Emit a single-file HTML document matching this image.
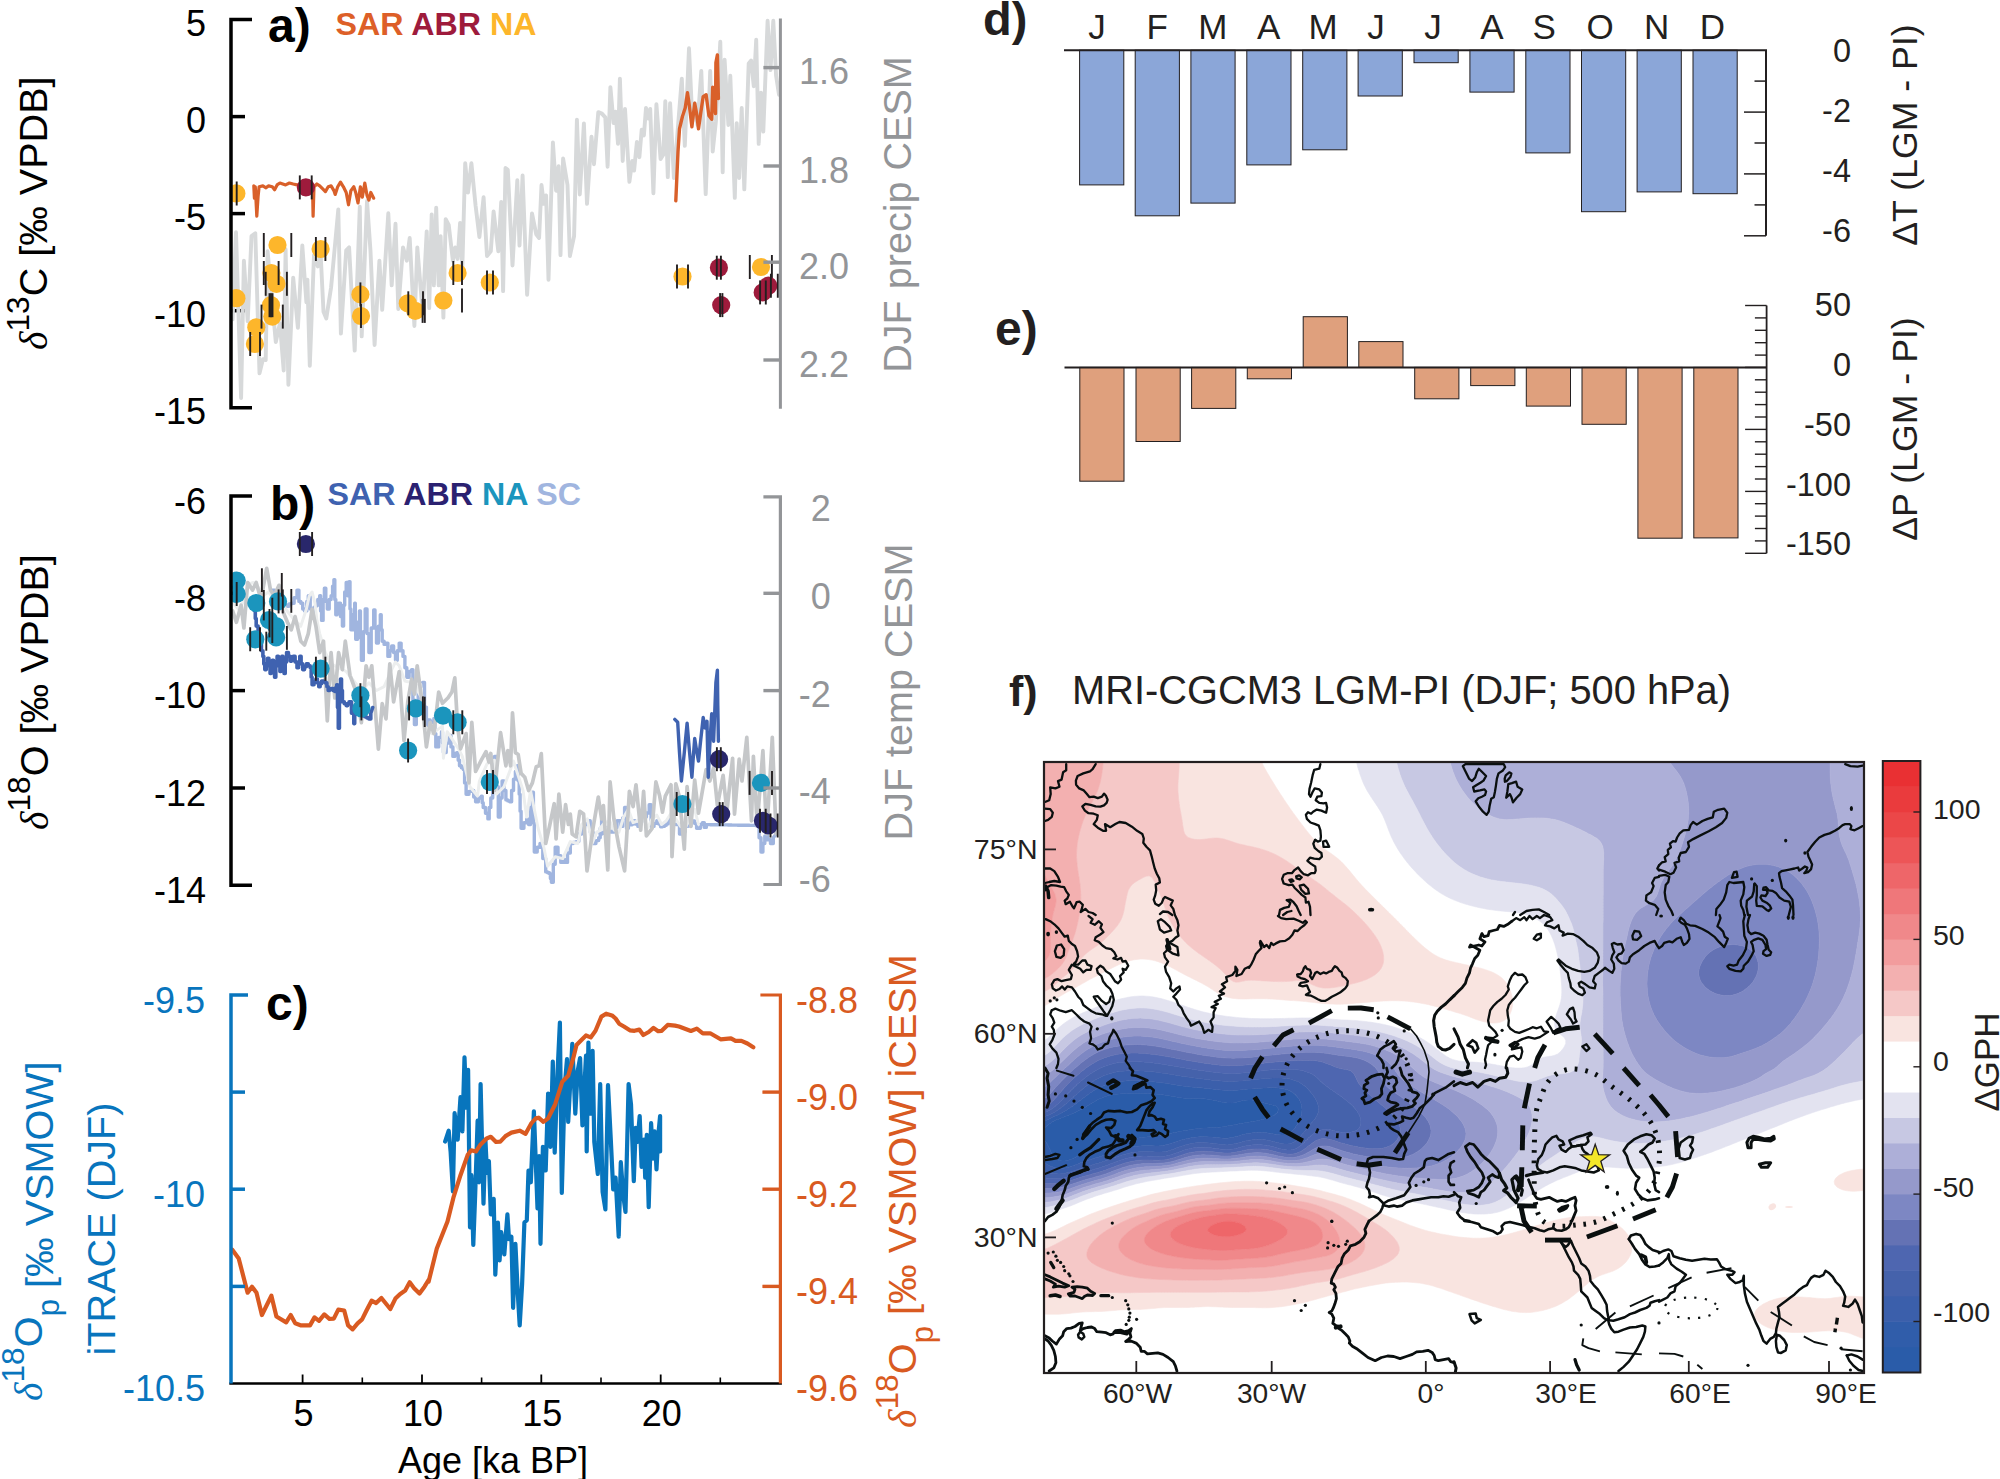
<!DOCTYPE html>
<html lang="en"><head><meta charset="utf-8"><title>Figure</title>
<style>
html,body{margin:0;padding:0;background:#fff;}
body{width:2000px;height:1479px;overflow:hidden;}
svg{display:block;}
text{white-space:pre;}
</style></head>
<body>
<svg width="2000" height="1479" viewBox="0 0 2000 1479">
<rect width="2000" height="1479" fill="#fff"/>
<g id="panel-a">
<clipPath id="clipA"><rect x="232.2" y="0" width="549.9" height="440"/></clipPath>
<line x1="231.0" y1="116.6" x2="245.0" y2="116.6" stroke="#000" stroke-width="3.5" stroke-linecap="butt"/>
<line x1="231.0" y1="213.6" x2="245.0" y2="213.6" stroke="#000" stroke-width="3.5" stroke-linecap="butt"/>
<line x1="231.0" y1="310.7" x2="245.0" y2="310.7" stroke="#000" stroke-width="3.5" stroke-linecap="butt"/>
<g clip-path="url(#clipA)">
<polyline points="232.6,319.4 236.0,232.3 241.1,398.0 243.9,260.7 247.7,321.3 251.5,236.1 255.3,233.2 259.5,373.4 262.9,359.2 265.7,360.1 267.6,251.2 275.8,342.1 279.9,323.2 283.7,370.5 285.6,249.3 288.4,384.7 293.2,277.7 297.9,327.9 302.3,245.5 306.4,302.3 307.4,279.6 309.8,365.8 314.0,255.0 317.8,266.4 320.6,253.1 323.5,311.8 326.3,318.4 331.1,287.2 338.3,209.5 340.9,333.6 346.2,250.3 349.1,247.4 354.7,350.6 359.8,206.7 361.7,336.4 367.0,201.0 370.5,251.2 374.6,345.0 379.4,260.7 382.2,309.9 388.3,213.3 391.7,285.3 395.5,223.8 398.3,309.0 403.0,247.4 406.8,260.7 409.7,238.0 414.4,326.0 417.3,247.5 422.6,311.9 426.7,231.4 429.2,308.1 431.7,214.4 433.9,285.4 436.2,207.7 438.7,285.4 440.6,236.1 443.4,317.6 445.7,219.1 448.7,224.8 452.9,260.8 455.2,247.5 457.6,258.9 460.1,222.9 462.3,268.3 465.2,163.2 468.0,192.6 471.4,163.2 475.6,205.8 479.4,237.1 483.6,197.3 487.0,256.0 490.8,251.3 493.6,211.5 498.3,251.3 501.2,202.0 503.1,291.1 505.5,168.0 507.8,169.8 512.5,265.5 517.3,180.3 519.5,245.6 522.6,175.5 527.1,294.8 532.0,213.4 536.2,234.2 539.1,238.0 541.5,185.0 543.8,203.9 546.1,195.4 548.5,279.7 552.9,142.4 556.1,190.7 558.6,166.1 560.5,255.1 563.1,158.5 567.5,185.0 569.9,256.0 574.1,236.1 576.9,119.7 579.8,194.5 583.9,123.4 587.0,203.9 591.5,136.7 594.0,164.2 598.3,112.1 601.9,113.6 605.3,117.4 607.6,166.7 610.4,87.1 613.6,123.1 615.5,111.7 618.0,143.9 619.9,78.6 622.7,161.0 625.0,108.9 629.4,181.8 632.2,161.0 634.1,170.5 636.9,142.0 639.4,157.2 641.7,129.7 643.9,135.4 646.0,108.0 648.3,118.4 650.2,108.9 653.4,193.2 656.4,104.2 660.6,159.1 663.4,154.4 665.3,101.3 667.8,177.1 670.1,103.2 673.9,178.0 681.8,78.6 684.8,145.8 689.0,48.3 692.4,121.2 694.7,103.2 697.5,125.0 701.3,71.0 705.7,194.1 710.2,71.0 712.7,151.5 715.9,121.2 720.3,41.7 722.7,172.3 724.6,59.7 728.4,125.0 730.3,75.8 734.8,197.9 736.7,123.1 739.2,178.0 741.7,108.0 744.3,189.4 748.7,63.4 751.1,60.6 753.8,86.2 756.2,39.8 758.7,143.9 761.0,92.8 763.3,131.6 767.6,20.8 770.5,70.1 773.3,20.8 776.1,75.8 779.0,94.7" fill="none" stroke="#d7d9da" stroke-width="3.9" stroke-linejoin="round" stroke-linecap="round" />
<polyline points="253.8,185.9 254.4,198.2 255.3,186.8 256.8,216.2 258.1,196.3 259.1,186.8 262.9,185.9 265.7,187.8 268.6,185.9 272.3,186.8 274.6,189.7 277.1,184.9 279.9,183.0 282.8,184.0 285.6,184.9 289.4,183.0 293.2,184.0 297.0,184.9 300.8,185.9 306.4,185.9 311.2,184.9 312.5,186.8 313.1,216.2 314.0,186.8 316.9,184.0 319.7,185.9 322.5,188.7 325.4,191.6 328.2,186.8 331.1,185.9 333.9,190.6 335.2,194.4 337.7,186.8 340.5,182.1 343.4,186.8 346.2,192.5 348.5,204.8 350.9,190.6 353.8,186.8 355.7,192.5 358.0,202.9 360.4,186.8 362.3,197.2 364.8,183.0 367.0,195.3 368.9,200.1 370.8,192.5 373.7,198.2" fill="none" stroke="#d9602a" stroke-width="3.2" stroke-linejoin="round" stroke-linecap="round" />
<polyline points="675.8,200.8 676.9,176.1 678.0,151.5 679.5,128.8 682.4,116.5 685.2,108.0 687.5,92.8 689.4,106.1 691.9,126.9 694.7,103.2 696.6,113.6 698.5,128.8 700.9,111.7 703.2,96.6 706.1,94.7 707.6,106.1 708.9,115.5 711.7,119.3 712.7,87.1 714.2,102.3 715.5,113.6 715.9,62.5 717.4,54.9 718.4,98.5" fill="none" stroke="#d9602a" stroke-width="3.4" stroke-linejoin="round" stroke-linecap="round" />
<circle cx="236.4" cy="193.4" r="9.1" fill="#fdb62b"/>
<circle cx="277.5" cy="245.0" r="9.1" fill="#fdb62b"/>
<circle cx="320.6" cy="249.0" r="9.1" fill="#fdb62b"/>
<circle cx="271.4" cy="273.0" r="9.1" fill="#fdb62b"/>
<circle cx="276.5" cy="283.8" r="9.1" fill="#fdb62b"/>
<circle cx="236.4" cy="298.2" r="9.1" fill="#fdb62b"/>
<circle cx="271.0" cy="305.2" r="9.1" fill="#fdb62b"/>
<circle cx="272.3" cy="316.6" r="9.1" fill="#fdb62b"/>
<circle cx="256.3" cy="327.3" r="9.1" fill="#fdb62b"/>
<circle cx="254.9" cy="344.0" r="9.1" fill="#fdb62b"/>
<circle cx="360.4" cy="294.4" r="9.1" fill="#fdb62b"/>
<circle cx="361.0" cy="316.0" r="9.1" fill="#fdb62b"/>
<circle cx="407.8" cy="303.3" r="9.1" fill="#fdb62b"/>
<circle cx="415.3" cy="310.9" r="9.1" fill="#fdb62b"/>
<circle cx="443.4" cy="300.5" r="9.1" fill="#fdb62b"/>
<circle cx="457.6" cy="273.0" r="9.1" fill="#fdb62b"/>
<circle cx="489.8" cy="282.5" r="9.1" fill="#fdb62b"/>
<circle cx="682.5" cy="276.5" r="9.1" fill="#fdb62b"/>
<circle cx="761.0" cy="267.0" r="9.1" fill="#fdb62b"/>
<line x1="236.7" y1="181.4" x2="236.7" y2="205.4" stroke="#231f20" stroke-width="1.9" stroke-linecap="butt"/>
<line x1="263.8" y1="233.0" x2="263.8" y2="257.0" stroke="#231f20" stroke-width="1.9" stroke-linecap="butt"/>
<line x1="291.3" y1="233.0" x2="291.3" y2="257.0" stroke="#231f20" stroke-width="1.9" stroke-linecap="butt"/>
<line x1="315.9" y1="237.0" x2="315.9" y2="261.0" stroke="#231f20" stroke-width="1.9" stroke-linecap="butt"/>
<line x1="325.4" y1="237.0" x2="325.4" y2="261.0" stroke="#231f20" stroke-width="1.9" stroke-linecap="butt"/>
<line x1="263.8" y1="261.0" x2="263.8" y2="285.0" stroke="#231f20" stroke-width="1.9" stroke-linecap="butt"/>
<line x1="278.6" y1="261.0" x2="278.6" y2="285.0" stroke="#231f20" stroke-width="1.9" stroke-linecap="butt"/>
<line x1="265.7" y1="271.8" x2="265.7" y2="295.8" stroke="#231f20" stroke-width="1.9" stroke-linecap="butt"/>
<line x1="286.9" y1="271.8" x2="286.9" y2="295.8" stroke="#231f20" stroke-width="1.9" stroke-linecap="butt"/>
<line x1="269.5" y1="293.2" x2="269.5" y2="317.2" stroke="#231f20" stroke-width="1.9" stroke-linecap="butt"/>
<line x1="271.0" y1="293.2" x2="271.0" y2="317.2" stroke="#231f20" stroke-width="1.9" stroke-linecap="butt"/>
<line x1="272.5" y1="293.2" x2="272.5" y2="317.2" stroke="#231f20" stroke-width="1.9" stroke-linecap="butt"/>
<line x1="261.5" y1="304.6" x2="261.5" y2="328.6" stroke="#231f20" stroke-width="1.9" stroke-linecap="butt"/>
<line x1="282.8" y1="304.6" x2="282.8" y2="328.6" stroke="#231f20" stroke-width="1.9" stroke-linecap="butt"/>
<line x1="250.2" y1="332.0" x2="250.2" y2="356.0" stroke="#231f20" stroke-width="1.9" stroke-linecap="butt"/>
<line x1="260.0" y1="332.0" x2="260.0" y2="356.0" stroke="#231f20" stroke-width="1.9" stroke-linecap="butt"/>
<line x1="360.4" y1="282.4" x2="360.4" y2="306.4" stroke="#231f20" stroke-width="1.9" stroke-linecap="butt"/>
<line x1="361.0" y1="304.0" x2="361.0" y2="328.0" stroke="#231f20" stroke-width="1.9" stroke-linecap="butt"/>
<line x1="408.3" y1="291.3" x2="408.3" y2="315.3" stroke="#231f20" stroke-width="1.9" stroke-linecap="butt"/>
<line x1="423.0" y1="291.3" x2="423.0" y2="315.3" stroke="#231f20" stroke-width="1.9" stroke-linecap="butt"/>
<line x1="422.6" y1="298.9" x2="422.6" y2="322.9" stroke="#231f20" stroke-width="1.9" stroke-linecap="butt"/>
<line x1="424.8" y1="298.9" x2="424.8" y2="322.9" stroke="#231f20" stroke-width="1.9" stroke-linecap="butt"/>
<line x1="462.0" y1="288.5" x2="462.0" y2="312.5" stroke="#231f20" stroke-width="1.9" stroke-linecap="butt"/>
<line x1="453.3" y1="261.0" x2="453.3" y2="285.0" stroke="#231f20" stroke-width="1.9" stroke-linecap="butt"/>
<line x1="462.0" y1="261.0" x2="462.0" y2="285.0" stroke="#231f20" stroke-width="1.9" stroke-linecap="butt"/>
<line x1="487.0" y1="270.5" x2="487.0" y2="294.5" stroke="#231f20" stroke-width="1.9" stroke-linecap="butt"/>
<line x1="493.0" y1="270.5" x2="493.0" y2="294.5" stroke="#231f20" stroke-width="1.9" stroke-linecap="butt"/>
<line x1="677.0" y1="264.5" x2="677.0" y2="288.5" stroke="#231f20" stroke-width="1.9" stroke-linecap="butt"/>
<line x1="688.0" y1="264.5" x2="688.0" y2="288.5" stroke="#231f20" stroke-width="1.9" stroke-linecap="butt"/>
<line x1="749.8" y1="255.0" x2="749.8" y2="279.0" stroke="#231f20" stroke-width="1.9" stroke-linecap="butt"/>
<line x1="771.9" y1="255.0" x2="771.9" y2="279.0" stroke="#231f20" stroke-width="1.9" stroke-linecap="butt"/>
<circle cx="305.9" cy="187.4" r="9.1" fill="#9e1b3c"/>
<circle cx="718.9" cy="267.7" r="9.1" fill="#9e1b3c"/>
<circle cx="721.2" cy="305.1" r="9.1" fill="#9e1b3c"/>
<circle cx="768.3" cy="285.7" r="9.1" fill="#9e1b3c"/>
<circle cx="762.7" cy="292.4" r="9.1" fill="#9e1b3c"/>
<line x1="299.8" y1="175.4" x2="299.8" y2="199.4" stroke="#231f20" stroke-width="1.9" stroke-linecap="butt"/>
<line x1="311.7" y1="175.4" x2="311.7" y2="199.4" stroke="#231f20" stroke-width="1.9" stroke-linecap="butt"/>
<line x1="716.8" y1="255.7" x2="716.8" y2="279.7" stroke="#231f20" stroke-width="1.9" stroke-linecap="butt"/>
<line x1="720.9" y1="255.7" x2="720.9" y2="279.7" stroke="#231f20" stroke-width="1.9" stroke-linecap="butt"/>
<line x1="720.1" y1="293.1" x2="720.1" y2="317.1" stroke="#231f20" stroke-width="1.9" stroke-linecap="butt"/>
<line x1="722.4" y1="293.1" x2="722.4" y2="317.1" stroke="#231f20" stroke-width="1.9" stroke-linecap="butt"/>
<line x1="770.9" y1="273.7" x2="770.9" y2="297.7" stroke="#231f20" stroke-width="1.9" stroke-linecap="butt"/>
<line x1="777.8" y1="273.7" x2="777.8" y2="297.7" stroke="#231f20" stroke-width="1.9" stroke-linecap="butt"/>
<line x1="760.1" y1="280.4" x2="760.1" y2="304.4" stroke="#231f20" stroke-width="1.9" stroke-linecap="butt"/>
<line x1="765.8" y1="280.4" x2="765.8" y2="304.4" stroke="#231f20" stroke-width="1.9" stroke-linecap="butt"/>
</g>
<path d="M252.0,19.6 H231.0 V407.7 H252.0" fill="none" stroke="#000" stroke-width="3.5"/>
<text x="206.0" y="36.1" font-family='"Liberation Sans", sans-serif' font-size="36" fill="#000" text-anchor="end" font-weight="normal" >5</text>
<text x="206.0" y="133.1" font-family='"Liberation Sans", sans-serif' font-size="36" fill="#000" text-anchor="end" font-weight="normal" >0</text>
<text x="206.0" y="230.1" font-family='"Liberation Sans", sans-serif' font-size="36" fill="#000" text-anchor="end" font-weight="normal" >-5</text>
<text x="206.0" y="327.2" font-family='"Liberation Sans", sans-serif' font-size="36" fill="#000" text-anchor="end" font-weight="normal" >-10</text>
<text x="206.0" y="424.2" font-family='"Liberation Sans", sans-serif' font-size="36" fill="#000" text-anchor="end" font-weight="normal" >-15</text>
<line x1="780.4" y1="18.6" x2="780.4" y2="408.7" stroke="#939598" stroke-width="3.0" stroke-linecap="butt"/>
<line x1="763.4" y1="67.6" x2="780.4" y2="67.6" stroke="#939598" stroke-width="3.4" stroke-linecap="butt"/>
<text x="799.0" y="84.1" font-family='"Liberation Sans", sans-serif' font-size="36" fill="#939598" text-anchor="start" font-weight="normal" >1.6</text>
<line x1="763.4" y1="166.0" x2="780.4" y2="166.0" stroke="#939598" stroke-width="3.4" stroke-linecap="butt"/>
<text x="799.0" y="182.5" font-family='"Liberation Sans", sans-serif' font-size="36" fill="#939598" text-anchor="start" font-weight="normal" >1.8</text>
<line x1="763.4" y1="262.2" x2="780.4" y2="262.2" stroke="#939598" stroke-width="3.4" stroke-linecap="butt"/>
<text x="799.0" y="278.7" font-family='"Liberation Sans", sans-serif' font-size="36" fill="#939598" text-anchor="start" font-weight="normal" >2.0</text>
<line x1="763.4" y1="360.0" x2="780.4" y2="360.0" stroke="#939598" stroke-width="3.4" stroke-linecap="butt"/>
<text x="799.0" y="376.5" font-family='"Liberation Sans", sans-serif' font-size="36" fill="#939598" text-anchor="start" font-weight="normal" >2.2</text>
<text transform="translate(910.8,214.5) rotate(-90)" font-family='"Liberation Sans", sans-serif' font-size="39.6" fill="#939598" text-anchor="middle" font-weight="normal">DJF precip CESM</text>
<text transform="translate(46.5,350.0) rotate(-90)" font-family='"Liberation Sans", sans-serif' font-size="39.6" fill="#000"><tspan font-family='"Liberation Serif", serif' font-style="italic" font-size="39.6">δ</tspan><tspan font-size="31.7" dy="-18">13</tspan><tspan dy="18">C</tspan><tspan> [‰ VPDB]</tspan></text>
<text x="268.0" y="41.5" font-family='"Liberation Sans", sans-serif' font-size="48" fill="#000" text-anchor="start" font-weight="bold" >a)</text>
<text x="335.5" y="34.8" font-family='"Liberation Sans", sans-serif' font-size="32.2" fill="#000" text-anchor="start" font-weight="bold" ><tspan fill="#dd5f28">SAR</tspan> <tspan fill="#9e1b3c">ABR</tspan> <tspan fill="#fdb62b">NA</tspan></text>
</g>
<g id="panel-b">
<clipPath id="clipB"><rect x="232.2" y="470" width="549.9" height="440"/></clipPath>
<line x1="231.0" y1="593.3" x2="245.0" y2="593.3" stroke="#000" stroke-width="3.5" stroke-linecap="butt"/>
<line x1="231.0" y1="690.6" x2="245.0" y2="690.6" stroke="#000" stroke-width="3.5" stroke-linecap="butt"/>
<line x1="231.0" y1="788.0" x2="245.0" y2="788.0" stroke="#000" stroke-width="3.5" stroke-linecap="butt"/>
<g clip-path="url(#clipB)">
<polyline points="271.4,590.1 274.6,590.1 274.6,597.7 278.0,597.7 278.0,599.5 279.9,599.5 279.9,599.8 281.8,599.8 281.8,603.3 284.2,603.3 284.2,605.0 286.6,605.0 286.6,606.2 289.0,606.2 289.0,604.0 291.3,604.0 291.3,603.3 294.1,603.3 294.1,597.7 297.0,597.7 297.0,590.1 298.9,590.1 298.9,601.4 300.8,601.4 300.8,603.3 302.7,603.3 302.7,609.0 304.5,609.0 304.5,610.9 306.8,610.9 306.8,601.4 308.3,601.4 308.3,595.8 310.2,595.8 310.2,609.0 312.1,609.0 312.1,614.7 314.0,614.7 314.0,607.1 315.9,607.1 315.9,605.2 317.8,605.2 317.8,599.5 319.7,599.5 319.7,595.8 320.6,595.8 320.6,610.9 321.6,610.9 321.6,620.4 323.1,620.4 323.1,599.5 324.4,599.5 324.4,588.2 325.8,588.2 325.8,601.4 327.3,601.4 327.3,609.0 329.2,609.0 329.2,599.5 331.1,599.5 331.1,595.8 332.6,595.8 332.6,586.3 333.9,586.3 333.9,579.7 334.8,579.7 334.8,599.5 335.8,599.5 335.8,614.7 337.1,614.7 337.1,605.2 338.6,605.2 338.6,603.3 340.5,603.3 340.5,616.6 342.4,616.6 342.4,626.1 343.6,626.1 343.6,605.2 344.7,605.2 344.7,592.0 346.2,592.0 346.2,582.5 347.7,582.5 347.7,595.8 349.1,595.8 349.1,581.6 350.0,581.6 350.0,609.0 350.9,609.0 350.9,629.8 352.8,629.8 352.8,614.7 354.7,614.7 354.7,603.3 355.3,603.3 355.3,626.1 355.7,626.1 355.7,639.3 357.6,639.3 357.6,622.3 359.5,622.3 359.5,610.9 360.4,610.9 360.4,637.4 361.4,637.4 361.4,660.2 363.3,660.2 363.3,631.7 365.2,631.7 365.2,609.0 367.0,609.0 367.0,633.6 368.9,633.6 368.9,652.6 371.2,652.6 371.2,628.0 373.7,628.0 373.7,610.0 375.0,610.0 375.0,628.0 376.5,628.0 376.5,643.1 378.4,643.1 378.4,626.1 380.3,626.1 380.3,614.7 381.2,614.7 381.2,629.8 382.2,629.8 382.2,641.2 384.1,641.2 384.1,644.4 386.0,644.4 386.0,643.1 387.9,643.1 387.9,656.4 389.8,656.4 389.8,650.7 391.7,650.7 391.7,645.9 393.6,645.9 393.6,652.6 395.5,652.6 395.5,660.2 397.3,660.2 397.3,650.7 399.2,650.7 399.2,643.1 401.1,643.1 401.1,650.7 403.0,650.7 403.0,656.4 404.9,656.4 404.9,667.7 406.8,667.7 406.8,677.2 409.1,677.2 409.1,671.5 411.6,671.5 411.6,669.6 412.9,669.6 412.9,699.9 414.4,699.9 414.4,724.5 416.3,724.5 416.3,701.8 418.2,701.8 418.2,686.7 420.4,686.7 420.4,686.1 422.6,686.1 422.6,682.5 424.5,682.5 424.5,707.1 426.4,707.1 426.4,728.0 428.3,728.0 428.3,719.9 430.2,719.9 430.2,722.3 433.9,722.3 433.9,718.5 434.9,718.5 434.9,733.6 435.8,733.6 435.8,746.9 438.7,746.9 438.7,737.4 441.5,737.4 441.5,731.7 442.5,731.7 442.5,743.1 443.4,743.1 443.4,752.6 446.2,752.6 446.2,743.1 449.1,743.1 449.1,735.5 451.0,735.5 451.0,746.9 452.9,746.9 452.9,756.4 454.8,756.4 454.8,753.5 456.7,753.5 456.7,752.6 458.2,752.6 458.2,760.2 459.5,760.2 459.5,765.8 461.4,765.8 461.4,767.7 463.3,767.7 463.3,769.6 464.6,769.6 464.6,782.9 466.1,782.9 466.1,794.2 469.0,794.2 469.0,791.4 471.8,791.4 471.8,790.5 473.7,790.5 473.7,797.1 475.6,797.1 475.6,801.8 478.4,801.8 478.4,798.0 481.3,798.0 481.3,796.1 482.2,796.1 482.2,802.8 483.2,802.8 483.2,807.5 485.5,807.5 485.5,813.2 487.9,813.2 487.9,818.9 489.2,818.9 489.2,807.5 490.8,807.5 490.8,798.0 492.7,798.0 492.7,777.2 494.5,777.2 494.5,756.4 496.4,756.4 496.4,786.7 498.3,786.7 498.3,817.0 500.2,817.0 500.2,798.0 502.1,798.0 502.1,781.0 504.0,781.0 504.0,790.5 505.9,790.5 505.9,799.9 507.8,799.9 507.8,800.9 509.7,800.9 509.7,801.8 511.6,801.8 511.6,790.5 513.5,790.5 513.5,779.1 515.4,779.1 515.4,771.5 517.3,771.5 517.3,765.8 518.2,765.8 518.2,781.0 519.2,781.0 519.2,794.2 520.1,794.2 520.1,811.3 521.1,811.3 521.1,828.3 523.9,828.3 523.9,822.7 526.7,822.7 526.7,818.9 527.7,818.9 527.7,822.7 528.6,822.7 528.6,824.5 530.5,824.5 530.5,807.5 532.4,807.5 532.4,792.3 533.4,792.3 533.4,822.7 534.3,822.7 534.3,852.0 537.2,852.0 537.2,847.3 540.0,847.3 540.0,843.5 542.8,843.5 542.8,858.6 545.7,858.6 545.7,871.9 547.6,871.9 547.6,872.8 549.5,872.8 549.5,873.8 550.4,873.8 550.4,878.5 551.4,878.5 551.4,882.3 553.3,882.3 553.3,864.3 555.2,864.3 555.2,847.3 558.0,847.3 558.0,855.8 560.8,855.8 560.8,862.4 562.7,862.4 562.7,859.5 564.6,859.5 564.6,862.4 567.5,862.4 567.5,853.0 570.3,853.0 570.3,843.5 573.1,843.5 573.1,842.5 576.0,842.5 576.0,841.6 578.8,841.6 578.8,834.0 581.7,834.0 581.7,828.3 584.5,828.3 584.5,824.5 587.3,824.5 587.3,820.8 590.2,820.8 590.2,832.1 593.0,832.1 593.0,843.5 595.9,843.5 595.9,840.6 598.7,840.6 598.7,837.8 600.2,837.8 600.2,828.3 601.6,828.3 601.6,818.9 602.9,818.9 602.9,826.4 604.4,826.4 604.4,832.1 606.3,832.1 606.3,833.5 608.2,833.5 608.2,829.4 610.1,829.4 610.1,830.2 612.5,830.2 612.5,827.7 615.0,827.7 615.0,828.3 612.9,828.3 612.9,832.1 610.7,832.1 610.7,829.8 608.6,829.8 608.6,832.8 606.4,832.8 606.4,831.4 604.3,831.4 604.3,833.2 602.1,833.2 602.1,831.1 600.0,831.1 600.0,834.0 601.9,834.0 601.9,832.9 603.8,832.9 603.8,832.4 605.7,832.4 605.7,828.3 608.5,828.3 608.5,830.3 611.4,830.3 611.4,832.1 614.2,832.1 614.2,827.9 617.0,827.9 617.0,820.8 620.8,820.8 620.8,826.4 622.7,826.4 622.7,818.0 624.6,818.0 624.6,807.5 626.5,807.5 626.5,828.3 628.4,828.3 628.4,823.2 630.3,823.2 630.3,824.8 632.2,824.8 632.2,820.8 635.0,820.8 635.0,824.1 637.9,824.1 637.9,826.4 639.8,826.4 639.8,822.1 641.7,822.1 641.7,817.3 643.6,817.3 643.6,817.0 646.4,817.0 646.4,813.0 649.2,813.0 649.2,804.7 651.1,804.7 651.1,826.4 654.0,826.4 654.0,823.4 656.8,823.4 656.8,820.8 658.7,820.8 658.7,824.0 660.6,824.0 660.6,826.8 662.5,826.8 662.5,826.4 664.4,826.4 664.4,825.2 666.3,825.2 666.3,823.9 668.2,823.9 668.2,818.9 670.7,818.9 670.7,820.1 673.3,820.1 673.3,824.4 675.8,824.4 675.8,824.5 679.5,824.5 679.5,834.0 681.4,834.0 681.4,831.1 683.3,831.1 683.3,831.5 685.2,831.5 685.2,826.4 688.0,826.4 688.0,825.9 690.9,825.9 690.9,820.8 692.8,820.8 692.8,820.9 694.7,820.9 694.7,823.6 696.6,823.6 696.6,828.3 698.5,828.3 698.5,828.3 700.4,828.3 700.4,824.5 702.4,824.5 702.4,822.8 704.3,822.8 704.3,827.4 706.3,827.4 706.3,824.6 708.2,824.6 708.2,824.6 710.2,824.6 710.2,824.7 712.2,824.7 712.2,824.7 714.1,824.7 714.1,824.7 716.1,824.7 716.1,824.8 718.0,824.8 718.0,824.8 720.0,824.8 720.0,824.8 721.9,824.8 721.9,824.9 723.9,824.9 723.9,824.9 725.9,824.9 725.9,824.9 727.8,824.9 727.8,825.0 729.8,825.0 729.8,825.0 731.7,825.0 731.7,825.1 733.7,825.1 733.7,825.1 735.7,825.1 735.7,825.1 737.6,825.1 737.6,825.2 739.6,825.2 739.6,825.2 741.5,825.2 741.5,825.2 743.5,825.2 743.5,825.3 745.4,825.3 745.4,825.3 747.4,825.3 747.4,825.3 749.4,825.3 749.4,825.4 751.3,825.4 751.3,825.4 753.3,825.4 753.3,825.4 755.2,825.4 755.2,825.5 757.2,825.5 757.2,825.5 759.1,825.5 759.1,837.8 761.0,837.8 761.0,852.0 762.9,852.0 762.9,843.5 764.8,843.5 764.8,835.9 767.6,835.9 767.6,839.7 770.5,839.7 770.5,843.5 773.3,843.5 773.3,837.8 776.1,834.0" fill="none" stroke="#a0b5df" stroke-width="3.4" stroke-linejoin="round" stroke-linecap="round" stroke-linejoin="miter"/>
<polyline points="233.5,603.3 238.3,609.0 243.9,601.4 247.7,584.4 253.4,582.5 259.1,588.2 262.9,595.8 268.6,592.0 274.2,599.5 279.9,595.8 285.6,609.0 293.2,618.5 300.8,626.1 306.4,609.0 309.3,595.8 312.1,592.0 315.0,603.3 316.9,620.4 319.7,633.6 325.4,652.6 331.1,663.9 338.6,667.7 346.2,671.5 353.8,681.0 361.4,690.5 368.9,682.9 376.5,690.5 384.1,686.7 391.7,669.6 395.5,662.0 399.2,665.8 404.9,681.0 412.5,682.9 418.2,688.6 423.9,701.8 415.0,686.3 420.7,684.4 424.5,726.1 432.0,733.6 442.5,726.1 443.4,758.3 447.2,731.7 458.6,748.8 462.3,756.4 469.9,786.7 477.5,796.1 479.4,781.0 487.0,763.9 494.5,760.2 496.4,794.2 504.0,786.7 513.5,761.1 523.0,790.5 526.7,817.0 530.5,790.5 538.1,828.3 543.8,847.3 547.6,866.2 555.2,856.7 562.7,858.6 570.3,841.6 577.9,843.5 581.7,824.5 587.3,818.9 592.1,843.5 596.8,832.1 604.4,828.3 615.0,828.3 600.0,828.3 604.7,822.7 609.5,820.8 614.2,830.2 618.9,832.1 623.7,817.0 628.4,809.4 633.1,822.7 637.9,820.8 642.6,813.2 647.3,828.3 652.1,818.9 656.8,815.1 661.6,824.5 666.3,820.8 671.0,813.2 675.8,818.9 680.5,826.4 685.2,828.3 690.0,817.0 694.7,809.4 698.5,824.5" fill="none" stroke="#eceeee" stroke-width="3.0" stroke-linejoin="round" stroke-linecap="round" />
<polyline points="232.6,610.9 236.4,622.3 241.1,605.2 243.9,628.0 247.7,582.5 252.5,590.1 256.2,582.5 261.0,599.5 266.7,568.3 270.5,590.1 274.2,595.8 279.0,585.3 281.8,609.0 287.5,622.3 291.3,629.8 295.1,616.6 300.8,641.2 304.5,645.0 308.3,633.6 312.1,609.0 315.9,626.1 319.7,652.6 323.5,641.2 327.3,720.8 331.1,652.6 334.8,698.0 338.6,652.6 342.4,669.6 345.3,641.2 350.0,675.3 355.7,690.5 361.4,722.7 366.1,665.8 368.9,677.2 371.8,665.8 378.4,749.2 382.2,703.7 386.0,718.9 389.8,663.9 393.6,701.8 399.2,671.5 404.0,740.6 407.8,701.8 411.6,679.1 414.4,694.2 417.2,665.8 422.0,701.8 426.4,746.9 430.2,722.3 433.9,733.6 438.7,692.0 442.5,703.3 448.1,697.7 451.9,692.0 454.8,677.8 457.6,726.1 460.5,748.8 466.1,733.6 469.0,782.9 471.8,722.3 475.6,771.5 481.3,760.2 486.0,751.6 488.9,762.0 490.8,753.5 494.5,790.5 500.6,732.7 505.9,765.8 507.8,750.7 510.6,765.8 512.5,712.8 515.4,752.6 518.2,754.5 521.1,773.4 524.8,777.2 528.6,790.5 532.4,782.9 536.2,766.8 539.1,765.8 541.3,753.5 545.7,843.5 549.5,826.4 554.2,803.7 556.1,838.8 558.9,794.2 562.7,832.1 565.6,804.7 568.4,824.5 570.3,814.1 572.2,834.0 576.0,836.9 579.8,811.3 583.6,814.1 587.0,870.9 593.0,828.3 598.3,797.1 601.6,818.9 603.4,805.6 607.8,870.0 610.1,781.9 613.9,818.9 618.9,846.3 624.6,870.9 629.4,791.4 633.1,806.6 636.0,784.8 640.7,830.2 643.6,791.4 646.4,835.9 652.1,828.3 655.9,781.9 659.7,796.1 662.5,812.2 665.3,796.1 671.0,784.8 672.0,856.7 675.8,783.8 679.5,797.1 684.3,849.2 687.1,786.7 690.9,826.4 694.7,780.0 698.5,813.2 706.1,769.6 709.8,781.0 713.6,767.7 717.4,805.6 723.1,775.3 726.9,811.3 732.6,758.3 734.5,814.1 739.2,759.2 742.0,781.0 746.8,737.4 751.5,820.8 753.4,756.4 757.2,824.5 762.9,750.7 766.7,834.0 772.3,737.4 776.1,834.0" fill="none" stroke="#c5c7c9" stroke-width="3.7" stroke-linejoin="round" stroke-linecap="round" />
<polyline points="254.4,610.9 255.3,610.9 255.3,618.5 256.2,618.5 256.2,626.1 258.1,626.1 258.1,633.6 260.0,633.6 260.0,643.1 261.4,643.1 261.4,650.7 262.9,650.7 262.9,656.4 263.8,656.4 263.8,663.9 264.8,663.9 264.8,669.6 266.3,669.6 266.3,663.9 267.6,663.9 267.6,658.3 268.9,658.3 268.9,665.8 270.1,665.8 270.1,673.4 271.2,673.4 271.2,666.8 272.3,666.8 272.3,660.2 273.5,660.2 273.5,669.6 274.6,669.6 274.6,677.2 275.8,677.2 275.8,665.8 277.1,665.8 277.1,656.4 278.4,656.4 278.4,663.9 279.9,663.9 279.9,671.5 280.9,671.5 280.9,663.9 281.8,663.9 281.8,656.4 283.0,656.4 283.0,665.8 284.1,665.8 284.1,673.4 285.2,673.4 285.2,662.0 286.6,662.0 286.6,652.6 288.4,652.6 288.4,656.4 290.3,656.4 290.3,661.1 291.7,661.1 291.7,658.3 293.2,658.3 293.2,656.4 295.1,656.4 295.1,662.0 297.0,662.0 297.0,667.7 298.5,667.7 298.5,662.0 299.8,662.0 299.8,656.4 301.1,656.4 301.1,663.9 302.7,663.9 302.7,669.6 304.5,669.6 304.5,666.8 306.4,666.8 306.4,663.9 308.3,663.9 308.3,665.8 310.2,665.8 310.2,667.7 311.2,667.7 311.2,677.2 312.1,677.2 312.1,684.8 314.0,684.8 314.0,681.9 315.9,681.9 315.9,679.1 317.4,679.1 317.4,682.9 318.8,682.9 318.8,686.7 320.1,686.7 320.1,683.8 321.6,683.8 321.6,681.0 323.5,681.0 323.5,681.9 325.4,681.9 325.4,682.9 326.9,682.9 326.9,686.7 328.2,686.7 328.2,690.5 329.5,690.5 329.5,689.5 331.1,689.5 331.1,688.6 333.0,688.6 333.0,690.5 334.8,690.5 334.8,691.4 335.8,691.4 335.8,687.6 336.7,687.6 336.7,684.8 337.5,684.8 337.5,707.5 338.3,707.5 338.3,728.3 339.4,728.3 339.4,701.8 340.5,701.8 340.5,679.1 341.5,679.1 341.5,690.5 342.4,690.5 342.4,701.8 344.3,701.8 344.3,703.7 346.2,703.7 346.2,705.6 347.7,705.6 347.7,703.7 349.1,703.7 349.1,701.8 351.5,701.8 351.5,713.2 353.8,713.2 353.8,723.6 354.7,723.6 354.7,715.1 355.7,715.1 355.7,707.5 358.5,707.5 358.5,711.3 361.4,711.3 361.4,715.1 363.3,715.1 363.3,716.0 365.2,716.0 365.2,717.0 367.0,717.0 367.0,717.9 368.9,717.9 368.9,718.9 370.8,718.9 370.8,713.2 372.7,707.5" fill="none" stroke="#3f62b0" stroke-width="3.6" stroke-linejoin="round" stroke-linecap="round" />
<polyline points="674.8,719.4 677.7,722.3 679.5,752.6 681.4,781.0 684.3,752.6 687.1,723.2 689.4,750.7 691.9,777.2 693.2,758.3 694.7,738.4 696.6,750.7 698.5,761.1 700.8,739.3 703.2,717.5 705.1,728.0 707.0,721.3 707.6,750.7 708.3,777.2 709.8,745.0 711.7,713.8 712.7,728.0 713.6,741.2 714.8,710.9 715.9,682.5 717.4,670.2 717.8,705.2 718.4,741.2" fill="none" stroke="#3f62b0" stroke-width="3.4" stroke-linejoin="round" stroke-linecap="round" />
<circle cx="236.7" cy="580.6" r="9.1" fill="#1b95bd"/>
<circle cx="236.7" cy="593.9" r="9.1" fill="#1b95bd"/>
<circle cx="256.3" cy="603.0" r="9.1" fill="#1b95bd"/>
<circle cx="278.0" cy="601.4" r="9.1" fill="#1b95bd"/>
<circle cx="269.0" cy="620.0" r="9.1" fill="#1b95bd"/>
<circle cx="276.0" cy="626.0" r="9.1" fill="#1b95bd"/>
<circle cx="276.1" cy="637.4" r="9.1" fill="#1b95bd"/>
<circle cx="255.3" cy="639.3" r="9.1" fill="#1b95bd"/>
<circle cx="320.6" cy="668.7" r="9.1" fill="#1b95bd"/>
<circle cx="360.4" cy="695.2" r="9.1" fill="#1b95bd"/>
<circle cx="361.4" cy="708.4" r="9.1" fill="#1b95bd"/>
<circle cx="415.9" cy="708.4" r="9.1" fill="#1b95bd"/>
<circle cx="408.1" cy="750.5" r="9.1" fill="#1b95bd"/>
<circle cx="443.0" cy="715.6" r="9.1" fill="#1b95bd"/>
<circle cx="457.6" cy="722.3" r="9.1" fill="#1b95bd"/>
<circle cx="489.8" cy="782.0" r="9.1" fill="#1b95bd"/>
<circle cx="682.4" cy="804.0" r="9.1" fill="#1b95bd"/>
<circle cx="761.0" cy="782.9" r="9.1" fill="#1b95bd"/>
<line x1="236.7" y1="581.9" x2="236.7" y2="605.9" stroke="#231f20" stroke-width="1.9" stroke-linecap="butt"/>
<line x1="278.6" y1="589.4" x2="278.6" y2="613.4" stroke="#231f20" stroke-width="1.9" stroke-linecap="butt"/>
<line x1="282.8" y1="589.4" x2="282.8" y2="613.4" stroke="#231f20" stroke-width="1.9" stroke-linecap="butt"/>
<line x1="250.2" y1="627.3" x2="250.2" y2="651.3" stroke="#231f20" stroke-width="1.9" stroke-linecap="butt"/>
<line x1="260.0" y1="627.3" x2="260.0" y2="651.3" stroke="#231f20" stroke-width="1.9" stroke-linecap="butt"/>
<line x1="315.9" y1="656.7" x2="315.9" y2="680.7" stroke="#231f20" stroke-width="1.9" stroke-linecap="butt"/>
<line x1="325.4" y1="656.7" x2="325.4" y2="680.7" stroke="#231f20" stroke-width="1.9" stroke-linecap="butt"/>
<line x1="360.4" y1="683.2" x2="360.4" y2="707.2" stroke="#231f20" stroke-width="1.9" stroke-linecap="butt"/>
<line x1="361.4" y1="696.4" x2="361.4" y2="720.4" stroke="#231f20" stroke-width="1.9" stroke-linecap="butt"/>
<line x1="409.1" y1="696.4" x2="409.1" y2="720.4" stroke="#231f20" stroke-width="1.9" stroke-linecap="butt"/>
<line x1="422.9" y1="696.4" x2="422.9" y2="720.4" stroke="#231f20" stroke-width="1.9" stroke-linecap="butt"/>
<line x1="408.1" y1="738.5" x2="408.1" y2="762.5" stroke="#231f20" stroke-width="1.9" stroke-linecap="butt"/>
<line x1="453.3" y1="710.3" x2="453.3" y2="734.3" stroke="#231f20" stroke-width="1.9" stroke-linecap="butt"/>
<line x1="462.3" y1="710.3" x2="462.3" y2="734.3" stroke="#231f20" stroke-width="1.9" stroke-linecap="butt"/>
<line x1="487.0" y1="770.0" x2="487.0" y2="794.0" stroke="#231f20" stroke-width="1.9" stroke-linecap="butt"/>
<line x1="493.0" y1="770.0" x2="493.0" y2="794.0" stroke="#231f20" stroke-width="1.9" stroke-linecap="butt"/>
<line x1="676.7" y1="792.0" x2="676.7" y2="816.0" stroke="#231f20" stroke-width="1.9" stroke-linecap="butt"/>
<line x1="688.0" y1="792.0" x2="688.0" y2="816.0" stroke="#231f20" stroke-width="1.9" stroke-linecap="butt"/>
<line x1="749.6" y1="770.9" x2="749.6" y2="794.9" stroke="#231f20" stroke-width="1.9" stroke-linecap="butt"/>
<line x1="772.0" y1="770.9" x2="772.0" y2="794.9" stroke="#231f20" stroke-width="1.9" stroke-linecap="butt"/>
<circle cx="305.9" cy="544.0" r="9.1" fill="#29276b"/>
<circle cx="719.0" cy="759.2" r="9.1" fill="#29276b"/>
<circle cx="721.2" cy="814.1" r="9.1" fill="#29276b"/>
<circle cx="762.9" cy="820.8" r="9.1" fill="#29276b"/>
<circle cx="768.6" cy="825.5" r="9.1" fill="#29276b"/>
<line x1="299.8" y1="532.0" x2="299.8" y2="556.0" stroke="#231f20" stroke-width="1.9" stroke-linecap="butt"/>
<line x1="312.1" y1="532.0" x2="312.1" y2="556.0" stroke="#231f20" stroke-width="1.9" stroke-linecap="butt"/>
<line x1="716.9" y1="747.2" x2="716.9" y2="771.2" stroke="#231f20" stroke-width="1.9" stroke-linecap="butt"/>
<line x1="720.8" y1="747.2" x2="720.8" y2="771.2" stroke="#231f20" stroke-width="1.9" stroke-linecap="butt"/>
<line x1="719.7" y1="802.1" x2="719.7" y2="826.1" stroke="#231f20" stroke-width="1.9" stroke-linecap="butt"/>
<line x1="722.7" y1="802.1" x2="722.7" y2="826.1" stroke="#231f20" stroke-width="1.9" stroke-linecap="butt"/>
<line x1="760.0" y1="808.8" x2="760.0" y2="832.8" stroke="#231f20" stroke-width="1.9" stroke-linecap="butt"/>
<line x1="765.7" y1="808.8" x2="765.7" y2="832.8" stroke="#231f20" stroke-width="1.9" stroke-linecap="butt"/>
<line x1="770.5" y1="813.5" x2="770.5" y2="837.5" stroke="#231f20" stroke-width="1.9" stroke-linecap="butt"/>
<line x1="777.7" y1="813.5" x2="777.7" y2="837.5" stroke="#231f20" stroke-width="1.9" stroke-linecap="butt"/>
<line x1="261.9" y1="568.3" x2="261.9" y2="592.0" stroke="#231f20" stroke-width="1.9" stroke-linecap="butt"/>
<line x1="263.8" y1="590.0" x2="263.8" y2="620.4" stroke="#231f20" stroke-width="1.9" stroke-linecap="butt"/>
<line x1="266.3" y1="631.7" x2="266.3" y2="650.7" stroke="#231f20" stroke-width="1.9" stroke-linecap="butt"/>
<line x1="269.5" y1="609.0" x2="269.5" y2="637.4" stroke="#231f20" stroke-width="1.9" stroke-linecap="butt"/>
<line x1="272.3" y1="597.7" x2="272.3" y2="643.1" stroke="#231f20" stroke-width="1.9" stroke-linecap="butt"/>
<line x1="281.8" y1="573.0" x2="281.8" y2="596.6" stroke="#231f20" stroke-width="1.9" stroke-linecap="butt"/>
<line x1="286.9" y1="626.0" x2="286.9" y2="649.8" stroke="#231f20" stroke-width="1.9" stroke-linecap="butt"/>
<line x1="291.3" y1="589.0" x2="291.3" y2="612.8" stroke="#231f20" stroke-width="1.9" stroke-linecap="butt"/>
<line x1="424.7" y1="696.7" x2="424.7" y2="727.0" stroke="#231f20" stroke-width="1.9" stroke-linecap="butt"/>
</g>
<path d="M252.0,496.0 H231.0 V885.3 H252.0" fill="none" stroke="#000" stroke-width="3.5"/>
<text x="206.0" y="513.8" font-family='"Liberation Sans", sans-serif' font-size="36" fill="#000" text-anchor="end" font-weight="normal" >-6</text>
<text x="206.0" y="611.1" font-family='"Liberation Sans", sans-serif' font-size="36" fill="#000" text-anchor="end" font-weight="normal" >-8</text>
<text x="206.0" y="708.4" font-family='"Liberation Sans", sans-serif' font-size="36" fill="#000" text-anchor="end" font-weight="normal" >-10</text>
<text x="206.0" y="805.8" font-family='"Liberation Sans", sans-serif' font-size="36" fill="#000" text-anchor="end" font-weight="normal" >-12</text>
<text x="206.0" y="903.1" font-family='"Liberation Sans", sans-serif' font-size="36" fill="#000" text-anchor="end" font-weight="normal" >-14</text>
<path d="M763.4,496.8 H780.4 V884.5 H763.4" fill="none" stroke="#939598" stroke-width="3.2"/>
<line x1="763.4" y1="593.3" x2="780.4" y2="593.3" stroke="#939598" stroke-width="3.4" stroke-linecap="butt"/>
<line x1="763.4" y1="690.6" x2="780.4" y2="690.6" stroke="#939598" stroke-width="3.4" stroke-linecap="butt"/>
<line x1="763.4" y1="788.0" x2="780.4" y2="788.0" stroke="#939598" stroke-width="3.4" stroke-linecap="butt"/>
<text x="830.8" y="520.5" font-family='"Liberation Sans", sans-serif' font-size="36" fill="#939598" text-anchor="end" font-weight="normal" >2</text>
<text x="830.8" y="609.3" font-family='"Liberation Sans", sans-serif' font-size="36" fill="#939598" text-anchor="end" font-weight="normal" >0</text>
<text x="830.8" y="707.4" font-family='"Liberation Sans", sans-serif' font-size="36" fill="#939598" text-anchor="end" font-weight="normal" >-2</text>
<text x="830.8" y="804.0" font-family='"Liberation Sans", sans-serif' font-size="36" fill="#939598" text-anchor="end" font-weight="normal" >-4</text>
<text x="830.8" y="892.1" font-family='"Liberation Sans", sans-serif' font-size="36" fill="#939598" text-anchor="end" font-weight="normal" >-6</text>
<text transform="translate(911.5,692.0) rotate(-90)" font-family='"Liberation Sans", sans-serif' font-size="39.6" fill="#939598" text-anchor="middle" font-weight="normal">DJF temp CESM</text>
<text transform="translate(47.6,830.0) rotate(-90)" font-family='"Liberation Sans", sans-serif' font-size="39.6" fill="#000"><tspan font-family='"Liberation Serif", serif' font-style="italic" font-size="39.6">δ</tspan><tspan font-size="31.7" dy="-18">18</tspan><tspan dy="18">O</tspan><tspan> [‰ VPDB]</tspan></text>
<text x="270.0" y="519.5" font-family='"Liberation Sans", sans-serif' font-size="48" fill="#000" text-anchor="start" font-weight="bold" >b)</text>
<text x="327.5" y="505.3" font-family='"Liberation Sans", sans-serif' font-size="32.2" fill="#000" text-anchor="start" font-weight="bold" ><tspan fill="#3f62b0">SAR</tspan> <tspan fill="#2b2171">ABR</tspan> <tspan fill="#1b95bd">NA</tspan> <tspan fill="#a0b5df">SC</tspan></text>
</g>
<g id="panel-c">
<polyline points="445.1,1141.6 448.7,1130.7 450.6,1151.5 452.9,1191.3 454.6,1113.2 457.7,1139.7 460.5,1097.1 462.4,1131.4 464.5,1057.3 466.4,1107.7 468.1,1069.8 470.0,1227.3 471.4,1175.2 473.3,1245.0 475.2,1194.1 477.6,1120.7 479.0,1182.3 480.6,1084.0 483.5,1203.6 485.4,1139.7 487.0,1172.8 488.9,1161.0 490.8,1214.3 493.7,1198.9 495.3,1274.6 497.9,1222.5 499.6,1260.4 501.2,1232.0 504.3,1254.5 507.4,1214.3 509.0,1239.1 511.4,1236.7 513.1,1307.8 515.4,1243.8 517.8,1293.6 519.7,1325.5 522.1,1284.1 524.4,1222.5 526.8,1220.2 528.5,1170.5 530.8,1182.3 533.9,1111.3 537.5,1208.3 539.1,1156.2 540.5,1243.8 542.9,1146.8 545.7,1170.5 548.1,1093.5 550.5,1146.8 552.8,1061.6 554.7,1152.7 557.6,1071.0 559.9,1022.5 561.8,1192.9 564.7,1086.4 567.0,1059.2 568.2,1121.9 572.3,1043.8 575.3,1113.6 577.7,1071.0 580.1,1058.0 582.4,1125.5 586.0,1055.6 586.7,1151.5 588.4,1042.6 590.7,1113.6 592.6,1050.9 594.3,1142.0 597.8,1174.0 600.2,1084.0 602.6,1191.8 605.4,1209.5 608.0,1085.2 610.8,1139.7 613.2,1189.4 615.6,1177.6 618.7,1236.7 620.8,1162.2 623.4,1196.5 625.5,1211.9 628.6,1084.0 631.0,1104.2 633.8,1181.1 635.7,1127.8 637.4,1142.0 639.7,1116.0 641.6,1166.9 644.0,1139.7 645.2,1177.6 646.8,1134.9 648.7,1207.1 651.1,1123.1 653.0,1158.6 654.6,1131.4 656.5,1169.3 658.2,1136.1 660.1,1116.0 660.1,1151.5" fill="none" stroke="#0875bd" stroke-width="4.2" stroke-linejoin="round" stroke-linecap="round" />
<polyline points="232.1,1249.6 238.7,1258.5 247.6,1292.7 252.0,1286.7 256.5,1292.7 261.9,1315.0 271.4,1295.7 276.4,1316.5 286.2,1322.4 290.7,1315.0 295.2,1323.3 301.1,1325.4 310.0,1325.4 314.5,1317.4 319.0,1320.9 324.3,1314.4 329.4,1318.8 333.8,1318.6 338.3,1309.6 344.2,1310.5 348.1,1325.4 352.6,1329.3 357.6,1323.3 362.1,1319.4 366.5,1310.5 371.6,1300.7 376.1,1303.1 381.4,1298.0 390.3,1309.0 395.4,1298.6 399.9,1294.2 405.2,1290.6 409.7,1282.3 414.1,1288.2 419.5,1293.6 424.5,1286.7 429.0,1279.3 428.6,1281.7 436.8,1248.6 447.5,1221.4 453.4,1197.7 460.5,1175.2 467.6,1155.1 471.2,1150.3 475.9,1151.5 480.6,1144.4 486.6,1138.5 490.8,1136.8 496.0,1142.0 500.3,1141.6 505.5,1136.1 511.4,1132.6 519.7,1130.7 525.6,1133.8 531.5,1123.1 535.8,1118.4 538.6,1117.7 543.4,1121.9 548.1,1118.4 555.2,1104.2 562.3,1081.7 568.2,1075.8 573.0,1059.2 576.5,1045.0 581.2,1040.2 586.0,1035.5 590.7,1037.4 595.5,1030.8 601.4,1016.6 606.1,1013.7 612.0,1015.4 615.6,1018.5 619.1,1023.7 623.9,1026.5 629.8,1030.3 634.5,1030.8 639.3,1029.6 643.3,1035.0 648.7,1032.0 653.5,1027.9 658.2,1031.2 661.7,1030.8 667.7,1024.9 675.0,1025.6 679.0,1026.5 690.9,1031.0 696.8,1028.6 702.8,1033.3 710.2,1033.3 720.6,1039.3 731.0,1038.4 735.5,1040.8 741.4,1040.8 747.4,1043.5 753.3,1047.3" fill="none" stroke="#d95a21" stroke-width="4.2" stroke-linejoin="round" stroke-linecap="round" />
<line x1="229.3" y1="1383.5" x2="781.9" y2="1383.5" stroke="#000" stroke-width="2.4" stroke-linecap="butt"/>
<line x1="302.6" y1="1374.5" x2="302.6" y2="1383.5" stroke="#000" stroke-width="1.8" stroke-linecap="butt"/>
<text x="303.6" y="1426.0" font-family='"Liberation Sans", sans-serif' font-size="36" fill="#000" text-anchor="middle" font-weight="normal" >5</text>
<line x1="422.0" y1="1374.5" x2="422.0" y2="1383.5" stroke="#000" stroke-width="1.8" stroke-linecap="butt"/>
<text x="423.0" y="1426.0" font-family='"Liberation Sans", sans-serif' font-size="36" fill="#000" text-anchor="middle" font-weight="normal" >10</text>
<line x1="541.3" y1="1374.5" x2="541.3" y2="1383.5" stroke="#000" stroke-width="1.8" stroke-linecap="butt"/>
<text x="542.3" y="1426.0" font-family='"Liberation Sans", sans-serif' font-size="36" fill="#000" text-anchor="middle" font-weight="normal" >15</text>
<line x1="660.7" y1="1374.5" x2="660.7" y2="1383.5" stroke="#000" stroke-width="1.8" stroke-linecap="butt"/>
<text x="661.7" y="1426.0" font-family='"Liberation Sans", sans-serif' font-size="36" fill="#000" text-anchor="middle" font-weight="normal" >20</text>
<line x1="362.3" y1="1377.5" x2="362.3" y2="1383.5" stroke="#000" stroke-width="1.6" stroke-linecap="butt"/>
<line x1="481.6" y1="1377.5" x2="481.6" y2="1383.5" stroke="#000" stroke-width="1.6" stroke-linecap="butt"/>
<line x1="601.0" y1="1377.5" x2="601.0" y2="1383.5" stroke="#000" stroke-width="1.6" stroke-linecap="butt"/>
<line x1="720.3" y1="1377.5" x2="720.3" y2="1383.5" stroke="#000" stroke-width="1.6" stroke-linecap="butt"/>
<text x="493.0" y="1472.5" font-family='"Liberation Sans", sans-serif' font-size="36" fill="#000" text-anchor="middle" font-weight="normal" >Age [ka BP]</text>
<path d="M248.0,995.0 H231.0 V1383.5" fill="none" stroke="#0875bd" stroke-width="3.5"/>
<line x1="231.0" y1="1092.1" x2="245.0" y2="1092.1" stroke="#0875bd" stroke-width="3.5" stroke-linecap="butt"/>
<line x1="231.0" y1="1189.2" x2="245.0" y2="1189.2" stroke="#0875bd" stroke-width="3.5" stroke-linecap="butt"/>
<line x1="231.0" y1="1286.4" x2="245.0" y2="1286.4" stroke="#0875bd" stroke-width="3.5" stroke-linecap="butt"/>
<text x="205.0" y="1012.5" font-family='"Liberation Sans", sans-serif' font-size="36" fill="#0875bd" text-anchor="end" font-weight="normal" >-9.5</text>
<text x="205.0" y="1206.8" font-family='"Liberation Sans", sans-serif' font-size="36" fill="#0875bd" text-anchor="end" font-weight="normal" >-10</text>
<text x="205.0" y="1401.0" font-family='"Liberation Sans", sans-serif' font-size="36" fill="#0875bd" text-anchor="end" font-weight="normal" >-10.5</text>
<path d="M760.4,995.0 H780.4 V1383.5" fill="none" stroke="#d95a21" stroke-width="3.2"/>
<text x="796.0" y="1012.5" font-family='"Liberation Sans", sans-serif' font-size="36" fill="#d95a21" text-anchor="start" font-weight="normal" >-8.8</text>
<line x1="762.4" y1="1092.1" x2="780.4" y2="1092.1" stroke="#d95a21" stroke-width="3.4" stroke-linecap="butt"/>
<text x="796.0" y="1109.6" font-family='"Liberation Sans", sans-serif' font-size="36" fill="#d95a21" text-anchor="start" font-weight="normal" >-9.0</text>
<line x1="762.4" y1="1189.2" x2="780.4" y2="1189.2" stroke="#d95a21" stroke-width="3.4" stroke-linecap="butt"/>
<text x="796.0" y="1206.8" font-family='"Liberation Sans", sans-serif' font-size="36" fill="#d95a21" text-anchor="start" font-weight="normal" >-9.2</text>
<line x1="762.4" y1="1286.4" x2="780.4" y2="1286.4" stroke="#d95a21" stroke-width="3.4" stroke-linecap="butt"/>
<text x="796.0" y="1303.9" font-family='"Liberation Sans", sans-serif' font-size="36" fill="#d95a21" text-anchor="start" font-weight="normal" >-9.4</text>
<text x="796.0" y="1401.0" font-family='"Liberation Sans", sans-serif' font-size="36" fill="#d95a21" text-anchor="start" font-weight="normal" >-9.6</text>
<text transform="translate(41.7,1401.0) rotate(-90)" font-family='"Liberation Sans", sans-serif' font-size="39.6" fill="#0875bd"><tspan font-family='"Liberation Serif", serif' font-style="italic" font-size="39.6">δ</tspan><tspan font-size="31.7" dy="-18">18</tspan><tspan dy="18">O</tspan><tspan font-size="31.7" dy="17">p</tspan><tspan dy="-6"> [‰ VSMOW]</tspan></text>
<text transform="translate(115.0,1229.0) rotate(-90)" font-family='"Liberation Sans", sans-serif' font-size="39.6" fill="#0875bd" text-anchor="middle" font-weight="normal">iTRACE (DJF)</text>
<text transform="translate(916.3,1428.0) rotate(-90)" font-family='"Liberation Sans", sans-serif' font-size="39.6" fill="#d95a21"><tspan font-family='"Liberation Serif", serif' font-style="italic" font-size="39.6">δ</tspan><tspan font-size="31.7" dy="-18">18</tspan><tspan dy="18">O</tspan><tspan font-size="31.7" dy="17">p</tspan><tspan dy="-17"> [‰ VSMOW] iCESM</tspan></text>
<text x="266.0" y="1019.5" font-family='"Liberation Sans", sans-serif' font-size="48" fill="#000" text-anchor="start" font-weight="bold" >c)</text>
</g>
<g id="panel-d">
<rect x="1079.6" y="50.2" width="44.2" height="134.7" fill="#8ba6d8" stroke="#231f20" stroke-width="1"/>
<rect x="1135.2" y="50.2" width="44.2" height="165.6" fill="#8ba6d8" stroke="#231f20" stroke-width="1"/>
<rect x="1190.9" y="50.2" width="44.2" height="152.9" fill="#8ba6d8" stroke="#231f20" stroke-width="1"/>
<rect x="1246.8" y="50.2" width="44.2" height="114.7" fill="#8ba6d8" stroke="#231f20" stroke-width="1"/>
<rect x="1302.7" y="50.2" width="44.2" height="99.6" fill="#8ba6d8" stroke="#231f20" stroke-width="1"/>
<rect x="1358.1" y="50.2" width="44.2" height="45.8" fill="#8ba6d8" stroke="#231f20" stroke-width="1"/>
<rect x="1414.0" y="50.2" width="44.2" height="12.5" fill="#8ba6d8" stroke="#231f20" stroke-width="1"/>
<rect x="1469.9" y="50.2" width="44.2" height="41.9" fill="#8ba6d8" stroke="#231f20" stroke-width="1"/>
<rect x="1525.8" y="50.2" width="44.2" height="102.7" fill="#8ba6d8" stroke="#231f20" stroke-width="1"/>
<rect x="1581.5" y="50.2" width="44.2" height="161.5" fill="#8ba6d8" stroke="#231f20" stroke-width="1"/>
<rect x="1637.1" y="50.2" width="44.2" height="141.7" fill="#8ba6d8" stroke="#231f20" stroke-width="1"/>
<rect x="1693.0" y="50.2" width="44.2" height="143.5" fill="#8ba6d8" stroke="#231f20" stroke-width="1"/>
<path d="M1064,50.2 H1766 V235.8" fill="none" stroke="#231f20" stroke-width="2"/>
<line x1="1754.5" y1="81.1" x2="1766.0" y2="81.1" stroke="#231f20" stroke-width="1.5" stroke-linecap="butt"/>
<line x1="1744.0" y1="112.1" x2="1766.0" y2="112.1" stroke="#231f20" stroke-width="1.5" stroke-linecap="butt"/>
<line x1="1754.5" y1="143.0" x2="1766.0" y2="143.0" stroke="#231f20" stroke-width="1.5" stroke-linecap="butt"/>
<line x1="1744.0" y1="173.9" x2="1766.0" y2="173.9" stroke="#231f20" stroke-width="1.5" stroke-linecap="butt"/>
<line x1="1754.5" y1="204.9" x2="1766.0" y2="204.9" stroke="#231f20" stroke-width="1.5" stroke-linecap="butt"/>
<line x1="1744.0" y1="235.8" x2="1766.0" y2="235.8" stroke="#231f20" stroke-width="1.5" stroke-linecap="butt"/>
<text x="1851.0" y="62.3" font-family='"Liberation Sans", sans-serif' font-size="32.5" fill="#231f20" text-anchor="end" font-weight="normal" >0</text>
<text x="1851.0" y="121.9" font-family='"Liberation Sans", sans-serif' font-size="32.5" fill="#231f20" text-anchor="end" font-weight="normal" >-2</text>
<text x="1851.0" y="182.0" font-family='"Liberation Sans", sans-serif' font-size="32.5" fill="#231f20" text-anchor="end" font-weight="normal" >-4</text>
<text x="1851.0" y="242.0" font-family='"Liberation Sans", sans-serif' font-size="32.5" fill="#231f20" text-anchor="end" font-weight="normal" >-6</text>
<text x="1097.1" y="38.8" font-family='"Liberation Sans", sans-serif' font-size="35" fill="#231f20" text-anchor="middle" font-weight="normal" >J</text>
<text x="1157.2" y="38.8" font-family='"Liberation Sans", sans-serif' font-size="35" fill="#231f20" text-anchor="middle" font-weight="normal" >F</text>
<text x="1212.9" y="38.8" font-family='"Liberation Sans", sans-serif' font-size="35" fill="#231f20" text-anchor="middle" font-weight="normal" >M</text>
<text x="1268.8" y="38.8" font-family='"Liberation Sans", sans-serif' font-size="35" fill="#231f20" text-anchor="middle" font-weight="normal" >A</text>
<text x="1323.2" y="38.8" font-family='"Liberation Sans", sans-serif' font-size="35" fill="#231f20" text-anchor="middle" font-weight="normal" >M</text>
<text x="1376.1" y="38.8" font-family='"Liberation Sans", sans-serif' font-size="35" fill="#231f20" text-anchor="middle" font-weight="normal" >J</text>
<text x="1433.0" y="38.8" font-family='"Liberation Sans", sans-serif' font-size="35" fill="#231f20" text-anchor="middle" font-weight="normal" >J</text>
<text x="1491.9" y="38.8" font-family='"Liberation Sans", sans-serif' font-size="35" fill="#231f20" text-anchor="middle" font-weight="normal" >A</text>
<text x="1544.3" y="38.8" font-family='"Liberation Sans", sans-serif' font-size="35" fill="#231f20" text-anchor="middle" font-weight="normal" >S</text>
<text x="1600.0" y="38.8" font-family='"Liberation Sans", sans-serif' font-size="35" fill="#231f20" text-anchor="middle" font-weight="normal" >O</text>
<text x="1656.6" y="38.8" font-family='"Liberation Sans", sans-serif' font-size="35" fill="#231f20" text-anchor="middle" font-weight="normal" >N</text>
<text x="1712.5" y="38.8" font-family='"Liberation Sans", sans-serif' font-size="35" fill="#231f20" text-anchor="middle" font-weight="normal" >D</text>
<text transform="translate(1916.5,135.0) rotate(-90)" font-family='"Liberation Sans", sans-serif' font-size="35.7" fill="#231f20" text-anchor="middle" font-weight="normal">ΔT (LGM - PI)</text>
<text x="983.0" y="35.2" font-family='"Liberation Sans", sans-serif' font-size="47" fill="#231f20" text-anchor="start" font-weight="bold" >d)</text>
</g>
<g id="panel-e">
<rect x="1079.8" y="367.4" width="44.2" height="113.8" fill="#dfa07d" stroke="#231f20" stroke-width="1"/>
<rect x="1136.0" y="367.4" width="44.2" height="74.1" fill="#dfa07d" stroke="#231f20" stroke-width="1"/>
<rect x="1191.6" y="367.4" width="44.2" height="41.0" fill="#dfa07d" stroke="#231f20" stroke-width="1"/>
<rect x="1247.3" y="367.4" width="44.2" height="11.4" fill="#dfa07d" stroke="#231f20" stroke-width="1"/>
<rect x="1303.2" y="316.7" width="44.2" height="50.7" fill="#dfa07d" stroke="#231f20" stroke-width="1"/>
<rect x="1358.8" y="341.6" width="44.2" height="25.8" fill="#dfa07d" stroke="#231f20" stroke-width="1"/>
<rect x="1414.7" y="367.4" width="44.2" height="31.4" fill="#dfa07d" stroke="#231f20" stroke-width="1"/>
<rect x="1470.7" y="367.4" width="44.2" height="18.2" fill="#dfa07d" stroke="#231f20" stroke-width="1"/>
<rect x="1526.3" y="367.4" width="44.2" height="38.7" fill="#dfa07d" stroke="#231f20" stroke-width="1"/>
<rect x="1582.0" y="367.4" width="44.2" height="56.9" fill="#dfa07d" stroke="#231f20" stroke-width="1"/>
<rect x="1637.9" y="367.4" width="44.2" height="170.8" fill="#dfa07d" stroke="#231f20" stroke-width="1"/>
<rect x="1693.8" y="367.4" width="44.2" height="170.5" fill="#dfa07d" stroke="#231f20" stroke-width="1"/>
<line x1="1064.5" y1="367.4" x2="1766.6" y2="367.4" stroke="#231f20" stroke-width="2" stroke-linecap="butt"/>
<line x1="1766.6" y1="305.5" x2="1766.6" y2="553.3" stroke="#231f20" stroke-width="1.8" stroke-linecap="butt"/>
<line x1="1745.1" y1="305.5" x2="1766.6" y2="305.5" stroke="#231f20" stroke-width="1.4" stroke-linecap="butt"/>
<line x1="1754.9" y1="317.9" x2="1766.6" y2="317.9" stroke="#231f20" stroke-width="1.4" stroke-linecap="butt"/>
<line x1="1754.9" y1="330.3" x2="1766.6" y2="330.3" stroke="#231f20" stroke-width="1.4" stroke-linecap="butt"/>
<line x1="1754.9" y1="342.7" x2="1766.6" y2="342.7" stroke="#231f20" stroke-width="1.4" stroke-linecap="butt"/>
<line x1="1754.9" y1="355.1" x2="1766.6" y2="355.1" stroke="#231f20" stroke-width="1.4" stroke-linecap="butt"/>
<line x1="1745.1" y1="367.4" x2="1766.6" y2="367.4" stroke="#231f20" stroke-width="1.4" stroke-linecap="butt"/>
<line x1="1754.9" y1="379.8" x2="1766.6" y2="379.8" stroke="#231f20" stroke-width="1.4" stroke-linecap="butt"/>
<line x1="1754.9" y1="392.2" x2="1766.6" y2="392.2" stroke="#231f20" stroke-width="1.4" stroke-linecap="butt"/>
<line x1="1754.9" y1="404.6" x2="1766.6" y2="404.6" stroke="#231f20" stroke-width="1.4" stroke-linecap="butt"/>
<line x1="1754.9" y1="417.0" x2="1766.6" y2="417.0" stroke="#231f20" stroke-width="1.4" stroke-linecap="butt"/>
<line x1="1745.1" y1="429.4" x2="1766.6" y2="429.4" stroke="#231f20" stroke-width="1.4" stroke-linecap="butt"/>
<line x1="1754.9" y1="441.8" x2="1766.6" y2="441.8" stroke="#231f20" stroke-width="1.4" stroke-linecap="butt"/>
<line x1="1754.9" y1="454.2" x2="1766.6" y2="454.2" stroke="#231f20" stroke-width="1.4" stroke-linecap="butt"/>
<line x1="1754.9" y1="466.6" x2="1766.6" y2="466.6" stroke="#231f20" stroke-width="1.4" stroke-linecap="butt"/>
<line x1="1754.9" y1="479.0" x2="1766.6" y2="479.0" stroke="#231f20" stroke-width="1.4" stroke-linecap="butt"/>
<line x1="1745.1" y1="491.4" x2="1766.6" y2="491.4" stroke="#231f20" stroke-width="1.4" stroke-linecap="butt"/>
<line x1="1754.9" y1="503.7" x2="1766.6" y2="503.7" stroke="#231f20" stroke-width="1.4" stroke-linecap="butt"/>
<line x1="1754.9" y1="516.1" x2="1766.6" y2="516.1" stroke="#231f20" stroke-width="1.4" stroke-linecap="butt"/>
<line x1="1754.9" y1="528.5" x2="1766.6" y2="528.5" stroke="#231f20" stroke-width="1.4" stroke-linecap="butt"/>
<line x1="1754.9" y1="540.9" x2="1766.6" y2="540.9" stroke="#231f20" stroke-width="1.4" stroke-linecap="butt"/>
<line x1="1745.1" y1="553.3" x2="1766.6" y2="553.3" stroke="#231f20" stroke-width="1.4" stroke-linecap="butt"/>
<text x="1851.0" y="315.9" font-family='"Liberation Sans", sans-serif' font-size="32.5" fill="#231f20" text-anchor="end" font-weight="normal" >50</text>
<text x="1851.0" y="375.5" font-family='"Liberation Sans", sans-serif' font-size="32.5" fill="#231f20" text-anchor="end" font-weight="normal" >0</text>
<text x="1851.0" y="435.5" font-family='"Liberation Sans", sans-serif' font-size="32.5" fill="#231f20" text-anchor="end" font-weight="normal" >-50</text>
<text x="1851.0" y="495.6" font-family='"Liberation Sans", sans-serif' font-size="32.5" fill="#231f20" text-anchor="end" font-weight="normal" >-100</text>
<text x="1851.0" y="555.2" font-family='"Liberation Sans", sans-serif' font-size="32.5" fill="#231f20" text-anchor="end" font-weight="normal" >-150</text>
<text transform="translate(1916.5,429.0) rotate(-90)" font-family='"Liberation Sans", sans-serif' font-size="35.7" fill="#231f20" text-anchor="middle" font-weight="normal">ΔP (LGM - PI)</text>
<text x="995.0" y="345.0" font-family='"Liberation Sans", sans-serif' font-size="48" fill="#231f20" text-anchor="start" font-weight="bold" >e)</text>
</g>
<g id="panel-f">
<clipPath id="mapclip"><rect x="1044.0" y="762.0" width="820.0" height="611.0"/></clipPath>
<g clip-path="url(#mapclip)">
<path d="M1116.1 1094.3L1119.1 1094.0L1122.1 1093.7L1125.1 1093.6L1128.1 1093.4L1131.1 1093.3L1134.1 1093.3L1137.1 1093.3L1140.1 1093.3L1143.1 1093.3L1146.1 1093.4L1149.1 1093.6L1152.1 1093.7L1155.1 1094.0L1158.1 1094.3L1159.7 1094.5L1161.1 1094.6L1164.1 1095.0L1167.2 1095.5L1170.2 1096.0L1173.2 1096.5L1176.2 1097.0L1179.2 1097.4L1179.2 1097.5L1182.2 1097.9L1185.2 1098.2L1188.2 1098.5L1191.2 1098.6L1194.2 1098.6L1197.2 1098.7L1200.2 1098.7L1203.2 1098.8L1206.2 1099.1L1209.2 1099.4L1212.2 1099.9L1215.2 1100.4L1215.2 1100.5L1218.2 1101.2L1221.2 1102.0L1224.2 1102.6L1227.2 1103.1L1230.2 1103.1L1233.2 1102.9L1236.2 1102.2L1239.2 1101.5L1242.2 1100.8L1244.1 1100.4L1245.2 1100.3L1248.2 1100.1L1251.3 1100.1L1254.3 1100.4L1254.4 1100.4L1257.3 1101.0L1260.3 1101.8L1263.3 1102.7L1266.3 1103.4L1266.3 1103.4L1269.3 1104.3L1272.3 1104.9L1275.3 1105.7L1276.8 1106.4L1278.3 1109.1L1278.4 1109.4L1278.3 1109.8L1277.3 1112.4L1275.3 1114.3L1273.9 1115.4L1272.3 1116.1L1269.3 1117.3L1266.5 1118.4L1266.3 1118.5L1263.3 1119.3L1260.3 1120.0L1257.3 1120.7L1254.3 1121.3L1253.4 1121.4L1251.3 1121.8L1248.2 1122.2L1245.2 1122.7L1242.2 1123.2L1239.2 1123.8L1236.2 1124.4L1236.0 1124.4L1233.2 1124.9L1230.2 1125.5L1227.2 1126.1L1224.2 1126.7L1221.2 1127.1L1218.4 1127.4L1218.2 1127.4L1215.2 1127.6L1212.2 1127.7L1209.2 1127.8L1206.2 1127.9L1203.2 1128.1L1200.2 1128.3L1197.2 1128.7L1194.2 1129.0L1191.2 1129.5L1188.2 1130.0L1186.3 1130.4L1185.2 1130.6L1182.2 1131.1L1179.2 1131.6L1176.2 1132.2L1173.2 1132.8L1170.5 1133.4L1170.2 1133.5L1167.2 1134.0L1164.1 1134.7L1161.1 1135.2L1158.1 1135.7L1155.1 1136.2L1153.1 1136.4L1152.1 1136.5L1149.1 1136.7L1146.1 1137.0L1143.1 1137.3L1140.1 1137.7L1137.1 1138.3L1134.1 1139.0L1132.5 1139.4L1131.1 1139.7L1128.1 1140.5L1125.1 1141.3L1122.1 1142.2L1121.7 1142.4L1119.1 1143.1L1116.1 1144.0L1113.1 1144.9L1111.8 1145.4L1110.1 1145.9L1107.1 1146.8L1104.1 1147.8L1102.2 1148.4L1101.1 1148.7L1098.1 1149.5L1095.1 1150.4L1092.1 1151.3L1091.8 1151.4L1089.1 1152.1L1086.1 1153.0L1083.0 1154.1L1082.5 1154.4L1080.0 1155.3L1077.0 1156.6L1075.4 1157.4L1074.0 1157.9L1071.0 1159.2L1068.0 1160.3L1067.7 1160.3L1065.0 1160.9L1062.0 1161.0L1059.0 1160.4L1058.9 1160.3L1056.0 1158.6L1054.6 1157.4L1053.0 1155.3L1052.4 1154.4L1050.9 1151.4L1050.0 1149.5L1049.5 1148.4L1048.0 1145.4L1047.0 1143.5L1046.2 1142.4L1044.3 1139.4L1044.0 1138.7L1044.0 1136.4L1044.0 1133.4L1044.0 1130.4L1044.0 1129.1L1045.1 1127.4L1047.0 1125.8L1048.4 1124.4L1050.0 1123.4L1053.0 1121.5L1053.2 1121.4L1056.0 1120.1L1059.0 1118.9L1060.2 1118.4L1062.0 1117.7L1065.0 1116.6L1068.0 1115.5L1068.2 1115.4L1071.0 1114.3L1074.0 1113.0L1075.4 1112.4L1077.0 1111.6L1080.0 1110.1L1081.4 1109.4L1083.0 1108.5L1086.1 1106.7L1086.5 1106.4L1089.1 1104.8L1091.3 1103.4L1092.1 1103.0L1095.1 1101.2L1096.4 1100.4L1098.1 1099.6L1101.1 1098.2L1102.9 1097.5L1104.1 1097.0L1107.1 1096.1L1110.1 1095.3L1113.1 1094.7L1115.0 1094.5Z" fill="#2a5ca9" stroke="#2a5ca9" stroke-width="0.6" fill-rule="evenodd"/>
<path d="M1116.1 1082.1L1119.1 1081.6L1122.1 1081.3L1125.1 1081.0L1128.1 1080.8L1131.1 1080.7L1134.1 1080.7L1137.1 1080.7L1140.1 1080.8L1143.1 1081.0L1146.1 1081.1L1149.1 1081.4L1152.1 1081.6L1155.1 1081.9L1158.1 1082.3L1159.7 1082.5L1161.1 1082.7L1164.1 1083.1L1167.2 1083.5L1170.2 1084.0L1173.2 1084.5L1176.2 1085.0L1179.2 1085.4L1179.6 1085.5L1182.2 1085.9L1185.2 1086.3L1188.2 1086.7L1191.2 1087.0L1194.2 1087.3L1197.2 1087.6L1200.2 1087.8L1203.2 1088.1L1206.2 1088.4L1207.1 1088.5L1209.2 1088.7L1212.2 1089.0L1215.2 1089.4L1218.2 1089.7L1221.2 1090.1L1224.2 1090.3L1227.2 1090.4L1230.2 1090.5L1233.2 1090.4L1236.2 1090.2L1239.2 1090.0L1242.2 1089.7L1245.2 1089.4L1248.2 1089.1L1251.3 1088.9L1254.3 1088.7L1257.3 1088.5L1257.4 1088.5L1260.3 1088.3L1263.3 1088.1L1266.3 1088.0L1269.3 1087.8L1272.3 1087.7L1275.3 1087.7L1278.3 1087.9L1281.3 1088.2L1282.5 1088.5L1284.3 1088.9L1287.3 1089.8L1290.3 1091.1L1290.9 1091.5L1293.3 1093.1L1295.0 1094.5L1296.3 1095.8L1297.8 1097.5L1299.3 1099.8L1299.7 1100.4L1301.0 1103.4L1301.7 1106.4L1302.0 1109.4L1301.8 1112.4L1301.2 1115.4L1300.2 1118.4L1299.3 1120.3L1298.8 1121.4L1297.2 1124.4L1296.3 1125.8L1295.2 1127.4L1293.3 1129.8L1292.7 1130.4L1290.3 1132.5L1288.9 1133.4L1287.3 1134.2L1284.3 1134.9L1281.3 1135.0L1278.3 1134.7L1275.3 1134.2L1272.3 1133.7L1270.3 1133.4L1269.3 1133.2L1266.3 1132.8L1263.3 1132.5L1260.3 1132.3L1257.3 1132.4L1254.3 1132.6L1251.3 1132.9L1248.8 1133.4L1248.2 1133.5L1245.2 1134.1L1242.2 1134.8L1239.2 1135.7L1236.9 1136.4L1236.2 1136.6L1233.2 1137.3L1230.2 1137.8L1227.2 1138.2L1224.2 1138.2L1221.2 1138.1L1218.2 1137.8L1215.2 1137.4L1212.2 1137.1L1209.2 1136.9L1206.2 1136.7L1203.2 1136.7L1200.2 1136.8L1197.2 1137.0L1194.2 1137.3L1191.2 1137.8L1188.2 1138.4L1185.2 1139.1L1184.0 1139.4L1182.2 1139.8L1179.2 1140.7L1176.2 1141.7L1174.1 1142.4L1173.2 1142.7L1170.2 1143.7L1167.2 1144.5L1164.1 1145.3L1163.5 1145.4L1161.1 1145.7L1158.1 1145.9L1155.1 1145.9L1152.1 1145.8L1149.1 1145.8L1146.1 1145.8L1143.1 1145.8L1140.1 1146.0L1137.1 1146.3L1134.1 1146.8L1131.1 1147.3L1128.1 1148.0L1126.7 1148.4L1125.1 1148.7L1122.1 1149.5L1119.1 1150.4L1116.1 1151.3L1116.0 1151.4L1113.1 1152.3L1110.1 1153.3L1107.1 1154.4L1107.1 1154.4L1104.1 1155.3L1101.1 1156.3L1098.1 1157.3L1097.8 1157.4L1095.1 1158.1L1092.1 1159.0L1089.1 1159.9L1087.7 1160.3L1086.1 1160.9L1083.0 1161.9L1080.0 1163.1L1079.4 1163.3L1077.0 1164.3L1074.0 1165.4L1071.7 1166.3L1071.0 1166.6L1068.0 1167.4L1065.0 1168.1L1062.0 1168.4L1059.0 1168.4L1056.0 1168.0L1053.0 1167.1L1050.9 1166.3L1050.0 1165.9L1047.0 1164.3L1045.1 1163.3L1044.0 1162.6L1044.0 1160.3L1044.0 1157.4L1044.0 1154.4L1044.0 1151.4L1044.0 1148.4L1044.0 1145.4L1044.0 1142.4L1044.0 1139.4L1044.0 1138.7L1044.3 1139.4L1046.2 1142.4L1047.0 1143.5L1048.0 1145.4L1049.5 1148.4L1050.0 1149.5L1050.9 1151.4L1052.4 1154.4L1053.0 1155.3L1054.6 1157.4L1056.0 1158.6L1058.9 1160.3L1059.0 1160.4L1062.0 1161.0L1065.0 1160.9L1067.7 1160.3L1068.0 1160.3L1071.0 1159.2L1074.0 1157.9L1075.4 1157.4L1077.0 1156.6L1080.0 1155.3L1082.5 1154.4L1083.0 1154.1L1086.1 1153.0L1089.1 1152.1L1091.8 1151.4L1092.1 1151.3L1095.1 1150.4L1098.1 1149.5L1101.1 1148.7L1102.2 1148.4L1104.1 1147.8L1107.1 1146.8L1110.1 1145.9L1111.8 1145.4L1113.1 1144.9L1116.1 1144.0L1119.1 1143.1L1121.7 1142.4L1122.1 1142.2L1125.1 1141.3L1128.1 1140.5L1131.1 1139.7L1132.5 1139.4L1134.1 1139.0L1137.1 1138.3L1140.1 1137.7L1143.1 1137.3L1146.1 1137.0L1149.1 1136.7L1152.1 1136.5L1153.1 1136.4L1155.1 1136.2L1158.1 1135.7L1161.1 1135.2L1164.1 1134.7L1167.2 1134.0L1170.2 1133.5L1170.5 1133.4L1173.2 1132.8L1176.2 1132.2L1179.2 1131.6L1182.2 1131.1L1185.2 1130.6L1186.3 1130.4L1188.2 1130.0L1191.2 1129.5L1194.2 1129.0L1197.2 1128.7L1200.2 1128.3L1203.2 1128.1L1206.2 1127.9L1209.2 1127.8L1212.2 1127.7L1215.2 1127.6L1218.2 1127.4L1218.4 1127.4L1221.2 1127.1L1224.2 1126.7L1227.2 1126.1L1230.2 1125.5L1233.2 1124.9L1236.0 1124.4L1236.2 1124.4L1239.2 1123.8L1242.2 1123.2L1245.2 1122.7L1248.2 1122.2L1251.3 1121.8L1253.4 1121.4L1254.3 1121.3L1257.3 1120.7L1260.3 1120.0L1263.3 1119.3L1266.3 1118.5L1266.5 1118.4L1269.3 1117.3L1272.3 1116.1L1273.9 1115.4L1275.3 1114.3L1277.3 1112.4L1278.3 1109.8L1278.4 1109.4L1278.3 1109.1L1276.8 1106.4L1275.3 1105.7L1272.3 1104.9L1269.3 1104.3L1266.3 1103.4L1266.3 1103.4L1263.3 1102.7L1260.3 1101.8L1257.3 1101.0L1254.4 1100.4L1254.3 1100.4L1251.3 1100.1L1248.2 1100.1L1245.2 1100.3L1244.1 1100.4L1242.2 1100.8L1239.2 1101.5L1236.2 1102.2L1233.2 1102.9L1230.2 1103.1L1227.2 1103.1L1224.2 1102.6L1221.2 1102.0L1218.2 1101.2L1215.2 1100.5L1215.2 1100.4L1212.2 1099.9L1209.2 1099.4L1206.2 1099.1L1203.2 1098.8L1200.2 1098.7L1197.2 1098.7L1194.2 1098.6L1191.2 1098.6L1188.2 1098.5L1185.2 1098.2L1182.2 1097.9L1179.2 1097.5L1179.2 1097.4L1176.2 1097.0L1173.2 1096.5L1170.2 1096.0L1167.2 1095.5L1164.1 1095.0L1161.1 1094.6L1159.7 1094.5L1158.1 1094.3L1155.1 1094.0L1152.1 1093.7L1149.1 1093.6L1146.1 1093.4L1143.1 1093.3L1140.1 1093.3L1137.1 1093.3L1134.1 1093.3L1131.1 1093.3L1128.1 1093.4L1125.1 1093.6L1122.1 1093.7L1119.1 1094.0L1116.1 1094.3L1115.0 1094.5L1113.1 1094.7L1110.1 1095.3L1107.1 1096.1L1104.1 1097.0L1102.9 1097.5L1101.1 1098.2L1098.1 1099.6L1096.4 1100.4L1095.1 1101.2L1092.1 1103.0L1091.3 1103.4L1089.1 1104.8L1086.5 1106.4L1086.1 1106.7L1083.0 1108.5L1081.4 1109.4L1080.0 1110.1L1077.0 1111.6L1075.4 1112.4L1074.0 1113.0L1071.0 1114.3L1068.2 1115.4L1068.0 1115.5L1065.0 1116.6L1062.0 1117.7L1060.2 1118.4L1059.0 1118.9L1056.0 1120.1L1053.2 1121.4L1053.0 1121.5L1050.0 1123.4L1048.4 1124.4L1047.0 1125.8L1045.1 1127.4L1044.0 1129.1L1044.0 1127.4L1044.0 1124.4L1044.0 1121.4L1044.0 1121.1L1047.0 1119.9L1050.0 1118.5L1050.1 1118.4L1053.0 1117.1L1056.0 1115.7L1056.7 1115.4L1059.0 1114.2L1062.0 1112.7L1062.5 1112.4L1065.0 1110.9L1067.6 1109.4L1068.0 1109.1L1071.0 1107.2L1072.2 1106.4L1074.0 1105.1L1076.3 1103.4L1077.0 1102.9L1080.0 1100.6L1080.3 1100.4L1083.0 1098.3L1084.1 1097.5L1086.1 1096.0L1088.1 1094.5L1089.1 1093.8L1092.1 1091.7L1092.5 1091.5L1095.1 1089.8L1097.5 1088.5L1098.1 1088.2L1101.1 1086.7L1104.0 1085.5L1104.1 1085.4L1107.1 1084.4L1110.1 1083.5L1113.1 1082.7L1114.2 1082.5Z" fill="#305daa" stroke="#305daa" stroke-width="0.6" fill-rule="evenodd"/>
<path d="M1113.1 1072.8L1116.1 1072.1L1119.1 1071.6L1122.1 1071.3L1125.1 1071.0L1128.1 1070.8L1131.1 1070.7L1134.1 1070.7L1137.1 1070.8L1140.1 1070.9L1143.1 1071.0L1146.1 1071.3L1149.1 1071.5L1152.1 1071.8L1155.1 1072.1L1158.1 1072.5L1161.1 1072.9L1164.1 1073.3L1165.3 1073.5L1167.2 1073.8L1170.2 1074.3L1173.2 1074.7L1176.2 1075.2L1179.2 1075.7L1182.2 1076.2L1184.1 1076.5L1185.2 1076.7L1188.2 1077.1L1191.2 1077.5L1194.2 1078.0L1197.2 1078.3L1200.2 1078.7L1203.2 1079.1L1206.2 1079.4L1206.5 1079.5L1209.2 1079.8L1212.2 1080.2L1215.2 1080.5L1218.2 1080.8L1221.2 1081.1L1224.2 1081.3L1227.2 1081.4L1230.2 1081.5L1233.2 1081.4L1236.2 1081.3L1239.2 1081.1L1242.2 1080.9L1245.2 1080.6L1248.2 1080.3L1251.3 1080.0L1254.3 1079.7L1255.9 1079.5L1257.3 1079.3L1260.3 1079.0L1263.3 1078.7L1266.3 1078.5L1269.3 1078.3L1272.3 1078.1L1275.3 1078.0L1278.3 1077.9L1281.3 1078.0L1284.3 1078.2L1287.3 1078.6L1290.3 1079.1L1291.9 1079.5L1293.3 1079.9L1296.3 1080.9L1299.3 1082.3L1299.6 1082.5L1302.3 1084.2L1304.0 1085.5L1305.3 1086.6L1307.4 1088.5L1308.3 1089.5L1310.1 1091.5L1311.3 1092.9L1312.6 1094.5L1314.3 1097.0L1314.6 1097.5L1316.4 1100.4L1317.3 1102.8L1317.6 1103.4L1318.4 1106.4L1318.7 1109.4L1318.2 1112.4L1317.3 1114.5L1317.0 1115.4L1315.2 1118.4L1314.3 1119.4L1312.9 1121.4L1311.3 1123.1L1310.3 1124.4L1308.3 1126.7L1307.8 1127.4L1305.3 1130.4L1305.3 1130.4L1302.9 1133.4L1302.3 1134.1L1300.4 1136.4L1299.3 1137.6L1297.6 1139.4L1296.3 1140.5L1293.7 1142.4L1293.3 1142.6L1290.3 1143.7L1287.3 1144.1L1284.3 1144.0L1281.3 1143.5L1278.3 1142.8L1276.7 1142.4L1275.3 1142.0L1272.3 1141.2L1269.3 1140.5L1266.3 1140.0L1263.3 1139.6L1260.3 1139.4L1257.3 1139.4L1254.3 1139.6L1251.3 1139.9L1248.2 1140.4L1245.2 1141.0L1242.2 1141.8L1240.4 1142.4L1239.2 1142.7L1236.2 1143.4L1233.2 1144.1L1230.2 1144.6L1227.2 1144.9L1224.2 1144.8L1221.2 1144.5L1218.2 1144.1L1215.2 1143.7L1212.2 1143.2L1209.2 1142.9L1206.2 1142.7L1203.2 1142.6L1200.2 1142.6L1197.2 1142.8L1194.2 1143.1L1191.2 1143.6L1188.2 1144.2L1185.2 1145.0L1184.1 1145.4L1182.2 1146.0L1179.2 1147.0L1176.2 1148.1L1175.6 1148.4L1173.2 1149.2L1170.2 1150.3L1167.2 1151.2L1166.3 1151.4L1164.1 1151.7L1161.1 1152.0L1158.1 1152.1L1155.1 1152.0L1152.1 1151.8L1149.1 1151.7L1146.1 1151.6L1143.1 1151.6L1140.1 1151.7L1137.1 1152.0L1134.1 1152.3L1131.1 1152.8L1128.1 1153.5L1125.1 1154.2L1124.5 1154.4L1122.1 1155.0L1119.1 1155.9L1116.1 1156.9L1114.9 1157.4L1113.1 1158.0L1110.1 1159.1L1107.1 1160.2L1106.7 1160.3L1104.1 1161.3L1101.1 1162.3L1098.1 1163.3L1097.9 1163.3L1095.1 1164.1L1092.1 1165.0L1089.1 1165.9L1087.5 1166.3L1086.1 1166.8L1083.0 1167.7L1080.0 1168.8L1078.5 1169.3L1077.0 1169.8L1074.0 1170.8L1071.0 1171.8L1069.1 1172.3L1068.0 1172.6L1065.0 1173.3L1062.0 1173.7L1059.0 1173.9L1056.0 1173.8L1053.0 1173.4L1050.0 1172.9L1047.5 1172.3L1047.0 1172.2L1044.0 1171.5L1044.0 1169.3L1044.0 1166.3L1044.0 1163.3L1044.0 1162.6L1045.1 1163.3L1047.0 1164.3L1050.0 1165.9L1050.9 1166.3L1053.0 1167.1L1056.0 1168.0L1059.0 1168.4L1062.0 1168.4L1065.0 1168.1L1068.0 1167.4L1071.0 1166.6L1071.7 1166.3L1074.0 1165.4L1077.0 1164.3L1079.4 1163.3L1080.0 1163.1L1083.0 1161.9L1086.1 1160.9L1087.7 1160.3L1089.1 1159.9L1092.1 1159.0L1095.1 1158.1L1097.8 1157.4L1098.1 1157.3L1101.1 1156.3L1104.1 1155.3L1107.1 1154.4L1107.1 1154.4L1110.1 1153.3L1113.1 1152.3L1116.0 1151.4L1116.1 1151.3L1119.1 1150.4L1122.1 1149.5L1125.1 1148.7L1126.7 1148.4L1128.1 1148.0L1131.1 1147.3L1134.1 1146.8L1137.1 1146.3L1140.1 1146.0L1143.1 1145.8L1146.1 1145.8L1149.1 1145.8L1152.1 1145.8L1155.1 1145.9L1158.1 1145.9L1161.1 1145.7L1163.5 1145.4L1164.1 1145.3L1167.2 1144.5L1170.2 1143.7L1173.2 1142.7L1174.1 1142.4L1176.2 1141.7L1179.2 1140.7L1182.2 1139.8L1184.0 1139.4L1185.2 1139.1L1188.2 1138.4L1191.2 1137.8L1194.2 1137.3L1197.2 1137.0L1200.2 1136.8L1203.2 1136.7L1206.2 1136.7L1209.2 1136.9L1212.2 1137.1L1215.2 1137.4L1218.2 1137.8L1221.2 1138.1L1224.2 1138.2L1227.2 1138.2L1230.2 1137.8L1233.2 1137.3L1236.2 1136.6L1236.9 1136.4L1239.2 1135.7L1242.2 1134.8L1245.2 1134.1L1248.2 1133.5L1248.8 1133.4L1251.3 1132.9L1254.3 1132.6L1257.3 1132.4L1260.3 1132.3L1263.3 1132.5L1266.3 1132.8L1269.3 1133.2L1270.3 1133.4L1272.3 1133.7L1275.3 1134.2L1278.3 1134.7L1281.3 1135.0L1284.3 1134.9L1287.3 1134.2L1288.9 1133.4L1290.3 1132.5L1292.7 1130.4L1293.3 1129.8L1295.2 1127.4L1296.3 1125.8L1297.2 1124.4L1298.8 1121.4L1299.3 1120.3L1300.2 1118.4L1301.2 1115.4L1301.8 1112.4L1302.0 1109.4L1301.7 1106.4L1301.0 1103.4L1299.7 1100.4L1299.3 1099.8L1297.8 1097.5L1296.3 1095.8L1295.0 1094.5L1293.3 1093.1L1290.9 1091.5L1290.3 1091.1L1287.3 1089.8L1284.3 1088.9L1282.5 1088.5L1281.3 1088.2L1278.3 1087.9L1275.3 1087.7L1272.3 1087.7L1269.3 1087.8L1266.3 1088.0L1263.3 1088.1L1260.3 1088.3L1257.4 1088.5L1257.3 1088.5L1254.3 1088.7L1251.3 1088.9L1248.2 1089.1L1245.2 1089.4L1242.2 1089.7L1239.2 1090.0L1236.2 1090.2L1233.2 1090.4L1230.2 1090.5L1227.2 1090.4L1224.2 1090.3L1221.2 1090.1L1218.2 1089.7L1215.2 1089.4L1212.2 1089.0L1209.2 1088.7L1207.1 1088.5L1206.2 1088.4L1203.2 1088.1L1200.2 1087.8L1197.2 1087.6L1194.2 1087.3L1191.2 1087.0L1188.2 1086.7L1185.2 1086.3L1182.2 1085.9L1179.6 1085.5L1179.2 1085.4L1176.2 1085.0L1173.2 1084.5L1170.2 1084.0L1167.2 1083.5L1164.1 1083.1L1161.1 1082.7L1159.7 1082.5L1158.1 1082.3L1155.1 1081.9L1152.1 1081.6L1149.1 1081.4L1146.1 1081.1L1143.1 1081.0L1140.1 1080.8L1137.1 1080.7L1134.1 1080.7L1131.1 1080.7L1128.1 1080.8L1125.1 1081.0L1122.1 1081.3L1119.1 1081.6L1116.1 1082.1L1114.2 1082.5L1113.1 1082.7L1110.1 1083.5L1107.1 1084.4L1104.1 1085.4L1104.0 1085.5L1101.1 1086.7L1098.1 1088.2L1097.5 1088.5L1095.1 1089.8L1092.5 1091.5L1092.1 1091.7L1089.1 1093.8L1088.1 1094.5L1086.1 1096.0L1084.1 1097.5L1083.0 1098.3L1080.3 1100.4L1080.0 1100.6L1077.0 1102.9L1076.3 1103.4L1074.0 1105.1L1072.2 1106.4L1071.0 1107.2L1068.0 1109.1L1067.6 1109.4L1065.0 1110.9L1062.5 1112.4L1062.0 1112.7L1059.0 1114.2L1056.7 1115.4L1056.0 1115.7L1053.0 1117.1L1050.1 1118.4L1050.0 1118.5L1047.0 1119.9L1044.0 1121.1L1044.0 1118.4L1044.0 1116.7L1047.0 1115.7L1047.7 1115.4L1050.0 1114.5L1053.0 1113.0L1054.1 1112.4L1056.0 1111.3L1058.8 1109.4L1059.0 1109.3L1062.0 1107.0L1062.8 1106.4L1065.0 1104.6L1066.4 1103.4L1068.0 1102.0L1069.8 1100.4L1071.0 1099.3L1073.1 1097.5L1074.0 1096.6L1076.4 1094.5L1077.0 1093.9L1079.8 1091.5L1080.0 1091.2L1083.0 1088.7L1083.3 1088.5L1086.1 1086.3L1087.1 1085.5L1089.1 1084.0L1091.3 1082.5L1092.1 1082.0L1095.1 1080.1L1096.2 1079.5L1098.1 1078.4L1101.1 1076.9L1102.1 1076.5L1104.1 1075.6L1107.1 1074.5L1110.1 1073.6L1110.3 1073.5Z" fill="#3b5fab" stroke="#3b5fab" stroke-width="0.6" fill-rule="evenodd"/>
<path d="M1113.1 1063.8L1116.1 1063.1L1119.1 1062.6L1122.1 1062.2L1125.1 1062.0L1128.1 1061.8L1131.1 1061.7L1134.1 1061.7L1137.1 1061.7L1140.1 1061.8L1143.1 1062.0L1146.1 1062.3L1149.1 1062.5L1152.1 1062.8L1155.1 1063.2L1158.1 1063.6L1161.1 1064.0L1164.1 1064.5L1164.4 1064.5L1167.2 1064.9L1170.2 1065.4L1173.2 1066.0L1176.2 1066.5L1179.2 1067.0L1182.1 1067.5L1182.2 1067.5L1185.2 1068.0L1188.2 1068.5L1191.2 1069.0L1194.2 1069.5L1197.2 1070.0L1200.2 1070.4L1200.9 1070.5L1203.2 1070.8L1206.2 1071.3L1209.2 1071.7L1212.2 1072.0L1215.2 1072.4L1218.2 1072.7L1221.2 1073.0L1224.2 1073.2L1227.2 1073.4L1230.2 1073.5L1233.2 1073.5L1236.2 1073.4L1239.2 1073.2L1242.2 1073.0L1245.2 1072.7L1248.2 1072.4L1251.3 1072.0L1254.3 1071.7L1257.3 1071.3L1260.3 1071.0L1263.3 1070.7L1264.7 1070.5L1266.3 1070.3L1269.3 1070.1L1272.3 1069.8L1275.3 1069.6L1278.3 1069.4L1281.3 1069.3L1284.3 1069.2L1287.3 1069.2L1290.3 1069.3L1293.3 1069.5L1296.3 1069.7L1299.3 1070.1L1301.6 1070.5L1302.3 1070.6L1305.3 1071.4L1308.3 1072.4L1310.9 1073.5L1311.3 1073.7L1314.3 1075.6L1315.4 1076.5L1317.3 1078.1L1318.8 1079.5L1320.3 1081.0L1322.0 1082.5L1323.3 1083.7L1325.5 1085.5L1326.3 1086.1L1329.3 1088.3L1329.6 1088.5L1332.4 1090.4L1333.9 1091.5L1335.4 1092.5L1338.2 1094.5L1338.4 1094.6L1341.4 1096.8L1342.3 1097.5L1344.4 1099.0L1346.3 1100.4L1347.4 1101.3L1350.0 1103.4L1350.4 1103.8L1353.2 1106.4L1353.4 1106.7L1355.8 1109.4L1356.4 1110.2L1357.9 1112.4L1359.4 1115.2L1359.5 1115.4L1360.5 1118.4L1360.9 1121.4L1360.7 1124.4L1359.6 1127.4L1359.4 1127.6L1356.4 1130.4L1356.4 1130.4L1353.4 1131.6L1350.4 1132.3L1347.4 1132.7L1344.4 1132.7L1341.4 1132.3L1338.4 1131.7L1335.4 1131.0L1332.8 1130.4L1332.4 1130.3L1329.3 1129.6L1326.3 1129.3L1323.3 1129.5L1320.3 1130.2L1319.8 1130.4L1317.3 1131.3L1314.3 1133.1L1313.9 1133.4L1311.3 1135.3L1310.2 1136.4L1308.3 1138.1L1307.1 1139.4L1305.3 1141.1L1304.1 1142.4L1302.3 1144.0L1300.8 1145.4L1299.3 1146.5L1296.3 1148.4L1296.3 1148.4L1293.3 1149.4L1290.3 1150.0L1287.3 1150.0L1284.3 1149.6L1281.3 1149.0L1278.8 1148.4L1278.3 1148.2L1275.3 1147.3L1272.3 1146.5L1269.3 1145.8L1266.7 1145.4L1266.3 1145.3L1263.3 1144.9L1260.3 1144.6L1257.3 1144.6L1254.3 1144.7L1251.3 1145.0L1249.2 1145.4L1248.2 1145.5L1245.2 1146.1L1242.2 1146.8L1239.2 1147.6L1236.2 1148.4L1236.2 1148.4L1233.2 1148.9L1230.2 1149.3L1227.2 1149.5L1224.2 1149.4L1221.2 1149.2L1218.2 1148.8L1215.3 1148.4L1215.2 1148.4L1212.2 1147.9L1209.2 1147.5L1206.2 1147.3L1203.2 1147.2L1200.2 1147.2L1197.2 1147.4L1194.2 1147.8L1191.2 1148.3L1191.1 1148.4L1188.2 1149.0L1185.2 1149.8L1182.2 1150.8L1180.6 1151.4L1179.2 1151.9L1176.2 1153.0L1173.2 1154.1L1172.5 1154.4L1170.2 1155.1L1167.2 1155.8L1164.1 1156.3L1161.1 1156.5L1158.1 1156.6L1155.1 1156.5L1152.1 1156.3L1149.1 1156.2L1146.1 1156.1L1143.1 1156.1L1140.1 1156.2L1137.1 1156.5L1134.1 1156.9L1131.6 1157.4L1131.1 1157.4L1128.1 1158.1L1125.1 1158.8L1122.1 1159.7L1120.1 1160.3L1119.1 1160.7L1116.1 1161.7L1113.1 1162.9L1111.9 1163.3L1110.1 1164.0L1107.1 1165.2L1104.1 1166.3L1103.9 1166.3L1101.1 1167.3L1098.1 1168.2L1095.1 1169.0L1094.1 1169.3L1092.1 1169.9L1089.1 1170.7L1086.1 1171.5L1083.5 1172.3L1083.0 1172.5L1080.0 1173.4L1077.0 1174.4L1074.2 1175.3L1074.0 1175.4L1071.0 1176.3L1068.0 1177.1L1065.0 1177.8L1062.3 1178.3L1062.0 1178.4L1059.0 1178.7L1056.0 1178.8L1053.0 1178.8L1050.0 1178.5L1048.2 1178.3L1047.0 1178.2L1044.0 1177.8L1044.0 1175.3L1044.0 1172.3L1044.0 1171.5L1047.0 1172.2L1047.5 1172.3L1050.0 1172.9L1053.0 1173.4L1056.0 1173.8L1059.0 1173.9L1062.0 1173.7L1065.0 1173.3L1068.0 1172.6L1069.1 1172.3L1071.0 1171.8L1074.0 1170.8L1077.0 1169.8L1078.5 1169.3L1080.0 1168.8L1083.0 1167.7L1086.1 1166.8L1087.5 1166.3L1089.1 1165.9L1092.1 1165.0L1095.1 1164.1L1097.9 1163.3L1098.1 1163.3L1101.1 1162.3L1104.1 1161.3L1106.7 1160.3L1107.1 1160.2L1110.1 1159.1L1113.1 1158.0L1114.9 1157.4L1116.1 1156.9L1119.1 1155.9L1122.1 1155.0L1124.5 1154.4L1125.1 1154.2L1128.1 1153.5L1131.1 1152.8L1134.1 1152.3L1137.1 1152.0L1140.1 1151.7L1143.1 1151.6L1146.1 1151.6L1149.1 1151.7L1152.1 1151.8L1155.1 1152.0L1158.1 1152.1L1161.1 1152.0L1164.1 1151.7L1166.3 1151.4L1167.2 1151.2L1170.2 1150.3L1173.2 1149.2L1175.6 1148.4L1176.2 1148.1L1179.2 1147.0L1182.2 1146.0L1184.1 1145.4L1185.2 1145.0L1188.2 1144.2L1191.2 1143.6L1194.2 1143.1L1197.2 1142.8L1200.2 1142.6L1203.2 1142.6L1206.2 1142.7L1209.2 1142.9L1212.2 1143.2L1215.2 1143.7L1218.2 1144.1L1221.2 1144.5L1224.2 1144.8L1227.2 1144.9L1230.2 1144.6L1233.2 1144.1L1236.2 1143.4L1239.2 1142.7L1240.4 1142.4L1242.2 1141.8L1245.2 1141.0L1248.2 1140.4L1251.3 1139.9L1254.3 1139.6L1257.3 1139.4L1260.3 1139.4L1263.3 1139.6L1266.3 1140.0L1269.3 1140.5L1272.3 1141.2L1275.3 1142.0L1276.7 1142.4L1278.3 1142.8L1281.3 1143.5L1284.3 1144.0L1287.3 1144.1L1290.3 1143.7L1293.3 1142.6L1293.7 1142.4L1296.3 1140.5L1297.6 1139.4L1299.3 1137.6L1300.4 1136.4L1302.3 1134.1L1302.9 1133.4L1305.3 1130.4L1305.3 1130.4L1307.8 1127.4L1308.3 1126.7L1310.3 1124.4L1311.3 1123.1L1312.9 1121.4L1314.3 1119.4L1315.2 1118.4L1317.0 1115.4L1317.3 1114.5L1318.2 1112.4L1318.7 1109.4L1318.4 1106.4L1317.6 1103.4L1317.3 1102.8L1316.4 1100.4L1314.6 1097.5L1314.3 1097.0L1312.6 1094.5L1311.3 1092.9L1310.1 1091.5L1308.3 1089.5L1307.4 1088.5L1305.3 1086.6L1304.0 1085.5L1302.3 1084.2L1299.6 1082.5L1299.3 1082.3L1296.3 1080.9L1293.3 1079.9L1291.9 1079.5L1290.3 1079.1L1287.3 1078.6L1284.3 1078.2L1281.3 1078.0L1278.3 1077.9L1275.3 1078.0L1272.3 1078.1L1269.3 1078.3L1266.3 1078.5L1263.3 1078.7L1260.3 1079.0L1257.3 1079.3L1255.9 1079.5L1254.3 1079.7L1251.3 1080.0L1248.2 1080.3L1245.2 1080.6L1242.2 1080.9L1239.2 1081.1L1236.2 1081.3L1233.2 1081.4L1230.2 1081.5L1227.2 1081.4L1224.2 1081.3L1221.2 1081.1L1218.2 1080.8L1215.2 1080.5L1212.2 1080.2L1209.2 1079.8L1206.5 1079.5L1206.2 1079.4L1203.2 1079.1L1200.2 1078.7L1197.2 1078.3L1194.2 1078.0L1191.2 1077.5L1188.2 1077.1L1185.2 1076.7L1184.1 1076.5L1182.2 1076.2L1179.2 1075.7L1176.2 1075.2L1173.2 1074.7L1170.2 1074.3L1167.2 1073.8L1165.3 1073.5L1164.1 1073.3L1161.1 1072.9L1158.1 1072.5L1155.1 1072.1L1152.1 1071.8L1149.1 1071.5L1146.1 1071.3L1143.1 1071.0L1140.1 1070.9L1137.1 1070.8L1134.1 1070.7L1131.1 1070.7L1128.1 1070.8L1125.1 1071.0L1122.1 1071.3L1119.1 1071.6L1116.1 1072.1L1113.1 1072.8L1110.3 1073.5L1110.1 1073.6L1107.1 1074.5L1104.1 1075.6L1102.1 1076.5L1101.1 1076.9L1098.1 1078.4L1096.2 1079.5L1095.1 1080.1L1092.1 1082.0L1091.3 1082.5L1089.1 1084.0L1087.1 1085.5L1086.1 1086.3L1083.3 1088.5L1083.0 1088.7L1080.0 1091.2L1079.8 1091.5L1077.0 1093.9L1076.4 1094.5L1074.0 1096.6L1073.1 1097.5L1071.0 1099.3L1069.8 1100.4L1068.0 1102.0L1066.4 1103.4L1065.0 1104.6L1062.8 1106.4L1062.0 1107.0L1059.0 1109.3L1058.8 1109.4L1056.0 1111.3L1054.1 1112.4L1053.0 1113.0L1050.0 1114.5L1047.7 1115.4L1047.0 1115.7L1044.0 1116.7L1044.0 1115.4L1044.0 1112.5L1044.3 1112.4L1047.0 1111.4L1050.0 1110.0L1050.9 1109.4L1053.0 1108.0L1055.0 1106.4L1056.0 1105.6L1058.4 1103.4L1059.0 1102.8L1061.4 1100.4L1062.0 1099.7L1064.2 1097.5L1065.0 1096.6L1067.1 1094.5L1068.0 1093.4L1070.0 1091.5L1071.0 1090.4L1073.0 1088.5L1074.0 1087.4L1076.1 1085.5L1077.0 1084.6L1079.4 1082.5L1080.0 1081.9L1083.0 1079.5L1083.0 1079.4L1086.1 1077.0L1086.8 1076.5L1089.1 1074.8L1091.0 1073.5L1092.1 1072.8L1095.1 1070.9L1095.9 1070.5L1098.1 1069.3L1101.1 1067.8L1101.8 1067.5L1104.1 1066.5L1107.1 1065.5L1110.1 1064.5L1110.1 1064.5Z" fill="#4562ab" stroke="#4562ab" stroke-width="0.6" fill-rule="evenodd"/>
<path d="M1113.1 1055.2L1116.1 1054.6L1119.1 1054.1L1122.1 1053.7L1125.1 1053.4L1128.1 1053.2L1131.1 1053.1L1134.1 1053.0L1137.1 1053.1L1140.1 1053.2L1143.1 1053.3L1146.1 1053.6L1149.1 1053.9L1152.1 1054.2L1155.1 1054.6L1158.1 1055.0L1161.1 1055.5L1161.2 1055.5L1164.1 1056.0L1167.2 1056.5L1170.2 1057.1L1173.2 1057.6L1176.2 1058.2L1177.8 1058.5L1179.2 1058.8L1182.2 1059.3L1185.2 1059.9L1188.2 1060.4L1191.2 1061.0L1194.2 1061.5L1194.4 1061.5L1197.2 1062.0L1200.2 1062.5L1203.2 1062.9L1206.2 1063.4L1209.2 1063.8L1212.2 1064.2L1214.5 1064.5L1215.2 1064.6L1218.2 1064.9L1221.2 1065.2L1224.2 1065.5L1227.2 1065.6L1230.2 1065.7L1233.2 1065.7L1236.2 1065.7L1239.2 1065.5L1242.2 1065.3L1245.2 1065.1L1248.2 1064.8L1251.1 1064.5L1251.3 1064.5L1254.3 1064.2L1257.3 1063.8L1260.3 1063.5L1263.3 1063.2L1266.3 1062.8L1269.3 1062.5L1272.3 1062.2L1275.3 1061.9L1278.3 1061.7L1280.1 1061.5L1281.3 1061.4L1284.3 1061.2L1287.3 1061.0L1290.3 1060.8L1293.3 1060.7L1296.3 1060.6L1299.3 1060.5L1302.3 1060.4L1305.3 1060.4L1308.3 1060.4L1311.3 1060.5L1314.3 1060.6L1317.3 1061.0L1320.3 1061.5L1320.5 1061.5L1323.3 1062.3L1326.3 1063.4L1329.3 1064.5L1329.4 1064.5L1332.4 1065.8L1335.4 1067.0L1337.1 1067.5L1338.4 1068.0L1341.4 1068.8L1344.4 1069.3L1347.4 1069.8L1349.6 1070.5L1350.4 1070.8L1353.4 1073.3L1353.6 1073.5L1355.3 1076.5L1356.4 1078.7L1356.7 1079.5L1358.2 1082.5L1359.4 1084.2L1360.3 1085.5L1362.4 1087.8L1362.9 1088.5L1365.4 1090.8L1366.0 1091.5L1368.4 1093.6L1369.3 1094.5L1371.4 1096.3L1372.7 1097.5L1374.4 1098.9L1376.2 1100.4L1377.4 1101.5L1379.8 1103.4L1380.4 1104.0L1383.3 1106.4L1383.4 1106.5L1386.4 1109.1L1386.8 1109.4L1389.4 1111.8L1390.1 1112.4L1392.4 1114.7L1393.1 1115.4L1395.4 1118.1L1395.7 1118.4L1397.8 1121.4L1398.4 1122.8L1399.2 1124.4L1400.1 1127.4L1400.4 1130.4L1400.0 1133.4L1398.9 1136.4L1398.4 1137.3L1397.2 1139.4L1395.4 1141.6L1394.7 1142.4L1392.4 1144.2L1390.8 1145.4L1389.4 1146.1L1386.4 1147.3L1383.4 1148.1L1382.1 1148.4L1380.4 1148.6L1377.4 1148.8L1374.4 1148.8L1371.4 1148.7L1368.4 1148.5L1367.5 1148.4L1365.4 1148.1L1362.4 1147.7L1359.4 1147.2L1356.4 1146.6L1353.4 1146.0L1350.4 1145.4L1350.4 1145.4L1347.4 1144.6L1344.4 1143.8L1341.4 1142.9L1339.5 1142.4L1338.4 1142.0L1335.4 1141.0L1332.4 1140.1L1329.6 1139.4L1329.3 1139.3L1326.3 1138.8L1323.3 1138.6L1320.3 1139.0L1319.3 1139.4L1317.3 1140.0L1314.3 1141.6L1313.3 1142.4L1311.3 1143.7L1309.4 1145.4L1308.3 1146.1L1305.5 1148.4L1305.3 1148.5L1302.3 1150.5L1300.9 1151.4L1299.3 1152.1L1296.3 1153.2L1293.3 1153.9L1290.3 1154.2L1287.3 1154.1L1284.3 1153.7L1281.3 1153.1L1278.3 1152.4L1275.3 1151.6L1274.3 1151.4L1272.3 1150.8L1269.3 1150.1L1266.3 1149.6L1263.3 1149.2L1260.3 1148.9L1257.3 1148.9L1254.3 1149.0L1251.3 1149.2L1248.2 1149.6L1245.2 1150.2L1242.2 1150.8L1240.0 1151.4L1239.2 1151.5L1236.2 1152.1L1233.2 1152.6L1230.2 1152.9L1227.2 1153.1L1224.2 1153.0L1221.2 1152.8L1218.2 1152.5L1215.2 1152.1L1212.2 1151.8L1209.2 1151.5L1207.2 1151.4L1206.2 1151.3L1203.2 1151.2L1200.2 1151.3L1199.1 1151.4L1197.2 1151.5L1194.2 1151.9L1191.2 1152.4L1188.2 1153.1L1185.2 1153.9L1183.8 1154.4L1182.2 1154.9L1179.2 1155.9L1176.2 1157.0L1175.0 1157.4L1173.2 1157.9L1170.2 1158.8L1167.2 1159.4L1164.1 1159.9L1161.1 1160.1L1158.1 1160.2L1155.1 1160.2L1152.1 1160.1L1149.1 1160.0L1146.1 1160.0L1143.1 1160.1L1140.1 1160.2L1139.1 1160.3L1137.1 1160.5L1134.1 1161.0L1131.1 1161.5L1128.1 1162.2L1125.1 1163.0L1124.0 1163.3L1122.1 1163.9L1119.1 1164.9L1116.1 1166.0L1115.3 1166.3L1113.1 1167.2L1110.1 1168.3L1107.5 1169.3L1107.1 1169.5L1104.1 1170.6L1101.1 1171.5L1098.5 1172.3L1098.1 1172.4L1095.1 1173.2L1092.1 1174.0L1089.1 1174.9L1087.5 1175.3L1086.1 1175.7L1083.0 1176.6L1080.0 1177.6L1077.7 1178.3L1077.0 1178.5L1074.0 1179.5L1071.0 1180.5L1068.2 1181.3L1068.0 1181.4L1065.0 1182.2L1062.0 1182.8L1059.0 1183.3L1056.0 1183.6L1053.0 1183.7L1050.0 1183.6L1047.0 1183.5L1044.0 1183.3L1044.0 1181.3L1044.0 1178.3L1044.0 1177.8L1047.0 1178.2L1048.2 1178.3L1050.0 1178.5L1053.0 1178.8L1056.0 1178.8L1059.0 1178.7L1062.0 1178.4L1062.3 1178.3L1065.0 1177.8L1068.0 1177.1L1071.0 1176.3L1074.0 1175.4L1074.2 1175.3L1077.0 1174.4L1080.0 1173.4L1083.0 1172.5L1083.5 1172.3L1086.1 1171.5L1089.1 1170.7L1092.1 1169.9L1094.1 1169.3L1095.1 1169.0L1098.1 1168.2L1101.1 1167.3L1103.9 1166.3L1104.1 1166.3L1107.1 1165.2L1110.1 1164.0L1111.9 1163.3L1113.1 1162.9L1116.1 1161.7L1119.1 1160.7L1120.1 1160.3L1122.1 1159.7L1125.1 1158.8L1128.1 1158.1L1131.1 1157.4L1131.6 1157.4L1134.1 1156.9L1137.1 1156.5L1140.1 1156.2L1143.1 1156.1L1146.1 1156.1L1149.1 1156.2L1152.1 1156.3L1155.1 1156.5L1158.1 1156.6L1161.1 1156.5L1164.1 1156.3L1167.2 1155.8L1170.2 1155.1L1172.5 1154.4L1173.2 1154.1L1176.2 1153.0L1179.2 1151.9L1180.6 1151.4L1182.2 1150.8L1185.2 1149.8L1188.2 1149.0L1191.1 1148.4L1191.2 1148.3L1194.2 1147.8L1197.2 1147.4L1200.2 1147.2L1203.2 1147.2L1206.2 1147.3L1209.2 1147.5L1212.2 1147.9L1215.2 1148.4L1215.3 1148.4L1218.2 1148.8L1221.2 1149.2L1224.2 1149.4L1227.2 1149.5L1230.2 1149.3L1233.2 1148.9L1236.2 1148.4L1236.2 1148.4L1239.2 1147.6L1242.2 1146.8L1245.2 1146.1L1248.2 1145.5L1249.2 1145.4L1251.3 1145.0L1254.3 1144.7L1257.3 1144.6L1260.3 1144.6L1263.3 1144.9L1266.3 1145.3L1266.7 1145.4L1269.3 1145.8L1272.3 1146.5L1275.3 1147.3L1278.3 1148.2L1278.8 1148.4L1281.3 1149.0L1284.3 1149.6L1287.3 1150.0L1290.3 1150.0L1293.3 1149.4L1296.3 1148.4L1296.3 1148.4L1299.3 1146.5L1300.8 1145.4L1302.3 1144.0L1304.1 1142.4L1305.3 1141.1L1307.1 1139.4L1308.3 1138.1L1310.2 1136.4L1311.3 1135.3L1313.9 1133.4L1314.3 1133.1L1317.3 1131.3L1319.8 1130.4L1320.3 1130.2L1323.3 1129.5L1326.3 1129.3L1329.3 1129.6L1332.4 1130.3L1332.8 1130.4L1335.4 1131.0L1338.4 1131.7L1341.4 1132.3L1344.4 1132.7L1347.4 1132.7L1350.4 1132.3L1353.4 1131.6L1356.4 1130.4L1356.4 1130.4L1359.4 1127.6L1359.6 1127.4L1360.7 1124.4L1360.9 1121.4L1360.5 1118.4L1359.5 1115.4L1359.4 1115.2L1357.9 1112.4L1356.4 1110.2L1355.8 1109.4L1353.4 1106.7L1353.2 1106.4L1350.4 1103.8L1350.0 1103.4L1347.4 1101.3L1346.3 1100.4L1344.4 1099.0L1342.3 1097.5L1341.4 1096.8L1338.4 1094.6L1338.2 1094.5L1335.4 1092.5L1333.9 1091.5L1332.4 1090.4L1329.6 1088.5L1329.3 1088.3L1326.3 1086.1L1325.5 1085.5L1323.3 1083.7L1322.0 1082.5L1320.3 1081.0L1318.8 1079.5L1317.3 1078.1L1315.4 1076.5L1314.3 1075.6L1311.3 1073.7L1310.9 1073.5L1308.3 1072.4L1305.3 1071.4L1302.3 1070.6L1301.6 1070.5L1299.3 1070.1L1296.3 1069.7L1293.3 1069.5L1290.3 1069.3L1287.3 1069.2L1284.3 1069.2L1281.3 1069.3L1278.3 1069.4L1275.3 1069.6L1272.3 1069.8L1269.3 1070.1L1266.3 1070.3L1264.7 1070.5L1263.3 1070.7L1260.3 1071.0L1257.3 1071.3L1254.3 1071.7L1251.3 1072.0L1248.2 1072.4L1245.2 1072.7L1242.2 1073.0L1239.2 1073.2L1236.2 1073.4L1233.2 1073.5L1230.2 1073.5L1227.2 1073.4L1224.2 1073.2L1221.2 1073.0L1218.2 1072.7L1215.2 1072.4L1212.2 1072.0L1209.2 1071.7L1206.2 1071.3L1203.2 1070.8L1200.9 1070.5L1200.2 1070.4L1197.2 1070.0L1194.2 1069.5L1191.2 1069.0L1188.2 1068.5L1185.2 1068.0L1182.2 1067.5L1182.1 1067.5L1179.2 1067.0L1176.2 1066.5L1173.2 1066.0L1170.2 1065.4L1167.2 1064.9L1164.4 1064.5L1164.1 1064.5L1161.1 1064.0L1158.1 1063.6L1155.1 1063.2L1152.1 1062.8L1149.1 1062.5L1146.1 1062.3L1143.1 1062.0L1140.1 1061.8L1137.1 1061.7L1134.1 1061.7L1131.1 1061.7L1128.1 1061.8L1125.1 1062.0L1122.1 1062.2L1119.1 1062.6L1116.1 1063.1L1113.1 1063.8L1110.1 1064.5L1110.1 1064.5L1107.1 1065.5L1104.1 1066.5L1101.8 1067.5L1101.1 1067.8L1098.1 1069.3L1095.9 1070.5L1095.1 1070.9L1092.1 1072.8L1091.0 1073.5L1089.1 1074.8L1086.8 1076.5L1086.1 1077.0L1083.0 1079.4L1083.0 1079.5L1080.0 1081.9L1079.4 1082.5L1077.0 1084.6L1076.1 1085.5L1074.0 1087.4L1073.0 1088.5L1071.0 1090.4L1070.0 1091.5L1068.0 1093.4L1067.1 1094.5L1065.0 1096.6L1064.2 1097.5L1062.0 1099.7L1061.4 1100.4L1059.0 1102.8L1058.4 1103.4L1056.0 1105.6L1055.0 1106.4L1053.0 1108.0L1050.9 1109.4L1050.0 1110.0L1047.0 1111.4L1044.3 1112.4L1044.0 1112.5L1044.0 1112.4L1044.0 1109.4L1044.0 1107.1L1045.5 1106.4L1047.0 1105.6L1050.0 1103.5L1050.1 1103.4L1053.0 1100.8L1053.3 1100.4L1056.0 1097.5L1056.1 1097.5L1058.6 1094.5L1059.0 1094.0L1061.2 1091.5L1062.0 1090.5L1063.8 1088.5L1065.0 1087.1L1066.6 1085.5L1068.0 1084.0L1069.5 1082.5L1071.0 1081.0L1072.6 1079.5L1074.0 1078.1L1075.9 1076.5L1077.0 1075.4L1079.3 1073.5L1080.0 1072.8L1082.9 1070.5L1083.0 1070.4L1086.1 1068.1L1086.8 1067.5L1089.1 1065.9L1091.2 1064.5L1092.1 1063.9L1095.1 1062.2L1096.3 1061.5L1098.1 1060.6L1101.1 1059.2L1102.6 1058.5L1104.1 1057.9L1107.1 1056.9L1110.1 1056.0L1111.9 1055.5Z" fill="#4e66b0" stroke="#4e66b0" stroke-width="0.6" fill-rule="evenodd"/>
<path d="M1731.8 944.6L1734.8 944.6L1736.0 944.7L1737.8 944.9L1740.8 945.4L1743.9 946.3L1746.9 947.5L1747.2 947.7L1749.9 949.4L1751.5 950.7L1752.9 952.0L1754.3 953.7L1755.9 956.1L1756.2 956.7L1757.4 959.7L1758.1 962.7L1758.4 965.7L1758.3 968.7L1757.7 971.7L1756.8 974.7L1755.9 976.7L1755.5 977.6L1753.8 980.6L1752.9 981.9L1751.5 983.6L1749.9 985.4L1748.6 986.6L1746.9 988.1L1744.9 989.6L1743.9 990.4L1740.8 992.2L1740.0 992.6L1737.8 993.6L1734.8 994.6L1731.8 995.3L1728.8 995.6L1725.8 995.6L1722.8 995.4L1719.8 994.8L1716.8 994.0L1713.8 992.8L1713.4 992.6L1710.8 991.3L1708.2 989.6L1707.8 989.3L1704.8 986.7L1704.7 986.6L1702.2 983.6L1701.8 983.0L1700.4 980.6L1699.3 977.6L1698.8 975.1L1698.7 974.7L1698.7 971.7L1698.8 971.0L1699.2 968.7L1700.1 965.7L1701.5 962.7L1701.8 962.1L1703.2 959.7L1704.8 957.5L1705.4 956.7L1707.8 954.1L1708.2 953.7L1710.8 951.5L1712.0 950.7L1713.8 949.5L1716.8 948.0L1717.6 947.7L1719.8 946.8L1722.8 945.9L1725.8 945.2L1728.8 944.8L1730.5 944.7ZM1116.1 1046.4L1119.1 1045.9L1122.1 1045.4L1125.1 1045.1L1128.1 1044.8L1131.1 1044.7L1134.1 1044.6L1137.1 1044.6L1140.1 1044.6L1143.1 1044.8L1146.1 1045.0L1149.1 1045.3L1152.1 1045.7L1155.1 1046.1L1157.6 1046.5L1158.1 1046.6L1161.1 1047.1L1164.1 1047.7L1167.2 1048.3L1170.2 1048.9L1173.2 1049.5L1173.3 1049.5L1176.2 1050.1L1179.2 1050.7L1182.2 1051.3L1185.2 1051.9L1188.2 1052.5L1188.2 1052.5L1191.2 1053.1L1194.2 1053.6L1197.2 1054.2L1200.2 1054.7L1203.2 1055.2L1205.3 1055.5L1206.2 1055.7L1209.2 1056.1L1212.2 1056.5L1215.2 1056.9L1218.2 1057.3L1221.2 1057.6L1224.2 1057.8L1227.2 1058.0L1230.2 1058.1L1233.2 1058.2L1236.2 1058.1L1239.2 1058.0L1242.2 1057.9L1245.2 1057.7L1248.2 1057.4L1251.3 1057.2L1254.3 1056.9L1257.3 1056.6L1260.3 1056.3L1263.3 1056.0L1266.3 1055.6L1267.3 1055.5L1269.3 1055.3L1272.3 1055.0L1275.3 1054.7L1278.3 1054.4L1281.3 1054.1L1284.3 1053.8L1287.3 1053.5L1290.3 1053.3L1293.3 1053.0L1296.3 1052.8L1299.3 1052.6L1300.5 1052.5L1302.3 1052.4L1305.3 1052.3L1308.3 1052.2L1311.3 1052.2L1314.3 1052.2L1317.3 1052.4L1319.7 1052.5L1320.3 1052.6L1323.3 1052.9L1326.3 1053.3L1329.3 1053.8L1332.4 1054.3L1335.4 1054.7L1338.4 1055.2L1340.9 1055.5L1341.4 1055.6L1344.4 1056.0L1347.4 1056.3L1350.4 1056.7L1353.4 1057.2L1356.4 1057.8L1359.3 1058.5L1359.4 1058.6L1362.4 1059.6L1365.4 1060.8L1366.9 1061.5L1368.4 1062.3L1371.4 1064.2L1371.9 1064.5L1374.4 1066.7L1375.3 1067.5L1377.4 1070.2L1377.6 1070.5L1379.3 1073.5L1380.4 1076.0L1380.6 1076.5L1381.9 1079.5L1383.4 1082.2L1383.6 1082.5L1385.9 1085.5L1386.4 1086.0L1389.1 1088.5L1389.4 1088.7L1392.4 1091.0L1393.1 1091.5L1395.4 1093.1L1397.5 1094.5L1398.4 1095.1L1401.4 1097.1L1401.9 1097.5L1404.4 1099.3L1405.9 1100.4L1407.4 1101.6L1409.7 1103.4L1410.4 1104.0L1413.5 1106.4L1413.5 1106.4L1416.5 1108.9L1417.1 1109.4L1419.5 1111.5L1420.6 1112.4L1422.5 1114.3L1423.7 1115.4L1425.5 1117.5L1426.2 1118.4L1428.2 1121.4L1428.5 1121.9L1429.7 1124.4L1430.6 1127.4L1431.0 1130.4L1430.9 1133.4L1430.2 1136.4L1428.9 1139.4L1428.5 1140.2L1427.2 1142.4L1425.5 1144.6L1424.8 1145.4L1422.5 1147.7L1421.8 1148.4L1419.5 1150.2L1417.9 1151.4L1416.5 1152.2L1413.5 1154.0L1412.7 1154.4L1410.4 1155.3L1407.4 1156.4L1404.4 1157.2L1404.0 1157.4L1401.4 1157.8L1398.4 1158.3L1395.4 1158.6L1392.4 1158.8L1389.4 1158.8L1386.4 1158.8L1383.4 1158.7L1380.4 1158.4L1377.4 1158.1L1374.4 1157.8L1371.5 1157.4L1371.4 1157.3L1368.4 1156.8L1365.4 1156.3L1362.4 1155.8L1359.4 1155.2L1356.4 1154.6L1355.5 1154.4L1353.4 1153.9L1350.4 1153.1L1347.4 1152.3L1344.4 1151.4L1344.3 1151.4L1341.4 1150.4L1338.4 1149.4L1335.4 1148.4L1335.2 1148.4L1332.4 1147.4L1329.3 1146.6L1326.3 1146.1L1323.3 1146.0L1320.3 1146.4L1317.3 1147.3L1315.2 1148.4L1314.3 1148.8L1311.3 1150.5L1309.9 1151.4L1308.3 1152.2L1305.3 1153.9L1304.4 1154.4L1302.3 1155.2L1299.3 1156.3L1296.3 1157.0L1294.1 1157.4L1293.3 1157.5L1290.3 1157.6L1287.3 1157.5L1286.3 1157.4L1284.3 1157.1L1281.3 1156.6L1278.3 1155.9L1275.3 1155.2L1272.3 1154.5L1271.4 1154.4L1269.3 1153.9L1266.3 1153.3L1263.3 1152.9L1260.3 1152.7L1257.3 1152.6L1254.3 1152.7L1251.3 1152.9L1248.2 1153.3L1245.2 1153.8L1242.2 1154.3L1242.0 1154.4L1239.2 1154.8L1236.2 1155.3L1233.2 1155.7L1230.2 1156.0L1227.2 1156.1L1224.2 1156.1L1221.2 1156.0L1218.2 1155.8L1215.2 1155.5L1212.2 1155.2L1209.2 1155.0L1206.2 1154.9L1203.2 1154.8L1200.2 1154.9L1197.2 1155.2L1194.2 1155.5L1191.2 1156.1L1188.2 1156.8L1186.0 1157.4L1185.2 1157.6L1182.2 1158.5L1179.2 1159.4L1176.3 1160.3L1176.2 1160.4L1173.2 1161.2L1170.2 1161.9L1167.2 1162.5L1164.1 1162.9L1161.1 1163.2L1158.1 1163.3L1157.7 1163.3L1155.1 1163.4L1152.1 1163.4L1149.1 1163.4L1146.1 1163.5L1143.1 1163.6L1140.1 1163.9L1137.1 1164.2L1134.1 1164.7L1131.1 1165.3L1128.1 1166.0L1127.1 1166.3L1125.1 1166.9L1122.1 1167.8L1119.1 1168.9L1117.9 1169.3L1116.1 1170.0L1113.1 1171.1L1110.1 1172.3L1110.0 1172.3L1107.1 1173.4L1104.1 1174.4L1101.3 1175.3L1101.1 1175.4L1098.1 1176.2L1095.1 1177.1L1092.1 1177.9L1090.4 1178.3L1089.1 1178.7L1086.1 1179.5L1083.0 1180.4L1080.4 1181.3L1080.0 1181.4L1077.0 1182.4L1074.0 1183.5L1071.6 1184.3L1071.0 1184.5L1068.0 1185.5L1065.0 1186.4L1062.0 1187.2L1061.3 1187.3L1059.0 1187.7L1056.0 1188.2L1053.0 1188.4L1050.0 1188.5L1047.0 1188.4L1044.0 1188.4L1044.0 1187.3L1044.0 1184.3L1044.0 1183.3L1047.0 1183.5L1050.0 1183.6L1053.0 1183.7L1056.0 1183.6L1059.0 1183.3L1062.0 1182.8L1065.0 1182.2L1068.0 1181.4L1068.2 1181.3L1071.0 1180.5L1074.0 1179.5L1077.0 1178.5L1077.7 1178.3L1080.0 1177.6L1083.0 1176.6L1086.1 1175.7L1087.5 1175.3L1089.1 1174.9L1092.1 1174.0L1095.1 1173.2L1098.1 1172.4L1098.5 1172.3L1101.1 1171.5L1104.1 1170.6L1107.1 1169.5L1107.5 1169.3L1110.1 1168.3L1113.1 1167.2L1115.3 1166.3L1116.1 1166.0L1119.1 1164.9L1122.1 1163.9L1124.0 1163.3L1125.1 1163.0L1128.1 1162.2L1131.1 1161.5L1134.1 1161.0L1137.1 1160.5L1139.1 1160.3L1140.1 1160.2L1143.1 1160.1L1146.1 1160.0L1149.1 1160.0L1152.1 1160.1L1155.1 1160.2L1158.1 1160.2L1161.1 1160.1L1164.1 1159.9L1167.2 1159.4L1170.2 1158.8L1173.2 1157.9L1175.0 1157.4L1176.2 1157.0L1179.2 1155.9L1182.2 1154.9L1183.8 1154.4L1185.2 1153.9L1188.2 1153.1L1191.2 1152.4L1194.2 1151.9L1197.2 1151.5L1199.1 1151.4L1200.2 1151.3L1203.2 1151.2L1206.2 1151.3L1207.2 1151.4L1209.2 1151.5L1212.2 1151.8L1215.2 1152.1L1218.2 1152.5L1221.2 1152.8L1224.2 1153.0L1227.2 1153.1L1230.2 1152.9L1233.2 1152.6L1236.2 1152.1L1239.2 1151.5L1240.0 1151.4L1242.2 1150.8L1245.2 1150.2L1248.2 1149.6L1251.3 1149.2L1254.3 1149.0L1257.3 1148.9L1260.3 1148.9L1263.3 1149.2L1266.3 1149.6L1269.3 1150.1L1272.3 1150.8L1274.3 1151.4L1275.3 1151.6L1278.3 1152.4L1281.3 1153.1L1284.3 1153.7L1287.3 1154.1L1290.3 1154.2L1293.3 1153.9L1296.3 1153.2L1299.3 1152.1L1300.9 1151.4L1302.3 1150.5L1305.3 1148.5L1305.5 1148.4L1308.3 1146.1L1309.4 1145.4L1311.3 1143.7L1313.3 1142.4L1314.3 1141.6L1317.3 1140.0L1319.3 1139.4L1320.3 1139.0L1323.3 1138.6L1326.3 1138.8L1329.3 1139.3L1329.6 1139.4L1332.4 1140.1L1335.4 1141.0L1338.4 1142.0L1339.5 1142.4L1341.4 1142.9L1344.4 1143.8L1347.4 1144.6L1350.4 1145.4L1350.4 1145.4L1353.4 1146.0L1356.4 1146.6L1359.4 1147.2L1362.4 1147.7L1365.4 1148.1L1367.5 1148.4L1368.4 1148.5L1371.4 1148.7L1374.4 1148.8L1377.4 1148.8L1380.4 1148.6L1382.1 1148.4L1383.4 1148.1L1386.4 1147.3L1389.4 1146.1L1390.8 1145.4L1392.4 1144.2L1394.7 1142.4L1395.4 1141.6L1397.2 1139.4L1398.4 1137.3L1398.9 1136.4L1400.0 1133.4L1400.4 1130.4L1400.1 1127.4L1399.2 1124.4L1398.4 1122.8L1397.8 1121.4L1395.7 1118.4L1395.4 1118.1L1393.1 1115.4L1392.4 1114.7L1390.1 1112.4L1389.4 1111.8L1386.8 1109.4L1386.4 1109.1L1383.4 1106.5L1383.3 1106.4L1380.4 1104.0L1379.8 1103.4L1377.4 1101.5L1376.2 1100.4L1374.4 1098.9L1372.7 1097.5L1371.4 1096.3L1369.3 1094.5L1368.4 1093.6L1366.0 1091.5L1365.4 1090.8L1362.9 1088.5L1362.4 1087.8L1360.3 1085.5L1359.4 1084.2L1358.2 1082.5L1356.7 1079.5L1356.4 1078.7L1355.3 1076.5L1353.6 1073.5L1353.4 1073.3L1350.4 1070.8L1349.6 1070.5L1347.4 1069.8L1344.4 1069.3L1341.4 1068.8L1338.4 1068.0L1337.1 1067.5L1335.4 1067.0L1332.4 1065.8L1329.4 1064.5L1329.3 1064.5L1326.3 1063.4L1323.3 1062.3L1320.5 1061.5L1320.3 1061.5L1317.3 1061.0L1314.3 1060.6L1311.3 1060.5L1308.3 1060.4L1305.3 1060.4L1302.3 1060.4L1299.3 1060.5L1296.3 1060.6L1293.3 1060.7L1290.3 1060.8L1287.3 1061.0L1284.3 1061.2L1281.3 1061.4L1280.1 1061.5L1278.3 1061.7L1275.3 1061.9L1272.3 1062.2L1269.3 1062.5L1266.3 1062.8L1263.3 1063.2L1260.3 1063.5L1257.3 1063.8L1254.3 1064.2L1251.3 1064.5L1251.1 1064.5L1248.2 1064.8L1245.2 1065.1L1242.2 1065.3L1239.2 1065.5L1236.2 1065.7L1233.2 1065.7L1230.2 1065.7L1227.2 1065.6L1224.2 1065.5L1221.2 1065.2L1218.2 1064.9L1215.2 1064.6L1214.5 1064.5L1212.2 1064.2L1209.2 1063.8L1206.2 1063.4L1203.2 1062.9L1200.2 1062.5L1197.2 1062.0L1194.4 1061.5L1194.2 1061.5L1191.2 1061.0L1188.2 1060.4L1185.2 1059.9L1182.2 1059.3L1179.2 1058.8L1177.8 1058.5L1176.2 1058.2L1173.2 1057.6L1170.2 1057.1L1167.2 1056.5L1164.1 1056.0L1161.2 1055.5L1161.1 1055.5L1158.1 1055.0L1155.1 1054.6L1152.1 1054.2L1149.1 1053.9L1146.1 1053.6L1143.1 1053.3L1140.1 1053.2L1137.1 1053.1L1134.1 1053.0L1131.1 1053.1L1128.1 1053.2L1125.1 1053.4L1122.1 1053.7L1119.1 1054.1L1116.1 1054.6L1113.1 1055.2L1111.9 1055.5L1110.1 1056.0L1107.1 1056.9L1104.1 1057.9L1102.6 1058.5L1101.1 1059.2L1098.1 1060.6L1096.3 1061.5L1095.1 1062.2L1092.1 1063.9L1091.2 1064.5L1089.1 1065.9L1086.8 1067.5L1086.1 1068.1L1083.0 1070.4L1082.9 1070.5L1080.0 1072.8L1079.3 1073.5L1077.0 1075.4L1075.9 1076.5L1074.0 1078.1L1072.6 1079.5L1071.0 1081.0L1069.5 1082.5L1068.0 1084.0L1066.6 1085.5L1065.0 1087.1L1063.8 1088.5L1062.0 1090.5L1061.2 1091.5L1059.0 1094.0L1058.6 1094.5L1056.1 1097.5L1056.0 1097.5L1053.3 1100.4L1053.0 1100.8L1050.1 1103.4L1050.0 1103.5L1047.0 1105.6L1045.5 1106.4L1044.0 1107.1L1044.0 1106.4L1044.0 1103.4L1044.0 1100.4L1044.0 1098.8L1046.0 1097.5L1047.0 1096.7L1049.4 1094.5L1050.0 1093.9L1052.2 1091.5L1053.0 1090.5L1054.7 1088.5L1056.0 1087.0L1057.4 1085.5L1059.0 1083.7L1060.1 1082.5L1062.0 1080.5L1063.0 1079.5L1065.0 1077.5L1066.0 1076.5L1068.0 1074.6L1069.2 1073.5L1071.0 1071.8L1072.4 1070.5L1074.0 1069.0L1075.8 1067.5L1077.0 1066.4L1079.3 1064.5L1080.0 1063.8L1083.0 1061.5L1083.0 1061.5L1086.1 1059.2L1087.1 1058.5L1089.1 1057.1L1091.6 1055.5L1092.1 1055.3L1095.1 1053.6L1097.1 1052.5L1098.1 1052.0L1101.1 1050.7L1104.1 1049.6L1104.2 1049.5L1107.1 1048.6L1110.1 1047.7L1113.1 1047.0L1115.3 1046.5Z" fill="#6472b4" stroke="#6472b4" stroke-width="0.6" fill-rule="evenodd"/>
<path d="M1746.9 866.3L1749.9 865.6L1752.9 865.0L1755.9 864.5L1758.9 864.3L1761.9 864.2L1764.9 864.3L1767.9 864.6L1770.9 865.0L1773.9 865.6L1776.9 866.4L1778.1 866.8L1779.9 867.4L1782.9 868.7L1785.3 869.8L1785.9 870.2L1788.9 871.9L1790.2 872.8L1791.9 874.1L1794.1 875.8L1794.9 876.5L1797.3 878.8L1797.9 879.4L1800.1 881.8L1800.9 882.8L1802.5 884.8L1803.9 886.7L1804.7 887.8L1806.7 890.8L1806.9 891.2L1808.4 893.8L1809.9 896.7L1810.0 896.8L1811.3 899.8L1812.5 902.8L1812.9 903.9L1813.6 905.8L1814.6 908.8L1815.5 911.8L1815.9 913.4L1816.3 914.8L1817.0 917.7L1817.6 920.7L1818.1 923.7L1818.5 926.7L1818.9 929.7L1818.9 930.7L1819.1 932.7L1819.2 935.7L1819.3 938.7L1819.3 941.7L1819.2 944.7L1819.1 947.7L1818.9 950.1L1818.9 950.7L1818.7 953.7L1818.4 956.7L1818.0 959.7L1817.6 962.7L1817.1 965.7L1816.5 968.7L1815.9 971.6L1815.9 971.7L1815.2 974.7L1814.5 977.6L1813.6 980.6L1812.9 982.9L1812.7 983.6L1811.7 986.6L1810.5 989.6L1809.9 991.1L1809.3 992.6L1807.9 995.6L1806.9 997.7L1806.5 998.6L1805.0 1001.6L1803.9 1003.5L1803.3 1004.6L1801.6 1007.6L1800.9 1008.7L1799.8 1010.6L1797.9 1013.4L1797.8 1013.6L1795.7 1016.6L1794.9 1017.7L1793.5 1019.6L1791.9 1021.6L1791.2 1022.6L1788.9 1025.3L1788.6 1025.6L1785.9 1028.5L1785.9 1028.6L1782.9 1031.4L1782.8 1031.6L1779.9 1033.9L1779.1 1034.6L1776.9 1036.2L1775.1 1037.5L1773.9 1038.3L1770.9 1040.4L1770.7 1040.5L1767.9 1042.3L1765.9 1043.5L1764.9 1044.1L1761.9 1045.7L1760.1 1046.5L1758.9 1047.1L1755.9 1048.3L1752.9 1049.4L1752.6 1049.5L1749.9 1050.5L1746.9 1051.5L1744.0 1052.5L1743.9 1052.6L1740.8 1053.6L1737.8 1054.6L1735.0 1055.5L1734.8 1055.6L1731.8 1056.4L1728.8 1057.0L1725.8 1057.5L1722.8 1057.7L1719.8 1057.8L1716.8 1057.8L1713.8 1057.5L1710.8 1057.2L1707.8 1056.7L1704.8 1056.1L1702.4 1055.5L1701.8 1055.4L1698.8 1054.4L1695.8 1053.3L1693.9 1052.5L1692.8 1052.1L1689.8 1050.6L1687.8 1049.5L1686.8 1049.0L1683.8 1047.2L1682.7 1046.5L1680.8 1045.3L1678.3 1043.5L1677.8 1043.2L1674.8 1040.8L1674.5 1040.5L1671.8 1038.2L1671.1 1037.5L1668.8 1035.2L1668.2 1034.6L1665.8 1031.9L1665.5 1031.6L1663.0 1028.6L1662.8 1028.3L1660.7 1025.6L1659.8 1024.3L1658.6 1022.6L1656.7 1019.7L1656.7 1019.6L1655.0 1016.6L1653.7 1014.2L1653.5 1013.6L1652.1 1010.6L1651.0 1007.6L1650.7 1006.9L1650.0 1004.6L1649.2 1001.6L1648.5 998.6L1647.9 995.6L1647.7 994.2L1647.5 992.6L1647.3 989.6L1647.1 986.6L1647.0 983.6L1647.1 980.6L1647.2 977.6L1647.5 974.7L1647.7 972.4L1647.8 971.7L1648.3 968.7L1648.8 965.7L1649.5 962.7L1650.3 959.7L1650.7 958.1L1651.2 956.7L1652.3 953.7L1653.5 950.7L1653.7 950.1L1654.8 947.7L1656.3 944.7L1656.7 943.7L1657.8 941.7L1659.5 938.7L1659.8 938.2L1661.3 935.7L1662.8 933.6L1663.4 932.7L1665.6 929.7L1665.8 929.5L1668.0 926.7L1668.8 925.8L1670.5 923.7L1671.8 922.4L1673.3 920.7L1674.8 919.3L1676.4 917.7L1677.8 916.4L1679.6 914.8L1680.8 913.7L1683.0 911.8L1683.8 911.0L1686.4 908.8L1686.8 908.4L1689.8 905.8L1689.8 905.7L1692.8 903.1L1693.2 902.8L1695.8 900.5L1696.6 899.8L1698.8 897.8L1700.0 896.8L1701.8 895.2L1703.5 893.8L1704.8 892.6L1707.0 890.8L1707.8 890.1L1710.7 887.8L1710.8 887.7L1713.8 885.3L1714.5 884.8L1716.8 883.1L1718.5 881.8L1719.8 880.9L1722.7 878.8L1722.8 878.7L1725.8 876.7L1727.2 875.8L1728.8 874.8L1731.8 873.0L1732.1 872.8L1734.8 871.3L1737.8 869.8L1737.8 869.8L1740.8 868.5L1743.9 867.3L1745.3 866.8ZM1730.5 944.7L1728.8 944.8L1725.8 945.2L1722.8 945.9L1719.8 946.8L1717.6 947.7L1716.8 948.0L1713.8 949.5L1712.0 950.7L1710.8 951.5L1708.2 953.7L1707.8 954.1L1705.4 956.7L1704.8 957.5L1703.2 959.7L1701.8 962.1L1701.5 962.7L1700.1 965.7L1699.2 968.7L1698.8 971.0L1698.7 971.7L1698.7 974.7L1698.8 975.1L1699.3 977.6L1700.4 980.6L1701.8 983.0L1702.2 983.6L1704.7 986.6L1704.8 986.7L1707.8 989.3L1708.2 989.6L1710.8 991.3L1713.4 992.6L1713.8 992.8L1716.8 994.0L1719.8 994.8L1722.8 995.4L1725.8 995.6L1728.8 995.6L1731.8 995.3L1734.8 994.6L1737.8 993.6L1740.0 992.6L1740.8 992.2L1743.9 990.4L1744.9 989.6L1746.9 988.1L1748.6 986.6L1749.9 985.4L1751.5 983.6L1752.9 981.9L1753.8 980.6L1755.5 977.6L1755.9 976.7L1756.8 974.7L1757.7 971.7L1758.3 968.7L1758.4 965.7L1758.1 962.7L1757.4 959.7L1756.2 956.7L1755.9 956.1L1754.3 953.7L1752.9 952.0L1751.5 950.7L1749.9 949.4L1747.2 947.7L1746.9 947.5L1743.9 946.3L1740.8 945.4L1737.8 944.9L1736.0 944.7L1734.8 944.6L1731.8 944.6ZM1122.1 1037.3L1125.1 1036.8L1128.1 1036.5L1131.1 1036.3L1134.1 1036.1L1137.1 1036.1L1140.1 1036.1L1143.1 1036.2L1146.1 1036.4L1149.1 1036.7L1152.1 1037.1L1154.7 1037.5L1155.1 1037.6L1158.1 1038.1L1161.1 1038.7L1164.1 1039.3L1167.2 1040.0L1169.6 1040.5L1170.2 1040.7L1173.2 1041.4L1176.2 1042.0L1179.2 1042.7L1182.2 1043.4L1182.9 1043.5L1185.2 1044.0L1188.2 1044.7L1191.2 1045.3L1194.2 1045.8L1197.2 1046.4L1198.0 1046.5L1200.2 1046.9L1203.2 1047.4L1206.2 1047.9L1209.2 1048.4L1212.2 1048.8L1215.2 1049.2L1217.9 1049.5L1218.2 1049.6L1221.2 1049.9L1224.2 1050.2L1227.2 1050.4L1230.2 1050.5L1233.2 1050.6L1236.2 1050.6L1239.2 1050.6L1242.2 1050.5L1245.2 1050.3L1248.2 1050.1L1251.3 1049.9L1254.3 1049.7L1255.9 1049.5L1257.3 1049.4L1260.3 1049.2L1263.3 1048.9L1266.3 1048.6L1269.3 1048.3L1272.3 1048.0L1275.3 1047.7L1278.3 1047.4L1281.3 1047.1L1284.3 1046.8L1286.7 1046.5L1287.3 1046.5L1290.3 1046.2L1293.3 1046.0L1296.3 1045.7L1299.3 1045.5L1302.3 1045.4L1305.3 1045.2L1308.3 1045.2L1311.3 1045.2L1314.3 1045.2L1317.3 1045.3L1320.3 1045.5L1323.3 1045.7L1326.3 1045.9L1329.3 1046.2L1331.9 1046.5L1332.4 1046.6L1335.4 1047.0L1338.4 1047.4L1341.4 1047.8L1344.4 1048.2L1347.4 1048.6L1350.4 1049.0L1353.4 1049.4L1354.2 1049.5L1356.4 1049.9L1359.4 1050.4L1362.4 1051.0L1365.4 1051.7L1368.4 1052.4L1368.7 1052.5L1371.4 1053.4L1374.4 1054.4L1377.2 1055.5L1377.4 1055.6L1380.4 1057.1L1383.1 1058.5L1383.4 1058.7L1386.4 1060.8L1387.4 1061.5L1389.4 1063.4L1390.6 1064.5L1392.4 1066.7L1393.1 1067.5L1395.2 1070.5L1395.4 1070.9L1397.2 1073.5L1398.4 1075.2L1399.5 1076.5L1401.4 1078.6L1402.4 1079.5L1404.4 1081.1L1406.2 1082.5L1407.4 1083.3L1410.4 1085.3L1410.8 1085.5L1413.5 1087.2L1415.6 1088.5L1416.5 1089.0L1419.5 1090.9L1420.5 1091.5L1422.5 1092.7L1425.4 1094.5L1425.5 1094.5L1428.5 1096.3L1430.5 1097.5L1431.5 1098.0L1434.5 1099.8L1435.6 1100.4L1437.5 1101.6L1440.5 1103.4L1440.6 1103.4L1443.5 1105.3L1445.2 1106.4L1446.5 1107.3L1449.4 1109.4L1449.5 1109.5L1452.5 1112.0L1453.0 1112.4L1455.5 1114.7L1456.3 1115.4L1458.5 1117.8L1459.0 1118.4L1461.4 1121.4L1461.5 1121.6L1463.3 1124.4L1464.5 1127.1L1464.7 1127.4L1465.6 1130.4L1466.0 1133.4L1465.8 1136.4L1465.1 1139.4L1464.5 1140.8L1463.8 1142.4L1462.1 1145.4L1461.5 1146.2L1459.9 1148.4L1458.5 1150.0L1457.3 1151.4L1455.5 1153.1L1454.2 1154.4L1452.5 1155.7L1450.4 1157.4L1449.5 1157.9L1446.5 1159.9L1445.7 1160.3L1443.5 1161.5L1440.5 1162.9L1439.5 1163.3L1437.5 1164.1L1434.5 1165.1L1431.5 1165.9L1429.4 1166.3L1428.5 1166.5L1425.5 1167.0L1422.5 1167.4L1419.5 1167.7L1416.5 1167.9L1413.5 1168.1L1410.4 1168.2L1407.4 1168.2L1404.4 1168.2L1401.4 1168.1L1398.4 1168.0L1395.4 1167.8L1392.4 1167.5L1389.4 1167.2L1386.4 1166.8L1383.4 1166.4L1382.9 1166.3L1380.4 1165.9L1377.4 1165.4L1374.4 1164.8L1371.4 1164.3L1368.4 1163.6L1367.0 1163.3L1365.4 1163.0L1362.4 1162.4L1359.4 1161.7L1356.4 1161.1L1353.4 1160.4L1353.3 1160.3L1350.4 1159.6L1347.4 1158.8L1344.4 1157.9L1342.5 1157.4L1341.4 1157.0L1338.4 1156.0L1335.4 1155.1L1333.0 1154.4L1332.4 1154.1L1329.3 1153.4L1326.3 1152.9L1323.3 1152.8L1320.3 1153.0L1317.3 1153.8L1315.7 1154.4L1314.3 1154.8L1311.3 1156.0L1308.3 1157.2L1308.0 1157.4L1305.3 1158.3L1302.3 1159.2L1299.3 1159.9L1296.3 1160.3L1296.2 1160.3L1293.3 1160.6L1290.3 1160.6L1287.3 1160.5L1286.1 1160.3L1284.3 1160.2L1281.3 1159.7L1278.3 1159.1L1275.3 1158.5L1272.3 1157.9L1269.4 1157.4L1269.3 1157.3L1266.3 1156.8L1263.3 1156.5L1260.3 1156.2L1257.3 1156.1L1254.3 1156.2L1251.3 1156.3L1248.2 1156.6L1245.2 1157.0L1243.1 1157.4L1242.2 1157.5L1239.2 1157.9L1236.2 1158.3L1233.2 1158.6L1230.2 1158.9L1227.2 1159.0L1224.2 1159.0L1221.2 1158.9L1218.2 1158.8L1215.2 1158.6L1212.2 1158.4L1209.2 1158.3L1206.2 1158.2L1203.2 1158.2L1200.2 1158.4L1197.2 1158.6L1194.2 1159.0L1191.2 1159.5L1188.2 1160.2L1187.6 1160.3L1185.2 1160.9L1182.2 1161.8L1179.2 1162.6L1176.6 1163.3L1176.2 1163.5L1173.2 1164.2L1170.2 1164.9L1167.2 1165.4L1164.1 1165.8L1161.1 1166.1L1158.1 1166.3L1156.6 1166.3L1155.1 1166.4L1152.1 1166.5L1149.1 1166.7L1146.1 1166.8L1143.1 1167.1L1140.1 1167.4L1137.1 1167.8L1134.1 1168.3L1131.1 1169.0L1129.7 1169.3L1128.1 1169.8L1125.1 1170.6L1122.1 1171.6L1120.0 1172.3L1119.1 1172.6L1116.1 1173.8L1113.1 1174.9L1112.0 1175.3L1110.1 1176.0L1107.1 1177.1L1104.1 1178.1L1103.3 1178.3L1101.1 1179.0L1098.1 1179.8L1095.1 1180.6L1092.6 1181.3L1092.1 1181.5L1089.1 1182.3L1086.1 1183.2L1083.0 1184.2L1082.6 1184.3L1080.0 1185.2L1077.0 1186.2L1074.1 1187.3L1074.0 1187.3L1071.0 1188.4L1068.0 1189.5L1065.6 1190.3L1065.0 1190.5L1062.0 1191.3L1059.0 1192.0L1056.0 1192.5L1053.0 1192.8L1050.0 1193.0L1047.0 1193.1L1044.0 1193.2L1044.0 1190.3L1044.0 1188.4L1047.0 1188.4L1050.0 1188.5L1053.0 1188.4L1056.0 1188.2L1059.0 1187.7L1061.3 1187.3L1062.0 1187.2L1065.0 1186.4L1068.0 1185.5L1071.0 1184.5L1071.6 1184.3L1074.0 1183.5L1077.0 1182.4L1080.0 1181.4L1080.4 1181.3L1083.0 1180.4L1086.1 1179.5L1089.1 1178.7L1090.4 1178.3L1092.1 1177.9L1095.1 1177.1L1098.1 1176.2L1101.1 1175.4L1101.3 1175.3L1104.1 1174.4L1107.1 1173.4L1110.0 1172.3L1110.1 1172.3L1113.1 1171.1L1116.1 1170.0L1117.9 1169.3L1119.1 1168.9L1122.1 1167.8L1125.1 1166.9L1127.1 1166.3L1128.1 1166.0L1131.1 1165.3L1134.1 1164.7L1137.1 1164.2L1140.1 1163.9L1143.1 1163.6L1146.1 1163.5L1149.1 1163.4L1152.1 1163.4L1155.1 1163.4L1157.7 1163.3L1158.1 1163.3L1161.1 1163.2L1164.1 1162.9L1167.2 1162.5L1170.2 1161.9L1173.2 1161.2L1176.2 1160.4L1176.3 1160.3L1179.2 1159.4L1182.2 1158.5L1185.2 1157.6L1186.0 1157.4L1188.2 1156.8L1191.2 1156.1L1194.2 1155.5L1197.2 1155.2L1200.2 1154.9L1203.2 1154.8L1206.2 1154.9L1209.2 1155.0L1212.2 1155.2L1215.2 1155.5L1218.2 1155.8L1221.2 1156.0L1224.2 1156.1L1227.2 1156.1L1230.2 1156.0L1233.2 1155.7L1236.2 1155.3L1239.2 1154.8L1242.0 1154.4L1242.2 1154.3L1245.2 1153.8L1248.2 1153.3L1251.3 1152.9L1254.3 1152.7L1257.3 1152.6L1260.3 1152.7L1263.3 1152.9L1266.3 1153.3L1269.3 1153.9L1271.4 1154.4L1272.3 1154.5L1275.3 1155.2L1278.3 1155.9L1281.3 1156.6L1284.3 1157.1L1286.3 1157.4L1287.3 1157.5L1290.3 1157.6L1293.3 1157.5L1294.1 1157.4L1296.3 1157.0L1299.3 1156.3L1302.3 1155.2L1304.4 1154.4L1305.3 1153.9L1308.3 1152.2L1309.9 1151.4L1311.3 1150.5L1314.3 1148.8L1315.2 1148.4L1317.3 1147.3L1320.3 1146.4L1323.3 1146.0L1326.3 1146.1L1329.3 1146.6L1332.4 1147.4L1335.2 1148.4L1335.4 1148.4L1338.4 1149.4L1341.4 1150.4L1344.3 1151.4L1344.4 1151.4L1347.4 1152.3L1350.4 1153.1L1353.4 1153.9L1355.5 1154.4L1356.4 1154.6L1359.4 1155.2L1362.4 1155.8L1365.4 1156.3L1368.4 1156.8L1371.4 1157.3L1371.5 1157.4L1374.4 1157.8L1377.4 1158.1L1380.4 1158.4L1383.4 1158.7L1386.4 1158.8L1389.4 1158.8L1392.4 1158.8L1395.4 1158.6L1398.4 1158.3L1401.4 1157.8L1404.0 1157.4L1404.4 1157.2L1407.4 1156.4L1410.4 1155.3L1412.7 1154.4L1413.5 1154.0L1416.5 1152.2L1417.9 1151.4L1419.5 1150.2L1421.8 1148.4L1422.5 1147.7L1424.8 1145.4L1425.5 1144.6L1427.2 1142.4L1428.5 1140.2L1428.9 1139.4L1430.2 1136.4L1430.9 1133.4L1431.0 1130.4L1430.6 1127.4L1429.7 1124.4L1428.5 1121.9L1428.2 1121.4L1426.2 1118.4L1425.5 1117.5L1423.7 1115.4L1422.5 1114.3L1420.6 1112.4L1419.5 1111.5L1417.1 1109.4L1416.5 1108.9L1413.5 1106.4L1413.5 1106.4L1410.4 1104.0L1409.7 1103.4L1407.4 1101.6L1405.9 1100.4L1404.4 1099.3L1401.9 1097.5L1401.4 1097.1L1398.4 1095.1L1397.5 1094.5L1395.4 1093.1L1393.1 1091.5L1392.4 1091.0L1389.4 1088.7L1389.1 1088.5L1386.4 1086.0L1385.9 1085.5L1383.6 1082.5L1383.4 1082.2L1381.9 1079.5L1380.6 1076.5L1380.4 1076.0L1379.3 1073.5L1377.6 1070.5L1377.4 1070.2L1375.3 1067.5L1374.4 1066.7L1371.9 1064.5L1371.4 1064.2L1368.4 1062.3L1366.9 1061.5L1365.4 1060.8L1362.4 1059.6L1359.4 1058.6L1359.3 1058.5L1356.4 1057.8L1353.4 1057.2L1350.4 1056.7L1347.4 1056.3L1344.4 1056.0L1341.4 1055.6L1340.9 1055.5L1338.4 1055.2L1335.4 1054.7L1332.4 1054.3L1329.3 1053.8L1326.3 1053.3L1323.3 1052.9L1320.3 1052.6L1319.7 1052.5L1317.3 1052.4L1314.3 1052.2L1311.3 1052.2L1308.3 1052.2L1305.3 1052.3L1302.3 1052.4L1300.5 1052.5L1299.3 1052.6L1296.3 1052.8L1293.3 1053.0L1290.3 1053.3L1287.3 1053.5L1284.3 1053.8L1281.3 1054.1L1278.3 1054.4L1275.3 1054.7L1272.3 1055.0L1269.3 1055.3L1267.3 1055.5L1266.3 1055.6L1263.3 1056.0L1260.3 1056.3L1257.3 1056.6L1254.3 1056.9L1251.3 1057.2L1248.2 1057.4L1245.2 1057.7L1242.2 1057.9L1239.2 1058.0L1236.2 1058.1L1233.2 1058.2L1230.2 1058.1L1227.2 1058.0L1224.2 1057.8L1221.2 1057.6L1218.2 1057.3L1215.2 1056.9L1212.2 1056.5L1209.2 1056.1L1206.2 1055.7L1205.3 1055.5L1203.2 1055.2L1200.2 1054.7L1197.2 1054.2L1194.2 1053.6L1191.2 1053.1L1188.2 1052.5L1188.2 1052.5L1185.2 1051.9L1182.2 1051.3L1179.2 1050.7L1176.2 1050.1L1173.3 1049.5L1173.2 1049.5L1170.2 1048.9L1167.2 1048.3L1164.1 1047.7L1161.1 1047.1L1158.1 1046.6L1157.6 1046.5L1155.1 1046.1L1152.1 1045.7L1149.1 1045.3L1146.1 1045.0L1143.1 1044.8L1140.1 1044.6L1137.1 1044.6L1134.1 1044.6L1131.1 1044.7L1128.1 1044.8L1125.1 1045.1L1122.1 1045.4L1119.1 1045.9L1116.1 1046.4L1115.3 1046.5L1113.1 1047.0L1110.1 1047.7L1107.1 1048.6L1104.2 1049.5L1104.1 1049.6L1101.1 1050.7L1098.1 1052.0L1097.1 1052.5L1095.1 1053.6L1092.1 1055.3L1091.6 1055.5L1089.1 1057.1L1087.1 1058.5L1086.1 1059.2L1083.0 1061.5L1083.0 1061.5L1080.0 1063.8L1079.3 1064.5L1077.0 1066.4L1075.8 1067.5L1074.0 1069.0L1072.4 1070.5L1071.0 1071.8L1069.2 1073.5L1068.0 1074.6L1066.0 1076.5L1065.0 1077.5L1063.0 1079.5L1062.0 1080.5L1060.1 1082.5L1059.0 1083.7L1057.4 1085.5L1056.0 1087.0L1054.7 1088.5L1053.0 1090.5L1052.2 1091.5L1050.0 1093.9L1049.4 1094.5L1047.0 1096.7L1046.0 1097.5L1044.0 1098.8L1044.0 1097.5L1044.0 1094.5L1044.0 1091.5L1044.0 1088.5L1044.0 1087.3L1046.5 1085.5L1047.0 1085.1L1050.0 1082.5L1050.0 1082.4L1053.0 1079.6L1053.1 1079.5L1056.0 1076.7L1056.3 1076.5L1059.0 1073.9L1059.4 1073.5L1062.0 1071.0L1062.6 1070.5L1065.0 1068.2L1065.7 1067.5L1068.0 1065.4L1069.0 1064.5L1071.0 1062.6L1072.2 1061.5L1074.0 1059.9L1075.6 1058.5L1077.0 1057.2L1079.1 1055.5L1080.0 1054.8L1083.0 1052.5L1083.0 1052.5L1086.1 1050.3L1087.3 1049.5L1089.1 1048.4L1092.1 1046.7L1092.3 1046.5L1095.1 1045.1L1098.1 1043.7L1098.5 1043.5L1101.1 1042.5L1104.1 1041.5L1107.0 1040.5L1107.1 1040.5L1110.1 1039.7L1113.1 1039.0L1116.1 1038.3L1119.1 1037.8L1120.4 1037.5Z" fill="#7d87c3" stroke="#7d87c3" stroke-width="0.6" fill-rule="evenodd"/>
<path d="M1671.8 762.0L1674.8 762.0L1677.8 762.0L1680.8 762.0L1683.8 762.0L1686.8 762.0L1689.8 762.0L1692.8 762.0L1695.8 762.0L1698.8 762.0L1701.8 762.0L1704.8 762.0L1707.8 762.0L1710.8 762.0L1713.8 762.0L1716.8 762.0L1719.8 762.0L1722.8 762.0L1725.8 762.0L1728.8 762.0L1731.8 762.0L1734.8 762.0L1737.8 762.0L1740.8 762.0L1743.9 762.0L1746.9 762.0L1749.9 762.0L1752.9 762.0L1755.9 762.0L1758.9 762.0L1761.9 762.0L1764.9 762.0L1767.9 762.0L1770.9 762.0L1773.9 762.0L1776.9 762.0L1779.9 762.0L1782.9 762.0L1785.9 762.0L1788.9 762.0L1791.9 762.0L1794.9 762.0L1797.9 762.0L1800.9 762.0L1803.9 762.0L1806.9 762.0L1809.9 762.0L1812.9 762.0L1815.9 762.0L1818.9 762.0L1821.9 762.0L1825.0 762.0L1828.0 762.0L1830.0 762.0L1830.1 765.0L1830.1 768.0L1830.1 771.0L1830.2 774.0L1830.3 777.0L1830.4 780.0L1830.7 783.0L1831.0 784.9L1831.1 786.0L1831.5 789.0L1831.9 792.0L1832.5 794.9L1833.1 797.9L1833.8 800.9L1834.0 801.5L1834.6 803.9L1835.3 806.9L1836.1 809.9L1836.9 812.9L1837.0 813.3L1837.5 815.9L1837.9 818.9L1838.2 821.9L1838.4 824.9L1838.5 827.9L1838.8 830.9L1839.1 833.9L1839.7 836.9L1840.0 838.1L1840.4 839.9L1841.3 842.9L1842.4 845.9L1843.0 847.0L1843.8 848.9L1845.2 851.9L1846.0 853.5L1846.6 854.8L1847.8 857.8L1849.0 860.8L1849.0 860.9L1849.9 863.8L1850.9 866.8L1851.8 869.8L1852.0 870.3L1852.7 872.8L1853.6 875.8L1854.5 878.8L1855.0 880.8L1855.3 881.8L1856.1 884.8L1856.8 887.8L1857.4 890.8L1858.0 893.8L1858.0 893.8L1858.6 896.8L1859.1 899.8L1859.5 902.8L1859.8 905.8L1860.1 908.8L1860.3 911.8L1860.4 914.8L1860.4 917.7L1860.4 920.7L1860.2 923.7L1860.0 926.7L1859.7 929.7L1859.3 932.7L1858.9 935.7L1858.4 938.7L1858.0 941.2L1857.9 941.7L1857.4 944.7L1857.0 947.7L1856.5 950.7L1856.0 953.7L1855.4 956.7L1855.0 959.1L1854.9 959.7L1854.3 962.7L1853.7 965.7L1853.1 968.7L1852.3 971.7L1852.0 973.0L1851.6 974.7L1850.7 977.6L1849.9 980.6L1849.0 983.4L1848.9 983.6L1847.9 986.6L1846.8 989.6L1846.0 991.7L1845.6 992.6L1844.3 995.6L1843.0 998.5L1842.9 998.6L1841.4 1001.6L1840.0 1004.3L1839.8 1004.6L1838.0 1007.6L1837.0 1009.3L1836.1 1010.6L1834.1 1013.6L1834.0 1013.8L1832.0 1016.6L1831.0 1017.9L1829.7 1019.6L1828.0 1021.8L1827.3 1022.6L1825.0 1025.5L1824.9 1025.6L1822.3 1028.6L1821.9 1029.0L1819.7 1031.6L1818.9 1032.4L1817.0 1034.6L1815.9 1035.6L1814.1 1037.5L1812.9 1038.7L1811.0 1040.5L1809.9 1041.5L1807.6 1043.5L1806.9 1044.1L1803.9 1046.5L1803.9 1046.5L1800.9 1048.8L1800.0 1049.5L1797.9 1051.1L1795.8 1052.5L1794.9 1053.2L1791.9 1055.2L1791.4 1055.5L1788.9 1057.2L1786.9 1058.5L1785.9 1059.2L1782.9 1061.3L1782.6 1061.5L1779.9 1063.9L1779.2 1064.5L1776.9 1066.7L1775.9 1067.5L1773.9 1069.0L1771.3 1070.5L1770.9 1070.7L1767.9 1072.2L1765.8 1073.5L1764.9 1074.0L1761.9 1076.1L1761.4 1076.5L1758.9 1077.9L1756.2 1079.5L1755.9 1079.6L1752.9 1080.9L1749.9 1082.3L1749.4 1082.5L1746.9 1083.5L1743.9 1084.6L1741.7 1085.5L1740.8 1085.8L1737.8 1086.7L1734.8 1087.7L1732.0 1088.5L1731.8 1088.5L1728.8 1089.3L1725.8 1090.0L1722.8 1090.7L1719.8 1091.3L1719.2 1091.5L1716.8 1091.9L1713.8 1092.4L1710.8 1092.8L1707.8 1093.1L1704.8 1093.3L1701.8 1093.5L1698.8 1093.5L1695.8 1093.4L1692.8 1093.2L1689.8 1092.9L1686.8 1092.4L1683.8 1091.7L1682.7 1091.5L1680.8 1090.9L1677.8 1090.0L1674.8 1089.0L1673.3 1088.5L1671.8 1087.8L1668.8 1086.5L1666.4 1085.5L1665.8 1085.1L1662.8 1083.6L1660.7 1082.5L1659.8 1081.9L1656.7 1080.2L1655.4 1079.5L1653.7 1078.5L1650.7 1076.6L1650.6 1076.5L1647.7 1074.4L1646.5 1073.5L1644.7 1071.9L1643.3 1070.5L1641.7 1068.7L1640.7 1067.5L1638.7 1064.8L1638.5 1064.5L1636.5 1061.5L1635.7 1060.3L1634.7 1058.5L1633.0 1055.5L1632.7 1055.0L1631.5 1052.5L1630.2 1049.5L1629.7 1048.4L1629.0 1046.5L1627.9 1043.5L1626.8 1040.5L1626.7 1040.2L1625.9 1037.5L1625.0 1034.6L1624.2 1031.6L1623.7 1029.7L1623.5 1028.6L1622.8 1025.6L1622.3 1022.6L1621.8 1019.6L1621.5 1016.6L1621.2 1013.6L1621.0 1010.6L1620.8 1007.6L1620.7 1006.4L1620.6 1004.6L1620.4 1001.6L1620.3 998.6L1620.1 995.6L1620.1 992.6L1620.1 989.6L1620.1 986.6L1620.2 983.6L1620.4 980.6L1620.6 977.6L1620.7 975.4L1620.8 974.7L1621.0 971.7L1621.3 968.7L1621.7 965.7L1622.1 962.7L1622.4 959.7L1622.8 956.7L1623.3 953.7L1623.7 951.0L1623.8 950.7L1624.4 947.7L1625.0 944.7L1625.8 941.7L1626.5 938.7L1626.7 937.8L1627.2 935.7L1627.8 932.7L1628.5 929.7L1629.3 926.7L1629.7 925.4L1630.3 923.7L1631.4 920.7L1632.7 917.9L1632.8 917.7L1634.5 914.8L1635.7 913.0L1636.7 911.8L1638.7 909.9L1640.0 908.8L1641.7 907.7L1644.7 905.9L1644.9 905.8L1647.7 904.3L1650.1 902.8L1650.7 902.4L1653.7 899.9L1653.8 899.8L1656.1 896.8L1656.7 895.4L1657.5 893.8L1658.5 890.8L1659.4 887.8L1659.8 886.6L1660.3 884.8L1661.5 881.8L1662.8 879.4L1663.1 878.8L1665.0 875.8L1665.8 874.7L1667.1 872.8L1668.8 870.6L1669.3 869.8L1671.5 866.8L1671.8 866.5L1673.5 863.8L1674.8 861.7L1675.3 860.8L1676.8 857.8L1677.8 855.7L1678.2 854.8L1679.4 851.9L1680.5 848.9L1680.8 848.1L1681.6 845.9L1682.5 842.9L1683.5 839.9L1683.8 839.0L1684.4 836.9L1685.3 833.9L1686.1 830.9L1686.8 827.9L1686.8 827.9L1687.4 824.9L1687.9 821.9L1688.3 818.9L1688.5 815.9L1688.7 812.9L1688.7 809.9L1688.6 806.9L1688.4 803.9L1688.0 800.9L1687.6 797.9L1687.0 794.9L1686.8 793.7L1686.4 792.0L1685.6 789.0L1684.7 786.0L1683.8 783.4L1683.6 783.0L1682.3 780.0L1680.8 777.2L1680.7 777.0L1678.7 774.0L1677.8 772.7L1676.5 771.0L1674.8 768.8L1674.1 768.0L1671.8 765.0L1671.7 765.0L1669.9 762.0ZM1745.3 866.8L1743.9 867.3L1740.8 868.5L1737.8 869.8L1737.8 869.8L1734.8 871.3L1732.1 872.8L1731.8 873.0L1728.8 874.8L1727.2 875.8L1725.8 876.7L1722.8 878.7L1722.7 878.8L1719.8 880.9L1718.5 881.8L1716.8 883.1L1714.5 884.8L1713.8 885.3L1710.8 887.7L1710.7 887.8L1707.8 890.1L1707.0 890.8L1704.8 892.6L1703.5 893.8L1701.8 895.2L1700.0 896.8L1698.8 897.8L1696.6 899.8L1695.8 900.5L1693.2 902.8L1692.8 903.1L1689.8 905.7L1689.8 905.8L1686.8 908.4L1686.4 908.8L1683.8 911.0L1683.0 911.8L1680.8 913.7L1679.6 914.8L1677.8 916.4L1676.4 917.7L1674.8 919.3L1673.3 920.7L1671.8 922.4L1670.5 923.7L1668.8 925.8L1668.0 926.7L1665.8 929.5L1665.6 929.7L1663.4 932.7L1662.8 933.6L1661.3 935.7L1659.8 938.2L1659.5 938.7L1657.8 941.7L1656.7 943.7L1656.3 944.7L1654.8 947.7L1653.7 950.1L1653.5 950.7L1652.3 953.7L1651.2 956.7L1650.7 958.1L1650.3 959.7L1649.5 962.7L1648.8 965.7L1648.3 968.7L1647.8 971.7L1647.7 972.4L1647.5 974.7L1647.2 977.6L1647.1 980.6L1647.0 983.6L1647.1 986.6L1647.3 989.6L1647.5 992.6L1647.7 994.2L1647.9 995.6L1648.5 998.6L1649.2 1001.6L1650.0 1004.6L1650.7 1006.9L1651.0 1007.6L1652.1 1010.6L1653.5 1013.6L1653.7 1014.2L1655.0 1016.6L1656.7 1019.6L1656.7 1019.7L1658.6 1022.6L1659.8 1024.3L1660.7 1025.6L1662.8 1028.3L1663.0 1028.6L1665.5 1031.6L1665.8 1031.9L1668.2 1034.6L1668.8 1035.2L1671.1 1037.5L1671.8 1038.2L1674.5 1040.5L1674.8 1040.8L1677.8 1043.2L1678.3 1043.5L1680.8 1045.3L1682.7 1046.5L1683.8 1047.2L1686.8 1049.0L1687.8 1049.5L1689.8 1050.6L1692.8 1052.1L1693.9 1052.5L1695.8 1053.3L1698.8 1054.4L1701.8 1055.4L1702.4 1055.5L1704.8 1056.1L1707.8 1056.7L1710.8 1057.2L1713.8 1057.5L1716.8 1057.8L1719.8 1057.8L1722.8 1057.7L1725.8 1057.5L1728.8 1057.0L1731.8 1056.4L1734.8 1055.6L1735.0 1055.5L1737.8 1054.6L1740.8 1053.6L1743.9 1052.6L1744.0 1052.5L1746.9 1051.5L1749.9 1050.5L1752.6 1049.5L1752.9 1049.4L1755.9 1048.3L1758.9 1047.1L1760.1 1046.5L1761.9 1045.7L1764.9 1044.1L1765.9 1043.5L1767.9 1042.3L1770.7 1040.5L1770.9 1040.4L1773.9 1038.3L1775.1 1037.5L1776.9 1036.2L1779.1 1034.6L1779.9 1033.9L1782.8 1031.6L1782.9 1031.4L1785.9 1028.6L1785.9 1028.5L1788.6 1025.6L1788.9 1025.3L1791.2 1022.6L1791.9 1021.6L1793.5 1019.6L1794.9 1017.7L1795.7 1016.6L1797.8 1013.6L1797.9 1013.4L1799.8 1010.6L1800.9 1008.7L1801.6 1007.6L1803.3 1004.6L1803.9 1003.5L1805.0 1001.6L1806.5 998.6L1806.9 997.7L1807.9 995.6L1809.3 992.6L1809.9 991.1L1810.5 989.6L1811.7 986.6L1812.7 983.6L1812.9 982.9L1813.6 980.6L1814.5 977.6L1815.2 974.7L1815.9 971.7L1815.9 971.6L1816.5 968.7L1817.1 965.7L1817.6 962.7L1818.0 959.7L1818.4 956.7L1818.7 953.7L1818.9 950.7L1818.9 950.1L1819.1 947.7L1819.2 944.7L1819.3 941.7L1819.3 938.7L1819.2 935.7L1819.1 932.7L1818.9 930.7L1818.9 929.7L1818.5 926.7L1818.1 923.7L1817.6 920.7L1817.0 917.7L1816.3 914.8L1815.9 913.4L1815.5 911.8L1814.6 908.8L1813.6 905.8L1812.9 903.9L1812.5 902.8L1811.3 899.8L1810.0 896.8L1809.9 896.7L1808.4 893.8L1806.9 891.2L1806.7 890.8L1804.7 887.8L1803.9 886.7L1802.5 884.8L1800.9 882.8L1800.1 881.8L1797.9 879.4L1797.3 878.8L1794.9 876.5L1794.1 875.8L1791.9 874.1L1790.2 872.8L1788.9 871.9L1785.9 870.2L1785.3 869.8L1782.9 868.7L1779.9 867.4L1778.1 866.8L1776.9 866.4L1773.9 865.6L1770.9 865.0L1767.9 864.6L1764.9 864.3L1761.9 864.2L1758.9 864.3L1755.9 864.5L1752.9 865.0L1749.9 865.6L1746.9 866.3ZM1125.1 1028.4L1128.1 1028.0L1131.1 1027.7L1134.1 1027.5L1137.1 1027.4L1140.1 1027.4L1143.1 1027.5L1146.1 1027.7L1149.1 1028.0L1152.1 1028.4L1153.4 1028.6L1155.1 1028.8L1158.1 1029.4L1161.1 1030.0L1164.1 1030.7L1167.2 1031.4L1167.7 1031.6L1170.2 1032.2L1173.2 1032.9L1176.2 1033.7L1179.2 1034.5L1179.4 1034.6L1182.2 1035.2L1185.2 1035.9L1188.2 1036.6L1191.2 1037.3L1192.6 1037.5L1194.2 1037.9L1197.2 1038.4L1200.2 1039.0L1203.2 1039.5L1206.2 1040.0L1209.2 1040.4L1209.9 1040.5L1212.2 1040.9L1215.2 1041.3L1218.2 1041.7L1221.2 1042.0L1224.2 1042.3L1227.2 1042.5L1230.2 1042.7L1233.2 1042.9L1236.2 1042.9L1239.2 1042.9L1242.2 1042.9L1245.2 1042.8L1248.2 1042.7L1251.3 1042.5L1254.3 1042.4L1257.3 1042.2L1260.3 1042.0L1263.3 1041.8L1266.3 1041.5L1269.3 1041.3L1272.3 1041.0L1275.3 1040.7L1277.4 1040.5L1278.3 1040.5L1281.3 1040.2L1284.3 1039.9L1287.3 1039.6L1290.3 1039.4L1293.3 1039.1L1296.3 1038.9L1299.3 1038.7L1302.3 1038.6L1305.3 1038.5L1308.3 1038.5L1311.3 1038.5L1314.3 1038.5L1317.3 1038.6L1320.3 1038.8L1323.3 1038.9L1326.3 1039.1L1329.3 1039.4L1332.4 1039.7L1335.4 1040.0L1338.4 1040.3L1340.2 1040.5L1341.4 1040.7L1344.4 1041.1L1347.4 1041.4L1350.4 1041.8L1353.4 1042.2L1356.4 1042.6L1359.4 1043.0L1362.4 1043.5L1362.6 1043.5L1365.4 1044.0L1368.4 1044.6L1371.4 1045.3L1374.4 1046.1L1375.9 1046.5L1377.4 1047.0L1380.4 1047.9L1383.4 1049.0L1384.9 1049.5L1386.4 1050.2L1389.4 1051.4L1391.8 1052.5L1392.4 1052.8L1395.4 1054.5L1397.3 1055.5L1398.4 1056.3L1401.4 1058.3L1401.8 1058.5L1404.4 1060.6L1405.5 1061.5L1407.4 1063.2L1408.9 1064.5L1410.4 1066.0L1412.1 1067.5L1413.5 1068.8L1415.3 1070.5L1416.5 1071.5L1418.9 1073.5L1419.5 1074.0L1422.5 1076.1L1423.0 1076.5L1425.5 1078.0L1428.2 1079.5L1428.5 1079.6L1431.5 1081.0L1434.5 1082.3L1434.9 1082.5L1437.5 1083.5L1440.5 1084.7L1442.6 1085.5L1443.5 1085.8L1446.5 1087.0L1449.5 1088.1L1450.4 1088.5L1452.5 1089.3L1455.5 1090.5L1457.7 1091.5L1458.5 1091.8L1461.5 1093.2L1464.2 1094.5L1464.5 1094.6L1467.5 1096.2L1469.9 1097.5L1470.5 1097.8L1473.5 1099.5L1475.1 1100.4L1476.5 1101.4L1479.5 1103.4L1479.6 1103.4L1482.5 1105.6L1483.7 1106.4L1485.5 1108.0L1487.3 1109.4L1488.5 1110.7L1490.3 1112.4L1491.5 1114.0L1492.6 1115.4L1494.4 1118.4L1494.5 1118.6L1495.8 1121.4L1496.9 1124.4L1497.5 1127.4L1497.6 1127.9L1497.8 1130.4L1497.7 1133.4L1497.6 1134.8L1497.4 1136.4L1496.7 1139.4L1495.7 1142.4L1494.5 1145.3L1494.5 1145.4L1493.0 1148.4L1491.5 1150.9L1491.3 1151.4L1489.3 1154.4L1488.5 1155.4L1487.0 1157.4L1485.5 1159.2L1484.5 1160.3L1482.5 1162.5L1481.7 1163.3L1479.5 1165.4L1478.4 1166.3L1476.5 1167.9L1474.7 1169.3L1473.5 1170.2L1470.5 1172.2L1470.3 1172.3L1467.5 1173.9L1464.7 1175.3L1464.5 1175.4L1461.5 1176.6L1458.5 1177.5L1455.5 1178.3L1455.4 1178.3L1452.5 1178.8L1449.5 1179.2L1446.5 1179.4L1443.5 1179.5L1440.5 1179.5L1437.5 1179.4L1434.5 1179.2L1431.5 1179.1L1428.5 1178.9L1425.5 1178.7L1422.5 1178.4L1421.2 1178.3L1419.5 1178.2L1416.5 1177.9L1413.5 1177.6L1410.4 1177.3L1407.4 1177.0L1404.4 1176.7L1401.4 1176.3L1398.4 1175.9L1395.4 1175.5L1394.3 1175.3L1392.4 1175.0L1389.4 1174.5L1386.4 1174.0L1383.4 1173.4L1380.4 1172.8L1378.1 1172.3L1377.4 1172.2L1374.4 1171.5L1371.4 1170.8L1368.4 1170.1L1365.4 1169.4L1365.2 1169.3L1362.4 1168.7L1359.4 1168.0L1356.4 1167.3L1353.4 1166.6L1352.5 1166.3L1350.4 1165.8L1347.4 1165.0L1344.4 1164.2L1341.5 1163.3L1341.4 1163.3L1338.4 1162.4L1335.4 1161.4L1332.4 1160.6L1331.4 1160.3L1329.3 1159.8L1326.3 1159.3L1323.3 1159.1L1320.3 1159.2L1317.3 1159.5L1314.3 1160.2L1313.7 1160.3L1311.3 1160.9L1308.3 1161.7L1305.3 1162.3L1302.3 1162.9L1299.3 1163.3L1298.3 1163.3L1296.3 1163.5L1293.3 1163.6L1290.3 1163.6L1287.3 1163.4L1286.7 1163.3L1284.3 1163.1L1281.3 1162.7L1278.3 1162.2L1275.3 1161.7L1272.3 1161.1L1269.3 1160.6L1267.5 1160.3L1266.3 1160.2L1263.3 1159.8L1260.3 1159.6L1257.3 1159.5L1254.3 1159.5L1251.3 1159.6L1248.2 1159.9L1245.2 1160.2L1243.8 1160.3L1242.2 1160.5L1239.2 1160.9L1236.2 1161.2L1233.2 1161.5L1230.2 1161.7L1227.2 1161.8L1224.2 1161.8L1221.2 1161.8L1218.2 1161.8L1215.2 1161.7L1212.2 1161.6L1209.2 1161.5L1206.2 1161.5L1203.2 1161.6L1200.2 1161.7L1197.2 1162.0L1194.2 1162.4L1191.2 1162.9L1189.0 1163.3L1188.2 1163.5L1185.2 1164.2L1182.2 1165.0L1179.2 1165.7L1176.7 1166.3L1176.2 1166.5L1173.2 1167.1L1170.2 1167.7L1167.2 1168.2L1164.1 1168.6L1161.1 1168.9L1158.1 1169.2L1155.9 1169.3L1155.1 1169.4L1152.1 1169.6L1149.1 1169.9L1146.1 1170.1L1143.1 1170.4L1140.1 1170.8L1137.1 1171.3L1134.1 1171.9L1132.4 1172.3L1131.1 1172.6L1128.1 1173.4L1125.1 1174.3L1122.1 1175.3L1122.0 1175.3L1119.1 1176.4L1116.1 1177.5L1113.7 1178.3L1113.1 1178.6L1110.1 1179.6L1107.1 1180.7L1105.0 1181.3L1104.1 1181.6L1101.1 1182.5L1098.1 1183.3L1095.1 1184.1L1094.4 1184.3L1092.1 1185.0L1089.1 1185.9L1086.1 1186.8L1084.6 1187.3L1083.0 1187.8L1080.0 1188.9L1077.0 1190.0L1076.3 1190.3L1074.0 1191.2L1071.0 1192.3L1068.5 1193.3L1068.0 1193.5L1065.0 1194.5L1062.0 1195.3L1059.0 1196.1L1057.8 1196.3L1056.0 1196.6L1053.0 1197.1L1050.0 1197.4L1047.0 1197.7L1044.0 1197.8L1044.0 1196.3L1044.0 1193.3L1044.0 1193.2L1047.0 1193.1L1050.0 1193.0L1053.0 1192.8L1056.0 1192.5L1059.0 1192.0L1062.0 1191.3L1065.0 1190.5L1065.6 1190.3L1068.0 1189.5L1071.0 1188.4L1074.0 1187.3L1074.1 1187.3L1077.0 1186.2L1080.0 1185.2L1082.6 1184.3L1083.0 1184.2L1086.1 1183.2L1089.1 1182.3L1092.1 1181.5L1092.6 1181.3L1095.1 1180.6L1098.1 1179.8L1101.1 1179.0L1103.3 1178.3L1104.1 1178.1L1107.1 1177.1L1110.1 1176.0L1112.0 1175.3L1113.1 1174.9L1116.1 1173.8L1119.1 1172.6L1120.0 1172.3L1122.1 1171.6L1125.1 1170.6L1128.1 1169.8L1129.7 1169.3L1131.1 1169.0L1134.1 1168.3L1137.1 1167.8L1140.1 1167.4L1143.1 1167.1L1146.1 1166.8L1149.1 1166.7L1152.1 1166.5L1155.1 1166.4L1156.6 1166.3L1158.1 1166.3L1161.1 1166.1L1164.1 1165.8L1167.2 1165.4L1170.2 1164.9L1173.2 1164.2L1176.2 1163.5L1176.6 1163.3L1179.2 1162.6L1182.2 1161.8L1185.2 1160.9L1187.6 1160.3L1188.2 1160.2L1191.2 1159.5L1194.2 1159.0L1197.2 1158.6L1200.2 1158.4L1203.2 1158.2L1206.2 1158.2L1209.2 1158.3L1212.2 1158.4L1215.2 1158.6L1218.2 1158.8L1221.2 1158.9L1224.2 1159.0L1227.2 1159.0L1230.2 1158.9L1233.2 1158.6L1236.2 1158.3L1239.2 1157.9L1242.2 1157.5L1243.1 1157.4L1245.2 1157.0L1248.2 1156.6L1251.3 1156.3L1254.3 1156.2L1257.3 1156.1L1260.3 1156.2L1263.3 1156.5L1266.3 1156.8L1269.3 1157.3L1269.4 1157.4L1272.3 1157.9L1275.3 1158.5L1278.3 1159.1L1281.3 1159.7L1284.3 1160.2L1286.1 1160.3L1287.3 1160.5L1290.3 1160.6L1293.3 1160.6L1296.2 1160.3L1296.3 1160.3L1299.3 1159.9L1302.3 1159.2L1305.3 1158.3L1308.0 1157.4L1308.3 1157.2L1311.3 1156.0L1314.3 1154.8L1315.7 1154.4L1317.3 1153.8L1320.3 1153.0L1323.3 1152.8L1326.3 1152.9L1329.3 1153.4L1332.4 1154.1L1333.0 1154.4L1335.4 1155.1L1338.4 1156.0L1341.4 1157.0L1342.5 1157.4L1344.4 1157.9L1347.4 1158.8L1350.4 1159.6L1353.3 1160.3L1353.4 1160.4L1356.4 1161.1L1359.4 1161.7L1362.4 1162.4L1365.4 1163.0L1367.0 1163.3L1368.4 1163.6L1371.4 1164.3L1374.4 1164.8L1377.4 1165.4L1380.4 1165.9L1382.9 1166.3L1383.4 1166.4L1386.4 1166.8L1389.4 1167.2L1392.4 1167.5L1395.4 1167.8L1398.4 1168.0L1401.4 1168.1L1404.4 1168.2L1407.4 1168.2L1410.4 1168.2L1413.5 1168.1L1416.5 1167.9L1419.5 1167.7L1422.5 1167.4L1425.5 1167.0L1428.5 1166.5L1429.4 1166.3L1431.5 1165.9L1434.5 1165.1L1437.5 1164.1L1439.5 1163.3L1440.5 1162.9L1443.5 1161.5L1445.7 1160.3L1446.5 1159.9L1449.5 1157.9L1450.4 1157.4L1452.5 1155.7L1454.2 1154.4L1455.5 1153.1L1457.3 1151.4L1458.5 1150.0L1459.9 1148.4L1461.5 1146.2L1462.1 1145.4L1463.8 1142.4L1464.5 1140.8L1465.1 1139.4L1465.8 1136.4L1466.0 1133.4L1465.6 1130.4L1464.7 1127.4L1464.5 1127.1L1463.3 1124.4L1461.5 1121.6L1461.4 1121.4L1459.0 1118.4L1458.5 1117.8L1456.3 1115.4L1455.5 1114.7L1453.0 1112.4L1452.5 1112.0L1449.5 1109.5L1449.4 1109.4L1446.5 1107.3L1445.2 1106.4L1443.5 1105.3L1440.6 1103.4L1440.5 1103.4L1437.5 1101.6L1435.6 1100.4L1434.5 1099.8L1431.5 1098.0L1430.5 1097.5L1428.5 1096.3L1425.5 1094.5L1425.4 1094.5L1422.5 1092.7L1420.5 1091.5L1419.5 1090.9L1416.5 1089.0L1415.6 1088.5L1413.5 1087.2L1410.8 1085.5L1410.4 1085.3L1407.4 1083.3L1406.2 1082.5L1404.4 1081.1L1402.4 1079.5L1401.4 1078.6L1399.5 1076.5L1398.4 1075.2L1397.2 1073.5L1395.4 1070.9L1395.2 1070.5L1393.1 1067.5L1392.4 1066.7L1390.6 1064.5L1389.4 1063.4L1387.4 1061.5L1386.4 1060.8L1383.4 1058.7L1383.1 1058.5L1380.4 1057.1L1377.4 1055.6L1377.2 1055.5L1374.4 1054.4L1371.4 1053.4L1368.7 1052.5L1368.4 1052.4L1365.4 1051.7L1362.4 1051.0L1359.4 1050.4L1356.4 1049.9L1354.2 1049.5L1353.4 1049.4L1350.4 1049.0L1347.4 1048.6L1344.4 1048.2L1341.4 1047.8L1338.4 1047.4L1335.4 1047.0L1332.4 1046.6L1331.9 1046.5L1329.3 1046.2L1326.3 1045.9L1323.3 1045.7L1320.3 1045.5L1317.3 1045.3L1314.3 1045.2L1311.3 1045.2L1308.3 1045.2L1305.3 1045.2L1302.3 1045.4L1299.3 1045.5L1296.3 1045.7L1293.3 1046.0L1290.3 1046.2L1287.3 1046.5L1286.7 1046.5L1284.3 1046.8L1281.3 1047.1L1278.3 1047.4L1275.3 1047.7L1272.3 1048.0L1269.3 1048.3L1266.3 1048.6L1263.3 1048.9L1260.3 1049.2L1257.3 1049.4L1255.9 1049.5L1254.3 1049.7L1251.3 1049.9L1248.2 1050.1L1245.2 1050.3L1242.2 1050.5L1239.2 1050.6L1236.2 1050.6L1233.2 1050.6L1230.2 1050.5L1227.2 1050.4L1224.2 1050.2L1221.2 1049.9L1218.2 1049.6L1217.9 1049.5L1215.2 1049.2L1212.2 1048.8L1209.2 1048.4L1206.2 1047.9L1203.2 1047.4L1200.2 1046.9L1198.0 1046.5L1197.2 1046.4L1194.2 1045.8L1191.2 1045.3L1188.2 1044.7L1185.2 1044.0L1182.9 1043.5L1182.2 1043.4L1179.2 1042.7L1176.2 1042.0L1173.2 1041.4L1170.2 1040.7L1169.6 1040.5L1167.2 1040.0L1164.1 1039.3L1161.1 1038.7L1158.1 1038.1L1155.1 1037.6L1154.7 1037.5L1152.1 1037.1L1149.1 1036.7L1146.1 1036.4L1143.1 1036.2L1140.1 1036.1L1137.1 1036.1L1134.1 1036.1L1131.1 1036.3L1128.1 1036.5L1125.1 1036.8L1122.1 1037.3L1120.4 1037.5L1119.1 1037.8L1116.1 1038.3L1113.1 1039.0L1110.1 1039.7L1107.1 1040.5L1107.0 1040.5L1104.1 1041.5L1101.1 1042.5L1098.5 1043.5L1098.1 1043.7L1095.1 1045.1L1092.3 1046.5L1092.1 1046.7L1089.1 1048.4L1087.3 1049.5L1086.1 1050.3L1083.0 1052.5L1083.0 1052.5L1080.0 1054.8L1079.1 1055.5L1077.0 1057.2L1075.6 1058.5L1074.0 1059.9L1072.2 1061.5L1071.0 1062.6L1069.0 1064.5L1068.0 1065.4L1065.7 1067.5L1065.0 1068.2L1062.6 1070.5L1062.0 1071.0L1059.4 1073.5L1059.0 1073.9L1056.3 1076.5L1056.0 1076.7L1053.1 1079.5L1053.0 1079.6L1050.0 1082.4L1050.0 1082.5L1047.0 1085.1L1046.5 1085.5L1044.0 1087.3L1044.0 1085.5L1044.0 1082.5L1044.0 1079.5L1044.0 1076.5L1044.0 1076.3L1047.0 1074.5L1048.4 1073.5L1050.0 1072.3L1052.2 1070.5L1053.0 1069.9L1055.7 1067.5L1056.0 1067.2L1059.0 1064.5L1059.0 1064.5L1062.0 1061.6L1062.1 1061.5L1065.0 1058.7L1065.2 1058.5L1068.0 1055.8L1068.3 1055.5L1071.0 1053.0L1071.5 1052.5L1074.0 1050.3L1074.9 1049.5L1077.0 1047.8L1078.6 1046.5L1080.0 1045.5L1082.8 1043.5L1083.0 1043.3L1086.1 1041.4L1087.6 1040.5L1089.1 1039.7L1092.1 1038.2L1093.5 1037.5L1095.1 1036.9L1098.1 1035.7L1101.1 1034.6L1101.1 1034.6L1104.1 1033.5L1107.1 1032.6L1110.1 1031.7L1110.7 1031.6L1113.1 1030.9L1116.1 1030.2L1119.1 1029.5L1122.1 1028.9L1124.2 1028.6Z" fill="#9599cb" stroke="#9599cb" stroke-width="0.6" fill-rule="evenodd"/>
<path d="M1452.5 762.0L1455.5 762.0L1458.5 762.0L1461.5 762.0L1464.5 762.0L1467.5 762.0L1470.5 762.0L1473.5 762.0L1476.5 762.0L1479.5 762.0L1482.5 762.0L1485.5 762.0L1488.5 762.0L1491.5 762.0L1494.5 762.0L1497.6 762.0L1500.6 762.0L1503.6 762.0L1506.6 762.0L1509.6 762.0L1512.6 762.0L1515.6 762.0L1518.6 762.0L1521.6 762.0L1524.6 762.0L1527.6 762.0L1530.6 762.0L1533.6 762.0L1536.6 762.0L1539.6 762.0L1542.6 762.0L1545.6 762.0L1548.6 762.0L1551.6 762.0L1554.6 762.0L1557.6 762.0L1560.6 762.0L1563.6 762.0L1566.6 762.0L1569.6 762.0L1572.6 762.0L1575.6 762.0L1578.7 762.0L1581.7 762.0L1584.7 762.0L1587.7 762.0L1590.7 762.0L1593.7 762.0L1596.7 762.0L1599.7 762.0L1602.7 762.0L1605.7 762.0L1608.7 762.0L1611.7 762.0L1614.7 762.0L1617.7 762.0L1620.7 762.0L1623.7 762.0L1626.7 762.0L1629.7 762.0L1632.7 762.0L1635.7 762.0L1638.7 762.0L1641.7 762.0L1644.7 762.0L1647.7 762.0L1650.7 762.0L1653.7 762.0L1656.7 762.0L1659.8 762.0L1662.8 762.0L1665.8 762.0L1668.8 762.0L1669.9 762.0L1671.7 765.0L1671.8 765.0L1674.1 768.0L1674.8 768.8L1676.5 771.0L1677.8 772.7L1678.7 774.0L1680.7 777.0L1680.8 777.2L1682.3 780.0L1683.6 783.0L1683.8 783.4L1684.7 786.0L1685.6 789.0L1686.4 792.0L1686.8 793.7L1687.0 794.9L1687.6 797.9L1688.0 800.9L1688.4 803.9L1688.6 806.9L1688.7 809.9L1688.7 812.9L1688.5 815.9L1688.3 818.9L1687.9 821.9L1687.4 824.9L1686.8 827.9L1686.8 827.9L1686.1 830.9L1685.3 833.9L1684.4 836.9L1683.8 839.0L1683.5 839.9L1682.5 842.9L1681.6 845.9L1680.8 848.1L1680.5 848.9L1679.4 851.9L1678.2 854.8L1677.8 855.7L1676.8 857.8L1675.3 860.8L1674.8 861.7L1673.5 863.8L1671.8 866.5L1671.5 866.8L1669.3 869.8L1668.8 870.6L1667.1 872.8L1665.8 874.7L1665.0 875.8L1663.1 878.8L1662.8 879.4L1661.5 881.8L1660.3 884.8L1659.8 886.6L1659.4 887.8L1658.5 890.8L1657.5 893.8L1656.7 895.4L1656.1 896.8L1653.8 899.8L1653.7 899.9L1650.7 902.4L1650.1 902.8L1647.7 904.3L1644.9 905.8L1644.7 905.9L1641.7 907.7L1640.0 908.8L1638.7 909.9L1636.7 911.8L1635.7 913.0L1634.5 914.8L1632.8 917.7L1632.7 917.9L1631.4 920.7L1630.3 923.7L1629.7 925.4L1629.3 926.7L1628.5 929.7L1627.8 932.7L1627.2 935.7L1626.7 937.8L1626.5 938.7L1625.8 941.7L1625.0 944.7L1624.4 947.7L1623.8 950.7L1623.7 951.0L1623.3 953.7L1622.8 956.7L1622.4 959.7L1622.1 962.7L1621.7 965.7L1621.3 968.7L1621.0 971.7L1620.8 974.7L1620.7 975.4L1620.6 977.6L1620.4 980.6L1620.2 983.6L1620.1 986.6L1620.1 989.6L1620.1 992.6L1620.1 995.6L1620.3 998.6L1620.4 1001.6L1620.6 1004.6L1620.7 1006.4L1620.8 1007.6L1621.0 1010.6L1621.2 1013.6L1621.5 1016.6L1621.8 1019.6L1622.3 1022.6L1622.8 1025.6L1623.5 1028.6L1623.7 1029.7L1624.2 1031.6L1625.0 1034.6L1625.9 1037.5L1626.7 1040.2L1626.8 1040.5L1627.9 1043.5L1629.0 1046.5L1629.7 1048.4L1630.2 1049.5L1631.5 1052.5L1632.7 1055.0L1633.0 1055.5L1634.7 1058.5L1635.7 1060.3L1636.5 1061.5L1638.5 1064.5L1638.7 1064.8L1640.7 1067.5L1641.7 1068.7L1643.3 1070.5L1644.7 1071.9L1646.5 1073.5L1647.7 1074.4L1650.6 1076.5L1650.7 1076.6L1653.7 1078.5L1655.4 1079.5L1656.7 1080.2L1659.8 1081.9L1660.7 1082.5L1662.8 1083.6L1665.8 1085.1L1666.4 1085.5L1668.8 1086.5L1671.8 1087.8L1673.3 1088.5L1674.8 1089.0L1677.8 1090.0L1680.8 1090.9L1682.7 1091.5L1683.8 1091.7L1686.8 1092.4L1689.8 1092.9L1692.8 1093.2L1695.8 1093.4L1698.8 1093.5L1701.8 1093.5L1704.8 1093.3L1707.8 1093.1L1710.8 1092.8L1713.8 1092.4L1716.8 1091.9L1719.2 1091.5L1719.8 1091.3L1722.8 1090.7L1725.8 1090.0L1728.8 1089.3L1731.8 1088.5L1732.0 1088.5L1734.8 1087.7L1737.8 1086.7L1740.8 1085.8L1741.7 1085.5L1743.9 1084.6L1746.9 1083.5L1749.4 1082.5L1749.9 1082.3L1752.9 1080.9L1755.9 1079.6L1756.2 1079.5L1758.9 1077.9L1761.4 1076.5L1761.9 1076.1L1764.9 1074.0L1765.8 1073.5L1767.9 1072.2L1770.9 1070.7L1771.3 1070.5L1773.9 1069.0L1775.9 1067.5L1776.9 1066.7L1779.2 1064.5L1779.9 1063.9L1782.6 1061.5L1782.9 1061.3L1785.9 1059.2L1786.9 1058.5L1788.9 1057.2L1791.4 1055.5L1791.9 1055.2L1794.9 1053.2L1795.8 1052.5L1797.9 1051.1L1800.0 1049.5L1800.9 1048.8L1803.9 1046.5L1803.9 1046.5L1806.9 1044.1L1807.6 1043.5L1809.9 1041.5L1811.0 1040.5L1812.9 1038.7L1814.1 1037.5L1815.9 1035.6L1817.0 1034.6L1818.9 1032.4L1819.7 1031.6L1821.9 1029.0L1822.3 1028.6L1824.9 1025.6L1825.0 1025.5L1827.3 1022.6L1828.0 1021.8L1829.7 1019.6L1831.0 1017.9L1832.0 1016.6L1834.0 1013.8L1834.1 1013.6L1836.1 1010.6L1837.0 1009.3L1838.0 1007.6L1839.8 1004.6L1840.0 1004.3L1841.4 1001.6L1842.9 998.6L1843.0 998.5L1844.3 995.6L1845.6 992.6L1846.0 991.7L1846.8 989.6L1847.9 986.6L1848.9 983.6L1849.0 983.4L1849.9 980.6L1850.7 977.6L1851.6 974.7L1852.0 973.0L1852.3 971.7L1853.1 968.7L1853.7 965.7L1854.3 962.7L1854.9 959.7L1855.0 959.1L1855.4 956.7L1856.0 953.7L1856.5 950.7L1857.0 947.7L1857.4 944.7L1857.9 941.7L1858.0 941.2L1858.4 938.7L1858.9 935.7L1859.3 932.7L1859.7 929.7L1860.0 926.7L1860.2 923.7L1860.4 920.7L1860.4 917.7L1860.4 914.8L1860.3 911.8L1860.1 908.8L1859.8 905.8L1859.5 902.8L1859.1 899.8L1858.6 896.8L1858.0 893.8L1858.0 893.8L1857.4 890.8L1856.8 887.8L1856.1 884.8L1855.3 881.8L1855.0 880.8L1854.5 878.8L1853.6 875.8L1852.7 872.8L1852.0 870.3L1851.8 869.8L1850.9 866.8L1849.9 863.8L1849.0 860.9L1849.0 860.8L1847.8 857.8L1846.6 854.8L1846.0 853.5L1845.2 851.9L1843.8 848.9L1843.0 847.0L1842.4 845.9L1841.3 842.9L1840.4 839.9L1840.0 838.1L1839.7 836.9L1839.1 833.9L1838.8 830.9L1838.5 827.9L1838.4 824.9L1838.2 821.9L1837.9 818.9L1837.5 815.9L1837.0 813.3L1836.9 812.9L1836.1 809.9L1835.3 806.9L1834.6 803.9L1834.0 801.5L1833.8 800.9L1833.1 797.9L1832.5 794.9L1831.9 792.0L1831.5 789.0L1831.1 786.0L1831.0 784.9L1830.7 783.0L1830.4 780.0L1830.3 777.0L1830.2 774.0L1830.1 771.0L1830.1 768.0L1830.1 765.0L1830.0 762.0L1831.0 762.0L1834.0 762.0L1837.0 762.0L1840.0 762.0L1843.0 762.0L1846.0 762.0L1849.0 762.0L1852.0 762.0L1855.0 762.0L1858.0 762.0L1861.0 762.0L1864.0 762.0L1864.0 765.0L1864.0 768.0L1864.0 771.0L1864.0 774.0L1864.0 777.0L1864.0 780.0L1864.0 783.0L1864.0 786.0L1864.0 789.0L1864.0 792.0L1864.0 794.9L1864.0 797.9L1864.0 800.9L1864.0 803.9L1864.0 806.9L1864.0 809.9L1864.0 812.9L1864.0 815.9L1864.0 818.9L1864.0 821.9L1864.0 824.9L1864.0 827.9L1864.0 830.9L1864.0 833.9L1864.0 836.9L1864.0 839.9L1864.0 842.9L1864.0 845.9L1864.0 848.9L1864.0 851.9L1864.0 854.8L1864.0 857.8L1864.0 860.8L1864.0 863.8L1864.0 866.8L1864.0 869.8L1864.0 872.8L1864.0 875.8L1864.0 878.8L1864.0 881.8L1864.0 884.8L1864.0 887.8L1864.0 890.8L1864.0 893.8L1864.0 896.8L1864.0 899.8L1864.0 902.8L1864.0 905.8L1864.0 908.8L1864.0 911.8L1864.0 914.8L1864.0 917.7L1864.0 920.7L1864.0 923.7L1864.0 926.7L1864.0 929.7L1864.0 932.7L1864.0 935.7L1864.0 938.7L1864.0 941.7L1864.0 944.7L1864.0 947.7L1864.0 950.7L1864.0 953.7L1864.0 956.7L1864.0 959.7L1864.0 962.7L1864.0 965.7L1864.0 968.7L1864.0 971.7L1864.0 974.7L1864.0 977.6L1864.0 980.6L1864.0 983.6L1864.0 986.6L1864.0 989.6L1864.0 992.6L1864.0 995.6L1864.0 998.6L1864.0 1001.6L1864.0 1004.6L1864.0 1007.6L1864.0 1010.6L1864.0 1013.6L1864.0 1016.6L1864.0 1019.6L1864.0 1022.6L1864.0 1025.6L1864.0 1028.6L1864.0 1031.6L1864.0 1033.0L1861.8 1034.6L1861.0 1035.1L1858.2 1037.5L1858.0 1037.7L1855.0 1040.5L1855.0 1040.6L1852.1 1043.5L1852.0 1043.7L1849.3 1046.5L1849.0 1046.8L1846.4 1049.5L1846.0 1050.0L1843.5 1052.5L1843.0 1053.0L1840.4 1055.5L1840.0 1055.9L1837.4 1058.5L1837.0 1058.9L1834.3 1061.5L1834.0 1061.8L1831.1 1064.5L1831.0 1064.6L1828.0 1067.1L1827.5 1067.5L1825.0 1069.3L1823.3 1070.5L1821.9 1071.3L1818.9 1073.0L1818.1 1073.5L1815.9 1074.4L1812.9 1075.7L1810.8 1076.5L1809.9 1076.8L1806.9 1077.8L1803.9 1078.8L1802.2 1079.5L1800.9 1079.9L1797.9 1081.0L1794.9 1082.2L1794.2 1082.5L1791.9 1083.4L1788.9 1084.5L1786.5 1085.5L1785.9 1085.7L1782.9 1086.7L1779.9 1087.7L1777.8 1088.5L1776.9 1088.8L1773.9 1089.8L1770.9 1090.9L1769.4 1091.5L1767.9 1092.0L1764.9 1093.1L1761.9 1094.1L1760.7 1094.5L1758.9 1095.1L1755.9 1096.0L1752.9 1097.0L1751.6 1097.5L1749.9 1098.1L1746.9 1099.1L1743.9 1100.1L1743.0 1100.4L1740.8 1101.2L1737.8 1102.2L1734.8 1103.1L1733.9 1103.4L1731.8 1104.1L1728.8 1105.1L1725.8 1106.1L1724.9 1106.4L1722.8 1107.2L1719.8 1108.2L1716.8 1109.1L1715.9 1109.4L1713.8 1110.1L1710.8 1111.0L1707.8 1111.9L1706.1 1112.4L1704.8 1112.8L1701.8 1113.7L1698.8 1114.6L1695.8 1115.4L1695.7 1115.4L1692.8 1116.2L1689.8 1116.9L1686.8 1117.6L1683.8 1118.3L1683.2 1118.4L1680.8 1118.9L1677.8 1119.5L1674.8 1120.0L1671.8 1120.5L1668.8 1120.9L1665.8 1121.3L1664.3 1121.4L1662.8 1121.5L1659.8 1121.7L1656.7 1121.9L1653.7 1121.9L1650.7 1121.9L1647.7 1121.8L1644.7 1121.6L1643.5 1121.4L1641.7 1121.2L1638.7 1120.7L1635.7 1120.1L1632.7 1119.3L1629.7 1118.5L1629.6 1118.4L1626.7 1117.4L1623.7 1116.1L1622.3 1115.4L1620.7 1114.6L1617.7 1112.8L1617.2 1112.4L1614.7 1110.5L1613.5 1109.4L1611.7 1107.6L1610.7 1106.4L1608.7 1103.6L1608.6 1103.4L1607.0 1100.4L1605.8 1097.5L1605.7 1097.2L1604.8 1094.5L1603.9 1091.5L1603.2 1088.5L1602.7 1085.5L1602.7 1085.3L1602.5 1082.5L1602.4 1079.5L1602.6 1076.5L1602.7 1074.9L1602.8 1073.5L1603.0 1070.5L1603.1 1067.5L1603.1 1064.5L1603.2 1061.5L1603.1 1058.5L1603.1 1055.5L1603.1 1052.5L1603.1 1049.5L1603.1 1046.5L1603.0 1043.5L1603.0 1040.5L1602.9 1037.5L1602.9 1034.6L1602.9 1031.6L1602.9 1028.6L1602.9 1025.6L1603.0 1022.6L1603.0 1019.6L1603.0 1016.6L1603.0 1013.6L1603.0 1010.6L1603.0 1007.6L1603.0 1004.6L1603.0 1001.6L1603.0 998.6L1603.0 995.6L1602.9 992.6L1602.8 989.6L1602.7 986.6L1602.7 986.2L1602.6 983.6L1602.6 980.6L1602.7 978.1L1602.7 977.6L1602.8 974.7L1602.9 971.7L1602.9 968.7L1602.9 965.7L1602.9 962.7L1602.9 959.7L1602.9 956.7L1602.9 953.7L1602.9 950.7L1603.0 947.7L1603.0 944.7L1603.0 941.7L1603.0 938.7L1603.0 935.7L1603.0 932.7L1603.0 929.7L1603.0 926.7L1603.0 923.7L1603.1 920.7L1603.1 917.7L1603.1 914.8L1603.1 911.8L1603.1 908.8L1603.1 905.8L1603.1 902.8L1603.1 899.8L1603.1 896.8L1603.2 893.8L1603.2 890.8L1603.2 887.8L1603.2 884.8L1603.2 881.8L1603.2 878.8L1603.2 875.8L1603.2 872.8L1603.2 869.8L1603.3 866.8L1603.4 863.8L1603.6 860.8L1603.7 857.8L1603.7 854.8L1603.6 851.9L1603.2 848.9L1602.7 846.5L1602.5 845.9L1601.1 842.9L1599.7 840.9L1598.6 839.9L1596.7 838.2L1594.2 836.9L1593.7 836.5L1590.7 834.8L1588.6 833.9L1587.7 833.3L1584.7 831.7L1583.0 830.9L1581.7 830.2L1578.7 828.8L1576.6 827.9L1575.6 827.4L1572.6 826.0L1570.1 824.9L1569.6 824.7L1566.6 823.4L1563.6 822.2L1562.8 821.9L1560.6 821.2L1557.6 820.3L1554.6 819.6L1551.6 819.0L1551.0 818.9L1548.6 818.5L1545.6 818.2L1542.6 818.0L1539.6 817.9L1536.6 817.9L1533.6 817.9L1530.6 818.0L1527.6 818.2L1524.6 818.4L1521.6 818.7L1518.9 818.9L1518.6 818.9L1515.6 819.2L1512.6 819.5L1509.6 819.6L1506.6 819.7L1503.6 819.5L1500.6 819.1L1499.6 818.9L1497.6 818.4L1494.5 817.4L1491.5 816.2L1491.1 815.9L1488.5 814.6L1485.7 812.9L1485.5 812.8L1482.5 810.9L1481.2 809.9L1479.5 808.7L1477.3 806.9L1476.5 806.3L1473.9 803.9L1473.5 803.6L1470.9 800.9L1470.5 800.6L1468.2 797.9L1467.5 797.2L1465.8 794.9L1464.5 793.3L1463.6 792.0L1461.5 789.0L1461.5 789.0L1459.7 786.0L1458.5 784.0L1458.0 783.0L1456.4 780.0L1455.5 778.0L1455.1 777.0L1453.9 774.0L1452.7 771.0L1452.5 770.3L1451.8 768.0L1450.9 765.0L1450.3 762.0ZM1125.1 1019.4L1128.1 1018.9L1131.1 1018.6L1134.1 1018.3L1137.1 1018.2L1140.1 1018.1L1143.1 1018.2L1146.1 1018.4L1149.1 1018.6L1152.1 1019.0L1155.1 1019.5L1155.4 1019.6L1158.1 1020.1L1161.1 1020.8L1164.1 1021.5L1167.2 1022.3L1168.3 1022.6L1170.2 1023.1L1173.2 1023.9L1176.2 1024.8L1178.8 1025.6L1179.2 1025.7L1182.2 1026.5L1185.2 1027.3L1188.2 1028.1L1190.2 1028.6L1191.2 1028.8L1194.2 1029.4L1197.2 1030.0L1200.2 1030.6L1203.2 1031.1L1205.7 1031.6L1206.2 1031.6L1209.2 1032.1L1212.2 1032.5L1215.2 1033.0L1218.2 1033.3L1221.2 1033.7L1224.2 1034.0L1227.2 1034.3L1230.2 1034.6L1230.2 1034.6L1233.2 1034.7L1236.2 1034.9L1239.2 1035.0L1242.2 1035.0L1245.2 1035.0L1248.2 1035.0L1251.3 1034.9L1254.3 1034.8L1257.3 1034.7L1260.3 1034.6L1261.7 1034.6L1263.3 1034.5L1266.3 1034.3L1269.3 1034.1L1272.3 1033.9L1275.3 1033.7L1278.3 1033.5L1281.3 1033.2L1284.3 1033.0L1287.3 1032.8L1290.3 1032.5L1293.3 1032.3L1296.3 1032.2L1299.3 1032.0L1302.3 1031.9L1305.3 1031.8L1308.3 1031.8L1311.3 1031.8L1314.3 1031.8L1317.3 1031.9L1320.3 1032.0L1323.3 1032.2L1326.3 1032.4L1329.3 1032.6L1332.4 1032.9L1335.4 1033.2L1338.4 1033.5L1341.4 1033.8L1344.4 1034.1L1347.4 1034.5L1348.1 1034.6L1350.4 1034.8L1353.4 1035.1L1356.4 1035.5L1359.4 1035.9L1362.4 1036.3L1365.4 1036.7L1368.4 1037.2L1370.1 1037.5L1371.4 1037.8L1374.4 1038.4L1377.4 1039.1L1380.4 1039.9L1382.8 1040.5L1383.4 1040.7L1386.4 1041.7L1389.4 1042.6L1392.0 1043.5L1392.4 1043.7L1395.4 1044.8L1398.4 1046.0L1399.6 1046.5L1401.4 1047.4L1404.4 1048.8L1405.9 1049.5L1407.4 1050.4L1410.4 1052.2L1411.0 1052.5L1413.5 1054.1L1415.6 1055.5L1416.5 1056.2L1419.5 1058.3L1419.7 1058.5L1422.5 1060.7L1423.5 1061.5L1425.5 1063.1L1427.2 1064.5L1428.5 1065.5L1431.3 1067.5L1431.5 1067.6L1434.5 1069.4L1436.7 1070.5L1437.5 1070.9L1440.5 1072.2L1443.5 1073.3L1444.1 1073.5L1446.5 1074.3L1449.5 1075.3L1452.5 1076.2L1453.8 1076.5L1455.5 1077.0L1458.5 1077.7L1461.5 1078.3L1464.5 1078.9L1467.4 1079.5L1467.5 1079.5L1470.5 1080.3L1473.5 1081.1L1476.5 1081.9L1478.6 1082.5L1479.5 1082.8L1482.5 1083.7L1485.5 1084.5L1488.5 1085.4L1488.7 1085.5L1491.5 1086.4L1494.5 1087.3L1497.6 1088.3L1498.1 1088.5L1500.6 1089.3L1503.6 1090.4L1506.3 1091.5L1506.6 1091.6L1509.6 1092.9L1512.6 1094.2L1513.2 1094.5L1515.6 1095.7L1518.6 1097.3L1519.0 1097.5L1521.6 1099.1L1523.7 1100.4L1524.6 1101.2L1527.1 1103.4L1527.6 1104.1L1529.4 1106.4L1530.6 1108.9L1530.8 1109.4L1531.7 1112.4L1532.1 1115.4L1532.2 1118.4L1532.0 1121.4L1531.5 1124.4L1530.7 1127.4L1530.6 1127.8L1529.8 1130.4L1528.6 1133.4L1527.6 1135.6L1527.2 1136.4L1525.7 1139.4L1524.6 1141.4L1524.1 1142.4L1522.3 1145.4L1521.6 1146.4L1520.4 1148.4L1518.6 1150.9L1518.3 1151.4L1516.1 1154.4L1515.6 1155.1L1513.9 1157.4L1512.6 1159.0L1511.6 1160.3L1509.6 1162.9L1509.2 1163.3L1506.7 1166.3L1506.6 1166.5L1504.1 1169.3L1503.6 1169.9L1501.3 1172.3L1500.6 1173.1L1498.5 1175.3L1497.6 1176.3L1495.6 1178.3L1494.5 1179.4L1492.5 1181.3L1491.5 1182.1L1488.9 1184.3L1488.5 1184.6L1485.5 1186.6L1484.4 1187.3L1482.5 1188.3L1479.5 1189.7L1478.0 1190.3L1476.5 1190.8L1473.5 1191.6L1470.5 1192.1L1467.5 1192.4L1464.5 1192.6L1461.5 1192.6L1458.5 1192.5L1455.5 1192.3L1452.5 1192.0L1449.5 1191.7L1446.5 1191.3L1443.5 1190.8L1440.5 1190.3L1440.5 1190.3L1437.5 1189.7L1434.5 1189.2L1431.5 1188.6L1428.5 1188.1L1425.5 1187.6L1423.9 1187.3L1422.5 1187.1L1419.5 1186.6L1416.5 1186.1L1413.5 1185.7L1410.4 1185.2L1407.4 1184.7L1404.9 1184.3L1404.4 1184.2L1401.4 1183.7L1398.4 1183.2L1395.4 1182.6L1392.4 1182.0L1389.4 1181.4L1389.1 1181.3L1386.4 1180.7L1383.4 1180.1L1380.4 1179.4L1377.4 1178.7L1375.9 1178.3L1374.4 1178.0L1371.4 1177.2L1368.4 1176.5L1365.4 1175.7L1363.8 1175.3L1362.4 1175.0L1359.4 1174.2L1356.4 1173.5L1353.4 1172.8L1351.5 1172.3L1350.4 1172.1L1347.4 1171.3L1344.4 1170.5L1341.4 1169.6L1340.5 1169.3L1338.4 1168.7L1335.4 1167.8L1332.4 1167.0L1329.8 1166.3L1329.3 1166.2L1326.3 1165.6L1323.3 1165.2L1320.3 1165.1L1317.3 1165.1L1314.3 1165.3L1311.3 1165.7L1308.3 1166.0L1305.3 1166.3L1304.7 1166.3L1302.3 1166.5L1299.3 1166.7L1296.3 1166.7L1293.3 1166.7L1290.3 1166.6L1287.3 1166.4L1286.9 1166.3L1284.3 1166.1L1281.3 1165.8L1278.3 1165.3L1275.3 1164.8L1272.3 1164.4L1269.3 1163.9L1266.3 1163.5L1264.9 1163.3L1263.3 1163.2L1260.3 1163.0L1257.3 1162.8L1254.3 1162.8L1251.3 1162.9L1248.2 1163.1L1245.2 1163.3L1245.1 1163.3L1242.2 1163.6L1239.2 1163.9L1236.2 1164.1L1233.2 1164.3L1230.2 1164.5L1227.2 1164.6L1224.2 1164.7L1221.2 1164.8L1218.2 1164.8L1215.2 1164.8L1212.2 1164.8L1209.2 1164.8L1206.2 1164.8L1203.2 1164.9L1200.2 1165.1L1197.2 1165.4L1194.2 1165.8L1191.2 1166.3L1190.8 1166.3L1188.2 1166.8L1185.2 1167.5L1182.2 1168.2L1179.2 1168.8L1176.9 1169.3L1176.2 1169.5L1173.2 1170.1L1170.2 1170.6L1167.2 1171.1L1164.1 1171.5L1161.1 1171.8L1158.1 1172.2L1156.6 1172.3L1155.1 1172.5L1152.1 1172.8L1149.1 1173.2L1146.1 1173.5L1143.1 1173.9L1140.1 1174.4L1137.1 1175.0L1135.5 1175.3L1134.1 1175.6L1131.1 1176.4L1128.1 1177.2L1125.1 1178.1L1124.5 1178.3L1122.1 1179.1L1119.1 1180.1L1116.1 1181.2L1115.7 1181.3L1113.1 1182.3L1110.1 1183.3L1107.1 1184.2L1106.8 1184.3L1104.1 1185.1L1101.1 1186.0L1098.1 1186.8L1096.4 1187.3L1095.1 1187.7L1092.1 1188.6L1089.1 1189.6L1086.9 1190.3L1086.1 1190.6L1083.0 1191.6L1080.0 1192.8L1078.6 1193.3L1077.0 1193.9L1074.0 1195.1L1071.1 1196.3L1071.0 1196.3L1068.0 1197.5L1065.0 1198.5L1062.3 1199.3L1062.0 1199.4L1059.0 1200.1L1056.0 1200.8L1053.0 1201.4L1050.0 1201.9L1047.1 1202.3L1047.0 1202.3L1044.0 1202.6L1044.0 1202.3L1044.0 1199.3L1044.0 1197.8L1047.0 1197.7L1050.0 1197.4L1053.0 1197.1L1056.0 1196.6L1057.8 1196.3L1059.0 1196.1L1062.0 1195.3L1065.0 1194.5L1068.0 1193.5L1068.5 1193.3L1071.0 1192.3L1074.0 1191.2L1076.3 1190.3L1077.0 1190.0L1080.0 1188.9L1083.0 1187.8L1084.6 1187.3L1086.1 1186.8L1089.1 1185.9L1092.1 1185.0L1094.4 1184.3L1095.1 1184.1L1098.1 1183.3L1101.1 1182.5L1104.1 1181.6L1105.0 1181.3L1107.1 1180.7L1110.1 1179.6L1113.1 1178.6L1113.7 1178.3L1116.1 1177.5L1119.1 1176.4L1122.0 1175.3L1122.1 1175.3L1125.1 1174.3L1128.1 1173.4L1131.1 1172.6L1132.4 1172.3L1134.1 1171.9L1137.1 1171.3L1140.1 1170.8L1143.1 1170.4L1146.1 1170.1L1149.1 1169.9L1152.1 1169.6L1155.1 1169.4L1155.9 1169.3L1158.1 1169.2L1161.1 1168.9L1164.1 1168.6L1167.2 1168.2L1170.2 1167.7L1173.2 1167.1L1176.2 1166.5L1176.7 1166.3L1179.2 1165.7L1182.2 1165.0L1185.2 1164.2L1188.2 1163.5L1189.0 1163.3L1191.2 1162.9L1194.2 1162.4L1197.2 1162.0L1200.2 1161.7L1203.2 1161.6L1206.2 1161.5L1209.2 1161.5L1212.2 1161.6L1215.2 1161.7L1218.2 1161.8L1221.2 1161.8L1224.2 1161.8L1227.2 1161.8L1230.2 1161.7L1233.2 1161.5L1236.2 1161.2L1239.2 1160.9L1242.2 1160.5L1243.8 1160.3L1245.2 1160.2L1248.2 1159.9L1251.3 1159.6L1254.3 1159.5L1257.3 1159.5L1260.3 1159.6L1263.3 1159.8L1266.3 1160.2L1267.5 1160.3L1269.3 1160.6L1272.3 1161.1L1275.3 1161.7L1278.3 1162.2L1281.3 1162.7L1284.3 1163.1L1286.7 1163.3L1287.3 1163.4L1290.3 1163.6L1293.3 1163.6L1296.3 1163.5L1298.3 1163.3L1299.3 1163.3L1302.3 1162.9L1305.3 1162.3L1308.3 1161.7L1311.3 1160.9L1313.7 1160.3L1314.3 1160.2L1317.3 1159.5L1320.3 1159.2L1323.3 1159.1L1326.3 1159.3L1329.3 1159.8L1331.4 1160.3L1332.4 1160.6L1335.4 1161.4L1338.4 1162.4L1341.4 1163.3L1341.5 1163.3L1344.4 1164.2L1347.4 1165.0L1350.4 1165.8L1352.5 1166.3L1353.4 1166.6L1356.4 1167.3L1359.4 1168.0L1362.4 1168.7L1365.2 1169.3L1365.4 1169.4L1368.4 1170.1L1371.4 1170.8L1374.4 1171.5L1377.4 1172.2L1378.1 1172.3L1380.4 1172.8L1383.4 1173.4L1386.4 1174.0L1389.4 1174.5L1392.4 1175.0L1394.3 1175.3L1395.4 1175.5L1398.4 1175.9L1401.4 1176.3L1404.4 1176.7L1407.4 1177.0L1410.4 1177.3L1413.5 1177.6L1416.5 1177.9L1419.5 1178.2L1421.2 1178.3L1422.5 1178.4L1425.5 1178.7L1428.5 1178.9L1431.5 1179.1L1434.5 1179.2L1437.5 1179.4L1440.5 1179.5L1443.5 1179.5L1446.5 1179.4L1449.5 1179.2L1452.5 1178.8L1455.4 1178.3L1455.5 1178.3L1458.5 1177.5L1461.5 1176.6L1464.5 1175.4L1464.7 1175.3L1467.5 1173.9L1470.3 1172.3L1470.5 1172.2L1473.5 1170.2L1474.7 1169.3L1476.5 1167.9L1478.4 1166.3L1479.5 1165.4L1481.7 1163.3L1482.5 1162.5L1484.5 1160.3L1485.5 1159.2L1487.0 1157.4L1488.5 1155.4L1489.3 1154.4L1491.3 1151.4L1491.5 1150.9L1493.0 1148.4L1494.5 1145.4L1494.5 1145.3L1495.7 1142.4L1496.7 1139.4L1497.4 1136.4L1497.6 1134.8L1497.7 1133.4L1497.8 1130.4L1497.6 1127.9L1497.5 1127.4L1496.9 1124.4L1495.8 1121.4L1494.5 1118.6L1494.4 1118.4L1492.6 1115.4L1491.5 1114.0L1490.3 1112.4L1488.5 1110.7L1487.3 1109.4L1485.5 1108.0L1483.7 1106.4L1482.5 1105.6L1479.6 1103.4L1479.5 1103.4L1476.5 1101.4L1475.1 1100.4L1473.5 1099.5L1470.5 1097.8L1469.9 1097.5L1467.5 1096.2L1464.5 1094.6L1464.2 1094.5L1461.5 1093.2L1458.5 1091.8L1457.7 1091.5L1455.5 1090.5L1452.5 1089.3L1450.4 1088.5L1449.5 1088.1L1446.5 1087.0L1443.5 1085.8L1442.6 1085.5L1440.5 1084.7L1437.5 1083.5L1434.9 1082.5L1434.5 1082.3L1431.5 1081.0L1428.5 1079.6L1428.2 1079.5L1425.5 1078.0L1423.0 1076.5L1422.5 1076.1L1419.5 1074.0L1418.9 1073.5L1416.5 1071.5L1415.3 1070.5L1413.5 1068.8L1412.1 1067.5L1410.4 1066.0L1408.9 1064.5L1407.4 1063.2L1405.5 1061.5L1404.4 1060.6L1401.8 1058.5L1401.4 1058.3L1398.4 1056.3L1397.3 1055.5L1395.4 1054.5L1392.4 1052.8L1391.8 1052.5L1389.4 1051.4L1386.4 1050.2L1384.9 1049.5L1383.4 1049.0L1380.4 1047.9L1377.4 1047.0L1375.9 1046.5L1374.4 1046.1L1371.4 1045.3L1368.4 1044.6L1365.4 1044.0L1362.6 1043.5L1362.4 1043.5L1359.4 1043.0L1356.4 1042.6L1353.4 1042.2L1350.4 1041.8L1347.4 1041.4L1344.4 1041.1L1341.4 1040.7L1340.2 1040.5L1338.4 1040.3L1335.4 1040.0L1332.4 1039.7L1329.3 1039.4L1326.3 1039.1L1323.3 1038.9L1320.3 1038.8L1317.3 1038.6L1314.3 1038.5L1311.3 1038.5L1308.3 1038.5L1305.3 1038.5L1302.3 1038.6L1299.3 1038.7L1296.3 1038.9L1293.3 1039.1L1290.3 1039.4L1287.3 1039.6L1284.3 1039.9L1281.3 1040.2L1278.3 1040.5L1277.4 1040.5L1275.3 1040.7L1272.3 1041.0L1269.3 1041.3L1266.3 1041.5L1263.3 1041.8L1260.3 1042.0L1257.3 1042.2L1254.3 1042.4L1251.3 1042.5L1248.2 1042.7L1245.2 1042.8L1242.2 1042.9L1239.2 1042.9L1236.2 1042.9L1233.2 1042.9L1230.2 1042.7L1227.2 1042.5L1224.2 1042.3L1221.2 1042.0L1218.2 1041.7L1215.2 1041.3L1212.2 1040.9L1209.9 1040.5L1209.2 1040.4L1206.2 1040.0L1203.2 1039.5L1200.2 1039.0L1197.2 1038.4L1194.2 1037.9L1192.6 1037.5L1191.2 1037.3L1188.2 1036.6L1185.2 1035.9L1182.2 1035.2L1179.4 1034.6L1179.2 1034.5L1176.2 1033.7L1173.2 1032.9L1170.2 1032.2L1167.7 1031.6L1167.2 1031.4L1164.1 1030.7L1161.1 1030.0L1158.1 1029.4L1155.1 1028.8L1153.4 1028.6L1152.1 1028.4L1149.1 1028.0L1146.1 1027.7L1143.1 1027.5L1140.1 1027.4L1137.1 1027.4L1134.1 1027.5L1131.1 1027.7L1128.1 1028.0L1125.1 1028.4L1124.2 1028.6L1122.1 1028.9L1119.1 1029.5L1116.1 1030.2L1113.1 1030.9L1110.7 1031.6L1110.1 1031.7L1107.1 1032.6L1104.1 1033.5L1101.1 1034.6L1101.1 1034.6L1098.1 1035.7L1095.1 1036.9L1093.5 1037.5L1092.1 1038.2L1089.1 1039.7L1087.6 1040.5L1086.1 1041.4L1083.0 1043.3L1082.8 1043.5L1080.0 1045.5L1078.6 1046.5L1077.0 1047.8L1074.9 1049.5L1074.0 1050.3L1071.5 1052.5L1071.0 1053.0L1068.3 1055.5L1068.0 1055.8L1065.2 1058.5L1065.0 1058.7L1062.1 1061.5L1062.0 1061.6L1059.0 1064.5L1059.0 1064.5L1056.0 1067.2L1055.7 1067.5L1053.0 1069.9L1052.2 1070.5L1050.0 1072.3L1048.4 1073.5L1047.0 1074.5L1044.0 1076.3L1044.0 1073.5L1044.0 1070.5L1044.0 1067.5L1044.0 1066.2L1047.0 1064.6L1047.2 1064.5L1050.0 1062.5L1051.3 1061.5L1053.0 1060.1L1054.7 1058.5L1056.0 1057.3L1057.9 1055.5L1059.0 1054.4L1060.8 1052.5L1062.0 1051.3L1063.7 1049.5L1065.0 1048.2L1066.7 1046.5L1068.0 1045.2L1069.9 1043.5L1071.0 1042.5L1073.4 1040.5L1074.0 1040.0L1077.0 1037.8L1077.4 1037.5L1080.0 1035.8L1082.1 1034.6L1083.0 1034.0L1086.1 1032.4L1087.8 1031.6L1089.1 1031.0L1092.1 1029.6L1094.8 1028.6L1095.1 1028.4L1098.1 1027.3L1101.1 1026.2L1102.8 1025.6L1104.1 1025.1L1107.1 1024.1L1110.1 1023.1L1111.8 1022.6L1113.1 1022.2L1116.1 1021.4L1119.1 1020.6L1122.1 1020.0L1124.2 1019.6Z" fill="#adafd8" stroke="#adafd8" stroke-width="0.6" fill-rule="evenodd"/>
<path d="M1398.4 762.0L1401.4 762.0L1404.4 762.0L1407.4 762.0L1410.4 762.0L1413.5 762.0L1416.5 762.0L1419.5 762.0L1422.5 762.0L1425.5 762.0L1428.5 762.0L1431.5 762.0L1434.5 762.0L1437.5 762.0L1440.5 762.0L1443.5 762.0L1446.5 762.0L1449.5 762.0L1450.3 762.0L1450.9 765.0L1451.8 768.0L1452.5 770.3L1452.7 771.0L1453.9 774.0L1455.1 777.0L1455.5 778.0L1456.4 780.0L1458.0 783.0L1458.5 784.0L1459.7 786.0L1461.5 789.0L1461.5 789.0L1463.6 792.0L1464.5 793.3L1465.8 794.9L1467.5 797.2L1468.2 797.9L1470.5 800.6L1470.9 800.9L1473.5 803.6L1473.9 803.9L1476.5 806.3L1477.3 806.9L1479.5 808.7L1481.2 809.9L1482.5 810.9L1485.5 812.8L1485.7 812.9L1488.5 814.6L1491.1 815.9L1491.5 816.2L1494.5 817.4L1497.6 818.4L1499.6 818.9L1500.6 819.1L1503.6 819.5L1506.6 819.7L1509.6 819.6L1512.6 819.5L1515.6 819.2L1518.6 818.9L1518.9 818.9L1521.6 818.7L1524.6 818.4L1527.6 818.2L1530.6 818.0L1533.6 817.9L1536.6 817.9L1539.6 817.9L1542.6 818.0L1545.6 818.2L1548.6 818.5L1551.0 818.9L1551.6 819.0L1554.6 819.6L1557.6 820.3L1560.6 821.2L1562.8 821.9L1563.6 822.2L1566.6 823.4L1569.6 824.7L1570.1 824.9L1572.6 826.0L1575.6 827.4L1576.6 827.9L1578.7 828.8L1581.7 830.2L1583.0 830.9L1584.7 831.7L1587.7 833.3L1588.6 833.9L1590.7 834.8L1593.7 836.5L1594.2 836.9L1596.7 838.2L1598.6 839.9L1599.7 840.9L1601.1 842.9L1602.5 845.9L1602.7 846.5L1603.2 848.9L1603.6 851.9L1603.7 854.8L1603.7 857.8L1603.6 860.8L1603.4 863.8L1603.3 866.8L1603.2 869.8L1603.2 872.8L1603.2 875.8L1603.2 878.8L1603.2 881.8L1603.2 884.8L1603.2 887.8L1603.2 890.8L1603.2 893.8L1603.1 896.8L1603.1 899.8L1603.1 902.8L1603.1 905.8L1603.1 908.8L1603.1 911.8L1603.1 914.8L1603.1 917.7L1603.1 920.7L1603.0 923.7L1603.0 926.7L1603.0 929.7L1603.0 932.7L1603.0 935.7L1603.0 938.7L1603.0 941.7L1603.0 944.7L1603.0 947.7L1602.9 950.7L1602.9 953.7L1602.9 956.7L1602.9 959.7L1602.9 962.7L1602.9 965.7L1602.9 968.7L1602.9 971.7L1602.8 974.7L1602.7 977.6L1602.7 978.1L1602.6 980.6L1602.6 983.6L1602.7 986.2L1602.7 986.6L1602.8 989.6L1602.9 992.6L1603.0 995.6L1603.0 998.6L1603.0 1001.6L1603.0 1004.6L1603.0 1007.6L1603.0 1010.6L1603.0 1013.6L1603.0 1016.6L1603.0 1019.6L1603.0 1022.6L1602.9 1025.6L1602.9 1028.6L1602.9 1031.6L1602.9 1034.6L1602.9 1037.5L1603.0 1040.5L1603.0 1043.5L1603.1 1046.5L1603.1 1049.5L1603.1 1052.5L1603.1 1055.5L1603.1 1058.5L1603.2 1061.5L1603.1 1064.5L1603.1 1067.5L1603.0 1070.5L1602.8 1073.5L1602.7 1074.9L1602.6 1076.5L1602.4 1079.5L1602.5 1082.5L1602.7 1085.3L1602.7 1085.5L1603.2 1088.5L1603.9 1091.5L1604.8 1094.5L1605.7 1097.2L1605.8 1097.5L1607.0 1100.4L1608.6 1103.4L1608.7 1103.6L1610.7 1106.4L1611.7 1107.6L1613.5 1109.4L1614.7 1110.5L1617.2 1112.4L1617.7 1112.8L1620.7 1114.6L1622.3 1115.4L1623.7 1116.1L1626.7 1117.4L1629.6 1118.4L1629.7 1118.5L1632.7 1119.3L1635.7 1120.1L1638.7 1120.7L1641.7 1121.2L1643.5 1121.4L1644.7 1121.6L1647.7 1121.8L1650.7 1121.9L1653.7 1121.9L1656.7 1121.9L1659.8 1121.7L1662.8 1121.5L1664.3 1121.4L1665.8 1121.3L1668.8 1120.9L1671.8 1120.5L1674.8 1120.0L1677.8 1119.5L1680.8 1118.9L1683.2 1118.4L1683.8 1118.3L1686.8 1117.6L1689.8 1116.9L1692.8 1116.2L1695.7 1115.4L1695.8 1115.4L1698.8 1114.6L1701.8 1113.7L1704.8 1112.8L1706.1 1112.4L1707.8 1111.9L1710.8 1111.0L1713.8 1110.1L1715.9 1109.4L1716.8 1109.1L1719.8 1108.2L1722.8 1107.2L1724.9 1106.4L1725.8 1106.1L1728.8 1105.1L1731.8 1104.1L1733.9 1103.4L1734.8 1103.1L1737.8 1102.2L1740.8 1101.2L1743.0 1100.4L1743.9 1100.1L1746.9 1099.1L1749.9 1098.1L1751.6 1097.5L1752.9 1097.0L1755.9 1096.0L1758.9 1095.1L1760.7 1094.5L1761.9 1094.1L1764.9 1093.1L1767.9 1092.0L1769.4 1091.5L1770.9 1090.9L1773.9 1089.8L1776.9 1088.8L1777.8 1088.5L1779.9 1087.7L1782.9 1086.7L1785.9 1085.7L1786.5 1085.5L1788.9 1084.5L1791.9 1083.4L1794.2 1082.5L1794.9 1082.2L1797.9 1081.0L1800.9 1079.9L1802.2 1079.5L1803.9 1078.8L1806.9 1077.8L1809.9 1076.8L1810.8 1076.5L1812.9 1075.7L1815.9 1074.4L1818.1 1073.5L1818.9 1073.0L1821.9 1071.3L1823.3 1070.5L1825.0 1069.3L1827.5 1067.5L1828.0 1067.1L1831.0 1064.6L1831.1 1064.5L1834.0 1061.8L1834.3 1061.5L1837.0 1058.9L1837.4 1058.5L1840.0 1055.9L1840.4 1055.5L1843.0 1053.0L1843.5 1052.5L1846.0 1050.0L1846.4 1049.5L1849.0 1046.8L1849.3 1046.5L1852.0 1043.7L1852.1 1043.5L1855.0 1040.6L1855.0 1040.5L1858.0 1037.7L1858.2 1037.5L1861.0 1035.1L1861.8 1034.6L1864.0 1033.0L1864.0 1034.6L1864.0 1037.5L1864.0 1040.5L1864.0 1043.5L1864.0 1046.5L1864.0 1049.5L1864.0 1052.5L1864.0 1055.5L1864.0 1058.5L1864.0 1061.5L1864.0 1064.5L1864.0 1067.5L1864.0 1070.5L1864.0 1073.5L1864.0 1076.5L1864.0 1079.5L1864.0 1080.9L1861.0 1081.3L1858.0 1081.9L1855.1 1082.5L1855.0 1082.5L1852.0 1083.1L1849.0 1083.7L1846.0 1084.5L1843.0 1085.3L1842.3 1085.5L1840.0 1086.1L1837.0 1087.0L1834.0 1088.0L1832.4 1088.5L1831.0 1088.9L1828.0 1089.9L1825.0 1090.8L1822.9 1091.5L1821.9 1091.7L1818.9 1092.6L1815.9 1093.5L1812.9 1094.4L1812.6 1094.5L1809.9 1095.2L1806.9 1096.1L1803.9 1096.9L1802.2 1097.5L1800.9 1097.8L1797.9 1098.8L1794.9 1099.7L1792.4 1100.4L1791.9 1100.6L1788.9 1101.6L1785.9 1102.6L1783.2 1103.4L1782.9 1103.6L1779.9 1104.6L1776.9 1105.6L1774.6 1106.4L1773.9 1106.7L1770.9 1107.8L1767.9 1108.8L1766.2 1109.4L1764.9 1109.9L1761.9 1111.0L1758.9 1112.0L1757.7 1112.4L1755.9 1113.1L1752.9 1114.1L1749.9 1115.2L1749.2 1115.4L1746.9 1116.3L1743.9 1117.3L1740.8 1118.4L1740.8 1118.4L1737.8 1119.5L1734.8 1120.5L1732.4 1121.4L1731.8 1121.6L1728.8 1122.7L1725.8 1123.8L1724.1 1124.4L1722.8 1124.9L1719.8 1126.0L1716.8 1127.0L1715.8 1127.4L1713.8 1128.1L1710.8 1129.1L1707.8 1130.2L1707.1 1130.4L1704.8 1131.2L1701.8 1132.2L1698.8 1133.1L1697.9 1133.4L1695.8 1134.1L1692.8 1135.0L1689.8 1135.8L1687.6 1136.4L1686.8 1136.6L1683.8 1137.4L1680.8 1138.1L1677.8 1138.8L1675.0 1139.4L1674.8 1139.4L1671.8 1140.0L1668.8 1140.6L1665.8 1141.1L1662.8 1141.5L1659.8 1141.9L1656.7 1142.3L1656.2 1142.4L1653.7 1142.7L1650.7 1142.9L1647.7 1143.1L1644.7 1143.3L1641.7 1143.4L1638.7 1143.4L1635.7 1143.4L1632.7 1143.3L1629.7 1143.1L1626.7 1142.9L1623.7 1142.6L1622.2 1142.4L1620.7 1142.2L1617.7 1141.8L1614.7 1141.3L1611.7 1140.7L1608.7 1140.0L1606.0 1139.4L1605.7 1139.3L1602.7 1138.5L1599.7 1137.8L1596.7 1137.1L1593.7 1136.8L1590.7 1136.8L1587.7 1137.1L1584.7 1137.9L1581.7 1139.0L1581.0 1139.4L1578.7 1140.5L1575.6 1142.3L1575.5 1142.4L1572.6 1144.1L1570.7 1145.4L1569.6 1146.0L1566.6 1147.9L1565.9 1148.4L1563.6 1149.7L1561.1 1151.4L1560.6 1151.6L1557.6 1153.5L1556.3 1154.4L1554.6 1155.4L1551.8 1157.4L1551.6 1157.4L1548.6 1159.4L1547.4 1160.3L1545.6 1161.5L1543.2 1163.3L1542.6 1163.7L1539.6 1166.0L1539.2 1166.3L1536.6 1168.4L1535.6 1169.3L1533.6 1171.0L1532.1 1172.3L1530.6 1173.7L1528.9 1175.3L1527.6 1176.5L1525.7 1178.3L1524.6 1179.4L1522.7 1181.3L1521.6 1182.4L1519.6 1184.3L1518.6 1185.2L1516.4 1187.3L1515.6 1188.0L1513.0 1190.3L1512.6 1190.7L1509.6 1193.2L1509.5 1193.3L1506.6 1195.5L1505.5 1196.3L1503.6 1197.6L1500.9 1199.3L1500.6 1199.5L1497.6 1201.0L1495.0 1202.3L1494.5 1202.4L1491.5 1203.5L1488.5 1204.3L1485.5 1204.8L1482.5 1205.2L1481.3 1205.3L1479.5 1205.4L1476.5 1205.4L1473.5 1205.3L1472.6 1205.3L1470.5 1205.1L1467.5 1204.8L1464.5 1204.4L1461.5 1203.9L1458.5 1203.3L1455.5 1202.6L1453.8 1202.3L1452.5 1202.0L1449.5 1201.3L1446.5 1200.7L1443.5 1200.0L1440.5 1199.4L1440.1 1199.3L1437.5 1198.7L1434.5 1198.0L1431.5 1197.3L1428.5 1196.6L1427.1 1196.3L1425.5 1195.9L1422.5 1195.3L1419.5 1194.7L1416.5 1194.1L1413.5 1193.5L1412.2 1193.3L1410.4 1193.0L1407.4 1192.4L1404.4 1191.8L1401.4 1191.3L1398.4 1190.7L1396.7 1190.3L1395.4 1190.0L1392.4 1189.4L1389.4 1188.6L1386.4 1187.9L1384.4 1187.3L1383.4 1187.1L1380.4 1186.3L1377.4 1185.5L1374.4 1184.7L1373.0 1184.3L1371.4 1183.9L1368.4 1183.1L1365.4 1182.3L1362.4 1181.5L1361.7 1181.3L1359.4 1180.7L1356.4 1180.0L1353.4 1179.2L1350.4 1178.5L1349.7 1178.3L1347.4 1177.7L1344.4 1176.9L1341.4 1176.1L1338.8 1175.3L1338.4 1175.2L1335.4 1174.3L1332.4 1173.5L1329.3 1172.7L1327.9 1172.3L1326.3 1172.0L1323.3 1171.4L1320.3 1171.0L1317.3 1170.7L1314.3 1170.6L1311.3 1170.5L1308.3 1170.5L1305.3 1170.5L1302.3 1170.4L1299.3 1170.3L1296.3 1170.2L1293.3 1170.0L1290.3 1169.8L1287.3 1169.6L1284.6 1169.3L1284.3 1169.3L1281.3 1169.0L1278.3 1168.6L1275.3 1168.2L1272.3 1167.8L1269.3 1167.4L1266.3 1167.0L1263.3 1166.7L1260.3 1166.5L1257.3 1166.3L1256.4 1166.3L1254.3 1166.3L1252.4 1166.3L1251.3 1166.4L1248.2 1166.5L1245.2 1166.7L1242.2 1166.9L1239.2 1167.1L1236.2 1167.3L1233.2 1167.4L1230.2 1167.6L1227.2 1167.7L1224.2 1167.8L1221.2 1167.9L1218.2 1168.0L1215.2 1168.1L1212.2 1168.2L1209.2 1168.3L1206.2 1168.4L1203.2 1168.5L1200.2 1168.8L1197.2 1169.0L1194.8 1169.3L1194.2 1169.4L1191.2 1169.9L1188.2 1170.4L1185.2 1171.0L1182.2 1171.6L1179.2 1172.2L1178.4 1172.3L1176.2 1172.8L1173.2 1173.3L1170.2 1173.8L1167.2 1174.2L1164.1 1174.6L1161.1 1175.0L1159.0 1175.3L1158.1 1175.5L1155.1 1175.9L1152.1 1176.4L1149.1 1176.8L1146.1 1177.2L1143.1 1177.7L1140.1 1178.3L1140.0 1178.3L1137.1 1179.0L1134.1 1179.7L1131.1 1180.5L1128.1 1181.3L1127.9 1181.3L1125.1 1182.2L1122.1 1183.2L1119.1 1184.2L1118.6 1184.3L1116.1 1185.2L1113.1 1186.2L1110.1 1187.1L1109.6 1187.3L1107.1 1188.1L1104.1 1188.9L1101.1 1189.8L1099.3 1190.3L1098.1 1190.7L1095.1 1191.6L1092.1 1192.6L1089.9 1193.3L1089.1 1193.6L1086.1 1194.7L1083.0 1195.8L1081.7 1196.3L1080.0 1196.9L1077.0 1198.2L1074.3 1199.3L1074.0 1199.4L1071.0 1200.6L1068.0 1201.8L1066.4 1202.3L1065.0 1202.8L1062.0 1203.7L1059.0 1204.5L1056.2 1205.3L1056.0 1205.3L1053.0 1206.1L1050.0 1206.8L1047.0 1207.4L1044.0 1207.8L1044.0 1205.3L1044.0 1202.6L1047.0 1202.3L1047.1 1202.3L1050.0 1201.9L1053.0 1201.4L1056.0 1200.8L1059.0 1200.1L1062.0 1199.4L1062.3 1199.3L1065.0 1198.5L1068.0 1197.5L1071.0 1196.3L1071.1 1196.3L1074.0 1195.1L1077.0 1193.9L1078.6 1193.3L1080.0 1192.8L1083.0 1191.6L1086.1 1190.6L1086.9 1190.3L1089.1 1189.6L1092.1 1188.6L1095.1 1187.7L1096.4 1187.3L1098.1 1186.8L1101.1 1186.0L1104.1 1185.1L1106.8 1184.3L1107.1 1184.2L1110.1 1183.3L1113.1 1182.3L1115.7 1181.3L1116.1 1181.2L1119.1 1180.1L1122.1 1179.1L1124.5 1178.3L1125.1 1178.1L1128.1 1177.2L1131.1 1176.4L1134.1 1175.6L1135.5 1175.3L1137.1 1175.0L1140.1 1174.4L1143.1 1173.9L1146.1 1173.5L1149.1 1173.2L1152.1 1172.8L1155.1 1172.5L1156.6 1172.3L1158.1 1172.2L1161.1 1171.8L1164.1 1171.5L1167.2 1171.1L1170.2 1170.6L1173.2 1170.1L1176.2 1169.5L1176.9 1169.3L1179.2 1168.8L1182.2 1168.2L1185.2 1167.5L1188.2 1166.8L1190.8 1166.3L1191.2 1166.3L1194.2 1165.8L1197.2 1165.4L1200.2 1165.1L1203.2 1164.9L1206.2 1164.8L1209.2 1164.8L1212.2 1164.8L1215.2 1164.8L1218.2 1164.8L1221.2 1164.8L1224.2 1164.7L1227.2 1164.6L1230.2 1164.5L1233.2 1164.3L1236.2 1164.1L1239.2 1163.9L1242.2 1163.6L1245.1 1163.3L1245.2 1163.3L1248.2 1163.1L1251.3 1162.9L1254.3 1162.8L1257.3 1162.8L1260.3 1163.0L1263.3 1163.2L1264.9 1163.3L1266.3 1163.5L1269.3 1163.9L1272.3 1164.4L1275.3 1164.8L1278.3 1165.3L1281.3 1165.8L1284.3 1166.1L1286.9 1166.3L1287.3 1166.4L1290.3 1166.6L1293.3 1166.7L1296.3 1166.7L1299.3 1166.7L1302.3 1166.5L1304.7 1166.3L1305.3 1166.3L1308.3 1166.0L1311.3 1165.7L1314.3 1165.3L1317.3 1165.1L1320.3 1165.1L1323.3 1165.2L1326.3 1165.6L1329.3 1166.2L1329.8 1166.3L1332.4 1167.0L1335.4 1167.8L1338.4 1168.7L1340.5 1169.3L1341.4 1169.6L1344.4 1170.5L1347.4 1171.3L1350.4 1172.1L1351.5 1172.3L1353.4 1172.8L1356.4 1173.5L1359.4 1174.2L1362.4 1175.0L1363.8 1175.3L1365.4 1175.7L1368.4 1176.5L1371.4 1177.2L1374.4 1178.0L1375.9 1178.3L1377.4 1178.7L1380.4 1179.4L1383.4 1180.1L1386.4 1180.7L1389.1 1181.3L1389.4 1181.4L1392.4 1182.0L1395.4 1182.6L1398.4 1183.2L1401.4 1183.7L1404.4 1184.2L1404.9 1184.3L1407.4 1184.7L1410.4 1185.2L1413.5 1185.7L1416.5 1186.1L1419.5 1186.6L1422.5 1187.1L1423.9 1187.3L1425.5 1187.6L1428.5 1188.1L1431.5 1188.6L1434.5 1189.2L1437.5 1189.7L1440.5 1190.3L1440.5 1190.3L1443.5 1190.8L1446.5 1191.3L1449.5 1191.7L1452.5 1192.0L1455.5 1192.3L1458.5 1192.5L1461.5 1192.6L1464.5 1192.6L1467.5 1192.4L1470.5 1192.1L1473.5 1191.6L1476.5 1190.8L1478.0 1190.3L1479.5 1189.7L1482.5 1188.3L1484.4 1187.3L1485.5 1186.6L1488.5 1184.6L1488.9 1184.3L1491.5 1182.1L1492.5 1181.3L1494.5 1179.4L1495.6 1178.3L1497.6 1176.3L1498.5 1175.3L1500.6 1173.1L1501.3 1172.3L1503.6 1169.9L1504.1 1169.3L1506.6 1166.5L1506.7 1166.3L1509.2 1163.3L1509.6 1162.9L1511.6 1160.3L1512.6 1159.0L1513.9 1157.4L1515.6 1155.1L1516.1 1154.4L1518.3 1151.4L1518.6 1150.9L1520.4 1148.4L1521.6 1146.4L1522.3 1145.4L1524.1 1142.4L1524.6 1141.4L1525.7 1139.4L1527.2 1136.4L1527.6 1135.6L1528.6 1133.4L1529.8 1130.4L1530.6 1127.8L1530.7 1127.4L1531.5 1124.4L1532.0 1121.4L1532.2 1118.4L1532.1 1115.4L1531.7 1112.4L1530.8 1109.4L1530.6 1108.9L1529.4 1106.4L1527.6 1104.1L1527.1 1103.4L1524.6 1101.2L1523.7 1100.4L1521.6 1099.1L1519.0 1097.5L1518.6 1097.3L1515.6 1095.7L1513.2 1094.5L1512.6 1094.2L1509.6 1092.9L1506.6 1091.6L1506.3 1091.5L1503.6 1090.4L1500.6 1089.3L1498.1 1088.5L1497.6 1088.3L1494.5 1087.3L1491.5 1086.4L1488.7 1085.5L1488.5 1085.4L1485.5 1084.5L1482.5 1083.7L1479.5 1082.8L1478.6 1082.5L1476.5 1081.9L1473.5 1081.1L1470.5 1080.3L1467.5 1079.5L1467.4 1079.5L1464.5 1078.9L1461.5 1078.3L1458.5 1077.7L1455.5 1077.0L1453.8 1076.5L1452.5 1076.2L1449.5 1075.3L1446.5 1074.3L1444.1 1073.5L1443.5 1073.3L1440.5 1072.2L1437.5 1070.9L1436.7 1070.5L1434.5 1069.4L1431.5 1067.6L1431.3 1067.5L1428.5 1065.5L1427.2 1064.5L1425.5 1063.1L1423.5 1061.5L1422.5 1060.7L1419.7 1058.5L1419.5 1058.3L1416.5 1056.2L1415.6 1055.5L1413.5 1054.1L1411.0 1052.5L1410.4 1052.2L1407.4 1050.4L1405.9 1049.5L1404.4 1048.8L1401.4 1047.4L1399.6 1046.5L1398.4 1046.0L1395.4 1044.8L1392.4 1043.7L1392.0 1043.5L1389.4 1042.6L1386.4 1041.7L1383.4 1040.7L1382.8 1040.5L1380.4 1039.9L1377.4 1039.1L1374.4 1038.4L1371.4 1037.8L1370.1 1037.5L1368.4 1037.2L1365.4 1036.7L1362.4 1036.3L1359.4 1035.9L1356.4 1035.5L1353.4 1035.1L1350.4 1034.8L1348.1 1034.6L1347.4 1034.5L1344.4 1034.1L1341.4 1033.8L1338.4 1033.5L1335.4 1033.2L1332.4 1032.9L1329.3 1032.6L1326.3 1032.4L1323.3 1032.2L1320.3 1032.0L1317.3 1031.9L1314.3 1031.8L1311.3 1031.8L1308.3 1031.8L1305.3 1031.8L1302.3 1031.9L1299.3 1032.0L1296.3 1032.2L1293.3 1032.3L1290.3 1032.5L1287.3 1032.8L1284.3 1033.0L1281.3 1033.2L1278.3 1033.5L1275.3 1033.7L1272.3 1033.9L1269.3 1034.1L1266.3 1034.3L1263.3 1034.5L1261.7 1034.6L1260.3 1034.6L1257.3 1034.7L1254.3 1034.8L1251.3 1034.9L1248.2 1035.0L1245.2 1035.0L1242.2 1035.0L1239.2 1035.0L1236.2 1034.9L1233.2 1034.7L1230.2 1034.6L1230.2 1034.6L1227.2 1034.3L1224.2 1034.0L1221.2 1033.7L1218.2 1033.3L1215.2 1033.0L1212.2 1032.5L1209.2 1032.1L1206.2 1031.6L1205.7 1031.6L1203.2 1031.1L1200.2 1030.6L1197.2 1030.0L1194.2 1029.4L1191.2 1028.8L1190.2 1028.6L1188.2 1028.1L1185.2 1027.3L1182.2 1026.5L1179.2 1025.7L1178.8 1025.6L1176.2 1024.8L1173.2 1023.9L1170.2 1023.1L1168.3 1022.6L1167.2 1022.3L1164.1 1021.5L1161.1 1020.8L1158.1 1020.1L1155.4 1019.6L1155.1 1019.5L1152.1 1019.0L1149.1 1018.6L1146.1 1018.4L1143.1 1018.2L1140.1 1018.1L1137.1 1018.2L1134.1 1018.3L1131.1 1018.6L1128.1 1018.9L1125.1 1019.4L1124.2 1019.6L1122.1 1020.0L1119.1 1020.6L1116.1 1021.4L1113.1 1022.2L1111.8 1022.6L1110.1 1023.1L1107.1 1024.1L1104.1 1025.1L1102.8 1025.6L1101.1 1026.2L1098.1 1027.3L1095.1 1028.4L1094.8 1028.6L1092.1 1029.6L1089.1 1031.0L1087.8 1031.6L1086.1 1032.4L1083.0 1034.0L1082.1 1034.6L1080.0 1035.8L1077.4 1037.5L1077.0 1037.8L1074.0 1040.0L1073.4 1040.5L1071.0 1042.5L1069.9 1043.5L1068.0 1045.2L1066.7 1046.5L1065.0 1048.2L1063.7 1049.5L1062.0 1051.3L1060.8 1052.5L1059.0 1054.4L1057.9 1055.5L1056.0 1057.3L1054.7 1058.5L1053.0 1060.1L1051.3 1061.5L1050.0 1062.5L1047.2 1064.5L1047.0 1064.6L1044.0 1066.2L1044.0 1064.5L1044.0 1061.5L1044.0 1058.5L1044.0 1055.6L1044.1 1055.5L1047.0 1053.8L1048.6 1052.5L1050.0 1051.4L1051.9 1049.5L1053.0 1048.5L1054.8 1046.5L1056.0 1045.2L1057.5 1043.5L1059.0 1041.9L1060.3 1040.5L1062.0 1038.8L1063.3 1037.5L1065.0 1036.0L1066.7 1034.6L1068.0 1033.4L1070.5 1031.6L1071.0 1031.1L1074.0 1029.1L1074.9 1028.6L1077.0 1027.2L1080.0 1025.6L1080.0 1025.6L1083.0 1024.0L1086.1 1022.6L1086.1 1022.6L1089.1 1021.3L1092.1 1020.0L1093.1 1019.6L1095.1 1018.8L1098.1 1017.6L1100.8 1016.6L1101.1 1016.5L1104.1 1015.4L1107.1 1014.3L1109.3 1013.6L1110.1 1013.3L1113.1 1012.4L1116.1 1011.5L1119.1 1010.7L1119.7 1010.6L1122.1 1010.0L1125.1 1009.4L1128.1 1008.9L1131.1 1008.5L1134.1 1008.2L1137.1 1008.0L1140.1 1007.9L1143.1 1007.9L1146.1 1008.1L1149.1 1008.3L1152.1 1008.7L1155.1 1009.2L1158.1 1009.8L1161.1 1010.5L1161.5 1010.6L1164.1 1011.2L1167.2 1012.1L1170.2 1012.9L1172.2 1013.6L1173.2 1013.9L1176.2 1014.8L1179.2 1015.7L1181.8 1016.6L1182.2 1016.7L1185.2 1017.6L1188.2 1018.5L1191.2 1019.3L1192.2 1019.6L1194.2 1020.1L1197.2 1020.8L1200.2 1021.4L1203.2 1022.0L1205.9 1022.6L1206.2 1022.6L1209.2 1023.1L1212.2 1023.6L1215.2 1024.1L1218.2 1024.5L1221.2 1024.9L1224.2 1025.2L1227.2 1025.5L1227.8 1025.6L1230.2 1025.8L1233.2 1026.0L1236.2 1026.3L1239.2 1026.5L1242.2 1026.6L1245.2 1026.8L1248.2 1026.8L1251.3 1026.9L1254.3 1026.9L1257.3 1026.9L1260.3 1026.9L1263.3 1026.9L1266.3 1026.8L1269.3 1026.7L1272.3 1026.6L1275.3 1026.4L1278.3 1026.3L1281.3 1026.1L1284.3 1025.9L1287.3 1025.7L1290.3 1025.6L1290.3 1025.6L1293.3 1025.4L1296.3 1025.3L1299.3 1025.2L1302.3 1025.1L1305.3 1025.0L1308.3 1025.0L1311.3 1025.0L1314.3 1025.0L1317.3 1025.1L1320.3 1025.3L1323.3 1025.4L1325.1 1025.6L1326.3 1025.7L1329.3 1025.9L1332.4 1026.1L1335.4 1026.4L1338.4 1026.6L1341.4 1026.9L1344.4 1027.1L1347.4 1027.4L1350.4 1027.7L1353.4 1027.9L1356.4 1028.2L1359.3 1028.6L1359.4 1028.6L1362.4 1028.9L1365.4 1029.3L1368.4 1029.8L1371.4 1030.3L1374.4 1030.8L1377.4 1031.4L1378.1 1031.6L1380.4 1032.1L1383.4 1032.8L1386.4 1033.5L1389.4 1034.4L1389.9 1034.6L1392.4 1035.3L1395.4 1036.3L1398.4 1037.4L1398.9 1037.5L1401.4 1038.5L1404.4 1039.7L1406.4 1040.5L1407.4 1041.0L1410.4 1042.4L1412.7 1043.5L1413.5 1044.0L1416.5 1045.6L1417.9 1046.5L1419.5 1047.5L1422.5 1049.4L1422.7 1049.5L1425.5 1051.5L1426.9 1052.5L1428.5 1053.7L1430.7 1055.5L1431.5 1056.1L1434.4 1058.5L1434.5 1058.5L1437.5 1060.8L1438.5 1061.5L1440.5 1062.8L1443.5 1064.5L1443.6 1064.5L1446.5 1065.8L1449.5 1066.9L1451.3 1067.5L1452.5 1067.9L1455.5 1068.6L1458.5 1069.2L1461.5 1069.7L1464.5 1070.1L1467.5 1070.4L1468.1 1070.5L1470.5 1070.8L1473.5 1071.2L1476.5 1071.7L1479.5 1072.2L1482.5 1072.8L1485.5 1073.4L1485.8 1073.5L1488.5 1074.1L1491.5 1074.8L1494.5 1075.5L1497.6 1076.3L1498.3 1076.5L1500.6 1077.1L1503.6 1077.9L1506.6 1078.6L1509.6 1079.4L1510.1 1079.5L1512.6 1080.1L1515.6 1080.7L1518.6 1081.2L1521.6 1081.6L1524.6 1081.9L1527.6 1081.9L1530.6 1081.6L1533.6 1081.1L1536.6 1080.2L1538.6 1079.5L1539.6 1079.1L1542.6 1077.9L1545.6 1076.7L1546.2 1076.5L1548.6 1075.7L1551.6 1074.9L1554.6 1074.4L1557.6 1074.0L1560.6 1073.8L1563.4 1073.5L1563.6 1073.5L1566.6 1073.1L1569.6 1072.4L1572.6 1071.1L1573.6 1070.5L1575.6 1068.6L1576.5 1067.5L1577.9 1064.5L1578.7 1061.5L1578.7 1061.5L1579.0 1058.5L1579.3 1055.5L1579.7 1052.5L1580.3 1049.5L1580.9 1046.5L1581.3 1043.5L1581.5 1040.5L1581.3 1037.5L1580.9 1034.6L1580.4 1031.6L1580.0 1028.6L1579.8 1025.6L1580.0 1022.6L1580.4 1019.6L1580.9 1016.6L1581.5 1013.6L1581.7 1012.5L1582.0 1010.6L1582.4 1007.6L1582.7 1004.6L1582.9 1001.6L1583.0 998.6L1582.9 995.6L1582.6 992.6L1582.2 989.6L1581.7 986.6L1581.7 986.5L1581.3 983.6L1580.9 980.6L1580.8 977.6L1580.6 974.7L1580.4 971.7L1580.1 968.7L1579.8 965.7L1579.4 962.7L1579.0 959.7L1578.7 956.9L1578.6 956.7L1578.3 953.7L1577.9 950.7L1577.4 947.7L1576.7 944.7L1576.0 941.7L1575.6 940.3L1575.3 938.7L1574.7 935.7L1574.1 932.7L1573.4 929.7L1572.6 927.1L1572.5 926.7L1571.5 923.7L1570.2 920.7L1569.6 919.4L1568.9 917.7L1567.5 914.8L1566.6 913.0L1566.0 911.8L1564.2 908.8L1563.6 907.9L1562.1 905.8L1560.6 903.9L1559.7 902.8L1557.6 900.4L1557.1 899.8L1554.6 897.1L1554.3 896.8L1551.6 894.3L1551.0 893.8L1548.6 892.0L1546.5 890.8L1545.6 890.3L1542.6 888.8L1540.0 887.8L1539.6 887.6L1536.6 886.7L1533.6 885.9L1530.6 885.2L1528.2 884.8L1527.6 884.7L1524.6 884.2L1521.6 883.8L1518.6 883.4L1515.6 883.1L1512.6 882.8L1509.6 882.4L1506.6 882.1L1504.1 881.8L1503.6 881.7L1500.6 881.4L1497.6 880.9L1494.5 880.4L1491.5 879.9L1488.5 879.2L1486.7 878.8L1485.5 878.5L1482.5 877.6L1479.5 876.7L1477.2 875.8L1476.5 875.6L1473.5 874.3L1470.5 873.0L1470.2 872.8L1467.5 871.4L1464.6 869.8L1464.5 869.8L1461.5 867.8L1460.0 866.8L1458.5 865.7L1456.0 863.8L1455.5 863.4L1452.5 860.8L1452.5 860.8L1449.5 858.0L1449.4 857.8L1446.5 854.9L1446.4 854.8L1443.7 851.9L1443.5 851.6L1441.1 848.9L1440.5 848.1L1438.7 845.9L1437.5 844.3L1436.4 842.9L1434.5 840.2L1434.2 839.9L1432.2 836.9L1431.5 835.8L1430.3 833.9L1428.5 830.9L1428.5 830.9L1426.7 827.9L1425.5 825.6L1425.1 824.9L1423.5 821.9L1422.5 819.9L1421.9 818.9L1420.4 815.9L1419.5 814.0L1418.9 812.9L1417.4 809.9L1416.5 808.2L1415.8 806.9L1414.2 803.9L1413.5 802.6L1412.6 800.9L1410.9 797.9L1410.4 797.1L1409.3 794.9L1407.7 792.0L1407.4 791.5L1406.1 789.0L1404.6 786.0L1404.4 785.6L1403.3 783.0L1402.0 780.0L1401.4 778.5L1400.9 777.0L1399.8 774.0L1398.9 771.0L1398.4 769.6L1398.0 768.0L1397.2 765.0L1396.6 762.0Z" fill="#c7c8e3" stroke="#c7c8e3" stroke-width="0.6" fill-rule="evenodd"/>
<path d="M1359.4 762.0L1362.4 762.0L1365.4 762.0L1368.4 762.0L1371.4 762.0L1374.4 762.0L1377.4 762.0L1380.4 762.0L1383.4 762.0L1386.4 762.0L1389.4 762.0L1392.4 762.0L1395.4 762.0L1396.6 762.0L1397.2 765.0L1398.0 768.0L1398.4 769.6L1398.9 771.0L1399.8 774.0L1400.9 777.0L1401.4 778.5L1402.0 780.0L1403.3 783.0L1404.4 785.6L1404.6 786.0L1406.1 789.0L1407.4 791.5L1407.7 792.0L1409.3 794.9L1410.4 797.1L1410.9 797.9L1412.6 800.9L1413.5 802.6L1414.2 803.9L1415.8 806.9L1416.5 808.2L1417.4 809.9L1418.9 812.9L1419.5 814.0L1420.4 815.9L1421.9 818.9L1422.5 819.9L1423.5 821.9L1425.1 824.9L1425.5 825.6L1426.7 827.9L1428.5 830.9L1428.5 830.9L1430.3 833.9L1431.5 835.8L1432.2 836.9L1434.2 839.9L1434.5 840.2L1436.4 842.9L1437.5 844.3L1438.7 845.9L1440.5 848.1L1441.1 848.9L1443.5 851.6L1443.7 851.9L1446.4 854.8L1446.5 854.9L1449.4 857.8L1449.5 858.0L1452.5 860.8L1452.5 860.8L1455.5 863.4L1456.0 863.8L1458.5 865.7L1460.0 866.8L1461.5 867.8L1464.5 869.8L1464.6 869.8L1467.5 871.4L1470.2 872.8L1470.5 873.0L1473.5 874.3L1476.5 875.6L1477.2 875.8L1479.5 876.7L1482.5 877.6L1485.5 878.5L1486.7 878.8L1488.5 879.2L1491.5 879.9L1494.5 880.4L1497.6 880.9L1500.6 881.4L1503.6 881.7L1504.1 881.8L1506.6 882.1L1509.6 882.4L1512.6 882.8L1515.6 883.1L1518.6 883.4L1521.6 883.8L1524.6 884.2L1527.6 884.7L1528.2 884.8L1530.6 885.2L1533.6 885.9L1536.6 886.7L1539.6 887.6L1540.0 887.8L1542.6 888.8L1545.6 890.3L1546.5 890.8L1548.6 892.0L1551.0 893.8L1551.6 894.3L1554.3 896.8L1554.6 897.1L1557.1 899.8L1557.6 900.4L1559.7 902.8L1560.6 903.9L1562.1 905.8L1563.6 907.9L1564.2 908.8L1566.0 911.8L1566.6 913.0L1567.5 914.8L1568.9 917.7L1569.6 919.4L1570.2 920.7L1571.5 923.7L1572.5 926.7L1572.6 927.1L1573.4 929.7L1574.1 932.7L1574.7 935.7L1575.3 938.7L1575.6 940.3L1576.0 941.7L1576.7 944.7L1577.4 947.7L1577.9 950.7L1578.3 953.7L1578.6 956.7L1578.7 956.9L1579.0 959.7L1579.4 962.7L1579.8 965.7L1580.1 968.7L1580.4 971.7L1580.6 974.7L1580.8 977.6L1580.9 980.6L1581.3 983.6L1581.7 986.5L1581.7 986.6L1582.2 989.6L1582.6 992.6L1582.9 995.6L1583.0 998.6L1582.9 1001.6L1582.7 1004.6L1582.4 1007.6L1582.0 1010.6L1581.7 1012.5L1581.5 1013.6L1580.9 1016.6L1580.4 1019.6L1580.0 1022.6L1579.8 1025.6L1580.0 1028.6L1580.4 1031.6L1580.9 1034.6L1581.3 1037.5L1581.5 1040.5L1581.3 1043.5L1580.9 1046.5L1580.3 1049.5L1579.7 1052.5L1579.3 1055.5L1579.0 1058.5L1578.7 1061.5L1578.7 1061.5L1577.9 1064.5L1576.5 1067.5L1575.6 1068.6L1573.6 1070.5L1572.6 1071.1L1569.6 1072.4L1566.6 1073.1L1563.6 1073.5L1563.4 1073.5L1560.6 1073.8L1557.6 1074.0L1554.6 1074.4L1551.6 1074.9L1548.6 1075.7L1546.2 1076.5L1545.6 1076.7L1542.6 1077.9L1539.6 1079.1L1538.6 1079.5L1536.6 1080.2L1533.6 1081.1L1530.6 1081.6L1527.6 1081.9L1524.6 1081.9L1521.6 1081.6L1518.6 1081.2L1515.6 1080.7L1512.6 1080.1L1510.1 1079.5L1509.6 1079.4L1506.6 1078.6L1503.6 1077.9L1500.6 1077.1L1498.3 1076.5L1497.6 1076.3L1494.5 1075.5L1491.5 1074.8L1488.5 1074.1L1485.8 1073.5L1485.5 1073.4L1482.5 1072.8L1479.5 1072.2L1476.5 1071.7L1473.5 1071.2L1470.5 1070.8L1468.1 1070.5L1467.5 1070.4L1464.5 1070.1L1461.5 1069.7L1458.5 1069.2L1455.5 1068.6L1452.5 1067.9L1451.3 1067.5L1449.5 1066.9L1446.5 1065.8L1443.6 1064.5L1443.5 1064.5L1440.5 1062.8L1438.5 1061.5L1437.5 1060.8L1434.5 1058.5L1434.4 1058.5L1431.5 1056.1L1430.7 1055.5L1428.5 1053.7L1426.9 1052.5L1425.5 1051.5L1422.7 1049.5L1422.5 1049.4L1419.5 1047.5L1417.9 1046.5L1416.5 1045.6L1413.5 1044.0L1412.7 1043.5L1410.4 1042.4L1407.4 1041.0L1406.4 1040.5L1404.4 1039.7L1401.4 1038.5L1398.9 1037.5L1398.4 1037.4L1395.4 1036.3L1392.4 1035.3L1389.9 1034.6L1389.4 1034.4L1386.4 1033.5L1383.4 1032.8L1380.4 1032.1L1378.1 1031.6L1377.4 1031.4L1374.4 1030.8L1371.4 1030.3L1368.4 1029.8L1365.4 1029.3L1362.4 1028.9L1359.4 1028.6L1359.3 1028.6L1356.4 1028.2L1353.4 1027.9L1350.4 1027.7L1347.4 1027.4L1344.4 1027.1L1341.4 1026.9L1338.4 1026.6L1335.4 1026.4L1332.4 1026.1L1329.3 1025.9L1326.3 1025.7L1325.1 1025.6L1323.3 1025.4L1320.3 1025.3L1317.3 1025.1L1314.3 1025.0L1311.3 1025.0L1308.3 1025.0L1305.3 1025.0L1302.3 1025.1L1299.3 1025.2L1296.3 1025.3L1293.3 1025.4L1290.3 1025.6L1290.3 1025.6L1287.3 1025.7L1284.3 1025.9L1281.3 1026.1L1278.3 1026.3L1275.3 1026.4L1272.3 1026.6L1269.3 1026.7L1266.3 1026.8L1263.3 1026.9L1260.3 1026.9L1257.3 1026.9L1254.3 1026.9L1251.3 1026.9L1248.2 1026.8L1245.2 1026.8L1242.2 1026.6L1239.2 1026.5L1236.2 1026.3L1233.2 1026.0L1230.2 1025.8L1227.8 1025.6L1227.2 1025.5L1224.2 1025.2L1221.2 1024.9L1218.2 1024.5L1215.2 1024.1L1212.2 1023.6L1209.2 1023.1L1206.2 1022.6L1205.9 1022.6L1203.2 1022.0L1200.2 1021.4L1197.2 1020.8L1194.2 1020.1L1192.2 1019.6L1191.2 1019.3L1188.2 1018.5L1185.2 1017.6L1182.2 1016.7L1181.8 1016.6L1179.2 1015.7L1176.2 1014.8L1173.2 1013.9L1172.2 1013.6L1170.2 1012.9L1167.2 1012.1L1164.1 1011.2L1161.5 1010.6L1161.1 1010.5L1158.1 1009.8L1155.1 1009.2L1152.1 1008.7L1149.1 1008.3L1146.1 1008.1L1143.1 1007.9L1140.1 1007.9L1137.1 1008.0L1134.1 1008.2L1131.1 1008.5L1128.1 1008.9L1125.1 1009.4L1122.1 1010.0L1119.7 1010.6L1119.1 1010.7L1116.1 1011.5L1113.1 1012.4L1110.1 1013.3L1109.3 1013.6L1107.1 1014.3L1104.1 1015.4L1101.1 1016.5L1100.8 1016.6L1098.1 1017.6L1095.1 1018.8L1093.1 1019.6L1092.1 1020.0L1089.1 1021.3L1086.1 1022.6L1086.1 1022.6L1083.0 1024.0L1080.0 1025.6L1080.0 1025.6L1077.0 1027.2L1074.9 1028.6L1074.0 1029.1L1071.0 1031.1L1070.5 1031.6L1068.0 1033.4L1066.7 1034.6L1065.0 1036.0L1063.3 1037.5L1062.0 1038.8L1060.3 1040.5L1059.0 1041.9L1057.5 1043.5L1056.0 1045.2L1054.8 1046.5L1053.0 1048.5L1051.9 1049.5L1050.0 1051.4L1048.6 1052.5L1047.0 1053.8L1044.1 1055.5L1044.0 1055.6L1044.0 1055.5L1044.0 1052.5L1044.0 1049.5L1044.0 1046.5L1044.0 1043.5L1044.0 1040.9L1044.5 1040.5L1047.0 1038.7L1048.3 1037.5L1050.0 1036.1L1051.5 1034.6L1053.0 1033.2L1054.6 1031.6L1056.0 1030.3L1057.9 1028.6L1059.0 1027.5L1061.3 1025.6L1062.0 1025.0L1065.0 1022.7L1065.2 1022.6L1068.0 1020.7L1069.8 1019.6L1071.0 1018.8L1074.0 1017.1L1075.1 1016.6L1077.0 1015.6L1080.0 1014.1L1081.3 1013.6L1083.0 1012.8L1086.1 1011.5L1088.1 1010.6L1089.1 1010.2L1092.1 1009.0L1095.1 1007.7L1095.4 1007.6L1098.1 1006.5L1101.1 1005.4L1103.2 1004.6L1104.1 1004.3L1107.1 1003.2L1110.1 1002.1L1111.7 1001.6L1113.1 1001.1L1116.1 1000.2L1119.1 999.3L1121.9 998.6L1122.1 998.6L1125.1 997.9L1128.1 997.3L1131.1 996.8L1134.1 996.4L1137.1 996.2L1140.1 996.0L1143.1 996.0L1146.1 996.2L1149.1 996.4L1152.1 996.8L1155.1 997.3L1158.1 997.9L1161.1 998.6L1161.1 998.6L1164.1 999.4L1167.2 1000.3L1170.2 1001.2L1171.3 1001.6L1173.2 1002.2L1176.2 1003.2L1179.2 1004.3L1180.1 1004.6L1182.2 1005.3L1185.2 1006.3L1188.2 1007.4L1188.8 1007.6L1191.2 1008.3L1194.2 1009.3L1197.2 1010.2L1198.5 1010.6L1200.2 1011.1L1203.2 1011.9L1206.2 1012.6L1209.2 1013.3L1210.3 1013.6L1212.2 1014.0L1215.2 1014.6L1218.2 1015.1L1221.2 1015.6L1224.2 1016.0L1227.2 1016.4L1228.5 1016.6L1230.2 1016.8L1233.2 1017.1L1236.2 1017.4L1239.2 1017.7L1242.2 1017.9L1245.2 1018.1L1248.2 1018.3L1251.3 1018.5L1254.3 1018.6L1257.3 1018.6L1260.3 1018.7L1263.3 1018.7L1266.3 1018.7L1269.3 1018.7L1272.3 1018.7L1275.3 1018.6L1278.3 1018.6L1281.3 1018.5L1284.3 1018.4L1287.3 1018.3L1290.3 1018.2L1293.3 1018.2L1296.3 1018.1L1299.3 1018.0L1302.3 1017.9L1305.3 1017.9L1308.3 1017.9L1311.3 1017.8L1314.3 1017.9L1317.3 1018.0L1320.3 1018.1L1323.3 1018.4L1326.3 1018.6L1329.3 1018.9L1332.4 1019.2L1335.4 1019.5L1336.9 1019.6L1338.4 1019.7L1341.4 1019.9L1344.4 1020.0L1347.4 1020.1L1350.4 1020.3L1353.4 1020.4L1356.4 1020.6L1359.4 1020.9L1362.4 1021.2L1365.4 1021.5L1368.4 1021.9L1371.4 1022.3L1372.9 1022.6L1374.4 1022.8L1377.4 1023.3L1380.4 1023.8L1383.4 1024.4L1386.4 1025.1L1388.4 1025.6L1389.4 1025.8L1392.4 1026.6L1395.4 1027.5L1398.4 1028.4L1398.8 1028.6L1401.4 1029.5L1404.4 1030.6L1406.8 1031.6L1407.4 1031.8L1410.4 1033.0L1413.5 1034.4L1413.8 1034.6L1416.5 1035.8L1419.5 1037.4L1419.7 1037.5L1422.5 1039.1L1424.8 1040.5L1425.5 1040.9L1428.5 1042.9L1429.4 1043.5L1431.5 1045.0L1433.5 1046.5L1434.5 1047.3L1437.3 1049.5L1437.5 1049.7L1440.5 1052.1L1441.1 1052.5L1443.5 1054.3L1445.2 1055.5L1446.5 1056.4L1449.5 1058.1L1450.4 1058.5L1452.5 1059.4L1455.5 1060.3L1458.5 1061.0L1461.5 1061.4L1462.7 1061.5L1464.5 1061.7L1467.5 1061.8L1470.5 1062.0L1473.5 1062.1L1476.5 1062.3L1479.5 1062.6L1482.5 1062.9L1485.5 1063.2L1488.5 1063.6L1491.5 1064.1L1494.0 1064.5L1494.5 1064.6L1497.6 1065.2L1500.6 1065.7L1503.6 1066.3L1506.6 1066.9L1509.6 1067.4L1510.1 1067.5L1512.6 1067.8L1515.6 1068.1L1518.6 1068.1L1521.6 1068.1L1524.6 1067.7L1525.6 1067.5L1527.6 1066.9L1530.6 1065.6L1532.4 1064.5L1533.6 1063.6L1536.2 1061.5L1536.6 1061.1L1539.6 1058.9L1540.3 1058.5L1542.6 1057.6L1545.6 1056.9L1548.6 1056.5L1551.6 1056.1L1553.9 1055.5L1554.6 1055.3L1557.6 1054.0L1559.5 1052.5L1560.6 1051.6L1562.3 1049.5L1563.6 1047.8L1564.4 1046.5L1565.7 1043.5L1565.8 1040.5L1564.2 1037.5L1563.6 1037.0L1560.7 1034.6L1560.6 1034.5L1557.6 1031.8L1557.3 1031.6L1555.4 1028.6L1554.7 1025.6L1554.6 1023.9L1554.6 1022.6L1554.6 1022.4L1555.0 1019.6L1555.8 1016.6L1556.7 1013.6L1557.6 1011.1L1557.8 1010.6L1558.9 1007.6L1559.9 1004.6L1560.6 1001.9L1560.7 1001.6L1561.3 998.6L1561.6 995.6L1561.8 992.6L1561.8 989.6L1561.7 986.6L1561.5 983.6L1561.2 980.6L1560.9 977.6L1560.6 974.8L1560.6 974.7L1560.3 971.7L1559.9 968.7L1559.5 965.7L1559.0 962.7L1558.4 959.7L1557.9 956.7L1557.6 955.6L1557.2 953.7L1556.5 950.7L1555.7 947.7L1554.8 944.7L1554.6 944.0L1553.8 941.7L1552.7 938.7L1551.6 936.3L1551.4 935.7L1549.8 932.7L1548.6 930.7L1548.0 929.7L1545.8 926.7L1545.6 926.5L1542.9 923.7L1542.6 923.4L1539.6 921.0L1539.2 920.7L1536.6 919.1L1534.1 917.7L1533.6 917.5L1530.6 916.1L1527.6 915.0L1526.6 914.8L1524.6 914.1L1521.6 913.4L1518.6 912.9L1515.6 912.4L1512.6 912.1L1509.7 911.8L1509.6 911.7L1506.6 911.5L1503.6 911.2L1500.6 910.9L1497.6 910.6L1494.5 910.2L1491.5 909.8L1488.5 909.4L1485.5 908.9L1485.0 908.8L1482.5 908.3L1479.5 907.7L1476.5 907.0L1473.5 906.3L1471.4 905.8L1470.5 905.5L1467.5 904.7L1464.5 903.8L1461.5 902.8L1461.4 902.8L1458.5 901.7L1455.5 900.6L1453.5 899.8L1452.5 899.3L1449.5 898.0L1447.1 896.8L1446.5 896.5L1443.5 894.8L1441.7 893.8L1440.5 893.0L1437.5 891.1L1437.1 890.8L1434.5 888.9L1433.0 887.8L1431.5 886.6L1429.2 884.8L1428.5 884.2L1425.7 881.8L1425.5 881.6L1422.5 878.8L1422.4 878.8L1419.5 875.9L1419.3 875.8L1416.5 872.9L1416.4 872.8L1413.6 869.8L1413.5 869.7L1410.9 866.8L1410.4 866.3L1408.4 863.8L1407.4 862.7L1406.0 860.8L1404.4 858.8L1403.7 857.8L1401.6 854.8L1401.4 854.6L1399.6 851.9L1398.4 850.0L1397.7 848.9L1396.0 845.9L1395.4 844.9L1394.3 842.9L1392.8 839.9L1392.4 839.1L1391.4 836.9L1390.1 833.9L1389.4 832.1L1388.9 830.9L1387.8 827.9L1386.7 824.9L1386.4 824.2L1385.5 821.9L1384.3 818.9L1383.4 816.9L1383.0 815.9L1381.4 812.9L1380.4 811.2L1379.6 809.9L1377.7 806.9L1377.4 806.4L1375.7 803.9L1374.4 801.9L1373.7 800.9L1371.7 797.9L1371.4 797.5L1369.8 794.9L1368.4 792.7L1367.9 792.0L1366.2 789.0L1365.4 787.3L1364.7 786.0L1363.3 783.0L1362.4 780.7L1362.1 780.0L1361.0 777.0L1359.9 774.0L1359.4 772.3L1359.0 771.0L1358.0 768.0L1357.2 765.0L1356.5 762.0ZM1858.0 1081.9L1861.0 1081.3L1864.0 1080.9L1864.0 1082.5L1864.0 1085.5L1864.0 1088.5L1864.0 1091.5L1864.0 1094.5L1864.0 1097.5L1864.0 1099.0L1861.0 1099.4L1858.0 1099.9L1855.1 1100.4L1855.0 1100.5L1852.0 1101.2L1849.0 1101.9L1846.0 1102.6L1843.0 1103.4L1842.8 1103.4L1840.0 1104.2L1837.0 1105.1L1834.0 1106.0L1832.3 1106.4L1831.0 1106.8L1828.0 1107.8L1825.0 1108.7L1822.4 1109.4L1821.9 1109.6L1818.9 1110.6L1815.9 1111.5L1813.2 1112.4L1812.9 1112.5L1809.9 1113.6L1806.9 1114.6L1804.6 1115.4L1803.9 1115.7L1800.9 1116.8L1797.9 1117.9L1796.4 1118.4L1794.9 1119.0L1791.9 1120.2L1788.9 1121.3L1788.7 1121.4L1785.9 1122.5L1782.9 1123.8L1781.3 1124.4L1779.9 1125.0L1776.9 1126.2L1773.9 1127.4L1773.8 1127.4L1770.9 1128.6L1767.9 1129.8L1766.4 1130.4L1764.9 1131.0L1761.9 1132.2L1758.9 1133.4L1758.9 1133.4L1755.9 1134.6L1752.9 1135.8L1751.3 1136.4L1749.9 1137.0L1746.9 1138.2L1743.9 1139.4L1743.8 1139.4L1740.8 1140.6L1737.8 1141.8L1736.4 1142.4L1734.8 1143.0L1731.8 1144.2L1728.9 1145.4L1728.8 1145.4L1725.8 1146.6L1722.8 1147.8L1721.3 1148.4L1719.8 1149.0L1716.8 1150.1L1713.8 1151.2L1713.5 1151.4L1710.8 1152.4L1707.8 1153.4L1705.2 1154.4L1704.8 1154.5L1701.8 1155.5L1698.8 1156.6L1696.5 1157.4L1695.8 1157.6L1692.8 1158.6L1689.8 1159.6L1687.3 1160.3L1686.8 1160.5L1683.8 1161.4L1680.8 1162.3L1677.8 1163.1L1676.7 1163.3L1674.8 1163.8L1671.8 1164.5L1668.8 1165.1L1665.8 1165.7L1662.8 1166.1L1661.4 1166.3L1659.8 1166.6L1656.7 1166.9L1653.7 1167.3L1650.7 1167.6L1647.7 1167.8L1644.7 1168.0L1641.7 1168.1L1638.7 1168.2L1635.7 1168.3L1632.7 1168.3L1629.7 1168.2L1626.7 1168.2L1623.7 1168.0L1620.7 1167.9L1617.7 1167.7L1614.7 1167.5L1611.7 1167.3L1608.7 1167.1L1605.7 1167.0L1602.7 1166.9L1599.7 1166.9L1596.7 1167.1L1593.7 1167.4L1590.7 1167.9L1587.7 1168.7L1585.4 1169.3L1584.7 1169.6L1581.7 1170.6L1578.7 1171.7L1577.2 1172.3L1575.6 1172.9L1572.6 1174.1L1569.6 1175.3L1569.6 1175.3L1566.6 1176.5L1563.6 1177.6L1562.0 1178.3L1560.6 1178.9L1557.6 1180.1L1555.0 1181.3L1554.6 1181.5L1551.6 1182.9L1548.8 1184.3L1548.6 1184.4L1545.6 1186.0L1543.4 1187.3L1542.6 1187.7L1539.6 1189.5L1538.4 1190.3L1536.6 1191.4L1533.7 1193.3L1533.6 1193.3L1530.6 1195.3L1529.1 1196.3L1527.6 1197.3L1524.6 1199.2L1524.5 1199.3L1521.6 1201.1L1519.8 1202.3L1518.6 1203.0L1515.6 1204.7L1514.6 1205.3L1512.6 1206.3L1509.6 1207.8L1508.6 1208.3L1506.6 1209.1L1503.6 1210.3L1500.8 1211.3L1500.6 1211.3L1497.6 1212.2L1494.5 1212.8L1491.5 1213.4L1488.5 1213.7L1485.5 1214.0L1482.5 1214.1L1479.5 1214.1L1476.5 1214.1L1473.5 1213.9L1470.5 1213.6L1467.5 1213.3L1464.5 1212.8L1461.5 1212.4L1458.5 1211.8L1455.8 1211.3L1455.5 1211.2L1452.5 1210.5L1449.5 1209.9L1446.5 1209.2L1443.5 1208.5L1442.5 1208.3L1440.5 1207.8L1437.5 1207.2L1434.5 1206.6L1431.5 1205.9L1428.6 1205.3L1428.5 1205.2L1425.5 1204.6L1422.5 1204.0L1419.5 1203.3L1416.5 1202.7L1414.5 1202.3L1413.5 1202.1L1410.4 1201.5L1407.4 1200.9L1404.4 1200.3L1401.4 1199.6L1399.7 1199.3L1398.4 1199.0L1395.4 1198.4L1392.4 1197.8L1389.4 1197.0L1386.7 1196.3L1386.4 1196.2L1383.4 1195.3L1380.4 1194.4L1377.4 1193.3L1377.3 1193.3L1374.4 1192.3L1371.4 1191.3L1368.4 1190.3L1368.3 1190.3L1365.4 1189.4L1362.4 1188.5L1359.4 1187.6L1358.4 1187.3L1356.4 1186.7L1353.4 1185.9L1350.4 1185.1L1347.4 1184.4L1347.1 1184.3L1344.4 1183.6L1341.4 1182.8L1338.4 1181.9L1336.4 1181.3L1335.4 1181.0L1332.4 1180.1L1329.3 1179.3L1326.3 1178.5L1325.8 1178.3L1323.3 1177.7L1320.3 1177.1L1317.3 1176.6L1314.3 1176.2L1311.3 1175.8L1308.3 1175.5L1307.0 1175.3L1305.3 1175.1L1302.3 1174.8L1299.3 1174.5L1296.3 1174.2L1293.3 1173.9L1290.3 1173.6L1287.3 1173.3L1284.3 1173.0L1281.3 1172.7L1278.3 1172.3L1278.2 1172.3L1275.3 1172.0L1272.3 1171.6L1269.3 1171.2L1266.3 1170.9L1263.3 1170.7L1260.3 1170.5L1257.3 1170.3L1254.3 1170.2L1251.3 1170.2L1248.2 1170.3L1245.2 1170.4L1242.2 1170.6L1239.2 1170.7L1236.2 1170.9L1233.2 1171.0L1230.2 1171.1L1227.2 1171.2L1224.2 1171.4L1221.2 1171.6L1218.2 1171.8L1215.2 1171.9L1212.2 1172.1L1209.2 1172.2L1206.9 1172.3L1206.2 1172.4L1203.2 1172.6L1200.2 1172.9L1197.2 1173.2L1194.2 1173.6L1191.2 1174.0L1188.2 1174.5L1185.2 1175.0L1183.2 1175.3L1182.2 1175.5L1179.2 1176.1L1176.2 1176.6L1173.2 1177.1L1170.2 1177.5L1167.2 1177.9L1164.4 1178.3L1164.1 1178.4L1161.1 1178.9L1158.1 1179.5L1155.1 1180.0L1152.1 1180.5L1149.1 1181.0L1147.6 1181.3L1146.1 1181.6L1143.1 1182.3L1140.1 1182.9L1137.1 1183.6L1134.3 1184.3L1134.1 1184.4L1131.1 1185.2L1128.1 1186.1L1125.1 1186.9L1123.9 1187.3L1122.1 1187.9L1119.1 1188.9L1116.1 1189.9L1114.7 1190.3L1113.1 1190.8L1110.1 1191.7L1107.1 1192.6L1104.4 1193.3L1104.1 1193.4L1101.1 1194.4L1098.1 1195.3L1095.1 1196.3L1095.1 1196.3L1092.1 1197.4L1089.1 1198.4L1086.6 1199.3L1086.1 1199.5L1083.0 1200.7L1080.0 1201.9L1079.2 1202.3L1077.0 1203.2L1074.0 1204.5L1072.0 1205.3L1071.0 1205.7L1068.0 1206.8L1065.0 1207.8L1063.6 1208.3L1062.0 1208.8L1059.0 1209.9L1056.0 1210.8L1054.6 1211.3L1053.0 1211.8L1050.0 1212.8L1047.0 1213.5L1044.0 1214.1L1044.0 1211.3L1044.0 1208.3L1044.0 1207.8L1047.0 1207.4L1050.0 1206.8L1053.0 1206.1L1056.0 1205.3L1056.2 1205.3L1059.0 1204.5L1062.0 1203.7L1065.0 1202.8L1066.4 1202.3L1068.0 1201.8L1071.0 1200.6L1074.0 1199.4L1074.3 1199.3L1077.0 1198.2L1080.0 1196.9L1081.7 1196.3L1083.0 1195.8L1086.1 1194.7L1089.1 1193.6L1089.9 1193.3L1092.1 1192.6L1095.1 1191.6L1098.1 1190.7L1099.3 1190.3L1101.1 1189.8L1104.1 1188.9L1107.1 1188.1L1109.6 1187.3L1110.1 1187.1L1113.1 1186.2L1116.1 1185.2L1118.6 1184.3L1119.1 1184.2L1122.1 1183.2L1125.1 1182.2L1127.9 1181.3L1128.1 1181.3L1131.1 1180.5L1134.1 1179.7L1137.1 1179.0L1140.0 1178.3L1140.1 1178.3L1143.1 1177.7L1146.1 1177.2L1149.1 1176.8L1152.1 1176.4L1155.1 1175.9L1158.1 1175.5L1159.0 1175.3L1161.1 1175.0L1164.1 1174.6L1167.2 1174.2L1170.2 1173.8L1173.2 1173.3L1176.2 1172.8L1178.4 1172.3L1179.2 1172.2L1182.2 1171.6L1185.2 1171.0L1188.2 1170.4L1191.2 1169.9L1194.2 1169.4L1194.8 1169.3L1197.2 1169.0L1200.2 1168.8L1203.2 1168.5L1206.2 1168.4L1209.2 1168.3L1212.2 1168.2L1215.2 1168.1L1218.2 1168.0L1221.2 1167.9L1224.2 1167.8L1227.2 1167.7L1230.2 1167.6L1233.2 1167.4L1236.2 1167.3L1239.2 1167.1L1242.2 1166.9L1245.2 1166.7L1248.2 1166.5L1251.3 1166.4L1252.4 1166.3L1254.3 1166.3L1256.4 1166.3L1257.3 1166.3L1260.3 1166.5L1263.3 1166.7L1266.3 1167.0L1269.3 1167.4L1272.3 1167.8L1275.3 1168.2L1278.3 1168.6L1281.3 1169.0L1284.3 1169.3L1284.6 1169.3L1287.3 1169.6L1290.3 1169.8L1293.3 1170.0L1296.3 1170.2L1299.3 1170.3L1302.3 1170.4L1305.3 1170.5L1308.3 1170.5L1311.3 1170.5L1314.3 1170.6L1317.3 1170.7L1320.3 1171.0L1323.3 1171.4L1326.3 1172.0L1327.9 1172.3L1329.3 1172.7L1332.4 1173.5L1335.4 1174.3L1338.4 1175.2L1338.8 1175.3L1341.4 1176.1L1344.4 1176.9L1347.4 1177.7L1349.7 1178.3L1350.4 1178.5L1353.4 1179.2L1356.4 1180.0L1359.4 1180.7L1361.7 1181.3L1362.4 1181.5L1365.4 1182.3L1368.4 1183.1L1371.4 1183.9L1373.0 1184.3L1374.4 1184.7L1377.4 1185.5L1380.4 1186.3L1383.4 1187.1L1384.4 1187.3L1386.4 1187.9L1389.4 1188.6L1392.4 1189.4L1395.4 1190.0L1396.7 1190.3L1398.4 1190.7L1401.4 1191.3L1404.4 1191.8L1407.4 1192.4L1410.4 1193.0L1412.2 1193.3L1413.5 1193.5L1416.5 1194.1L1419.5 1194.7L1422.5 1195.3L1425.5 1195.9L1427.1 1196.3L1428.5 1196.6L1431.5 1197.3L1434.5 1198.0L1437.5 1198.7L1440.1 1199.3L1440.5 1199.4L1443.5 1200.0L1446.5 1200.7L1449.5 1201.3L1452.5 1202.0L1453.8 1202.3L1455.5 1202.6L1458.5 1203.3L1461.5 1203.9L1464.5 1204.4L1467.5 1204.8L1470.5 1205.1L1472.6 1205.3L1473.5 1205.3L1476.5 1205.4L1479.5 1205.4L1481.3 1205.3L1482.5 1205.2L1485.5 1204.8L1488.5 1204.3L1491.5 1203.5L1494.5 1202.4L1495.0 1202.3L1497.6 1201.0L1500.6 1199.5L1500.9 1199.3L1503.6 1197.6L1505.5 1196.3L1506.6 1195.5L1509.5 1193.3L1509.6 1193.2L1512.6 1190.7L1513.0 1190.3L1515.6 1188.0L1516.4 1187.3L1518.6 1185.2L1519.6 1184.3L1521.6 1182.4L1522.7 1181.3L1524.6 1179.4L1525.7 1178.3L1527.6 1176.5L1528.9 1175.3L1530.6 1173.7L1532.1 1172.3L1533.6 1171.0L1535.6 1169.3L1536.6 1168.4L1539.2 1166.3L1539.6 1166.0L1542.6 1163.7L1543.2 1163.3L1545.6 1161.5L1547.4 1160.3L1548.6 1159.4L1551.6 1157.4L1551.8 1157.4L1554.6 1155.4L1556.3 1154.4L1557.6 1153.5L1560.6 1151.6L1561.1 1151.4L1563.6 1149.7L1565.9 1148.4L1566.6 1147.9L1569.6 1146.0L1570.7 1145.4L1572.6 1144.1L1575.5 1142.4L1575.6 1142.3L1578.7 1140.5L1581.0 1139.4L1581.7 1139.0L1584.7 1137.9L1587.7 1137.1L1590.7 1136.8L1593.7 1136.8L1596.7 1137.1L1599.7 1137.8L1602.7 1138.5L1605.7 1139.3L1606.0 1139.4L1608.7 1140.0L1611.7 1140.7L1614.7 1141.3L1617.7 1141.8L1620.7 1142.2L1622.2 1142.4L1623.7 1142.6L1626.7 1142.9L1629.7 1143.1L1632.7 1143.3L1635.7 1143.4L1638.7 1143.4L1641.7 1143.4L1644.7 1143.3L1647.7 1143.1L1650.7 1142.9L1653.7 1142.7L1656.2 1142.4L1656.7 1142.3L1659.8 1141.9L1662.8 1141.5L1665.8 1141.1L1668.8 1140.6L1671.8 1140.0L1674.8 1139.4L1675.0 1139.4L1677.8 1138.8L1680.8 1138.1L1683.8 1137.4L1686.8 1136.6L1687.6 1136.4L1689.8 1135.8L1692.8 1135.0L1695.8 1134.1L1697.9 1133.4L1698.8 1133.1L1701.8 1132.2L1704.8 1131.2L1707.1 1130.4L1707.8 1130.2L1710.8 1129.1L1713.8 1128.1L1715.8 1127.4L1716.8 1127.0L1719.8 1126.0L1722.8 1124.9L1724.1 1124.4L1725.8 1123.8L1728.8 1122.7L1731.8 1121.6L1732.4 1121.4L1734.8 1120.5L1737.8 1119.5L1740.8 1118.4L1740.8 1118.4L1743.9 1117.3L1746.9 1116.3L1749.2 1115.4L1749.9 1115.2L1752.9 1114.1L1755.9 1113.1L1757.7 1112.4L1758.9 1112.0L1761.9 1111.0L1764.9 1109.9L1766.2 1109.4L1767.9 1108.8L1770.9 1107.8L1773.9 1106.7L1774.6 1106.4L1776.9 1105.6L1779.9 1104.6L1782.9 1103.6L1783.2 1103.4L1785.9 1102.6L1788.9 1101.6L1791.9 1100.6L1792.4 1100.4L1794.9 1099.7L1797.9 1098.8L1800.9 1097.8L1802.2 1097.5L1803.9 1096.9L1806.9 1096.1L1809.9 1095.2L1812.6 1094.5L1812.9 1094.4L1815.9 1093.5L1818.9 1092.6L1821.9 1091.7L1822.9 1091.5L1825.0 1090.8L1828.0 1089.9L1831.0 1088.9L1832.4 1088.5L1834.0 1088.0L1837.0 1087.0L1840.0 1086.1L1842.3 1085.5L1843.0 1085.3L1846.0 1084.5L1849.0 1083.7L1852.0 1083.1L1855.0 1082.5L1855.1 1082.5Z" fill="#e3e3f0" stroke="#e3e3f0" stroke-width="0.6" fill-rule="evenodd"/>
<path d="M1182.2 762.0L1185.2 762.0L1188.2 762.0L1191.2 762.0L1194.2 762.0L1197.2 762.0L1200.2 762.0L1203.2 762.0L1206.2 762.0L1209.2 762.0L1212.2 762.0L1215.2 762.0L1218.2 762.0L1221.2 762.0L1224.2 762.0L1227.2 762.0L1230.2 762.0L1233.2 762.0L1236.2 762.0L1239.2 762.0L1242.2 762.0L1245.2 762.0L1248.2 762.0L1251.3 762.0L1254.3 762.0L1257.3 762.0L1260.3 762.0L1261.8 762.0L1263.0 765.0L1263.3 765.5L1264.6 768.0L1266.3 770.9L1266.3 771.0L1268.0 774.0L1269.3 776.0L1269.8 777.0L1271.6 780.0L1272.3 781.0L1273.5 783.0L1275.3 785.9L1275.3 786.0L1277.2 789.0L1278.3 790.6L1279.1 792.0L1281.0 794.9L1281.3 795.3L1283.0 797.9L1284.3 799.9L1285.0 800.9L1287.0 803.9L1287.3 804.3L1289.1 806.9L1290.3 808.7L1291.2 809.9L1293.3 812.9L1293.3 812.9L1295.5 815.9L1296.3 817.0L1297.7 818.9L1299.3 821.1L1299.9 821.9L1302.2 824.9L1302.3 825.1L1304.5 827.9L1305.3 828.9L1306.8 830.9L1308.3 832.7L1309.3 833.9L1311.3 836.3L1311.8 836.9L1314.3 839.7L1314.5 839.9L1317.3 842.8L1317.4 842.9L1320.3 845.5L1320.7 845.9L1323.3 847.9L1324.5 848.9L1326.3 850.2L1328.7 851.9L1329.3 852.3L1332.4 854.4L1332.9 854.8L1335.4 856.7L1336.8 857.8L1338.4 859.1L1340.3 860.8L1341.4 861.8L1343.4 863.8L1344.4 864.9L1346.1 866.8L1347.4 868.3L1348.7 869.8L1350.4 871.8L1351.2 872.8L1353.4 875.5L1353.6 875.8L1356.1 878.8L1356.4 879.2L1358.6 881.8L1359.4 882.7L1361.3 884.8L1362.4 886.0L1364.1 887.8L1365.4 889.2L1367.0 890.8L1368.4 892.2L1370.0 893.8L1371.4 895.2L1373.0 896.8L1374.4 898.2L1376.0 899.8L1377.4 901.2L1379.0 902.8L1380.4 904.1L1382.0 905.8L1383.4 907.1L1385.1 908.8L1386.4 910.1L1388.1 911.8L1389.4 913.0L1391.2 914.8L1392.4 916.0L1394.2 917.7L1395.4 919.0L1397.2 920.7L1398.4 922.0L1400.1 923.7L1401.4 925.1L1403.1 926.7L1404.4 928.1L1406.0 929.7L1407.4 931.2L1409.0 932.7L1410.4 934.2L1412.0 935.7L1413.5 937.2L1415.0 938.7L1416.5 940.2L1418.1 941.7L1419.5 943.0L1421.3 944.7L1422.5 945.7L1424.8 947.7L1425.5 948.3L1428.5 950.6L1428.5 950.7L1431.5 952.8L1432.8 953.7L1434.5 954.8L1437.5 956.4L1438.0 956.7L1440.5 957.9L1443.5 959.1L1445.3 959.7L1446.5 960.1L1449.5 961.0L1452.5 961.7L1455.5 962.4L1456.6 962.7L1458.5 963.1L1461.5 963.8L1464.5 964.5L1467.5 965.1L1470.0 965.7L1470.5 965.8L1473.5 966.5L1476.5 967.2L1479.5 967.9L1482.3 968.7L1482.5 968.7L1485.5 969.7L1488.5 970.7L1491.2 971.7L1491.5 971.8L1494.5 973.2L1497.2 974.7L1497.6 974.9L1500.6 977.0L1501.4 977.6L1503.6 979.7L1504.4 980.6L1506.6 983.3L1506.8 983.6L1508.5 986.6L1509.6 988.9L1509.9 989.6L1511.0 992.6L1511.8 995.6L1512.4 998.6L1512.6 1000.9L1512.6 1001.6L1512.6 1004.6L1512.6 1004.7L1512.2 1007.6L1511.4 1010.6L1510.2 1013.6L1509.6 1014.8L1508.4 1016.6L1506.6 1018.7L1505.5 1019.6L1503.6 1020.8L1500.6 1022.1L1498.8 1022.6L1497.6 1022.8L1494.5 1023.1L1491.5 1023.0L1488.5 1022.7L1487.7 1022.6L1485.5 1022.1L1482.5 1021.4L1479.5 1020.5L1476.5 1019.6L1476.5 1019.6L1473.5 1018.4L1470.5 1017.2L1468.8 1016.6L1467.5 1016.1L1464.5 1015.0L1461.5 1014.0L1460.2 1013.6L1458.5 1013.1L1455.5 1012.2L1452.5 1011.3L1450.2 1010.6L1449.5 1010.4L1446.5 1009.5L1443.5 1008.6L1440.5 1007.8L1439.9 1007.6L1437.5 1006.9L1434.5 1006.2L1431.5 1005.4L1428.5 1004.7L1427.8 1004.6L1425.5 1004.1L1422.5 1003.5L1419.5 1002.9L1416.5 1002.4L1413.5 1002.0L1410.4 1001.7L1410.0 1001.6L1407.4 1001.3L1404.4 1001.1L1401.4 1000.9L1398.4 1000.8L1395.4 1000.7L1392.4 1000.7L1389.4 1000.8L1386.4 1000.9L1383.4 1001.0L1380.4 1001.2L1377.4 1001.4L1375.2 1001.6L1374.4 1001.7L1371.4 1001.9L1368.4 1002.2L1365.4 1002.4L1362.4 1002.7L1359.4 1002.9L1356.4 1003.1L1353.4 1003.4L1350.4 1003.7L1347.4 1003.9L1344.4 1004.1L1341.4 1004.2L1338.4 1004.3L1335.4 1004.2L1332.4 1004.1L1329.3 1003.9L1326.3 1003.7L1323.3 1003.5L1320.3 1003.2L1317.3 1002.9L1314.3 1002.6L1311.3 1002.2L1308.3 1001.9L1305.7 1001.6L1305.3 1001.6L1302.3 1001.3L1299.3 1001.0L1296.3 1000.8L1293.3 1000.6L1290.3 1000.4L1287.3 1000.2L1284.3 1000.0L1281.3 999.7L1278.3 999.5L1275.3 999.3L1272.3 999.1L1269.3 998.9L1266.3 998.8L1263.3 998.7L1260.3 998.7L1257.3 998.7L1254.3 998.8L1251.3 998.8L1248.2 998.9L1245.2 999.0L1242.2 999.0L1239.2 998.9L1236.2 998.7L1235.1 998.6L1233.2 998.4L1230.2 997.9L1227.2 997.1L1224.2 996.2L1222.9 995.6L1221.2 994.9L1218.2 993.3L1217.0 992.6L1215.2 991.5L1212.4 989.6L1212.2 989.5L1209.2 987.5L1207.7 986.6L1206.2 985.7L1203.2 984.0L1202.4 983.6L1200.2 982.4L1197.2 980.9L1196.6 980.6L1194.2 979.4L1191.2 978.0L1190.5 977.6L1188.2 976.4L1185.2 974.9L1184.7 974.7L1182.2 973.3L1179.2 971.7L1179.1 971.7L1176.2 970.0L1173.6 968.7L1173.2 968.4L1170.2 966.8L1167.7 965.7L1167.2 965.4L1164.1 964.0L1161.1 962.8L1160.7 962.7L1158.1 961.7L1155.1 960.8L1152.1 960.1L1149.6 959.7L1149.1 959.6L1146.1 959.2L1143.1 959.1L1140.1 959.1L1137.1 959.4L1135.1 959.7L1134.1 959.8L1131.1 960.4L1128.1 961.2L1125.1 962.2L1123.8 962.7L1122.1 963.3L1119.1 964.5L1116.7 965.7L1116.1 965.9L1113.1 967.4L1110.6 968.7L1110.1 968.9L1107.1 970.5L1104.8 971.7L1104.1 972.1L1101.1 973.6L1099.1 974.7L1098.1 975.2L1095.1 976.7L1093.2 977.6L1092.1 978.2L1089.1 979.8L1087.7 980.6L1086.1 981.5L1083.0 983.3L1082.4 983.6L1080.0 985.0L1077.2 986.6L1077.0 986.7L1074.0 988.3L1071.7 989.6L1071.0 990.0L1068.0 991.6L1066.2 992.6L1065.0 993.3L1062.0 995.1L1061.1 995.6L1059.0 996.9L1056.4 998.6L1056.0 998.8L1053.0 1000.8L1051.7 1001.6L1050.0 1002.7L1047.0 1004.5L1046.9 1004.6L1044.0 1006.1L1044.0 1004.6L1044.0 1001.6L1044.0 998.6L1044.0 995.6L1044.0 992.6L1044.0 991.7L1047.0 990.3L1048.2 989.6L1050.0 988.5L1052.6 986.6L1053.0 986.4L1056.0 983.8L1056.2 983.6L1059.0 981.1L1059.5 980.6L1062.0 978.3L1062.7 977.6L1065.0 975.7L1066.3 974.7L1068.0 973.2L1069.9 971.7L1071.0 970.6L1073.1 968.7L1074.0 967.6L1075.7 965.7L1077.0 963.9L1078.0 962.7L1080.0 959.9L1080.2 959.7L1082.8 956.7L1083.0 956.4L1086.0 953.7L1086.1 953.6L1089.1 951.2L1089.8 950.7L1092.1 949.0L1094.1 947.7L1095.1 947.0L1098.1 944.9L1098.3 944.7L1101.1 942.6L1102.1 941.7L1104.1 939.9L1105.4 938.7L1107.1 937.0L1108.4 935.7L1110.1 933.9L1111.2 932.7L1113.1 930.7L1114.0 929.7L1116.1 927.2L1116.6 926.7L1118.7 923.7L1119.1 923.1L1120.5 920.7L1121.9 917.7L1122.1 917.0L1122.9 914.8L1123.7 911.8L1124.3 908.8L1124.8 905.8L1125.1 904.0L1125.4 902.8L1126.0 899.8L1126.6 896.8L1127.3 893.8L1128.1 890.9L1128.1 890.8L1129.7 887.8L1131.1 885.7L1132.0 884.8L1134.1 882.9L1135.9 881.8L1137.1 880.9L1140.1 879.2L1141.1 878.8L1143.1 877.6L1146.1 876.3L1149.0 875.8L1149.1 875.8L1149.2 875.8L1152.1 877.5L1152.8 878.8L1154.6 881.8L1155.1 882.6L1156.1 884.8L1157.4 887.8L1158.1 889.3L1158.7 890.8L1159.9 893.8L1161.1 896.8L1161.1 896.9L1162.2 899.8L1163.3 902.8L1164.1 905.2L1164.3 905.8L1165.3 908.8L1166.4 911.8L1167.2 913.7L1167.5 914.8L1168.7 917.7L1170.2 920.7L1170.2 920.7L1171.7 923.7L1173.2 926.2L1173.5 926.7L1175.4 929.7L1176.2 930.8L1177.4 932.7L1179.2 935.0L1179.7 935.7L1182.1 938.7L1182.2 938.7L1184.9 941.7L1185.2 942.0L1187.9 944.7L1188.2 944.9L1191.2 947.5L1191.4 947.7L1194.2 949.9L1195.2 950.7L1197.2 952.2L1199.2 953.7L1200.2 954.3L1203.2 956.5L1203.5 956.7L1206.2 958.5L1207.9 959.7L1209.2 960.6L1212.1 962.7L1212.2 962.7L1215.2 965.0L1216.1 965.7L1218.2 967.4L1219.7 968.7L1221.2 970.1L1222.8 971.7L1224.2 973.2L1225.7 974.7L1227.2 976.4L1228.5 977.6L1230.2 979.5L1231.9 980.6L1233.2 981.5L1236.2 982.2L1239.2 982.0L1242.2 981.3L1245.2 980.7L1245.6 980.6L1248.2 980.3L1251.3 980.2L1254.3 980.3L1257.3 980.4L1260.0 980.6L1260.3 980.7L1263.3 980.9L1266.3 981.0L1269.3 981.2L1272.3 981.4L1275.3 981.5L1278.3 981.6L1281.3 981.6L1284.3 981.6L1287.3 981.4L1290.3 981.2L1293.3 980.9L1295.9 980.6L1296.3 980.6L1299.3 980.5L1300.6 980.6L1302.3 980.8L1305.3 981.5L1308.3 982.8L1310.0 983.6L1311.3 984.2L1314.3 985.6L1316.8 986.6L1317.3 986.8L1320.3 987.5L1323.3 988.0L1326.3 988.1L1329.3 988.0L1332.4 987.7L1335.4 987.3L1338.4 986.8L1339.6 986.6L1341.4 986.3L1344.4 985.6L1347.4 985.0L1350.4 984.3L1353.2 983.6L1353.4 983.6L1356.4 982.8L1359.4 981.9L1362.4 981.0L1363.4 980.6L1365.4 979.9L1368.4 978.5L1370.3 977.6L1371.4 977.0L1374.4 975.2L1375.1 974.7L1377.4 972.7L1378.6 971.7L1380.4 969.4L1380.9 968.7L1382.5 965.7L1383.4 962.7L1383.4 962.2L1383.7 959.7L1383.6 956.7L1383.4 955.0L1383.2 953.7L1382.5 950.7L1381.5 947.7L1380.4 945.1L1380.3 944.7L1378.8 941.7L1377.4 939.3L1377.0 938.7L1375.1 935.7L1374.4 934.8L1372.9 932.7L1371.4 930.7L1370.6 929.7L1368.4 927.0L1368.2 926.7L1365.6 923.7L1365.4 923.5L1362.9 920.7L1362.4 920.3L1360.0 917.7L1359.4 917.2L1357.0 914.8L1356.4 914.2L1353.9 911.8L1353.4 911.3L1350.6 908.8L1350.4 908.5L1347.4 906.0L1347.1 905.8L1344.4 903.5L1343.4 902.8L1341.4 901.2L1339.5 899.8L1338.4 898.9L1335.7 896.8L1335.4 896.5L1332.4 894.1L1331.9 893.8L1329.3 891.7L1328.2 890.8L1326.3 889.2L1324.6 887.8L1323.3 886.8L1320.8 884.8L1320.3 884.4L1317.3 882.2L1316.7 881.8L1314.3 880.2L1312.3 878.8L1311.3 878.1L1308.3 876.1L1307.8 875.8L1305.3 874.1L1303.4 872.8L1302.3 872.1L1299.3 870.0L1299.1 869.8L1296.3 867.8L1294.9 866.8L1293.3 865.6L1290.8 863.8L1290.3 863.5L1287.3 861.4L1286.4 860.8L1284.3 859.5L1281.5 857.8L1281.3 857.7L1278.3 856.1L1275.9 854.8L1275.3 854.5L1272.3 853.1L1269.3 851.9L1269.3 851.8L1266.3 850.7L1263.3 849.7L1260.6 848.9L1260.3 848.8L1257.3 848.0L1254.3 847.3L1251.3 846.6L1248.2 846.0L1247.6 845.9L1245.2 845.3L1242.2 844.6L1239.2 843.9L1236.2 843.0L1235.8 842.9L1233.2 842.0L1230.2 841.0L1227.2 840.0L1226.7 839.9L1224.2 839.1L1221.2 838.5L1218.2 838.1L1215.2 838.0L1212.2 838.2L1209.2 838.5L1206.2 839.0L1203.2 839.3L1200.2 839.6L1197.2 839.5L1194.2 839.3L1191.2 838.6L1188.2 837.4L1187.4 836.9L1185.2 834.5L1184.8 833.9L1183.7 830.9L1183.2 827.9L1182.7 824.9L1182.3 821.9L1182.2 821.0L1181.8 818.9L1181.3 815.9L1180.8 812.9L1180.2 809.9L1179.7 806.9L1179.3 803.9L1179.2 803.3L1178.9 800.9L1178.5 797.9L1178.3 794.9L1178.0 792.0L1177.9 789.0L1177.9 786.0L1178.0 783.0L1178.2 780.0L1178.5 777.0L1178.7 774.0L1178.9 771.0L1179.1 768.0L1179.2 766.5L1179.2 765.0L1179.2 762.0ZM1861.0 1169.3L1864.0 1169.0L1864.0 1169.3L1864.0 1172.3L1864.0 1175.3L1864.0 1178.3L1864.0 1181.3L1864.0 1184.3L1864.0 1187.3L1864.0 1190.3L1864.0 1190.4L1861.0 1190.7L1858.0 1191.0L1855.0 1191.2L1852.0 1191.2L1849.0 1191.0L1846.0 1190.6L1844.5 1190.3L1843.0 1189.9L1840.0 1188.7L1837.3 1187.3L1837.0 1187.0L1834.6 1184.3L1834.2 1181.3L1835.6 1178.3L1837.0 1177.0L1839.0 1175.3L1840.0 1174.7L1843.0 1173.2L1845.2 1172.3L1846.0 1172.1L1849.0 1171.2L1852.0 1170.5L1855.0 1170.0L1858.0 1169.6L1860.5 1169.3ZM1242.2 1181.3L1245.2 1181.2L1248.2 1181.2L1251.3 1181.2L1254.2 1181.3L1254.3 1181.3L1257.3 1181.4L1260.3 1181.6L1263.3 1181.9L1266.3 1182.1L1269.3 1182.4L1272.3 1182.8L1275.3 1183.1L1278.3 1183.4L1281.3 1183.8L1284.3 1184.1L1285.8 1184.3L1287.3 1184.5L1290.3 1185.0L1293.3 1185.5L1296.3 1186.0L1299.3 1186.5L1302.3 1187.0L1304.3 1187.3L1305.3 1187.5L1308.3 1188.0L1311.3 1188.6L1314.3 1189.2L1317.3 1189.9L1319.2 1190.3L1320.3 1190.6L1323.3 1191.4L1326.3 1192.2L1329.3 1193.0L1330.5 1193.3L1332.4 1193.8L1335.4 1194.6L1338.4 1195.5L1341.2 1196.3L1341.4 1196.3L1344.4 1197.3L1347.4 1198.4L1350.0 1199.3L1350.4 1199.4L1353.4 1200.7L1356.4 1201.9L1357.3 1202.3L1359.4 1203.2L1362.4 1204.6L1364.0 1205.3L1365.4 1206.0L1368.4 1207.4L1370.2 1208.3L1371.4 1208.9L1374.4 1210.4L1376.3 1211.3L1377.4 1211.8L1380.4 1213.2L1382.9 1214.3L1383.4 1214.5L1386.4 1215.8L1389.4 1217.0L1390.1 1217.3L1392.4 1218.2L1395.4 1219.4L1397.6 1220.2L1398.4 1220.6L1401.4 1221.8L1404.4 1223.0L1405.0 1223.2L1407.4 1224.2L1410.4 1225.4L1412.9 1226.2L1413.5 1226.5L1416.5 1227.6L1419.5 1228.6L1421.7 1229.2L1422.5 1229.5L1425.5 1230.4L1428.5 1231.2L1431.5 1231.9L1432.9 1232.2L1434.5 1232.6L1437.5 1233.3L1440.5 1233.9L1443.5 1234.4L1446.5 1234.9L1448.3 1235.2L1449.5 1235.5L1452.5 1236.0L1455.5 1236.5L1458.5 1236.9L1461.5 1237.3L1464.5 1237.6L1467.5 1237.8L1470.5 1238.0L1473.5 1238.2L1476.5 1238.2L1479.5 1238.2L1482.5 1238.1L1485.5 1237.9L1488.5 1237.7L1491.5 1237.4L1494.5 1236.9L1497.6 1236.4L1500.6 1235.8L1503.3 1235.2L1503.6 1235.2L1506.6 1234.5L1509.6 1233.8L1512.6 1233.0L1515.3 1232.2L1515.6 1232.2L1518.6 1231.3L1521.6 1230.4L1524.6 1229.5L1525.2 1229.2L1527.6 1228.5L1530.6 1227.5L1533.6 1226.5L1534.5 1226.2L1536.6 1225.6L1539.6 1224.7L1542.6 1223.7L1544.2 1223.2L1545.6 1222.8L1548.6 1222.0L1551.6 1221.2L1554.6 1220.4L1555.2 1220.2L1557.6 1219.7L1560.6 1219.1L1563.6 1218.5L1566.6 1218.0L1569.6 1217.6L1572.3 1217.3L1572.6 1217.2L1575.6 1217.0L1578.7 1216.8L1581.7 1216.7L1584.7 1216.6L1587.7 1216.5L1590.7 1216.4L1593.7 1216.4L1596.7 1216.5L1599.7 1216.8L1601.9 1217.3L1602.7 1217.5L1605.7 1218.5L1608.7 1219.8L1609.6 1220.2L1611.7 1221.4L1614.7 1223.1L1615.0 1223.2L1617.7 1225.1L1619.4 1226.2L1620.7 1227.3L1623.0 1229.2L1623.7 1230.0L1625.8 1232.2L1626.7 1233.4L1628.1 1235.2L1629.7 1238.2L1629.8 1238.2L1630.9 1241.2L1631.7 1244.2L1631.9 1247.2L1631.7 1250.2L1631.1 1253.2L1629.9 1256.2L1629.7 1256.5L1628.1 1259.2L1626.7 1261.1L1625.8 1262.2L1623.7 1264.2L1622.6 1265.2L1620.7 1266.7L1618.5 1268.2L1617.7 1268.7L1614.7 1270.3L1612.7 1271.2L1611.7 1271.6L1608.7 1272.6L1605.7 1273.6L1603.9 1274.2L1602.7 1274.6L1599.7 1275.7L1596.7 1277.2L1596.7 1277.2L1593.7 1279.0L1592.0 1280.2L1590.7 1281.1L1588.1 1283.1L1587.7 1283.5L1584.7 1286.0L1584.5 1286.1L1581.7 1288.6L1581.1 1289.1L1578.7 1291.2L1577.6 1292.1L1575.6 1293.7L1574.0 1295.1L1572.6 1296.1L1570.0 1298.1L1569.6 1298.4L1566.6 1300.4L1565.5 1301.1L1563.6 1302.2L1560.6 1303.9L1560.2 1304.1L1557.6 1305.4L1554.6 1306.7L1553.6 1307.1L1551.6 1307.8L1548.6 1308.8L1545.6 1309.7L1544.2 1310.1L1542.6 1310.5L1539.6 1311.1L1536.6 1311.6L1533.6 1312.1L1530.6 1312.4L1527.6 1312.5L1524.6 1312.6L1521.6 1312.4L1518.6 1312.2L1515.6 1311.8L1512.6 1311.4L1509.6 1310.8L1506.6 1310.1L1506.5 1310.1L1503.6 1309.4L1500.6 1308.5L1497.6 1307.7L1495.6 1307.1L1494.5 1306.8L1491.5 1305.9L1488.5 1304.9L1486.0 1304.1L1485.5 1304.0L1482.5 1303.0L1479.5 1302.0L1477.0 1301.1L1476.5 1300.9L1473.5 1299.9L1470.5 1298.9L1468.4 1298.1L1467.5 1297.8L1464.5 1296.8L1461.5 1295.7L1459.9 1295.1L1458.5 1294.6L1455.5 1293.6L1452.5 1292.5L1451.4 1292.1L1449.5 1291.5L1446.5 1290.4L1443.5 1289.3L1442.9 1289.1L1440.5 1288.3L1437.5 1287.4L1434.5 1286.5L1433.4 1286.1L1431.5 1285.6L1428.5 1284.8L1425.5 1284.2L1422.5 1283.6L1419.6 1283.1L1419.5 1283.1L1416.5 1282.8L1413.5 1282.5L1410.4 1282.3L1407.4 1282.1L1404.4 1282.1L1401.4 1282.1L1398.4 1282.2L1395.4 1282.3L1392.4 1282.5L1389.4 1282.7L1386.4 1283.0L1385.6 1283.1L1383.4 1283.4L1380.4 1283.9L1377.4 1284.4L1374.4 1285.0L1371.4 1285.5L1368.4 1286.1L1368.1 1286.1L1365.4 1286.7L1362.4 1287.3L1359.4 1288.0L1356.4 1288.6L1354.2 1289.1L1353.4 1289.3L1350.4 1290.1L1347.4 1290.9L1344.4 1291.7L1342.6 1292.1L1341.4 1292.5L1338.4 1293.3L1335.4 1294.1L1332.4 1294.8L1331.1 1295.1L1329.3 1295.6L1326.3 1296.4L1323.3 1297.3L1320.3 1298.1L1320.1 1298.1L1317.3 1298.9L1314.3 1299.8L1311.3 1300.6L1309.4 1301.1L1308.3 1301.4L1305.3 1302.2L1302.3 1302.9L1299.3 1303.6L1296.4 1304.1L1296.3 1304.1L1293.3 1304.7L1290.3 1305.3L1287.3 1305.8L1284.3 1306.3L1281.3 1306.7L1278.3 1307.0L1277.2 1307.1L1275.3 1307.3L1272.3 1307.5L1269.3 1307.7L1266.3 1307.8L1263.3 1307.8L1260.3 1307.7L1257.3 1307.7L1254.3 1307.6L1251.3 1307.5L1248.2 1307.5L1245.2 1307.5L1242.2 1307.5L1239.2 1307.5L1236.2 1307.5L1233.2 1307.5L1230.2 1307.4L1227.2 1307.3L1224.2 1307.2L1222.3 1307.1L1221.2 1307.1L1218.2 1306.9L1215.2 1306.8L1212.2 1306.7L1209.2 1306.6L1206.2 1306.6L1203.2 1306.7L1200.2 1306.9L1197.2 1307.0L1195.4 1307.1L1194.2 1307.2L1191.2 1307.3L1188.2 1307.5L1185.2 1307.5L1182.2 1307.6L1179.2 1307.5L1176.2 1307.5L1173.2 1307.5L1170.2 1307.5L1167.2 1307.5L1164.1 1307.6L1161.1 1307.8L1158.1 1308.0L1155.1 1308.3L1152.1 1308.6L1149.1 1308.8L1146.1 1309.1L1143.1 1309.2L1140.1 1309.4L1137.1 1309.4L1134.1 1309.5L1131.1 1309.5L1128.1 1309.6L1125.1 1309.7L1122.1 1309.8L1119.1 1310.0L1118.0 1310.1L1116.1 1310.3L1113.1 1310.6L1110.1 1310.8L1107.1 1311.1L1104.1 1311.3L1101.1 1311.4L1098.1 1311.5L1095.1 1311.6L1092.1 1311.7L1089.1 1311.7L1086.1 1311.8L1083.0 1312.0L1080.0 1312.2L1077.0 1312.5L1074.0 1312.8L1071.8 1313.1L1071.0 1313.2L1068.0 1313.5L1065.0 1313.8L1062.0 1314.0L1059.0 1314.2L1056.0 1314.2L1053.0 1314.2L1050.0 1314.2L1047.0 1314.2L1044.0 1314.1L1044.0 1313.1L1044.0 1310.1L1044.0 1307.1L1044.0 1304.1L1044.0 1301.1L1044.0 1298.1L1044.0 1297.5L1047.0 1297.4L1050.0 1297.3L1053.0 1297.1L1056.0 1297.0L1059.0 1296.8L1062.0 1296.6L1065.0 1296.4L1068.0 1296.3L1071.0 1296.2L1074.0 1296.0L1077.0 1295.8L1080.0 1295.6L1083.0 1295.3L1084.8 1295.1L1086.1 1295.0L1089.1 1294.5L1092.1 1294.0L1095.1 1293.6L1098.1 1293.2L1101.1 1292.9L1104.1 1292.7L1107.1 1292.6L1110.1 1292.5L1113.1 1292.5L1116.1 1292.6L1119.1 1292.7L1122.1 1292.7L1125.1 1292.7L1128.1 1292.7L1131.1 1292.7L1134.1 1292.6L1137.1 1292.6L1140.1 1292.5L1143.1 1292.4L1146.1 1292.4L1149.1 1292.4L1152.1 1292.3L1155.1 1292.3L1158.1 1292.2L1161.1 1292.2L1164.1 1292.2L1167.2 1292.2L1170.2 1292.2L1173.2 1292.2L1176.2 1292.2L1179.2 1292.2L1182.2 1292.2L1185.2 1292.2L1188.2 1292.2L1191.2 1292.3L1194.2 1292.3L1197.2 1292.3L1200.2 1292.3L1203.2 1292.3L1206.2 1292.3L1209.2 1292.3L1212.2 1292.2L1215.2 1292.2L1217.5 1292.1L1218.2 1292.1L1221.2 1292.1L1224.2 1292.0L1227.2 1292.0L1230.2 1291.9L1233.2 1291.9L1236.2 1291.9L1239.2 1291.9L1242.2 1291.9L1245.2 1291.9L1248.2 1291.9L1251.3 1291.8L1254.3 1291.7L1257.3 1291.6L1260.3 1291.4L1263.3 1291.2L1266.3 1291.0L1269.3 1290.7L1272.3 1290.4L1275.3 1290.1L1278.3 1289.8L1281.3 1289.4L1283.3 1289.1L1284.3 1289.0L1287.3 1288.6L1290.3 1288.1L1293.3 1287.5L1296.3 1286.9L1299.3 1286.3L1299.8 1286.1L1302.3 1285.6L1305.3 1285.0L1308.3 1284.3L1311.3 1283.7L1314.2 1283.1L1314.3 1283.1L1317.3 1282.6L1320.3 1282.2L1323.3 1281.7L1326.3 1281.3L1329.3 1280.8L1332.4 1280.2L1332.7 1280.2L1335.4 1279.6L1338.4 1278.9L1341.4 1278.1L1344.4 1277.2L1344.4 1277.2L1347.4 1276.3L1350.4 1275.4L1353.4 1274.5L1354.6 1274.2L1356.4 1273.7L1359.4 1272.8L1362.4 1272.0L1365.3 1271.2L1365.4 1271.1L1368.4 1270.2L1371.4 1269.2L1374.4 1268.2L1374.5 1268.2L1377.4 1267.0L1380.4 1265.8L1382.0 1265.2L1383.4 1264.5L1386.4 1263.1L1388.2 1262.2L1389.4 1261.5L1392.4 1259.6L1393.0 1259.2L1395.4 1257.0L1396.4 1256.2L1398.4 1253.2L1398.4 1253.0L1399.3 1250.2L1399.2 1247.2L1398.4 1244.9L1398.2 1244.2L1396.6 1241.2L1395.4 1239.7L1394.3 1238.2L1392.4 1236.1L1391.6 1235.2L1389.4 1233.2L1388.5 1232.2L1386.4 1230.6L1384.7 1229.2L1383.4 1228.4L1380.4 1226.3L1380.3 1226.2L1377.4 1224.5L1375.4 1223.2L1374.4 1222.7L1371.4 1220.9L1370.4 1220.2L1368.4 1219.1L1365.4 1217.3L1365.4 1217.2L1362.4 1215.5L1360.3 1214.3L1359.4 1213.8L1356.4 1212.1L1354.8 1211.3L1353.4 1210.5L1350.4 1209.0L1348.9 1208.3L1347.4 1207.6L1344.4 1206.2L1342.3 1205.3L1341.4 1204.9L1338.4 1203.8L1335.4 1202.7L1334.1 1202.3L1332.4 1201.7L1329.3 1200.9L1326.3 1200.0L1323.9 1199.3L1323.3 1199.1L1320.3 1198.3L1317.3 1197.5L1314.3 1196.7L1312.3 1196.3L1311.3 1196.1L1308.3 1195.5L1305.3 1195.0L1302.3 1194.5L1299.3 1194.1L1296.3 1193.8L1293.3 1193.4L1292.9 1193.3L1290.3 1192.9L1287.3 1192.4L1284.3 1192.0L1281.3 1191.6L1278.3 1191.3L1275.3 1191.0L1272.3 1190.7L1269.3 1190.5L1267.5 1190.3L1266.3 1190.2L1263.3 1189.9L1260.3 1189.7L1257.3 1189.5L1254.3 1189.4L1251.3 1189.4L1248.2 1189.3L1245.2 1189.3L1242.2 1189.4L1239.2 1189.5L1236.2 1189.7L1233.2 1189.9L1230.2 1190.1L1227.8 1190.3L1227.2 1190.3L1224.2 1190.6L1221.2 1190.9L1218.2 1191.2L1215.2 1191.6L1212.2 1192.1L1209.2 1192.5L1206.2 1193.0L1204.0 1193.3L1203.2 1193.4L1200.2 1193.8L1197.2 1194.1L1194.2 1194.6L1191.2 1195.0L1188.2 1195.6L1185.2 1196.2L1184.5 1196.3L1182.2 1196.7L1179.2 1197.3L1176.2 1198.0L1173.2 1198.7L1170.3 1199.3L1170.2 1199.3L1167.2 1199.9L1164.1 1200.4L1161.1 1201.0L1158.1 1201.6L1155.2 1202.3L1155.1 1202.3L1152.1 1203.1L1149.1 1204.0L1146.1 1204.9L1145.0 1205.3L1143.1 1205.9L1140.1 1206.7L1137.1 1207.6L1134.9 1208.3L1134.1 1208.5L1131.1 1209.4L1128.1 1210.4L1125.7 1211.3L1125.1 1211.5L1122.1 1212.6L1119.1 1213.7L1117.6 1214.3L1116.1 1214.8L1113.1 1216.0L1110.1 1217.1L1109.7 1217.3L1107.1 1218.3L1104.1 1219.5L1102.2 1220.2L1101.1 1220.7L1098.1 1222.0L1095.4 1223.2L1095.1 1223.4L1092.1 1224.9L1089.2 1226.2L1089.1 1226.3L1086.1 1227.8L1083.1 1229.2L1083.0 1229.2L1080.0 1230.9L1077.5 1232.2L1077.0 1232.5L1074.0 1234.2L1072.2 1235.2L1071.0 1235.9L1068.0 1237.6L1066.8 1238.2L1065.0 1239.2L1062.0 1240.8L1061.3 1241.2L1059.0 1242.5L1056.0 1244.0L1055.7 1244.2L1053.0 1245.6L1050.0 1247.1L1049.6 1247.2L1047.0 1248.4L1044.0 1249.3L1044.0 1247.2L1044.0 1244.2L1044.0 1241.2L1044.0 1238.2L1044.0 1235.2L1044.0 1234.4L1047.0 1233.5L1050.0 1232.5L1050.7 1232.2L1053.0 1231.3L1056.0 1230.0L1057.6 1229.2L1059.0 1228.6L1062.0 1227.1L1063.8 1226.2L1065.0 1225.6L1068.0 1224.1L1069.9 1223.2L1071.0 1222.7L1074.0 1221.4L1076.7 1220.2L1077.0 1220.1L1080.0 1218.8L1083.0 1217.5L1083.6 1217.3L1086.1 1216.1L1089.1 1214.8L1090.3 1214.3L1092.1 1213.5L1095.1 1212.4L1098.1 1211.3L1098.1 1211.3L1101.1 1210.2L1104.1 1209.1L1106.5 1208.3L1107.1 1208.1L1110.1 1207.0L1113.1 1206.0L1115.3 1205.3L1116.1 1205.0L1119.1 1204.1L1122.1 1203.1L1124.7 1202.3L1125.1 1202.2L1128.1 1201.2L1131.1 1200.3L1134.1 1199.4L1134.4 1199.3L1137.1 1198.5L1140.1 1197.7L1143.1 1196.8L1145.0 1196.3L1146.1 1196.0L1149.1 1195.1L1152.1 1194.3L1155.1 1193.6L1156.4 1193.3L1158.1 1192.9L1161.1 1192.3L1164.1 1191.6L1167.2 1191.0L1170.2 1190.4L1170.8 1190.3L1173.2 1189.8L1176.2 1189.3L1179.2 1188.8L1182.2 1188.2L1185.2 1187.7L1187.4 1187.3L1188.2 1187.2L1191.2 1186.7L1194.2 1186.2L1197.2 1185.8L1200.2 1185.4L1203.2 1185.0L1206.2 1184.6L1208.3 1184.3L1209.2 1184.2L1212.2 1183.8L1215.2 1183.5L1218.2 1183.1L1221.2 1182.8L1224.2 1182.5L1227.2 1182.2L1230.2 1181.9L1233.2 1181.7L1236.2 1181.5L1239.2 1181.4L1242.0 1181.3ZM1779.9 1298.0L1782.9 1297.6L1785.9 1297.2L1788.9 1297.0L1791.9 1296.9L1794.9 1296.9L1797.9 1296.9L1800.9 1297.0L1803.9 1297.2L1806.9 1297.4L1809.9 1297.6L1812.9 1297.9L1815.5 1298.1L1815.9 1298.2L1818.9 1298.4L1821.9 1298.6L1825.0 1298.7L1828.0 1298.6L1831.0 1298.3L1832.0 1298.1L1834.0 1297.8L1837.0 1297.4L1840.0 1296.9L1843.0 1296.5L1846.0 1296.3L1849.0 1296.2L1852.0 1296.2L1855.0 1296.4L1858.0 1296.6L1861.0 1296.8L1864.0 1297.0L1864.0 1298.1L1864.0 1301.1L1864.0 1304.1L1864.0 1307.1L1864.0 1310.1L1864.0 1313.1L1864.0 1316.1L1864.0 1319.1L1864.0 1322.1L1864.0 1325.1L1864.0 1328.1L1864.0 1331.1L1864.0 1334.1L1864.0 1337.1L1864.0 1338.7L1861.0 1337.8L1859.1 1337.1L1858.0 1336.6L1855.0 1335.4L1852.0 1334.2L1851.7 1334.1L1849.0 1333.1L1846.0 1332.3L1843.0 1331.7L1840.0 1331.2L1838.4 1331.1L1837.0 1330.9L1834.0 1330.8L1831.0 1330.8L1828.0 1330.8L1825.0 1330.9L1822.5 1331.1L1821.9 1331.1L1818.9 1331.3L1815.9 1331.6L1812.9 1331.8L1809.9 1332.0L1806.9 1332.2L1803.9 1332.3L1800.9 1332.4L1797.9 1332.4L1794.9 1332.4L1791.9 1332.4L1788.9 1332.2L1785.9 1331.9L1782.9 1331.6L1780.0 1331.1L1779.9 1331.0L1776.9 1330.4L1773.9 1329.6L1770.9 1328.6L1769.3 1328.1L1767.9 1327.5L1764.9 1326.1L1763.0 1325.1L1761.9 1324.4L1758.9 1322.2L1758.7 1322.1L1756.0 1319.1L1755.9 1318.7L1754.7 1316.1L1754.7 1313.1L1755.9 1310.4L1756.0 1310.1L1758.8 1307.1L1758.9 1307.0L1761.9 1304.9L1763.1 1304.1L1764.9 1303.2L1767.9 1301.8L1769.3 1301.1L1770.9 1300.6L1773.9 1299.6L1776.9 1298.7L1779.5 1298.1Z" fill="#f9e4e0" stroke="#f9e4e0" stroke-width="0.6" fill-rule="evenodd"/>
<path d="M1104.1 762.0L1107.1 762.0L1110.1 762.0L1113.1 762.0L1116.1 762.0L1119.1 762.0L1122.1 762.0L1125.1 762.0L1128.1 762.0L1131.1 762.0L1134.1 762.0L1137.1 762.0L1140.1 762.0L1143.1 762.0L1146.1 762.0L1149.1 762.0L1152.1 762.0L1155.1 762.0L1158.1 762.0L1161.1 762.0L1164.1 762.0L1167.2 762.0L1170.2 762.0L1173.2 762.0L1176.2 762.0L1179.2 762.0L1179.2 762.0L1179.2 765.0L1179.2 766.5L1179.1 768.0L1178.9 771.0L1178.7 774.0L1178.5 777.0L1178.2 780.0L1178.0 783.0L1177.9 786.0L1177.9 789.0L1178.0 792.0L1178.3 794.9L1178.5 797.9L1178.9 800.9L1179.2 803.3L1179.3 803.9L1179.7 806.9L1180.2 809.9L1180.8 812.9L1181.3 815.9L1181.8 818.9L1182.2 821.0L1182.3 821.9L1182.7 824.9L1183.2 827.9L1183.7 830.9L1184.8 833.9L1185.2 834.5L1187.4 836.9L1188.2 837.4L1191.2 838.6L1194.2 839.3L1197.2 839.5L1200.2 839.6L1203.2 839.3L1206.2 839.0L1209.2 838.5L1212.2 838.2L1215.2 838.0L1218.2 838.1L1221.2 838.5L1224.2 839.1L1226.7 839.9L1227.2 840.0L1230.2 841.0L1233.2 842.0L1235.8 842.9L1236.2 843.0L1239.2 843.9L1242.2 844.6L1245.2 845.3L1247.6 845.9L1248.2 846.0L1251.3 846.6L1254.3 847.3L1257.3 848.0L1260.3 848.8L1260.6 848.9L1263.3 849.7L1266.3 850.7L1269.3 851.8L1269.3 851.9L1272.3 853.1L1275.3 854.5L1275.9 854.8L1278.3 856.1L1281.3 857.7L1281.5 857.8L1284.3 859.5L1286.4 860.8L1287.3 861.4L1290.3 863.5L1290.8 863.8L1293.3 865.6L1294.9 866.8L1296.3 867.8L1299.1 869.8L1299.3 870.0L1302.3 872.1L1303.4 872.8L1305.3 874.1L1307.8 875.8L1308.3 876.1L1311.3 878.1L1312.3 878.8L1314.3 880.2L1316.7 881.8L1317.3 882.2L1320.3 884.4L1320.8 884.8L1323.3 886.8L1324.6 887.8L1326.3 889.2L1328.2 890.8L1329.3 891.7L1331.9 893.8L1332.4 894.1L1335.4 896.5L1335.7 896.8L1338.4 898.9L1339.5 899.8L1341.4 901.2L1343.4 902.8L1344.4 903.5L1347.1 905.8L1347.4 906.0L1350.4 908.5L1350.6 908.8L1353.4 911.3L1353.9 911.8L1356.4 914.2L1357.0 914.7L1359.4 917.2L1360.0 917.7L1362.4 920.3L1362.9 920.7L1365.4 923.5L1365.6 923.7L1368.2 926.7L1368.4 927.0L1370.6 929.7L1371.4 930.7L1372.9 932.7L1374.4 934.8L1375.1 935.7L1377.0 938.7L1377.4 939.3L1378.8 941.7L1380.3 944.7L1380.4 945.1L1381.5 947.7L1382.5 950.7L1383.2 953.7L1383.4 955.0L1383.6 956.7L1383.7 959.7L1383.4 962.2L1383.4 962.7L1382.5 965.7L1380.9 968.7L1380.4 969.4L1378.6 971.7L1377.4 972.7L1375.1 974.7L1374.4 975.2L1371.4 977.0L1370.3 977.6L1368.4 978.5L1365.4 979.9L1363.4 980.6L1362.4 981.0L1359.4 981.9L1356.4 982.8L1353.4 983.6L1353.2 983.6L1350.4 984.3L1347.4 985.0L1344.4 985.6L1341.4 986.3L1339.6 986.6L1338.4 986.8L1335.4 987.3L1332.4 987.7L1329.3 988.0L1326.3 988.1L1323.3 988.0L1320.3 987.5L1317.3 986.8L1316.8 986.6L1314.3 985.6L1311.3 984.2L1310.0 983.6L1308.3 982.8L1305.3 981.5L1302.3 980.8L1300.6 980.6L1299.3 980.5L1296.3 980.6L1295.9 980.6L1293.3 980.9L1290.3 981.2L1287.3 981.4L1284.3 981.6L1281.3 981.6L1278.3 981.6L1275.3 981.5L1272.3 981.4L1269.3 981.2L1266.3 981.0L1263.3 980.9L1260.3 980.7L1260.0 980.6L1257.3 980.4L1254.3 980.3L1251.3 980.2L1248.2 980.3L1245.6 980.6L1245.2 980.7L1242.2 981.3L1239.2 982.0L1236.2 982.2L1233.2 981.5L1231.9 980.6L1230.2 979.5L1228.5 977.6L1227.2 976.4L1225.7 974.7L1224.2 973.2L1222.8 971.7L1221.2 970.1L1219.7 968.7L1218.2 967.4L1216.1 965.7L1215.2 965.0L1212.2 962.7L1212.1 962.7L1209.2 960.6L1207.9 959.7L1206.2 958.5L1203.5 956.7L1203.2 956.5L1200.2 954.3L1199.2 953.7L1197.2 952.2L1195.2 950.7L1194.2 949.9L1191.4 947.7L1191.2 947.5L1188.2 944.9L1187.9 944.7L1185.2 942.0L1184.9 941.7L1182.2 938.7L1182.1 938.7L1179.7 935.7L1179.2 935.0L1177.4 932.7L1176.2 930.8L1175.4 929.7L1173.5 926.7L1173.2 926.2L1171.7 923.7L1170.2 920.7L1170.2 920.7L1168.7 917.7L1167.5 914.8L1167.2 913.7L1166.4 911.8L1165.3 908.8L1164.3 905.8L1164.1 905.2L1163.3 902.8L1162.2 899.8L1161.1 896.9L1161.1 896.8L1159.9 893.8L1158.7 890.8L1158.1 889.3L1157.4 887.8L1156.1 884.8L1155.1 882.6L1154.6 881.8L1152.8 878.8L1152.1 877.5L1149.2 875.8L1149.1 875.8L1149.0 875.8L1146.1 876.3L1143.1 877.6L1141.1 878.8L1140.1 879.2L1137.1 880.9L1135.9 881.8L1134.1 882.9L1132.0 884.8L1131.1 885.7L1129.7 887.8L1128.1 890.8L1128.1 890.9L1127.3 893.8L1126.6 896.8L1126.0 899.8L1125.4 902.8L1125.1 904.0L1124.8 905.8L1124.3 908.8L1123.7 911.8L1122.9 914.8L1122.1 917.0L1121.9 917.7L1120.5 920.7L1119.1 923.1L1118.7 923.7L1116.6 926.7L1116.1 927.2L1114.0 929.7L1113.1 930.7L1111.2 932.7L1110.1 933.9L1108.4 935.7L1107.1 937.0L1105.4 938.7L1104.1 939.9L1102.1 941.7L1101.1 942.6L1098.3 944.7L1098.1 944.9L1095.1 947.0L1094.1 947.7L1092.1 949.0L1089.8 950.7L1089.1 951.2L1086.1 953.6L1086.0 953.7L1083.0 956.4L1082.8 956.7L1080.2 959.7L1080.0 959.9L1078.0 962.7L1077.0 963.9L1075.7 965.7L1074.0 967.6L1073.1 968.7L1071.0 970.6L1069.9 971.7L1068.0 973.2L1066.3 974.7L1065.0 975.7L1062.7 977.6L1062.0 978.3L1059.5 980.6L1059.0 981.1L1056.2 983.6L1056.0 983.8L1053.0 986.4L1052.6 986.6L1050.0 988.5L1048.2 989.6L1047.0 990.3L1044.0 991.7L1044.0 989.6L1044.0 986.6L1044.0 983.6L1044.0 980.6L1044.0 978.8L1046.4 977.6L1047.0 977.4L1050.0 975.4L1051.0 974.7L1053.0 973.1L1054.7 971.7L1056.0 970.5L1058.0 968.7L1059.0 967.7L1060.9 965.7L1062.0 964.2L1063.1 962.7L1064.9 959.7L1065.0 959.4L1066.3 956.7L1067.4 953.7L1068.0 952.0L1068.6 950.7L1069.7 947.7L1070.8 944.7L1071.0 944.1L1072.0 941.7L1073.2 938.7L1074.0 936.2L1074.2 935.7L1075.2 932.7L1076.0 929.7L1076.8 926.7L1077.0 925.6L1077.5 923.7L1078.1 920.7L1078.7 917.7L1079.3 914.7L1079.8 911.8L1080.0 909.4L1080.1 908.8L1080.4 905.8L1080.6 902.8L1080.7 899.8L1080.7 896.8L1080.7 893.8L1080.5 890.8L1080.3 887.8L1080.0 885.1L1080.0 884.8L1079.6 881.8L1079.2 878.8L1078.7 875.8L1078.2 872.8L1077.8 869.8L1077.4 866.8L1077.0 864.1L1077.0 863.8L1076.8 860.8L1076.6 857.8L1076.5 854.8L1076.6 851.9L1076.8 848.9L1077.0 845.9L1077.0 845.9L1077.4 842.9L1077.9 839.9L1078.5 836.9L1079.2 833.9L1079.9 830.9L1080.0 830.4L1080.8 827.9L1081.7 824.9L1082.8 821.9L1083.0 821.2L1083.9 818.9L1085.2 815.9L1086.1 814.1L1086.6 812.9L1088.0 809.9L1089.1 807.9L1089.6 806.9L1091.1 803.9L1092.1 802.2L1092.7 800.9L1094.2 797.9L1095.1 796.3L1095.7 794.9L1097.0 792.0L1098.1 789.2L1098.2 789.0L1099.1 786.0L1100.0 783.0L1100.7 780.0L1101.1 778.1L1101.3 777.0L1101.8 774.0L1102.2 771.0L1102.6 768.0L1102.9 765.0L1103.1 762.0ZM1230.2 1190.1L1233.2 1189.9L1236.2 1189.7L1239.2 1189.5L1242.2 1189.4L1245.2 1189.3L1248.2 1189.3L1251.3 1189.4L1254.3 1189.4L1257.3 1189.5L1260.3 1189.7L1263.3 1189.9L1266.3 1190.2L1267.5 1190.3L1269.3 1190.5L1272.3 1190.7L1275.3 1191.0L1278.3 1191.3L1281.3 1191.6L1284.3 1192.0L1287.3 1192.4L1290.3 1192.9L1292.9 1193.3L1293.3 1193.4L1296.3 1193.8L1299.3 1194.1L1302.3 1194.5L1305.3 1195.0L1308.3 1195.5L1311.3 1196.1L1312.3 1196.3L1314.3 1196.7L1317.3 1197.5L1320.3 1198.3L1323.3 1199.1L1323.9 1199.3L1326.3 1200.0L1329.3 1200.9L1332.4 1201.7L1334.1 1202.3L1335.4 1202.7L1338.4 1203.8L1341.4 1204.9L1342.3 1205.3L1344.4 1206.2L1347.4 1207.6L1348.9 1208.3L1350.4 1209.0L1353.4 1210.5L1354.8 1211.3L1356.4 1212.1L1359.4 1213.8L1360.3 1214.3L1362.4 1215.5L1365.4 1217.2L1365.4 1217.3L1368.4 1219.1L1370.4 1220.2L1371.4 1220.9L1374.4 1222.7L1375.4 1223.2L1377.4 1224.5L1380.3 1226.2L1380.4 1226.3L1383.4 1228.4L1384.7 1229.2L1386.4 1230.6L1388.5 1232.2L1389.4 1233.2L1391.6 1235.2L1392.4 1236.1L1394.3 1238.2L1395.4 1239.7L1396.6 1241.2L1398.2 1244.2L1398.4 1244.9L1399.2 1247.2L1399.3 1250.2L1398.4 1253.0L1398.4 1253.2L1396.4 1256.2L1395.4 1257.0L1393.0 1259.2L1392.4 1259.6L1389.4 1261.5L1388.2 1262.2L1386.4 1263.1L1383.4 1264.5L1382.0 1265.2L1380.4 1265.8L1377.4 1267.0L1374.5 1268.2L1374.4 1268.2L1371.4 1269.2L1368.4 1270.2L1365.4 1271.1L1365.3 1271.2L1362.4 1272.0L1359.4 1272.8L1356.4 1273.7L1354.6 1274.2L1353.4 1274.5L1350.4 1275.4L1347.4 1276.3L1344.4 1277.2L1344.4 1277.2L1341.4 1278.1L1338.4 1278.9L1335.4 1279.6L1332.7 1280.2L1332.4 1280.2L1329.3 1280.8L1326.3 1281.3L1323.3 1281.7L1320.3 1282.2L1317.3 1282.6L1314.3 1283.1L1314.2 1283.1L1311.3 1283.7L1308.3 1284.3L1305.3 1285.0L1302.3 1285.6L1299.8 1286.1L1299.3 1286.3L1296.3 1286.9L1293.3 1287.5L1290.3 1288.1L1287.3 1288.6L1284.3 1289.0L1283.3 1289.1L1281.3 1289.4L1278.3 1289.8L1275.3 1290.1L1272.3 1290.4L1269.3 1290.7L1266.3 1291.0L1263.3 1291.2L1260.3 1291.4L1257.3 1291.6L1254.3 1291.7L1251.3 1291.8L1248.2 1291.9L1245.2 1291.9L1242.2 1291.9L1239.2 1291.9L1236.2 1291.9L1233.2 1291.9L1230.2 1291.9L1227.2 1292.0L1224.2 1292.0L1221.2 1292.1L1218.2 1292.1L1217.5 1292.1L1215.2 1292.2L1212.2 1292.2L1209.2 1292.3L1206.2 1292.3L1203.2 1292.3L1200.2 1292.3L1197.2 1292.3L1194.2 1292.3L1191.2 1292.3L1188.2 1292.2L1185.2 1292.2L1182.2 1292.2L1179.2 1292.2L1176.2 1292.2L1173.2 1292.2L1170.2 1292.2L1167.2 1292.2L1164.1 1292.2L1161.1 1292.2L1158.1 1292.2L1155.1 1292.3L1152.1 1292.3L1149.1 1292.4L1146.1 1292.4L1143.1 1292.4L1140.1 1292.5L1137.1 1292.6L1134.1 1292.6L1131.1 1292.7L1128.1 1292.7L1125.1 1292.7L1122.1 1292.7L1119.1 1292.7L1116.1 1292.6L1113.1 1292.5L1110.1 1292.5L1107.1 1292.6L1104.1 1292.7L1101.1 1292.9L1098.1 1293.2L1095.1 1293.6L1092.1 1294.0L1089.1 1294.5L1086.1 1295.0L1084.8 1295.1L1083.0 1295.3L1080.0 1295.6L1077.0 1295.8L1074.0 1296.0L1071.0 1296.2L1068.0 1296.3L1065.0 1296.4L1062.0 1296.6L1059.0 1296.8L1056.0 1297.0L1053.0 1297.1L1050.0 1297.3L1047.0 1297.4L1044.0 1297.5L1044.0 1295.1L1044.0 1292.1L1044.0 1289.1L1044.0 1286.1L1044.0 1283.1L1044.0 1280.2L1044.0 1277.2L1044.0 1274.2L1044.0 1271.2L1044.0 1268.2L1044.0 1265.2L1044.0 1262.2L1044.0 1259.2L1044.0 1256.2L1044.0 1253.2L1044.0 1250.2L1044.0 1249.3L1047.0 1248.4L1049.6 1247.2L1050.0 1247.1L1053.0 1245.6L1055.7 1244.2L1056.0 1244.0L1059.0 1242.5L1061.3 1241.2L1062.0 1240.8L1065.0 1239.2L1066.8 1238.2L1068.0 1237.6L1071.0 1235.9L1072.2 1235.2L1074.0 1234.2L1077.0 1232.5L1077.5 1232.2L1080.0 1230.9L1083.0 1229.2L1083.1 1229.2L1086.1 1227.8L1089.1 1226.3L1089.2 1226.2L1092.1 1224.9L1095.1 1223.4L1095.4 1223.2L1098.1 1222.0L1101.1 1220.7L1102.2 1220.2L1104.1 1219.5L1107.1 1218.3L1109.7 1217.3L1110.1 1217.1L1113.1 1216.0L1116.1 1214.8L1117.6 1214.3L1119.1 1213.7L1122.1 1212.6L1125.1 1211.5L1125.7 1211.3L1128.1 1210.4L1131.1 1209.4L1134.1 1208.5L1134.9 1208.3L1137.1 1207.6L1140.1 1206.7L1143.1 1205.9L1145.0 1205.3L1146.1 1204.9L1149.1 1204.0L1152.1 1203.1L1155.1 1202.3L1155.2 1202.3L1158.1 1201.6L1161.1 1201.0L1164.1 1200.4L1167.2 1199.9L1170.2 1199.3L1170.3 1199.3L1173.2 1198.7L1176.2 1198.0L1179.2 1197.3L1182.2 1196.7L1184.5 1196.3L1185.2 1196.2L1188.2 1195.6L1191.2 1195.0L1194.2 1194.6L1197.2 1194.1L1200.2 1193.8L1203.2 1193.4L1204.0 1193.3L1206.2 1193.0L1209.2 1192.5L1212.2 1192.1L1215.2 1191.6L1218.2 1191.2L1221.2 1190.9L1224.2 1190.6L1227.2 1190.3L1227.8 1190.3ZM1210.4 1199.3L1209.2 1199.5L1206.2 1199.8L1203.2 1200.2L1200.2 1200.5L1197.2 1200.8L1194.2 1201.2L1191.2 1201.7L1188.2 1202.2L1187.9 1202.3L1185.2 1202.9L1182.2 1203.6L1179.2 1204.4L1176.2 1205.2L1175.7 1205.3L1173.2 1205.9L1170.2 1206.5L1167.2 1207.1L1164.1 1207.6L1161.1 1208.3L1161.1 1208.3L1158.1 1209.0L1155.1 1209.8L1152.1 1210.8L1150.9 1211.3L1149.1 1211.9L1146.1 1213.0L1143.1 1214.0L1142.2 1214.3L1140.1 1214.9L1137.1 1215.9L1134.1 1217.0L1133.3 1217.3L1131.1 1218.1L1128.1 1219.4L1126.2 1220.2L1125.1 1220.8L1122.1 1222.2L1120.0 1223.2L1119.1 1223.7L1116.1 1225.2L1113.9 1226.2L1113.1 1226.7L1110.1 1228.4L1108.5 1229.2L1107.1 1230.1L1104.1 1232.1L1103.8 1232.2L1101.1 1234.3L1099.8 1235.2L1098.1 1236.7L1096.3 1238.2L1095.1 1239.5L1093.3 1241.2L1092.1 1242.9L1090.9 1244.2L1089.1 1247.1L1089.0 1247.2L1087.6 1250.2L1086.8 1253.2L1086.9 1256.2L1088.1 1259.2L1089.1 1260.2L1091.0 1262.2L1092.1 1262.9L1095.1 1264.8L1095.7 1265.2L1098.1 1266.4L1101.1 1267.8L1101.9 1268.2L1104.1 1269.0L1107.1 1270.2L1109.9 1271.2L1110.1 1271.2L1113.1 1272.2L1116.1 1273.1L1119.1 1273.9L1119.9 1274.2L1122.1 1274.7L1125.1 1275.4L1128.1 1276.0L1131.1 1276.5L1134.1 1277.0L1135.1 1277.2L1137.1 1277.5L1140.1 1277.9L1143.1 1278.2L1146.1 1278.6L1149.1 1278.8L1152.1 1279.0L1155.1 1279.2L1158.1 1279.4L1161.1 1279.5L1164.1 1279.6L1167.2 1279.7L1170.2 1279.8L1173.2 1279.9L1176.2 1280.0L1179.2 1280.1L1182.2 1280.1L1185.2 1280.1L1187.9 1280.2L1188.2 1280.2L1191.2 1280.2L1194.2 1280.2L1197.2 1280.2L1198.1 1280.2L1200.2 1280.1L1203.2 1280.1L1206.2 1280.1L1209.2 1280.1L1212.2 1280.0L1215.2 1280.0L1218.2 1280.0L1221.2 1279.9L1224.2 1279.8L1227.2 1279.7L1230.2 1279.6L1233.2 1279.4L1236.2 1279.3L1239.2 1279.2L1242.2 1279.0L1245.2 1278.9L1248.2 1278.7L1251.3 1278.6L1254.3 1278.5L1257.3 1278.4L1260.3 1278.2L1263.3 1278.1L1266.3 1277.9L1269.3 1277.6L1272.3 1277.4L1273.9 1277.2L1275.3 1277.0L1278.3 1276.6L1281.3 1276.2L1284.3 1275.7L1287.3 1275.1L1290.3 1274.6L1292.6 1274.2L1293.3 1274.0L1296.3 1273.5L1299.3 1273.0L1302.3 1272.5L1305.3 1272.1L1308.3 1271.7L1311.3 1271.3L1312.9 1271.2L1314.3 1271.0L1317.3 1270.7L1320.3 1270.3L1323.3 1270.0L1326.3 1269.6L1329.3 1269.1L1332.4 1268.6L1334.2 1268.2L1335.4 1267.9L1338.4 1267.1L1341.4 1266.2L1344.2 1265.2L1344.4 1265.1L1347.4 1263.9L1350.4 1262.5L1351.1 1262.2L1353.4 1260.8L1356.1 1259.2L1356.4 1259.0L1359.4 1256.5L1359.8 1256.2L1362.4 1253.2L1362.4 1253.1L1364.0 1250.2L1364.8 1247.2L1364.8 1244.2L1364.2 1241.2L1363.0 1238.2L1362.4 1237.3L1361.2 1235.2L1359.4 1233.0L1358.8 1232.2L1356.4 1229.6L1356.0 1229.2L1353.4 1226.8L1352.8 1226.2L1350.4 1224.2L1349.3 1223.2L1347.4 1221.7L1345.5 1220.2L1344.4 1219.5L1341.4 1217.3L1341.3 1217.3L1338.4 1215.3L1336.8 1214.3L1335.4 1213.4L1332.4 1211.7L1331.6 1211.3L1329.3 1210.2L1326.3 1208.8L1325.1 1208.3L1323.3 1207.6L1320.3 1206.5L1317.3 1205.4L1316.9 1205.3L1314.3 1204.5L1311.3 1203.7L1308.3 1202.9L1305.3 1202.3L1305.1 1202.3L1302.3 1201.8L1299.3 1201.3L1296.3 1200.9L1293.3 1200.5L1290.3 1200.0L1287.3 1199.6L1285.5 1199.3L1284.3 1199.1L1281.3 1198.7L1278.3 1198.3L1275.3 1197.9L1272.3 1197.7L1269.3 1197.4L1266.3 1197.2L1263.3 1197.0L1260.3 1196.8L1257.3 1196.7L1254.3 1196.6L1251.3 1196.5L1248.2 1196.5L1245.2 1196.5L1242.2 1196.5L1239.2 1196.6L1236.2 1196.7L1233.2 1196.8L1230.2 1197.0L1227.2 1197.2L1224.2 1197.4L1221.2 1197.7L1218.2 1198.1L1215.2 1198.5L1212.2 1199.0Z" fill="#f5c8c7" stroke="#f5c8c7" stroke-width="0.6" fill-rule="evenodd"/>
<path d="M1047.0 762.0L1050.0 762.0L1053.0 762.0L1056.0 762.0L1059.0 762.0L1062.0 762.0L1065.0 762.0L1068.0 762.0L1071.0 762.0L1074.0 762.0L1077.0 762.0L1080.0 762.0L1083.0 762.0L1086.1 762.0L1089.1 762.0L1092.1 762.0L1095.1 762.0L1098.1 762.0L1101.1 762.0L1103.1 762.0L1102.9 765.0L1102.6 768.0L1102.2 771.0L1101.8 774.0L1101.3 777.0L1101.1 778.1L1100.7 780.0L1100.0 783.0L1099.1 786.0L1098.2 789.0L1098.1 789.2L1097.0 792.0L1095.7 794.9L1095.1 796.3L1094.2 797.9L1092.7 800.9L1092.1 802.2L1091.1 803.9L1089.6 806.9L1089.1 807.9L1088.0 809.9L1086.6 812.9L1086.1 814.1L1085.2 815.9L1083.9 818.9L1083.0 821.2L1082.8 821.9L1081.7 824.9L1080.8 827.9L1080.0 830.4L1079.9 830.9L1079.2 833.9L1078.5 836.9L1077.9 839.9L1077.4 842.9L1077.0 845.9L1077.0 845.9L1076.8 848.9L1076.6 851.9L1076.5 854.8L1076.6 857.8L1076.8 860.8L1077.0 863.8L1077.0 864.1L1077.4 866.8L1077.8 869.8L1078.2 872.8L1078.7 875.8L1079.2 878.8L1079.6 881.8L1080.0 884.8L1080.0 885.1L1080.3 887.8L1080.5 890.8L1080.7 893.8L1080.7 896.8L1080.7 899.8L1080.6 902.8L1080.4 905.8L1080.1 908.8L1080.0 909.4L1079.8 911.8L1079.3 914.8L1078.7 917.7L1078.1 920.7L1077.5 923.7L1077.0 925.6L1076.8 926.7L1076.0 929.7L1075.2 932.7L1074.2 935.7L1074.0 936.2L1073.2 938.7L1072.0 941.7L1071.0 944.1L1070.8 944.7L1069.7 947.7L1068.6 950.7L1068.0 952.0L1067.4 953.7L1066.3 956.7L1065.0 959.4L1064.9 959.7L1063.1 962.7L1062.0 964.2L1060.9 965.7L1059.0 967.7L1058.0 968.7L1056.0 970.5L1054.7 971.7L1053.0 973.1L1051.0 974.7L1050.0 975.4L1047.0 977.4L1046.4 977.6L1044.0 978.8L1044.0 977.6L1044.0 974.7L1044.0 971.7L1044.0 968.7L1044.0 965.7L1044.0 962.7L1044.0 961.4L1046.2 959.7L1047.0 958.9L1048.5 956.7L1049.8 953.7L1050.0 952.7L1050.4 950.7L1050.6 947.7L1050.6 944.7L1050.5 941.7L1050.4 938.7L1050.5 935.7L1050.7 932.7L1050.9 929.7L1051.2 926.7L1051.5 923.7L1051.9 920.7L1052.4 917.7L1052.9 914.8L1053.0 914.4L1053.6 911.8L1054.5 908.8L1055.4 905.8L1055.9 902.8L1056.0 901.3L1056.1 899.8L1056.0 899.2L1055.7 896.8L1054.8 893.8L1053.4 890.8L1053.0 890.1L1051.6 887.8L1050.0 885.1L1049.8 884.8L1048.1 881.8L1047.0 879.5L1046.6 878.8L1045.2 875.8L1044.0 872.8L1044.0 872.7L1044.0 869.8L1044.0 866.8L1044.0 863.8L1044.0 860.8L1044.0 857.8L1044.0 854.8L1044.0 851.9L1044.0 848.9L1044.0 845.9L1044.0 842.9L1044.0 839.9L1044.0 836.9L1044.0 833.9L1044.0 830.9L1044.0 827.9L1044.0 824.9L1044.0 821.9L1044.0 818.9L1044.0 815.9L1044.0 812.9L1044.0 809.9L1044.0 806.9L1044.0 803.9L1044.0 800.9L1044.0 797.9L1044.0 794.9L1044.0 792.0L1044.0 789.0L1044.0 786.0L1044.0 783.0L1044.0 780.0L1044.0 777.0L1044.0 774.0L1044.0 771.0L1044.0 768.0L1044.0 765.0L1044.0 762.0ZM1212.2 1199.0L1215.2 1198.5L1218.2 1198.1L1221.2 1197.7L1224.2 1197.4L1227.2 1197.2L1230.2 1197.0L1233.2 1196.8L1236.2 1196.7L1239.2 1196.6L1242.2 1196.5L1245.2 1196.5L1248.2 1196.5L1251.3 1196.5L1254.3 1196.6L1257.3 1196.7L1260.3 1196.8L1263.3 1197.0L1266.3 1197.2L1269.3 1197.4L1272.3 1197.7L1275.3 1197.9L1278.3 1198.3L1281.3 1198.7L1284.3 1199.1L1285.5 1199.3L1287.3 1199.6L1290.3 1200.0L1293.3 1200.5L1296.3 1200.9L1299.3 1201.3L1302.3 1201.8L1305.1 1202.3L1305.3 1202.3L1308.3 1202.9L1311.3 1203.7L1314.3 1204.5L1316.9 1205.3L1317.3 1205.4L1320.3 1206.5L1323.3 1207.6L1325.1 1208.3L1326.3 1208.8L1329.3 1210.2L1331.6 1211.3L1332.4 1211.7L1335.4 1213.4L1336.8 1214.3L1338.4 1215.3L1341.3 1217.3L1341.4 1217.3L1344.4 1219.5L1345.5 1220.2L1347.4 1221.7L1349.3 1223.2L1350.4 1224.2L1352.8 1226.2L1353.4 1226.8L1356.0 1229.2L1356.4 1229.6L1358.8 1232.2L1359.4 1233.0L1361.2 1235.2L1362.4 1237.3L1363.0 1238.2L1364.2 1241.2L1364.8 1244.2L1364.8 1247.2L1364.0 1250.2L1362.4 1253.1L1362.4 1253.2L1359.8 1256.2L1359.4 1256.5L1356.4 1259.0L1356.1 1259.2L1353.4 1260.8L1351.1 1262.2L1350.4 1262.5L1347.4 1263.9L1344.4 1265.1L1344.2 1265.2L1341.4 1266.2L1338.4 1267.1L1335.4 1267.9L1334.2 1268.2L1332.4 1268.6L1329.3 1269.1L1326.3 1269.6L1323.3 1270.0L1320.3 1270.3L1317.3 1270.7L1314.3 1271.0L1312.9 1271.2L1311.3 1271.3L1308.3 1271.7L1305.3 1272.1L1302.3 1272.5L1299.3 1273.0L1296.3 1273.5L1293.3 1274.0L1292.6 1274.2L1290.3 1274.6L1287.3 1275.1L1284.3 1275.7L1281.3 1276.2L1278.3 1276.6L1275.3 1277.0L1273.9 1277.2L1272.3 1277.4L1269.3 1277.6L1266.3 1277.9L1263.3 1278.1L1260.3 1278.2L1257.3 1278.4L1254.3 1278.5L1251.3 1278.6L1248.2 1278.7L1245.2 1278.9L1242.2 1279.0L1239.2 1279.2L1236.2 1279.3L1233.2 1279.4L1230.2 1279.6L1227.2 1279.7L1224.2 1279.8L1221.2 1279.9L1218.2 1280.0L1215.2 1280.0L1212.2 1280.0L1209.2 1280.1L1206.2 1280.1L1203.2 1280.1L1200.2 1280.1L1198.1 1280.2L1197.2 1280.2L1194.2 1280.2L1191.2 1280.2L1188.2 1280.2L1187.9 1280.2L1185.2 1280.1L1182.2 1280.1L1179.2 1280.1L1176.2 1280.0L1173.2 1279.9L1170.2 1279.8L1167.2 1279.7L1164.1 1279.6L1161.1 1279.5L1158.1 1279.4L1155.1 1279.2L1152.1 1279.0L1149.1 1278.8L1146.1 1278.6L1143.1 1278.2L1140.1 1277.9L1137.1 1277.5L1135.1 1277.2L1134.1 1277.0L1131.1 1276.5L1128.1 1276.0L1125.1 1275.4L1122.1 1274.7L1119.9 1274.2L1119.1 1273.9L1116.1 1273.1L1113.1 1272.2L1110.1 1271.2L1109.9 1271.2L1107.1 1270.2L1104.1 1269.0L1101.9 1268.2L1101.1 1267.8L1098.1 1266.4L1095.7 1265.2L1095.1 1264.8L1092.1 1262.9L1091.0 1262.2L1089.1 1260.2L1088.1 1259.2L1086.9 1256.2L1086.8 1253.2L1087.6 1250.2L1089.0 1247.2L1089.1 1247.1L1090.9 1244.2L1092.1 1242.9L1093.3 1241.2L1095.1 1239.5L1096.3 1238.2L1098.1 1236.7L1099.8 1235.2L1101.1 1234.3L1103.8 1232.2L1104.1 1232.1L1107.1 1230.1L1108.5 1229.2L1110.1 1228.4L1113.1 1226.7L1113.9 1226.2L1116.1 1225.2L1119.1 1223.7L1120.0 1223.2L1122.1 1222.2L1125.1 1220.8L1126.2 1220.2L1128.1 1219.4L1131.1 1218.1L1133.3 1217.3L1134.1 1217.0L1137.1 1215.9L1140.1 1214.9L1142.2 1214.3L1143.1 1214.0L1146.1 1213.0L1149.1 1211.9L1150.9 1211.3L1152.1 1210.8L1155.1 1209.8L1158.1 1209.0L1161.1 1208.3L1161.1 1208.3L1164.1 1207.6L1167.2 1207.1L1170.2 1206.5L1173.2 1205.9L1175.7 1205.3L1176.2 1205.2L1179.2 1204.4L1182.2 1203.6L1185.2 1202.9L1187.9 1202.3L1188.2 1202.2L1191.2 1201.7L1194.2 1201.2L1197.2 1200.8L1200.2 1200.5L1203.2 1200.2L1206.2 1199.8L1209.2 1199.5L1210.4 1199.3ZM1208.5 1205.3L1206.2 1205.5L1203.2 1205.8L1200.2 1206.1L1197.2 1206.5L1194.2 1206.9L1191.2 1207.5L1188.2 1208.2L1187.7 1208.3L1185.2 1209.0L1182.2 1209.8L1179.2 1210.7L1177.1 1211.3L1176.2 1211.5L1173.2 1212.2L1170.2 1212.9L1167.2 1213.6L1164.7 1214.3L1164.1 1214.4L1161.1 1215.3L1158.1 1216.4L1155.8 1217.3L1155.1 1217.5L1152.1 1218.8L1149.1 1220.1L1148.8 1220.2L1146.1 1221.5L1143.1 1222.8L1142.1 1223.2L1140.1 1224.2L1137.1 1225.8L1136.2 1226.2L1134.1 1227.6L1131.6 1229.2L1131.1 1229.6L1128.1 1232.0L1127.8 1232.2L1125.1 1234.7L1124.4 1235.2L1122.1 1237.8L1121.7 1238.2L1119.8 1241.2L1119.1 1243.2L1118.7 1244.2L1118.7 1247.2L1119.1 1248.5L1119.7 1250.2L1121.8 1253.2L1122.1 1253.5L1125.1 1256.2L1125.1 1256.2L1128.1 1258.1L1129.9 1259.2L1131.1 1259.8L1134.1 1261.1L1136.7 1262.2L1137.1 1262.3L1140.1 1263.3L1143.1 1264.1L1146.1 1264.9L1147.6 1265.2L1149.1 1265.5L1152.1 1266.0L1155.1 1266.5L1158.1 1266.9L1161.1 1267.3L1164.1 1267.7L1167.2 1268.0L1169.3 1268.2L1170.2 1268.2L1173.2 1268.5L1176.2 1268.6L1179.2 1268.8L1182.2 1268.9L1185.2 1269.0L1188.2 1269.1L1191.2 1269.2L1194.2 1269.3L1197.2 1269.3L1200.2 1269.3L1203.2 1269.3L1206.2 1269.4L1209.2 1269.4L1212.2 1269.4L1215.2 1269.5L1218.2 1269.4L1221.2 1269.4L1224.2 1269.3L1227.2 1269.2L1230.2 1269.0L1233.2 1268.8L1236.2 1268.6L1239.2 1268.3L1241.1 1268.2L1242.2 1268.1L1245.2 1267.9L1248.2 1267.7L1251.3 1267.6L1254.3 1267.5L1257.3 1267.4L1260.3 1267.3L1263.3 1267.1L1266.3 1266.9L1269.3 1266.6L1272.3 1266.2L1275.3 1265.7L1278.2 1265.2L1278.3 1265.2L1281.3 1264.6L1284.3 1263.9L1287.3 1263.3L1290.3 1262.7L1292.8 1262.2L1293.3 1262.1L1296.3 1261.6L1299.3 1261.1L1302.3 1260.6L1305.3 1260.1L1308.3 1259.5L1310.0 1259.2L1311.3 1258.9L1314.3 1258.3L1317.3 1257.7L1320.3 1257.2L1323.3 1256.6L1325.5 1256.2L1326.3 1256.0L1329.3 1255.1L1332.4 1253.7L1333.3 1253.2L1335.4 1251.6L1336.8 1250.2L1338.4 1247.8L1338.7 1247.2L1339.7 1244.2L1339.9 1241.2L1339.4 1238.2L1338.4 1235.2L1338.4 1235.1L1337.0 1232.2L1335.4 1229.6L1335.1 1229.2L1333.0 1226.2L1332.4 1225.5L1330.5 1223.2L1329.3 1222.1L1327.4 1220.2L1326.3 1219.4L1323.3 1217.3L1323.3 1217.3L1320.3 1215.5L1317.9 1214.3L1317.3 1214.0L1314.3 1212.7L1311.3 1211.5L1310.6 1211.3L1308.3 1210.6L1305.3 1209.7L1302.3 1209.0L1299.3 1208.4L1298.5 1208.3L1296.3 1207.9L1293.3 1207.4L1290.3 1206.9L1287.3 1206.3L1284.3 1205.8L1281.3 1205.3L1281.2 1205.3L1278.3 1204.8L1275.3 1204.4L1272.3 1204.0L1269.3 1203.7L1266.3 1203.4L1263.3 1203.2L1260.3 1203.0L1257.3 1202.9L1254.3 1202.8L1251.3 1202.8L1248.2 1202.7L1245.2 1202.7L1242.2 1202.7L1239.2 1202.7L1236.2 1202.7L1233.2 1202.7L1230.2 1202.8L1227.2 1203.0L1224.2 1203.2L1221.2 1203.5L1218.2 1203.9L1215.2 1204.3L1212.2 1204.8L1209.2 1205.2Z" fill="#f3b0b0" stroke="#f3b0b0" stroke-width="0.6" fill-rule="evenodd"/>
<path d="M1044.0 872.8L1045.2 875.8L1046.6 878.8L1047.0 879.5L1048.1 881.8L1049.8 884.8L1050.0 885.1L1051.6 887.8L1053.0 890.1L1053.4 890.8L1054.8 893.8L1055.7 896.8L1056.0 899.2L1056.1 899.8L1056.0 901.3L1055.9 902.8L1055.4 905.8L1054.5 908.8L1053.6 911.8L1053.0 914.4L1052.9 914.8L1052.4 917.7L1051.9 920.7L1051.5 923.7L1051.2 926.7L1050.9 929.7L1050.7 932.7L1050.5 935.7L1050.4 938.7L1050.5 941.7L1050.6 944.7L1050.6 947.7L1050.4 950.7L1050.0 952.7L1049.8 953.7L1048.5 956.7L1047.0 958.9L1046.2 959.7L1044.0 961.4L1044.0 959.7L1044.0 956.7L1044.0 953.7L1044.0 950.7L1044.0 947.7L1044.0 944.7L1044.0 941.7L1044.0 938.7L1044.0 935.7L1044.0 932.7L1044.0 929.7L1044.0 926.7L1044.0 923.7L1044.0 920.7L1044.0 917.7L1044.0 914.8L1044.0 911.8L1044.0 908.8L1044.0 905.8L1044.0 902.8L1044.0 899.8L1044.0 896.8L1044.0 893.8L1044.0 890.8L1044.0 887.8L1044.0 884.8L1044.0 881.8L1044.0 878.8L1044.0 875.8L1044.0 872.8L1044.0 872.7ZM1209.2 1205.2L1212.2 1204.8L1215.2 1204.3L1218.2 1203.9L1221.2 1203.5L1224.2 1203.2L1227.2 1203.0L1230.2 1202.8L1233.2 1202.7L1236.2 1202.7L1239.2 1202.7L1242.2 1202.7L1245.2 1202.7L1248.2 1202.7L1251.3 1202.8L1254.3 1202.8L1257.3 1202.9L1260.3 1203.0L1263.3 1203.2L1266.3 1203.4L1269.3 1203.7L1272.3 1204.0L1275.3 1204.4L1278.3 1204.8L1281.2 1205.3L1281.3 1205.3L1284.3 1205.8L1287.3 1206.3L1290.3 1206.9L1293.3 1207.4L1296.3 1207.9L1298.5 1208.3L1299.3 1208.4L1302.3 1209.0L1305.3 1209.7L1308.3 1210.6L1310.6 1211.3L1311.3 1211.5L1314.3 1212.7L1317.3 1214.0L1317.9 1214.3L1320.3 1215.5L1323.3 1217.3L1323.3 1217.3L1326.3 1219.4L1327.4 1220.2L1329.3 1222.1L1330.5 1223.2L1332.4 1225.5L1333.0 1226.2L1335.1 1229.2L1335.4 1229.6L1337.0 1232.2L1338.4 1235.1L1338.4 1235.2L1339.4 1238.2L1339.9 1241.2L1339.7 1244.2L1338.7 1247.2L1338.4 1247.8L1336.8 1250.2L1335.4 1251.6L1333.3 1253.2L1332.4 1253.7L1329.3 1255.1L1326.3 1256.0L1325.5 1256.2L1323.3 1256.6L1320.3 1257.2L1317.3 1257.7L1314.3 1258.3L1311.3 1258.9L1310.0 1259.2L1308.3 1259.5L1305.3 1260.1L1302.3 1260.6L1299.3 1261.1L1296.3 1261.6L1293.3 1262.1L1292.8 1262.2L1290.3 1262.7L1287.3 1263.3L1284.3 1263.9L1281.3 1264.6L1278.3 1265.2L1278.2 1265.2L1275.3 1265.7L1272.3 1266.2L1269.3 1266.6L1266.3 1266.9L1263.3 1267.1L1260.3 1267.3L1257.3 1267.4L1254.3 1267.5L1251.3 1267.6L1248.2 1267.7L1245.2 1267.9L1242.2 1268.1L1241.1 1268.2L1239.2 1268.3L1236.2 1268.6L1233.2 1268.8L1230.2 1269.0L1227.2 1269.2L1224.2 1269.3L1221.2 1269.4L1218.2 1269.4L1215.2 1269.5L1212.2 1269.4L1209.2 1269.4L1206.2 1269.4L1203.2 1269.3L1200.2 1269.3L1197.2 1269.3L1194.2 1269.3L1191.2 1269.2L1188.2 1269.1L1185.2 1269.0L1182.2 1268.9L1179.2 1268.8L1176.2 1268.6L1173.2 1268.5L1170.2 1268.2L1169.3 1268.2L1167.2 1268.0L1164.1 1267.7L1161.1 1267.3L1158.1 1266.9L1155.1 1266.5L1152.1 1266.0L1149.1 1265.5L1147.6 1265.2L1146.1 1264.9L1143.1 1264.1L1140.1 1263.3L1137.1 1262.3L1136.7 1262.2L1134.1 1261.1L1131.1 1259.8L1129.9 1259.2L1128.1 1258.1L1125.1 1256.2L1125.1 1256.2L1122.1 1253.5L1121.8 1253.2L1119.7 1250.2L1119.1 1248.5L1118.7 1247.2L1118.7 1244.2L1119.1 1243.2L1119.8 1241.2L1121.7 1238.2L1122.1 1237.8L1124.4 1235.2L1125.1 1234.7L1127.8 1232.2L1128.1 1232.0L1131.1 1229.6L1131.6 1229.2L1134.1 1227.6L1136.2 1226.2L1137.1 1225.8L1140.1 1224.2L1142.1 1223.2L1143.1 1222.8L1146.1 1221.5L1148.8 1220.2L1149.1 1220.1L1152.1 1218.8L1155.1 1217.5L1155.8 1217.3L1158.1 1216.4L1161.1 1215.3L1164.1 1214.4L1164.7 1214.3L1167.2 1213.6L1170.2 1212.9L1173.2 1212.2L1176.2 1211.5L1177.1 1211.3L1179.2 1210.7L1182.2 1209.8L1185.2 1209.0L1187.7 1208.3L1188.2 1208.2L1191.2 1207.5L1194.2 1206.9L1197.2 1206.5L1200.2 1206.1L1203.2 1205.8L1206.2 1205.5L1208.5 1205.3ZM1229.4 1208.3L1227.2 1208.4L1224.2 1208.6L1221.2 1208.9L1218.2 1209.2L1215.2 1209.6L1212.2 1210.0L1209.2 1210.4L1206.2 1210.8L1203.2 1211.1L1201.9 1211.3L1200.2 1211.5L1197.2 1212.0L1194.2 1212.6L1191.2 1213.3L1188.2 1214.1L1187.6 1214.3L1185.2 1215.0L1182.2 1216.0L1179.2 1216.8L1177.7 1217.3L1176.2 1217.7L1173.2 1218.7L1170.2 1219.6L1168.4 1220.2L1167.2 1220.8L1164.1 1222.1L1161.6 1223.2L1161.1 1223.5L1158.1 1225.2L1156.2 1226.2L1155.1 1227.0L1152.1 1229.0L1151.8 1229.2L1149.1 1231.6L1148.3 1232.2L1146.1 1234.9L1145.8 1235.2L1144.5 1238.2L1144.4 1241.2L1145.7 1244.2L1146.1 1244.7L1148.7 1247.2L1149.1 1247.5L1152.1 1249.4L1153.6 1250.2L1155.1 1250.9L1158.1 1252.1L1161.1 1253.2L1161.1 1253.2L1164.1 1254.1L1167.2 1254.9L1170.2 1255.6L1172.9 1256.2L1173.2 1256.2L1176.2 1256.8L1179.2 1257.3L1182.2 1257.7L1185.2 1258.1L1188.2 1258.4L1191.2 1258.7L1194.2 1258.9L1197.2 1259.1L1197.7 1259.2L1200.2 1259.4L1203.2 1259.5L1206.2 1259.7L1209.2 1259.8L1212.2 1260.0L1215.2 1260.1L1218.2 1260.1L1221.2 1260.1L1224.2 1260.0L1227.2 1259.9L1230.2 1259.7L1233.2 1259.5L1236.2 1259.3L1238.0 1259.2L1239.2 1259.1L1242.2 1258.9L1245.2 1258.7L1248.2 1258.6L1251.3 1258.4L1254.3 1258.3L1257.3 1258.1L1260.3 1257.8L1263.3 1257.5L1266.3 1257.1L1269.3 1256.6L1271.2 1256.2L1272.3 1256.0L1275.3 1255.3L1278.3 1254.5L1281.3 1253.8L1283.9 1253.2L1284.3 1253.1L1287.3 1252.4L1290.3 1251.8L1293.3 1251.2L1296.3 1250.7L1299.0 1250.2L1299.3 1250.1L1302.3 1249.5L1305.3 1248.8L1308.3 1248.1L1311.3 1247.2L1311.3 1247.2L1314.3 1246.0L1317.3 1244.6L1318.0 1244.2L1320.3 1242.1L1321.1 1241.2L1322.4 1238.2L1322.6 1235.2L1322.1 1232.2L1320.9 1229.2L1320.3 1228.3L1318.9 1226.2L1317.3 1224.7L1315.5 1223.2L1314.3 1222.5L1311.3 1220.9L1309.8 1220.2L1308.3 1219.6L1305.3 1218.6L1302.3 1217.6L1301.2 1217.3L1299.3 1216.8L1296.3 1216.0L1293.3 1215.3L1290.3 1214.6L1288.8 1214.3L1287.3 1213.9L1284.3 1213.3L1281.3 1212.6L1278.3 1211.9L1275.4 1211.3L1275.3 1211.2L1272.3 1210.7L1269.3 1210.2L1266.3 1209.8L1263.3 1209.5L1260.3 1209.2L1257.3 1209.0L1254.3 1208.9L1251.3 1208.7L1248.2 1208.6L1245.2 1208.5L1242.2 1208.4L1239.2 1208.3L1238.2 1208.3L1236.2 1208.2L1233.2 1208.2L1230.2 1208.2Z" fill="#f29c9d" stroke="#f29c9d" stroke-width="0.6" fill-rule="evenodd"/>
<path d="M1230.2 1208.2L1233.2 1208.2L1236.2 1208.2L1238.2 1208.3L1239.2 1208.3L1242.2 1208.4L1245.2 1208.5L1248.2 1208.6L1251.3 1208.7L1254.3 1208.9L1257.3 1209.0L1260.3 1209.2L1263.3 1209.5L1266.3 1209.8L1269.3 1210.2L1272.3 1210.7L1275.3 1211.2L1275.4 1211.3L1278.3 1211.9L1281.3 1212.6L1284.3 1213.3L1287.3 1213.9L1288.8 1214.3L1290.3 1214.6L1293.3 1215.3L1296.3 1216.0L1299.3 1216.8L1301.2 1217.3L1302.3 1217.6L1305.3 1218.6L1308.3 1219.6L1309.8 1220.2L1311.3 1220.9L1314.3 1222.5L1315.5 1223.2L1317.3 1224.7L1318.9 1226.2L1320.3 1228.3L1320.9 1229.2L1322.1 1232.2L1322.6 1235.2L1322.4 1238.2L1321.1 1241.2L1320.3 1242.1L1318.0 1244.2L1317.3 1244.6L1314.3 1246.0L1311.3 1247.2L1311.3 1247.2L1308.3 1248.1L1305.3 1248.8L1302.3 1249.5L1299.3 1250.1L1299.0 1250.2L1296.3 1250.7L1293.3 1251.2L1290.3 1251.8L1287.3 1252.4L1284.3 1253.1L1283.9 1253.2L1281.3 1253.8L1278.3 1254.5L1275.3 1255.3L1272.3 1256.0L1271.2 1256.2L1269.3 1256.6L1266.3 1257.1L1263.3 1257.5L1260.3 1257.8L1257.3 1258.1L1254.3 1258.3L1251.3 1258.4L1248.2 1258.6L1245.2 1258.7L1242.2 1258.9L1239.2 1259.1L1238.0 1259.2L1236.2 1259.3L1233.2 1259.5L1230.2 1259.7L1227.2 1259.9L1224.2 1260.0L1221.2 1260.1L1218.2 1260.1L1215.2 1260.1L1212.2 1260.0L1209.2 1259.8L1206.2 1259.7L1203.2 1259.5L1200.2 1259.4L1197.7 1259.2L1197.2 1259.1L1194.2 1258.9L1191.2 1258.7L1188.2 1258.4L1185.2 1258.1L1182.2 1257.7L1179.2 1257.3L1176.2 1256.8L1173.2 1256.2L1172.9 1256.2L1170.2 1255.6L1167.2 1254.9L1164.1 1254.1L1161.1 1253.2L1161.1 1253.2L1158.1 1252.1L1155.1 1250.9L1153.6 1250.2L1152.1 1249.4L1149.1 1247.5L1148.7 1247.2L1146.1 1244.7L1145.7 1244.2L1144.4 1241.2L1144.5 1238.2L1145.8 1235.2L1146.1 1234.9L1148.3 1232.2L1149.1 1231.6L1151.8 1229.2L1152.1 1229.0L1155.1 1227.0L1156.2 1226.2L1158.1 1225.2L1161.1 1223.5L1161.6 1223.2L1164.1 1222.1L1167.2 1220.8L1168.4 1220.2L1170.2 1219.6L1173.2 1218.7L1176.2 1217.7L1177.7 1217.3L1179.2 1216.8L1182.2 1216.0L1185.2 1215.0L1187.6 1214.3L1188.2 1214.1L1191.2 1213.3L1194.2 1212.6L1197.2 1212.0L1200.2 1211.5L1201.9 1211.3L1203.2 1211.1L1206.2 1210.8L1209.2 1210.4L1212.2 1210.0L1215.2 1209.6L1218.2 1209.2L1221.2 1208.9L1224.2 1208.6L1227.2 1208.4L1229.4 1208.3ZM1222.0 1214.3L1221.2 1214.3L1218.2 1214.7L1215.2 1215.2L1212.2 1215.7L1209.2 1216.1L1206.2 1216.6L1203.2 1217.1L1202.3 1217.3L1200.2 1217.7L1197.2 1218.5L1194.2 1219.4L1191.3 1220.3L1191.2 1220.3L1188.2 1221.5L1185.2 1222.6L1183.4 1223.2L1182.2 1223.8L1179.2 1225.3L1177.2 1226.2L1176.2 1227.0L1173.2 1229.2L1173.1 1229.2L1170.9 1232.2L1170.3 1235.2L1171.7 1238.2L1173.2 1239.6L1175.2 1241.2L1176.2 1241.8L1179.2 1243.3L1181.3 1244.2L1182.2 1244.5L1185.2 1245.5L1188.2 1246.4L1191.2 1247.1L1191.6 1247.2L1194.2 1247.7L1197.2 1248.2L1200.2 1248.7L1203.2 1249.0L1206.2 1249.4L1209.2 1249.7L1212.2 1250.0L1214.7 1250.2L1215.2 1250.2L1218.2 1250.4L1221.2 1250.5L1224.2 1250.5L1227.2 1250.4L1230.2 1250.2L1230.5 1250.2L1233.2 1250.0L1236.2 1249.8L1239.2 1249.5L1242.2 1249.3L1245.2 1249.2L1248.2 1248.9L1251.3 1248.7L1254.3 1248.4L1257.3 1247.9L1260.3 1247.4L1261.1 1247.2L1263.3 1246.7L1266.3 1245.8L1269.3 1244.8L1270.9 1244.2L1272.3 1243.6L1275.3 1242.3L1277.6 1241.2L1278.3 1240.8L1281.3 1239.0L1282.7 1238.2L1284.3 1236.8L1286.1 1235.2L1287.3 1232.7L1287.5 1232.2L1287.3 1231.3L1286.9 1229.2L1284.3 1226.3L1284.2 1226.2L1281.3 1224.3L1279.8 1223.2L1278.3 1222.5L1275.3 1221.1L1273.3 1220.2L1272.3 1219.9L1269.3 1218.9L1266.3 1218.0L1263.6 1217.3L1263.3 1217.2L1260.3 1216.6L1257.3 1216.2L1254.3 1215.8L1251.3 1215.4L1248.2 1215.1L1245.2 1214.8L1242.2 1214.4L1240.4 1214.3L1239.2 1214.2L1236.2 1214.0L1233.2 1213.8L1230.2 1213.8L1227.2 1213.9L1224.2 1214.1Z" fill="#f0888a" stroke="#f0888a" stroke-width="0.6" fill-rule="evenodd"/>
<path d="M1224.2 1214.1L1227.2 1213.9L1230.2 1213.8L1233.2 1213.8L1236.2 1214.0L1239.2 1214.2L1240.4 1214.3L1242.2 1214.4L1245.2 1214.8L1248.2 1215.1L1251.3 1215.4L1254.3 1215.8L1257.3 1216.2L1260.3 1216.6L1263.3 1217.2L1263.6 1217.3L1266.3 1218.0L1269.3 1218.9L1272.3 1219.9L1273.3 1220.2L1275.3 1221.1L1278.3 1222.5L1279.8 1223.2L1281.3 1224.3L1284.2 1226.2L1284.3 1226.3L1286.9 1229.2L1287.3 1231.3L1287.5 1232.2L1287.3 1232.7L1286.1 1235.2L1284.3 1236.8L1282.7 1238.2L1281.3 1239.0L1278.3 1240.8L1277.6 1241.2L1275.3 1242.3L1272.3 1243.6L1270.9 1244.2L1269.3 1244.8L1266.3 1245.8L1263.3 1246.7L1261.1 1247.2L1260.3 1247.4L1257.3 1247.9L1254.3 1248.4L1251.3 1248.7L1248.2 1248.9L1245.2 1249.2L1242.2 1249.3L1239.2 1249.5L1236.2 1249.8L1233.2 1250.0L1230.5 1250.2L1230.2 1250.2L1227.2 1250.4L1224.2 1250.5L1221.2 1250.5L1218.2 1250.4L1215.2 1250.2L1214.7 1250.2L1212.2 1250.0L1209.2 1249.7L1206.2 1249.4L1203.2 1249.0L1200.2 1248.7L1197.2 1248.2L1194.2 1247.7L1191.6 1247.2L1191.2 1247.1L1188.2 1246.4L1185.2 1245.5L1182.2 1244.5L1181.3 1244.2L1179.2 1243.3L1176.2 1241.8L1175.2 1241.2L1173.2 1239.6L1171.7 1238.2L1170.3 1235.2L1170.9 1232.2L1173.1 1229.2L1173.2 1229.2L1176.2 1227.0L1177.2 1226.2L1179.2 1225.3L1182.2 1223.8L1183.4 1223.2L1185.2 1222.6L1188.2 1221.5L1191.2 1220.3L1191.3 1220.2L1194.2 1219.4L1197.2 1218.5L1200.2 1217.7L1202.3 1217.3L1203.2 1217.1L1206.2 1216.6L1209.2 1216.1L1212.2 1215.7L1215.2 1215.2L1218.2 1214.7L1221.2 1214.3L1222.0 1214.3ZM1216.3 1223.2L1215.2 1223.8L1212.2 1225.3L1210.3 1226.2L1209.2 1227.6L1207.7 1229.2L1208.6 1232.2L1209.2 1232.6L1212.2 1234.2L1214.9 1235.2L1215.2 1235.3L1218.2 1236.0L1221.2 1236.4L1224.2 1236.6L1227.2 1236.7L1230.2 1236.5L1233.2 1236.0L1236.2 1235.5L1237.2 1235.2L1239.2 1234.6L1242.2 1233.3L1244.4 1232.2L1245.2 1231.1L1246.3 1229.2L1245.2 1227.1L1244.9 1226.2L1242.2 1224.6L1239.9 1223.2L1239.2 1223.0L1236.2 1222.2L1233.2 1221.7L1230.2 1221.3L1227.2 1221.3L1224.2 1221.5L1221.2 1222.1L1218.2 1222.7Z" fill="#ef777a" stroke="#ef777a" stroke-width="0.6" fill-rule="evenodd"/>
<path d="M1218.2 1222.7L1221.2 1222.1L1224.2 1221.5L1227.2 1221.3L1230.2 1221.3L1233.2 1221.7L1236.2 1222.2L1239.2 1223.0L1239.9 1223.2L1242.2 1224.6L1244.9 1226.2L1245.2 1227.1L1246.3 1229.2L1245.2 1231.1L1244.4 1232.2L1242.2 1233.3L1239.2 1234.6L1237.2 1235.2L1236.2 1235.5L1233.2 1236.0L1230.2 1236.5L1227.2 1236.7L1224.2 1236.6L1221.2 1236.4L1218.2 1236.0L1215.2 1235.3L1214.9 1235.2L1212.2 1234.2L1209.2 1232.6L1208.6 1232.2L1207.7 1229.2L1209.2 1227.6L1210.3 1226.2L1212.2 1225.3L1215.2 1223.8L1216.3 1223.2Z" fill="#ee6669" stroke="#ee6669" stroke-width="0.6" fill-rule="evenodd"/>
<path d="M1066.2 764.1 L1066.2 770.3 L1063.1 772.3 L1061.6 779.6 L1058.0 781.1 L1059.5 786.8 L1055.4 788.4 L1050.2 787.3 L1050.7 794.1 L1049.2 800.3 L1045.6 801.8" fill="none" stroke="#0a0f0f" stroke-width="2.3" stroke-linejoin="round" stroke-linecap="round"/>
<path d="M1045.0 808.6 L1050.2 809.1 L1052.8 812.7 L1051.8 816.8 L1048.1 819.9 L1045.0 821.0" fill="none" stroke="#0a0f0f" stroke-width="2.3" stroke-linejoin="round" stroke-linecap="round"/>
<path d="M1095.7 764.1 L1092.6 769.2 L1090.0 771.3 L1083.3 773.4 L1077.6 776.0 L1075.9 780.6 L1076.1 784.8 L1079.2 788.4 L1083.8 790.4 L1086.9 794.1 L1089.5 797.2 L1093.7 796.7 L1097.8 798.2 L1101.9 796.7 L1104.0 793.6 L1106.1 796.1 L1107.6 799.8 L1106.6 802.9 L1104.0 805.4 L1100.4 806.7 L1095.7 806.3 L1090.6 804.9 L1085.4 803.9 L1082.3 806.5 L1084.9 810.6 L1088.5 813.2 L1093.7 813.7 L1097.8 815.3 L1096.8 819.9 L1093.7 824.1 L1097.8 827.7 L1103.0 830.8 L1106.1 830.8 L1105.0 824.1 L1110.2 827.2 L1115.4 824.1 L1119.5 822.0 L1125.7 823.0 L1131.9 826.7 L1137.1 830.8 L1142.3 833.9 L1143.8 838.5 L1143.3 842.7 L1146.4 846.8 L1150.0 850.4 L1151.6 856.1 L1153.1 862.3 L1154.7 868.5 L1156.8 873.7 L1159.3 878.4 L1159.9 882.5 L1155.7 884.6 L1156.2 890.3 L1155.2 895.4 L1153.7 899.6 L1155.2 903.7 L1158.8 905.8 L1161.9 902.7 L1163.5 898.5 L1165.0 897.0 L1172.8 900.6 L1170.7 905.3 L1173.3 908.9 L1174.9 915.0" fill="none" stroke="#0a0f0f" stroke-width="2.3" stroke-linejoin="round" stroke-linecap="round"/>
<path d="M1045.0 868.5 L1050.2 868.5 L1054.3 871.1 L1058.0 876.8 L1060.0 882.0 L1054.3 881.0 L1049.2 882.0 L1045.0 883.0" fill="none" stroke="#0a0f0f" stroke-width="2.3" stroke-linejoin="round" stroke-linecap="round"/>
<path d="M1045.0 890.3 L1047.1 887.2 L1051.2 885.1 L1056.4 885.6 L1060.6 886.7 L1064.2 887.2 L1066.2 891.3 L1068.8 894.9 L1067.3 898.5 L1064.7 900.6 L1065.7 904.2 L1069.9 901.7 L1072.4 906.3 L1074.0 908.4 L1076.6 902.2 L1079.7 901.7 L1082.8 904.8 L1081.8 908.9 L1080.7 912.0 L1085.4 908.9 L1088.5 912.0 L1092.6 913.0 L1095.7 915.0" fill="none" stroke="#0a0f0f" stroke-width="2.3" stroke-linejoin="round" stroke-linecap="round"/>
<path d="M1045.6 886.1 L1048.1 891.3 L1048.7 897.5" fill="none" stroke="#0a0f0f" stroke-width="3.5" stroke-linejoin="round" stroke-linecap="round"/>
<path d="M1159.9 914.1 L1163.0 911.5 L1168.1 912.0 L1172.3 915.0" fill="none" stroke="#0a0f0f" stroke-width="2.3" stroke-linejoin="round" stroke-linecap="round"/>
<path d="M1320.4 764.1 L1319.3 768.7 L1314.2 769.8 L1312.6 775.4 L1311.1 782.7 L1309.5 788.9 L1309.0 794.1 L1310.5 796.7 L1312.6 792.0 L1314.7 788.4 L1319.3 789.4 L1321.9 792.5 L1321.4 796.1 L1317.3 796.7 L1315.7 800.3 L1319.3 802.9 L1323.5 803.4 L1326.1 802.9 L1327.1 807.5 L1326.1 812.7 L1321.4 810.6 L1316.8 809.6 L1313.1 811.7 L1311.1 813.7 L1308.0 812.2 L1305.9 814.8 L1306.9 818.9 L1310.5 822.5 L1315.2 824.1 L1318.8 825.6 L1320.4 830.3 L1320.9 836.5 L1320.4 840.6 L1317.8 841.7 L1315.2 839.6 L1313.3 843.7 L1314.7 847.9 L1318.3 851.0 L1321.4 853.0 L1321.9 856.7 L1319.3 859.2 L1314.2 858.7 L1310.0 857.7 L1307.4 860.8 L1311.1 863.9 L1315.2 866.5 L1315.7 870.6 L1314.7 873.2 L1311.1 873.2 L1308.0 875.3 L1303.8 874.2 L1300.7 871.1 L1298.1 867.5 L1294.5 870.1 L1291.9 873.2 L1287.3 873.2 L1283.7 874.8 L1282.1 878.9 L1283.7 883.5 L1288.8 885.1 L1292.4 884.6 L1294.5 887.7 L1298.7 891.8 L1301.8 894.9 L1305.4 897.5 L1305.9 902.7 L1308.5 901.7 L1310.0 906.8 L1310.5 915.0" fill="none" stroke="#0a0f0f" stroke-width="2.3" stroke-linejoin="round" stroke-linecap="round"/>
<path d="M1323.0 841.7 L1326.1 840.6 L1329.2 846.8 L1323.5 846.8 Z" fill="none" stroke="#0a0f0f" stroke-width="2.3" stroke-linejoin="round" stroke-linecap="round"/>
<path d="M1296.1 876.3 L1299.2 875.3 L1301.8 877.3 L1299.7 879.4 L1296.6 878.4 Z" fill="none" stroke="#0a0f0f" stroke-width="2.3" stroke-linejoin="round" stroke-linecap="round"/>
<path d="M1289.3 879.9 L1291.9 879.4 L1293.5 881.0 L1290.9 882.0 Z" fill="none" stroke="#0a0f0f" stroke-width="2.3" stroke-linejoin="round" stroke-linecap="round"/>
<path d="M1299.7 885.6 L1303.8 884.6 L1308.0 888.7 L1309.0 893.4 L1305.4 893.9 L1301.2 889.8 Z" fill="none" stroke="#0a0f0f" stroke-width="2.3" stroke-linejoin="round" stroke-linecap="round"/>
<path d="M1286.8 900.1 L1290.4 899.6 L1293.5 902.2 L1296.6 906.3 L1298.7 911.0 L1300.7 915.0" fill="none" stroke="#0a0f0f" stroke-width="2.3" stroke-linejoin="round" stroke-linecap="round"/>
<path d="M1279.0 915.0 L1280.0 909.9 L1284.2 907.9 L1288.8 906.8 L1290.4 902.7 L1286.8 900.1" fill="none" stroke="#0a0f0f" stroke-width="2.3" stroke-linejoin="round" stroke-linecap="round"/>
<path d="M1283.1 915.0 L1287.3 912.0 L1291.4 911.0" fill="none" stroke="#0a0f0f" stroke-width="2.3" stroke-linejoin="round" stroke-linecap="round"/>
<path d="M1462.8 766.1 L1465.4 764.1 L1503.7 764.1 L1505.2 767.2 L1502.6 770.8 L1498.5 773.4 L1496.9 778.6 L1495.9 785.8 L1494.9 792.0 L1493.8 797.2 L1491.2 798.7 L1489.7 805.4 L1488.7 811.7 L1486.6 814.8 L1483.0 811.7 L1478.8 806.5 L1475.7 801.3 L1478.3 798.2 L1481.9 796.7 L1485.0 795.1 L1486.1 791.5 L1484.5 789.4 L1479.9 790.4 L1474.2 791.5 L1473.1 787.3 L1476.2 785.3 L1480.4 782.7 L1483.5 780.6 L1486.1 776.0 L1482.4 772.3 L1478.8 768.7 L1476.8 772.3 L1475.2 777.5 L1472.1 781.1 L1469.0 778.6 L1465.9 772.3 Z" fill="none" stroke="#0a0f0f" stroke-width="2.3" stroke-linejoin="round" stroke-linecap="round"/>
<path d="M1504.7 778.6 L1505.7 775.4 L1509.3 772.3 L1511.4 773.4 L1510.4 777.0 L1506.8 781.1 L1504.9 781.7 Z" fill="none" stroke="#0a0f0f" stroke-width="2.3" stroke-linejoin="round" stroke-linecap="round"/>
<path d="M1508.3 784.2 L1511.9 783.2 L1516.1 781.7 L1517.6 786.8 L1522.3 789.4 L1520.2 794.1 L1516.6 797.7 L1513.0 802.3 L1511.4 797.2 L1509.9 794.1 L1506.2 797.7 L1507.3 792.0 Z" fill="none" stroke="#0a0f0f" stroke-width="2.3" stroke-linejoin="round" stroke-linecap="round"/>
<path d="M1659.0 876.8 L1654.7 877.9 L1652.1 883.0 L1653.6 886.1 L1651.1 892.3 L1646.4 895.4 L1645.9 900.6 L1649.5 903.2 L1654.7 904.8 L1658.3 908.9 L1656.2 915.0" fill="none" stroke="#0a0f0f" stroke-width="2.3" stroke-linejoin="round" stroke-linecap="round"/>
<path d="M1659.0 865.4 L1657.3 868.5 L1659.0 870.6" fill="none" stroke="#0a0f0f" stroke-width="2.3" stroke-linejoin="round" stroke-linecap="round"/>
<path d="M1513.0 915.0 L1515.0 912.0" fill="none" stroke="#0a0f0f" stroke-width="2.3" stroke-linejoin="round" stroke-linecap="round"/>
<path d="M1520.2 915.0 L1526.4 911.0 L1532.6 909.9 L1538.8 909.4 L1544.0 912.0 L1549.2 915.0" fill="none" stroke="#0a0f0f" stroke-width="2.3" stroke-linejoin="round" stroke-linecap="round"/>
<path d="M1659.0 865.4 L1662.1 862.3 L1665.7 861.3 L1664.7 857.2 L1668.3 854.1 L1667.8 849.9 L1670.9 847.3 L1669.9 843.7 L1673.0 841.1 L1675.6 841.7 L1677.1 837.5 L1679.7 833.4 L1683.3 830.3 L1689.0 829.8 L1690.6 825.1 L1693.1 822.0 L1696.8 824.6 L1702.4 821.0 L1707.6 818.9 L1712.8 817.3 L1713.8 811.7 L1718.0 809.8 L1724.2 808.6 L1727.3 812.7 L1726.2 817.9 L1722.1 823.0 L1715.9 827.2 L1708.7 831.3 L1700.4 835.4 L1693.1 839.1 L1688.0 842.2 L1689.0 846.8 L1685.9 852.0 L1680.7 853.0 L1678.7 857.7 L1679.2 861.3 L1674.5 862.9 L1676.1 867.5 L1673.5 872.7 L1670.4 874.2 L1665.2 871.7 L1659.0 869.6" fill="none" stroke="#0a0f0f" stroke-width="2.3" stroke-linejoin="round" stroke-linecap="round"/>
<path d="M1659.0 875.8 L1665.2 874.8 L1669.3 876.8 L1668.3 882.0 L1665.7 885.1 L1664.7 892.3 L1665.7 899.6 L1668.3 905.8 L1671.4 911.0 L1673.0 915.0" fill="none" stroke="#0a0f0f" stroke-width="2.3" stroke-linejoin="round" stroke-linecap="round"/>
<path d="M1715.9 915.0 L1716.4 908.9 L1720.0 904.8 L1723.7 899.6 L1726.2 892.3 L1727.3 885.1 L1729.3 882.0 L1733.5 883.0 L1738.7 882.5 L1743.3 882.0 L1744.3 887.2 L1743.3 894.4 L1740.7 900.6 L1741.2 905.8 L1743.3 909.9 L1744.3 915.0" fill="none" stroke="#0a0f0f" stroke-width="2.3" stroke-linejoin="round" stroke-linecap="round"/>
<path d="M1731.9 877.9 L1734.0 872.2 L1736.6 871.7 L1737.6 876.8 Z" fill="none" stroke="#0a0f0f" stroke-width="2.3" stroke-linejoin="round" stroke-linecap="round"/>
<path d="M1748.0 915.0 L1746.4 906.8 L1746.9 900.6 L1752.1 896.5 L1753.7 891.3 L1754.2 884.1" fill="none" stroke="#0a0f0f" stroke-width="2.3" stroke-linejoin="round" stroke-linecap="round"/>
<path d="M1754.7 883.5 L1756.8 886.1 L1756.8 895.4 L1756.2 900.6 L1756.8 905.8 L1762.4 906.3 L1766.6 909.9 L1768.7 911.0 L1771.2 908.4 L1769.7 905.3 L1766.6 902.7 L1762.4 900.6 L1760.4 897.5 L1761.4 895.4 L1765.5 896.0 L1767.6 892.9 L1766.6 889.8 L1763.0 889.8 L1763.5 887.7 L1766.1 887.2 L1768.7 890.3 L1772.3 890.8 L1775.9 892.9 L1779.5 897.5 L1784.2 900.6 L1789.3 901.7 L1790.9 906.8 L1788.8 915.0" fill="none" stroke="#0a0f0f" stroke-width="2.3" stroke-linejoin="round" stroke-linecap="round"/>
<path d="M1793.5 915.0 L1793.0 904.8 L1792.4 899.6 L1789.3 895.4 L1785.7 891.3 L1782.1 888.2 L1781.1 883.0 L1779.5 876.8 L1779.0 873.2 L1781.6 871.1 L1789.3 869.6 L1794.5 868.5 L1798.1 867.5 L1799.2 870.6 L1802.3 868.5 L1804.9 866.5 L1807.4 867.5 L1806.4 870.6 L1804.3 873.2 L1808.0 872.2 L1811.1 869.1 L1812.1 864.4 L1810.0 859.8 L1808.5 856.7 L1807.4 852.0 L1811.1 846.8 L1815.2 841.7 L1819.3 837.5 L1824.5 834.9 L1829.7 833.4 L1834.9 830.8 L1839.0 828.2 L1842.6 825.1 L1845.2 824.1 L1849.9 824.1 L1851.4 826.1 L1850.4 829.2 L1854.5 830.3 L1858.6 828.2 L1862.6 826.1" fill="none" stroke="#0a0f0f" stroke-width="2.3" stroke-linejoin="round" stroke-linecap="round"/>
<path d="M1845.2 764.1 L1850.4 766.1 L1857.6 766.7 L1862.6 765.6" fill="none" stroke="#0a0f0f" stroke-width="2.3" stroke-linejoin="round" stroke-linecap="round"/>
<path d="M1088.5 916.0 L1092.6 919.1 L1090.6 922.8 L1094.7 924.8 L1098.8 921.2 L1101.9 924.3 L1100.4 927.9 L1103.5 932.1 L1099.9 934.7 L1095.7 937.2 L1094.7 940.3 L1098.8 941.9 L1102.4 945.5 L1106.1 948.1 L1111.2 949.1 L1114.3 952.2 L1116.4 956.4 L1113.3 958.4 L1117.4 959.5 L1121.1 957.9 L1122.6 961.6 L1125.7 961.0 L1128.3 965.7 L1125.7 969.8 L1122.6 968.8 L1123.7 972.4 L1120.0 976.0 L1121.1 979.7 L1118.0 983.3 L1114.9 981.2 L1112.3 977.1 L1110.2 974.0 L1106.1 971.4 L1103.5 967.8 L1100.4 965.7 L1096.8 968.8 L1097.8 972.9 L1101.4 976.0 L1103.0 981.2 L1106.1 985.3 L1110.2 989.0 L1112.3 993.6 L1113.8 999.8 L1112.3 1006.0 L1110.2 1010.2 L1107.1 1015.9 L1103.5 1011.2 L1099.9 1006.0 L1096.2 1000.9 L1093.7 996.7 L1097.8 996.2 L1101.9 1000.9 L1106.1 1004.0 L1109.2 1001.9 L1110.7 996.7" fill="none" stroke="#0a0f0f" stroke-width="2.3" stroke-linejoin="round" stroke-linecap="round"/>
<path d="M1045.6 919.1 L1050.2 921.2 L1054.3 924.3 L1058.5 928.4 L1061.6 932.6 L1064.7 936.7 L1067.8 935.7 L1068.8 940.9 L1071.9 944.0 L1075.0 946.0 L1077.1 951.2 L1078.1 956.4 L1076.1 961.6 L1074.0 963.6 L1078.1 964.7 L1082.3 960.5 L1085.4 960.5 L1087.4 964.7 L1091.6 966.2 L1090.6 969.8 L1086.4 969.8 L1083.3 972.4 L1080.2 968.8 L1076.1 966.7 L1071.9 964.7 L1068.8 969.8 L1071.9 975.0 L1070.9 979.1 L1065.7 980.2 L1061.6 981.2 L1057.4 979.1 L1054.3 980.2 L1051.8 984.3 L1052.8 988.4 L1055.9 990.5 L1059.5 989.0 L1062.1 986.4 L1064.7 989.5 L1067.3 986.4 L1071.9 987.4 L1075.0 991.5 L1078.1 996.7 L1081.2 999.8 L1083.3 1005.0 L1087.4 1008.1 L1091.6 1011.2 L1095.7 1013.3 L1101.9 1014.3 L1106.1 1015.9" fill="none" stroke="#0a0f0f" stroke-width="2.3" stroke-linejoin="round" stroke-linecap="round"/>
<path d="M1054.9 951.2 L1056.9 945.5 L1061.1 944.5 L1064.2 949.1 L1063.7 955.3 L1060.6 957.9 L1056.4 956.9 Z" fill="none" stroke="#0a0f0f" stroke-width="2.3" stroke-linejoin="round" stroke-linecap="round"/>
<path d="M1051.8 1010.2 L1055.4 1008.6 L1060.6 1010.7 L1065.7 1012.2 L1071.9 1010.2 L1076.1 1014.3 L1080.2 1018.4 L1084.3 1021.5 L1089.5 1023.6 L1091.6 1026.7 L1090.0 1031.9 L1091.1 1038.1 L1089.5 1043.3 L1092.6 1044.3 L1095.7 1046.4 L1097.8 1049.5 L1101.9 1047.9 L1105.0 1044.3 L1108.1 1043.3 L1109.7 1037.1 L1112.3 1032.9 L1113.3 1029.8 L1116.4 1034.0 L1119.5 1040.2 L1121.6 1046.4 L1124.7 1052.6 L1126.8 1056.7 L1125.7 1060.9 L1128.8 1065.0 L1130.4 1068.0" fill="none" stroke="#0a0f0f" stroke-width="2.3" stroke-linejoin="round" stroke-linecap="round"/>
<path d="M1051.8 1010.2 L1050.2 1014.3 L1052.8 1018.4 L1054.3 1022.6 L1051.8 1026.7 L1053.8 1029.8 L1054.3 1035.0 L1052.3 1040.2 L1049.7 1044.3 L1052.3 1048.4 L1056.4 1052.6 L1058.5 1058.8 L1058.0 1064.0 L1056.4 1068.0" fill="none" stroke="#0a0f0f" stroke-width="2.3" stroke-linejoin="round" stroke-linecap="round"/>
<path d="M1175.4 916.0 L1177.4 920.2 L1178.5 925.3 L1177.4 930.5 L1178.5 935.7 L1175.4 937.8 L1172.3 940.9 L1168.1 942.9 L1166.1 946.0 L1167.1 950.2 L1164.0 953.3 L1165.0 957.4 L1168.1 961.6 L1165.0 966.7 L1166.1 971.9 L1169.2 977.1 L1171.2 983.3 L1170.2 988.4 L1173.3 991.5 L1176.4 988.4 L1179.5 986.4 L1180.0 989.5 L1176.4 993.6 L1173.3 996.7 L1176.4 999.8 L1178.5 1005.0 L1181.6 1008.1 L1183.7 1013.3 L1186.8 1018.4 L1189.9 1022.6 L1190.9 1025.7 L1196.1 1023.1 L1199.2 1021.5 L1202.3 1026.7 L1204.3 1032.9 L1208.5 1029.8 L1212.1 1031.9 L1212.6 1026.7 L1210.5 1021.5 L1213.6 1017.4 L1213.6 1012.2 L1215.7 1008.1 L1211.6 1007.1 L1217.8 1004.0 L1214.7 1001.9 L1220.9 998.8 L1218.8 995.7 L1224.0 993.6 L1219.9 991.5 L1225.0 987.4 L1221.9 984.3 L1227.1 981.2 L1226.1 977.1 L1232.3 975.0 L1235.4 970.9 L1235.4 966.7 L1237.4 969.8 L1236.4 976.0 L1241.6 974.0 L1244.7 968.8 L1249.0 966.7" fill="none" stroke="#0a0f0f" stroke-width="2.3" stroke-linejoin="round" stroke-linecap="round"/>
<path d="M1157.8 921.2 L1160.9 919.1 L1165.0 922.2 L1169.7 926.9 L1171.2 930.5 L1164.0 932.6 L1159.9 929.5 Z" fill="none" stroke="#0a0f0f" stroke-width="2.3" stroke-linejoin="round" stroke-linecap="round"/>
<path d="M1168.1 941.9 L1177.4 947.1 L1178.5 955.3 L1172.3 953.3 L1168.1 950.2 Z" fill="none" stroke="#0a0f0f" stroke-width="2.3" stroke-linejoin="round" stroke-linecap="round"/>
<path d="M1167.1 939.8 L1169.7 949.1" fill="none" stroke="#0a0f0f" stroke-width="3.5999999999999996" stroke-linejoin="round" stroke-linecap="round"/>
<path d="M1278.0 916.0 L1281.1 918.1 L1286.2 919.1 L1293.5 918.6 L1298.7 920.7 L1302.8 922.8 L1305.4 920.7 L1306.9 922.2 L1304.3 925.3 L1300.7 927.9 L1297.6 931.0 L1294.5 930.5 L1292.4 934.7 L1289.3 938.3 L1285.2 940.9 L1280.0 941.4 L1275.9 943.4 L1273.3 945.0 L1271.2 942.9 L1269.2 948.1 L1266.6 945.0 L1264.0 947.1 L1262.4 944.0 L1260.4 940.9 L1259.9 942.9 L1261.4 948.1 L1258.3 951.2 L1255.7 954.3 L1253.7 959.5 L1251.1 964.7 L1249.0 967.8" fill="none" stroke="#0a0f0f" stroke-width="2.3" stroke-linejoin="round" stroke-linecap="round"/>
<path d="M1305.4 966.2 L1306.9 968.8 L1310.0 969.8 L1311.1 972.9 L1310.0 976.0 L1312.1 979.1 L1313.7 976.0 L1315.2 972.9 L1317.3 971.9 L1320.4 974.0 L1323.5 972.4 L1326.1 973.4 L1328.7 971.9 L1331.8 970.9 L1333.3 968.3 L1334.9 966.2 L1337.4 967.8 L1339.5 970.9 L1341.6 972.4 L1342.6 976.0 L1345.7 978.1 L1347.8 981.2 L1347.3 985.3 L1345.2 988.4 L1342.6 990.5 L1340.0 992.6 L1335.9 994.7 L1331.8 996.7 L1328.1 999.3 L1325.0 1000.9 L1321.4 1000.9 L1317.8 999.3 L1314.2 997.2 L1311.1 995.7 L1306.9 995.2 L1305.9 994.7 L1310.0 992.1 L1308.5 989.0 L1306.9 985.3 L1302.8 986.4 L1299.2 985.3 L1300.7 982.8 L1305.4 982.2 L1308.0 981.2 L1304.9 979.1 L1300.7 978.1 L1297.6 976.5 L1297.1 974.5 L1300.7 974.0 L1302.8 971.4 L1303.8 968.3 Z" fill="none" stroke="#0a0f0f" stroke-width="2.3" stroke-linejoin="round" stroke-linecap="round"/>
<path d="M1454.0 995.7 L1449.7 999.8 L1445.5 1004.0 L1441.4 1007.1 L1437.3 1011.2 L1434.7 1015.3 L1433.6 1020.5 L1434.2 1026.7 L1435.2 1031.9 L1436.2 1037.1 L1436.8 1042.2 L1438.3 1046.4 L1442.4 1049.5 L1445.5 1050.0 L1449.7 1048.4 L1454.0 1044.3" fill="none" stroke="#0a0f0f" stroke-width="3.0" stroke-linejoin="round" stroke-linecap="round"/>
<path d="M1377.3 1055.7 L1380.4 1049.5 L1384.5 1046.4 L1388.7 1044.3 L1393.8 1041.2 L1395.9 1044.3 L1392.8 1048.4 L1395.9 1051.5 L1400.5 1050.5 L1399.0 1054.7 L1398.0 1059.8 L1395.9 1064.0 L1391.8 1068.0" fill="none" stroke="#0a0f0f" stroke-width="2.6" stroke-linejoin="round" stroke-linecap="round"/>
<path d="M1377.3 1055.7 L1381.4 1059.8 L1383.5 1064.0 L1383.5 1068.0" fill="none" stroke="#0a0f0f" stroke-width="2.6" stroke-linejoin="round" stroke-linecap="round"/>
<path d="M1511.9 921.2 L1507.8 924.3 L1503.7 926.4 L1499.5 925.3 L1497.4 929.5 L1493.3 930.5 L1489.2 931.6 L1488.1 935.7 L1484.0 936.7 L1481.9 933.6 L1479.9 938.8 L1485.0 941.9 L1481.9 946.0 L1478.8 945.0 L1469.5 947.1 L1470.6 945.0 L1479.9 950.2 L1477.8 955.3 L1474.7 958.4 L1472.6 963.6 L1470.6 967.8 L1469.5 972.9 L1466.9 978.1 L1465.4 983.3 L1462.3 987.4 L1458.1 991.5 L1454.0 995.7" fill="none" stroke="#0a0f0f" stroke-width="2.8" stroke-linejoin="round" stroke-linecap="round"/>
<path d="M1511.9 921.2 L1516.1 918.1 L1520.2 920.2 L1524.3 917.1 L1526.4 920.2 L1529.5 916.0 L1532.6 919.1 L1536.8 916.0 L1539.9 918.1 L1544.0 915.0 L1550.2 917.1 L1552.3 920.2 L1547.1 922.2 L1545.0 925.3 L1550.2 926.4 L1554.3 928.4 L1558.5 925.3 L1559.5 930.5 L1563.7 932.6 L1562.6 935.7 L1567.8 933.6 L1573.0 934.1 L1578.1 936.7 L1583.3 940.9 L1587.4 945.0 L1592.6 948.1 L1596.8 952.2 L1598.8 957.4 L1597.8 962.6 L1594.7 967.8 L1589.5 970.9 L1584.3 971.9 L1578.1 970.9 L1571.9 968.8 L1565.7 965.7 L1561.6 962.1 L1558.5 959.5 L1557.4 960.5 L1560.5 964.7 L1564.7 969.8 L1567.8 972.9 L1568.8 978.1 L1570.4 983.3 L1570.9 987.4 L1574.0 990.5 L1578.1 993.6 L1582.3 995.2 L1584.9 992.6 L1583.3 988.4 L1579.7 986.4 L1578.7 983.3 L1581.2 981.7 L1585.4 984.3 L1589.5 987.4 L1594.7 988.4 L1595.7 984.3 L1593.1 981.2 L1594.7 976.0 L1598.8 972.9 L1603.0 969.8 L1605.0 967.8 L1609.2 970.9 L1612.3 972.9 L1614.3 968.8 L1613.8 963.6 L1611.2 959.5 L1612.3 955.3 L1614.3 952.2 L1612.8 948.1 L1611.8 944.0 L1613.8 942.9 L1617.4 944.5 L1621.6 944.0 L1623.6 950.2 L1621.6 953.3 L1618.5 954.3 L1616.4 957.4 L1618.5 960.5 L1621.6 963.1 L1625.7 963.6 L1628.8 961.6 L1629.9 957.4 L1633.0 954.3 L1639.2 950.2 L1644.3 946.0 L1649.5 942.9 L1654.7 940.9 L1656.8 945.0 L1659.0 948.1" fill="none" stroke="#0a0f0f" stroke-width="2.3" stroke-linejoin="round" stroke-linecap="round"/>
<path d="M1632.4 935.7 L1634.5 931.0 L1639.2 931.6 L1641.2 936.2 L1637.1 939.8 L1633.0 939.3 Z" fill="none" stroke="#0a0f0f" stroke-width="2.3" stroke-linejoin="round" stroke-linecap="round"/>
<path d="M1533.7 938.8 L1536.8 934.7 L1540.9 933.6 L1540.9 937.8 L1536.8 940.3 Z" fill="none" stroke="#0a0f0f" stroke-width="2.3" stroke-linejoin="round" stroke-linecap="round"/>
<path d="M1515.0 972.9 L1518.1 975.0 L1522.3 974.5 L1525.4 977.1 L1527.4 982.2 L1524.3 985.3 L1521.2 989.5 L1518.1 993.6 L1515.0 997.8 L1511.9 1000.9 L1508.8 1005.0 L1507.3 1010.2 L1507.8 1015.3 L1508.8 1020.5 L1508.3 1025.7 L1510.4 1028.8 L1515.0 1031.9 L1519.2 1032.9 L1524.3 1030.9 L1529.5 1028.8 L1532.6 1027.2 L1536.8 1028.3 L1540.9 1026.7 L1544.0 1031.4 L1548.1 1031.9 L1539.9 1037.1 L1534.7 1038.6 L1528.5 1037.1 L1522.3 1039.1 L1517.1 1041.7 L1513.0 1045.3 L1511.9 1049.5 L1516.1 1048.4 L1521.2 1047.4 L1522.3 1051.5 L1520.7 1057.8 L1518.1 1059.8 L1514.0 1055.7 L1509.9 1056.7 L1506.8 1061.9 L1505.7 1068.0" fill="none" stroke="#0a0f0f" stroke-width="2.3" stroke-linejoin="round" stroke-linecap="round"/>
<path d="M1515.0 972.9 L1511.9 976.0 L1509.9 980.2 L1507.8 986.4 L1508.8 989.5 L1505.7 994.7 L1501.6 998.8 L1497.4 1001.9 L1493.3 1006.0 L1490.2 1010.2 L1489.2 1015.3 L1488.1 1020.5 L1489.2 1025.7 L1492.3 1028.8 L1495.4 1031.9 L1497.4 1035.5 L1493.3 1038.1 L1488.1 1037.6 L1491.2 1042.2 L1488.1 1045.3 L1487.1 1049.5 L1486.1 1054.7 L1485.0 1059.8 L1486.1 1065.0 L1485.0 1068.0" fill="none" stroke="#0a0f0f" stroke-width="2.3" stroke-linejoin="round" stroke-linecap="round"/>
<path d="M1546.6 1021.5 L1551.2 1016.9 L1555.4 1020.5 L1558.5 1023.6 L1560.5 1027.8 L1556.4 1029.8 L1553.3 1032.9 L1550.7 1027.8 Z" fill="none" stroke="#0a0f0f" stroke-width="2.3" stroke-linejoin="round" stroke-linecap="round"/>
<path d="M1566.8 1014.3 L1569.9 1009.1 L1573.0 1007.6 L1574.5 1012.2 L1575.0 1018.4 L1576.6 1021.5 L1573.0 1023.6 L1570.9 1019.5 Z" fill="none" stroke="#0a0f0f" stroke-width="2.3" stroke-linejoin="round" stroke-linecap="round"/>
<path d="M1582.3 1046.4 L1586.4 1044.3 L1589.5 1048.4 L1586.4 1051.0 Z" fill="none" stroke="#0a0f0f" stroke-width="2.3" stroke-linejoin="round" stroke-linecap="round"/>
<path d="M1454.0 1028.8 L1458.1 1037.1 L1460.2 1044.3 L1463.3 1049.5 L1465.4 1057.8 L1468.5 1064.0 L1467.4 1068.0" fill="none" stroke="#0a0f0f" stroke-width="3.0" stroke-linejoin="round" stroke-linecap="round"/>
<path d="M1467.4 1045.3 L1472.6 1040.2 L1476.2 1042.8 L1478.3 1048.4 L1474.7 1052.6 L1472.1 1046.9 Z" fill="none" stroke="#0a0f0f" stroke-width="2.6" stroke-linejoin="round" stroke-linecap="round"/>
<path d="M1486.1 1038.1 L1491.2 1040.7 L1497.4 1041.7" fill="none" stroke="#0a0f0f" stroke-width="4.32" stroke-linejoin="round" stroke-linecap="round"/>
<path d="M1509.9 1045.3 L1515.0 1042.2 L1518.1 1044.3 L1514.0 1048.4 Z" fill="none" stroke="#0a0f0f" stroke-width="3" stroke-linejoin="round" stroke-linecap="round"/>
<path d="M1659.0 948.1 L1662.1 946.0 L1664.2 942.9 L1669.3 941.4 L1672.4 942.4 L1676.6 938.8 L1680.7 937.2 L1682.3 941.9 L1683.8 945.0 L1686.9 942.9 L1689.5 938.8 L1689.0 934.1 L1686.9 928.4 L1684.9 924.8 L1681.2 922.8 L1679.2 920.7 L1680.7 917.6 L1683.8 920.2 L1686.4 923.8 L1690.0 925.3 L1695.2 925.9 L1702.4 929.0 L1708.7 932.6 L1714.9 937.2 L1719.0 941.9 L1724.2 947.1 L1726.2 942.9 L1727.8 938.8 L1724.7 936.7 L1723.1 931.6 L1720.0 928.4 L1717.4 926.4 L1719.0 922.2 L1720.5 918.1 L1719.5 915.0" fill="none" stroke="#0a0f0f" stroke-width="2.3" stroke-linejoin="round" stroke-linecap="round"/>
<path d="M1744.9 915.0 L1743.3 921.2 L1743.8 928.4 L1744.3 935.7 L1746.9 941.9 L1745.9 949.1 L1742.8 955.3 L1738.7 960.5 L1737.1 964.7 L1733.5 965.7 L1729.3 964.7 L1727.3 966.2 L1729.3 968.8 L1735.5 970.9 L1740.7 971.4 L1743.3 968.8 L1743.8 965.7 L1748.0 961.6 L1751.1 956.4 L1753.7 951.2 L1752.6 945.0 L1751.1 941.9 L1754.2 939.8 L1758.3 938.3 L1762.4 939.8 L1765.5 945.0 L1766.1 949.1 L1763.5 951.2 L1763.0 953.8 L1766.6 955.9 L1770.2 954.8 L1771.2 952.2 L1768.7 949.7 L1767.6 945.0 L1766.6 939.8 L1763.5 935.7 L1759.3 933.6 L1755.2 932.6 L1751.1 934.1 L1748.5 931.6 L1747.4 925.3 L1748.5 919.1 L1750.0 915.0" fill="none" stroke="#0a0f0f" stroke-width="2.3" stroke-linejoin="round" stroke-linecap="round"/>
<path d="M1129.9 1068.0 L1133.0 1071.1 L1131.9 1075.2 L1136.1 1075.8 L1142.3 1078.3 L1147.4 1080.4 L1143.3 1082.5 L1137.1 1084.6 L1134.0 1086.1 L1133.0 1089.2 L1137.1 1088.2 L1141.2 1085.6 L1145.4 1083.5 L1146.4 1087.7 L1150.5 1087.1 L1153.7 1090.2 L1152.6 1094.9 L1154.7 1098.0 L1151.6 1101.1 L1147.4 1103.2 L1141.2 1105.2 L1137.1 1109.4 L1131.9 1112.0 L1126.8 1112.5 L1120.5 1110.9 L1114.3 1111.4 L1108.1 1110.9 L1104.0 1112.5 L1101.4 1116.6 L1096.8 1119.7 L1092.6 1122.8 L1089.5 1125.9 L1086.4 1130.1 L1083.3 1134.2 L1082.8 1138.3 L1087.4 1134.2 L1091.6 1129.0 L1095.7 1124.9 L1100.9 1121.8 L1106.1 1119.7 L1111.2 1119.2 L1115.4 1120.8 L1114.3 1124.9 L1111.2 1128.0 L1106.1 1127.5 L1109.2 1131.1 L1111.2 1135.2 L1115.4 1136.8 L1118.5 1134.2 L1115.4 1140.4 L1112.8 1144.5 L1108.1 1146.6 L1103.0 1147.7 L1099.9 1149.7 L1094.7 1151.8 L1089.5 1154.9 L1086.4 1158.0 L1084.3 1162.1 L1083.8 1166.3 L1087.4 1167.3 L1088.5 1169.4 L1083.3 1170.4 L1080.2 1172.5 L1075.0 1173.5 L1070.9 1174.5 L1068.8 1177.7 L1068.3 1181.8 L1065.7 1185.9 L1064.7 1190.1 L1062.6 1195.2 L1061.6 1201.4 L1059.5 1206.6 L1056.4 1211.8 L1052.3 1214.9 L1048.1 1217.0 L1045.0 1221.0" fill="none" stroke="#0a0f0f" stroke-width="2.6" stroke-linejoin="round" stroke-linecap="round"/>
<path d="M1154.7 1102.7 L1152.6 1107.3 L1149.5 1111.4 L1148.5 1115.6 L1151.6 1115.1 L1154.7 1116.6 L1156.8 1119.7 L1160.9 1118.7 L1164.0 1119.7 L1163.0 1123.9 L1166.1 1124.9 L1165.0 1129.0 L1168.1 1131.1 L1167.6 1135.2 L1165.0 1136.8 L1161.9 1134.2 L1158.8 1132.7 L1156.8 1135.2 L1152.6 1136.3 L1151.6 1134.2 L1155.7 1132.1 L1153.7 1130.1 L1148.5 1130.6 L1142.3 1130.1 L1137.1 1130.1 L1140.2 1125.9 L1142.3 1120.8 L1144.3 1115.6 L1146.4 1110.4 L1149.5 1106.3 L1152.6 1103.2 Z" fill="none" stroke="#0a0f0f" stroke-width="2.6" stroke-linejoin="round" stroke-linecap="round"/>
<path d="M1082.8 1138.3 L1085.4 1133.2 L1089.5 1126.4" fill="none" stroke="#0a0f0f" stroke-width="3.5999999999999996" stroke-linejoin="round" stroke-linecap="round"/>
<path d="M1079.7 1154.9 L1085.4 1150.8 L1090.6 1147.7 L1095.7 1142.5 L1098.8 1139.4" fill="none" stroke="#0a0f0f" stroke-width="3.2" stroke-linejoin="round" stroke-linecap="round"/>
<path d="M1106.1 1157.0 L1110.2 1158.0 L1115.4 1153.9 L1120.5 1150.8 L1125.7 1148.7 L1129.9 1146.6 L1134.0 1142.5 L1135.0 1138.3 L1131.9 1135.2 L1128.8 1138.3 L1125.7 1142.5 L1120.5 1144.5 L1116.4 1145.6 L1112.3 1147.7 L1108.1 1150.8 L1106.1 1153.9 Z" fill="none" stroke="#0a0f0f" stroke-width="3.0" stroke-linejoin="round" stroke-linecap="round"/>
<path d="M1128.8 1136.3 L1134.0 1139.4 L1131.9 1143.5" fill="none" stroke="#0a0f0f" stroke-width="5.04" stroke-linejoin="round" stroke-linecap="round"/>
<path d="M1115.4 1136.3 L1119.5 1140.4 L1122.6 1140.4" fill="none" stroke="#0a0f0f" stroke-width="4.32" stroke-linejoin="round" stroke-linecap="round"/>
<path d="M1056.9 1070.6 L1073.5 1075.8" fill="none" stroke="#0a0f0f" stroke-width="2.0" stroke-linejoin="round" stroke-linecap="round"/>
<path d="M1088.0 1082.5 L1111.8 1093.9" fill="none" stroke="#0a0f0f" stroke-width="2.0" stroke-linejoin="round" stroke-linecap="round"/>
<path d="M1045.0 1174.0 L1066.2 1165.2" fill="none" stroke="#0a0f0f" stroke-width="2.0" stroke-linejoin="round" stroke-linecap="round"/>
<path d="M1108.1 1083.5 L1113.3 1080.4 L1118.5 1083.5 L1115.4 1085.6 L1111.2 1087.7" fill="none" stroke="#0a0f0f" stroke-width="4.32" stroke-linejoin="round" stroke-linecap="round"/>
<path d="M1135.0 1087.1 L1142.3 1082.5" fill="none" stroke="#0a0f0f" stroke-width="3.5999999999999996" stroke-linejoin="round" stroke-linecap="round"/>
<path d="M1045.0 1068.0 L1048.1 1073.2 L1047.1 1078.3 L1048.7 1086.6 L1048.1 1094.9 L1049.2 1101.1 L1047.1 1107.3" fill="none" stroke="#0a0f0f" stroke-width="3.0" stroke-linejoin="round" stroke-linecap="round"/>
<path d="M1045.0 1157.0 L1050.2 1155.9 L1055.4 1153.9 L1059.5 1154.9 L1057.4 1158.0 L1052.3 1159.0 L1045.0 1160.1" fill="none" stroke="#0a0f0f" stroke-width="2.3" stroke-linejoin="round" stroke-linecap="round"/>
<path d="M1054.3 1189.0 L1058.5 1184.9 L1063.7 1180.8" fill="none" stroke="#0a0f0f" stroke-width="4.32" stroke-linejoin="round" stroke-linecap="round"/>
<path d="M1056.4 1208.7 L1059.5 1204.5 L1062.6 1200.4" fill="none" stroke="#0a0f0f" stroke-width="4.32" stroke-linejoin="round" stroke-linecap="round"/>
<path d="M1069.9 1175.6 L1078.1 1172.5 L1087.4 1168.9" fill="none" stroke="#0a0f0f" stroke-width="3.5999999999999996" stroke-linejoin="round" stroke-linecap="round"/>
<path d="M1454.0 1081.4 L1445.5 1087.7 L1435.2 1092.8 L1431.1 1098.0 L1424.9 1104.2 L1419.7 1108.3 L1416.6 1113.5 L1413.5 1117.7 L1410.4 1118.7 L1406.2 1117.7 L1402.1 1116.6 L1403.1 1120.8 L1399.0 1122.8 L1393.8 1124.4 L1387.6 1123.9 L1390.7 1128.0 L1393.8 1130.1 L1398.0 1132.1 L1401.1 1136.3 L1403.1 1140.4 L1404.2 1144.5 L1406.2 1149.7 L1404.2 1153.9 L1403.1 1159.0 L1399.0 1159.5 L1391.8 1158.0 L1383.5 1157.0 L1373.1 1157.0 L1368.0 1159.0 L1366.9 1163.2 L1369.0 1167.3 L1370.0 1172.5 L1369.0 1178.7 L1367.4 1182.8 L1366.4 1187.0 L1369.0 1190.1 L1370.0 1195.2 L1369.0 1197.3 L1373.1 1196.3 L1378.3 1198.3 L1381.4 1201.4 L1383.5 1203.5" fill="none" stroke="#0a0f0f" stroke-width="2.6" stroke-linejoin="round" stroke-linecap="round"/>
<path d="M1383.5 1203.5 L1388.7 1200.4 L1395.9 1198.3 L1404.2 1195.2 L1407.3 1191.1 L1410.4 1187.0 L1408.8 1182.8 L1411.4 1177.7 L1414.5 1173.5 L1419.7 1170.4 L1423.8 1167.3 L1424.9 1161.1 L1426.9 1159.0 L1432.1 1158.0 L1438.3 1160.1 L1443.5 1157.0 L1448.6 1153.9 L1454.0 1152.3" fill="none" stroke="#0a0f0f" stroke-width="2.6" stroke-linejoin="round" stroke-linecap="round"/>
<path d="M1383.5 1203.5 L1384.5 1205.6 L1388.7 1206.6 L1393.8 1205.6 L1396.9 1206.6 L1402.1 1205.6 L1406.2 1202.5 L1412.4 1200.4 L1418.6 1199.4 L1424.9 1198.3 L1431.1 1197.3 L1438.3 1197.3 L1443.5 1196.3 L1448.6 1196.8 L1454.0 1194.7" fill="none" stroke="#0a0f0f" stroke-width="2.6" stroke-linejoin="round" stroke-linecap="round"/>
<path d="M1383.5 1203.5 L1382.4 1207.7 L1380.4 1211.8 L1377.3 1214.9 L1373.1 1218.0 L1369.0 1221.0" fill="none" stroke="#0a0f0f" stroke-width="2.6" stroke-linejoin="round" stroke-linecap="round"/>
<path d="M1372.1 1076.3 L1377.3 1074.7 L1382.4 1074.2 L1384.5 1078.3 L1383.5 1083.5 L1381.4 1088.7 L1381.9 1093.9 L1379.3 1097.0 L1374.2 1099.0 L1370.0 1102.1 L1364.9 1103.7 L1363.8 1100.1 L1361.8 1098.5 L1365.9 1095.9 L1364.9 1092.8 L1366.9 1090.2 L1363.8 1088.7 L1364.3 1085.1 L1368.0 1083.0 L1365.9 1080.4 L1369.0 1078.3 Z" fill="none" stroke="#0a0f0f" stroke-width="2.8" stroke-linejoin="round" stroke-linecap="round"/>
<path d="M1386.6 1068.0 L1387.6 1072.1 L1385.5 1076.3 L1388.7 1078.3 L1392.8 1076.8 L1395.9 1078.3 L1396.9 1082.5 L1393.8 1086.6 L1394.9 1090.8 L1390.7 1092.8 L1388.7 1095.9 L1387.6 1100.1 L1390.7 1102.1 L1395.9 1103.2 L1398.0 1104.7 L1393.8 1107.3 L1388.7 1110.4 L1384.5 1113.5 L1386.6 1114.6 L1391.8 1111.4 L1396.9 1109.4 L1402.1 1108.3 L1407.3 1107.8 L1412.4 1106.3 L1415.5 1103.2 L1413.5 1101.1 L1416.6 1098.0 L1418.6 1094.9 L1416.6 1092.8 L1412.4 1091.8 L1410.4 1087.7 L1408.3 1083.5 L1405.2 1079.4 L1402.1 1075.2 L1401.1 1071.1 L1400.0 1068.0" fill="none" stroke="#0a0f0f" stroke-width="2.8" stroke-linejoin="round" stroke-linecap="round"/>
<path d="M1454.0 1161.1 L1450.7 1163.2 L1449.7 1167.3 L1451.2 1172.5 L1448.6 1175.6 L1448.6 1181.8 L1450.7 1184.9 L1454.0 1184.9" fill="none" stroke="#0a0f0f" stroke-width="2.6" stroke-linejoin="round" stroke-linecap="round"/>
<path d="M1536.8 1165.2 L1538.3 1159.0 L1541.9 1154.9 L1544.0 1149.7 L1545.5 1144.5 L1549.2 1140.4 L1552.3 1137.3 L1556.4 1135.8 L1558.5 1139.4 L1562.6 1141.4 L1564.2 1144.5 L1559.5 1145.6 L1561.6 1149.7 L1565.7 1151.8 L1568.8 1148.7 L1571.9 1146.6 L1576.1 1146.1 L1581.2 1145.1 L1582.3 1148.7 L1584.3 1151.8 L1587.4 1153.9 L1591.6 1158.0 L1596.8 1164.2 L1598.8 1170.4 L1593.7 1172.5 L1587.4 1171.4 L1581.2 1170.4 L1576.1 1168.3 L1570.9 1167.3 L1564.7 1166.3 L1559.5 1167.3 L1553.3 1170.4 L1547.1 1172.5 L1541.9 1171.4 L1537.8 1168.9 Z" fill="none" stroke="#0a0f0f" stroke-width="2.5" stroke-linejoin="round" stroke-linecap="round"/>
<path d="M1569.3 1140.4 L1576.1 1137.3 L1583.3 1135.2 L1590.5 1132.7 L1591.6 1134.2 L1587.4 1137.3 L1588.5 1141.4 L1585.4 1144.5 L1581.2 1145.1 L1576.1 1146.1 L1571.9 1146.6 Z" fill="none" stroke="#0a0f0f" stroke-width="2.5" stroke-linejoin="round" stroke-linecap="round"/>
<path d="M1659.0 1192.1 L1655.7 1190.1 L1654.2 1183.9 L1654.7 1177.7 L1653.6 1171.4 L1650.5 1165.2 L1647.4 1159.0 L1644.3 1153.9 L1640.2 1151.8 L1644.3 1148.7 L1648.5 1144.5 L1652.6 1142.5 L1654.7 1138.3 L1651.6 1135.2 L1646.4 1134.2 L1640.2 1136.3 L1634.0 1139.4 L1627.8 1144.5 L1623.6 1150.8 L1626.8 1155.9 L1628.8 1163.2 L1631.9 1169.4 L1636.1 1175.6 L1639.2 1177.7 L1636.1 1182.8 L1635.0 1189.0 L1638.1 1194.2 L1642.3 1198.3 L1647.4 1200.4 L1654.7 1199.4 L1659.0 1198.3" fill="none" stroke="#0a0f0f" stroke-width="2.6" stroke-linejoin="round" stroke-linecap="round"/>
<path d="M1465.4 1146.6 L1469.5 1143.5 L1473.7 1144.5 L1477.8 1149.7 L1480.9 1153.9 L1485.0 1158.0 L1489.2 1161.1 L1493.3 1165.2 L1497.4 1169.4 L1499.5 1173.5 L1498.5 1177.7 L1495.4 1176.6 L1492.3 1174.5 L1488.1 1177.7 L1490.2 1181.8 L1487.1 1185.9 L1484.0 1190.1 L1480.9 1192.1 L1478.8 1197.3 L1474.7 1195.2 L1468.5 1193.2 L1467.4 1191.1 L1473.7 1190.1 L1478.8 1187.0 L1481.9 1182.8 L1484.0 1177.7 L1481.9 1172.5 L1477.8 1167.3 L1474.7 1162.1 L1470.6 1157.0 L1467.4 1151.8 Z" fill="none" stroke="#0a0f0f" stroke-width="2.8" stroke-linejoin="round" stroke-linecap="round"/>
<path d="M1499.5 1173.5 L1501.6 1179.7 L1504.7 1183.9 L1506.8 1188.0 L1503.7 1190.6 L1507.8 1193.2 L1510.9 1197.3 L1514.0 1200.4 L1516.1 1202.5 L1518.1 1198.3 L1516.1 1194.2 L1514.0 1190.1 L1513.0 1184.9 L1511.9 1179.7 L1515.0 1176.6 L1518.1 1180.8 L1520.2 1185.9 L1522.3 1190.1 L1521.2 1195.2" fill="none" stroke="#0a0f0f" stroke-width="3.2" stroke-linejoin="round" stroke-linecap="round"/>
<path d="M1526.4 1175.6 L1530.5 1174.5 L1536.8 1173.5 L1543.0 1172.5" fill="none" stroke="#0a0f0f" stroke-width="3.2" stroke-linejoin="round" stroke-linecap="round"/>
<path d="M1528.5 1179.7 L1530.5 1184.9 L1532.6 1190.1 L1534.7 1195.2 L1536.8 1198.3 L1540.9 1199.4 L1545.0 1198.3 L1549.2 1197.3 L1553.3 1199.4 L1557.4 1201.4 L1561.6 1200.4 L1565.7 1201.4 L1569.9 1199.4 L1575.0 1197.3 L1576.1 1200.4 L1575.0 1205.6 L1576.1 1210.8 L1574.0 1215.9 L1571.9 1221.0" fill="none" stroke="#0a0f0f" stroke-width="2.8" stroke-linejoin="round" stroke-linecap="round"/>
<path d="M1558.5 1209.7 L1562.6 1207.1 L1567.8 1205.6 L1566.2 1208.2 L1562.6 1210.2 L1559.5 1211.3 Z" fill="none" stroke="#0a0f0f" stroke-width="3" stroke-linejoin="round" stroke-linecap="round"/>
<path d="M1454.0 1192.1 L1458.1 1196.3 L1461.2 1197.3 L1459.2 1202.5 L1460.2 1207.7 L1457.1 1212.8 L1460.2 1217.0 L1464.3 1220.1 L1469.5 1221.0" fill="none" stroke="#0a0f0f" stroke-width="2.6" stroke-linejoin="round" stroke-linecap="round"/>
<path d="M1454.0 1085.6 L1460.2 1082.5 L1466.4 1084.6 L1472.6 1082.5 L1477.8 1087.1 L1484.0 1081.4 L1490.2 1079.4 L1495.4 1081.4 L1499.5 1078.3 L1505.7 1077.3 L1507.8 1073.2 L1506.8 1068.0" fill="none" stroke="#0a0f0f" stroke-width="3.0" stroke-linejoin="round" stroke-linecap="round"/>
<path d="M1456.1 1072.1 L1462.3 1074.2 L1469.5 1072.1" fill="none" stroke="#0a0f0f" stroke-width="5.04" stroke-linejoin="round" stroke-linecap="round"/>
<path d="M1516.1 1176.6 L1520.2 1181.8 L1518.1 1190.1" fill="none" stroke="#0a0f0f" stroke-width="4.32" stroke-linejoin="round" stroke-linecap="round"/>
<path d="M1679.7 1158.0 L1678.7 1148.7 L1680.7 1142.5 L1684.9 1139.4 L1689.0 1136.8 L1693.1 1137.3 L1692.1 1142.5 L1690.0 1145.6 L1693.1 1149.7 L1691.1 1153.9 L1690.0 1158.0 L1684.9 1159.5 Z" fill="none" stroke="#0a0f0f" stroke-width="2.5" stroke-linejoin="round" stroke-linecap="round"/>
<path d="M1748.0 1147.7 L1746.9 1142.5 L1749.0 1138.3 L1753.1 1136.3 L1758.3 1137.3 L1764.5 1138.9 L1770.7 1138.3 L1773.8 1136.3 L1774.3 1138.9 L1770.7 1140.9 L1764.5 1140.4 L1758.3 1139.4 L1753.1 1139.4 L1751.1 1142.5 L1751.1 1147.7 Z" fill="none" stroke="#0a0f0f" stroke-width="3.0" stroke-linejoin="round" stroke-linecap="round"/>
<path d="M1759.3 1164.2 L1765.5 1162.7 L1770.7 1162.7 L1767.6 1167.3 L1761.4 1167.3 Z" fill="none" stroke="#0a0f0f" stroke-width="3.0" stroke-linejoin="round" stroke-linecap="round"/>
<path d="M1045.0 1335.8 L1049.2 1337.9 L1052.3 1341.0 L1056.4 1344.1 L1059.5 1338.9 L1062.6 1335.8 L1063.7 1331.7 L1066.8 1328.6 L1070.9 1328.1 L1075.0 1326.5 L1079.2 1323.4 L1082.3 1322.9 L1081.2 1326.5 L1080.2 1330.7 L1083.3 1328.6 L1087.4 1327.5 L1091.6 1327.0 L1094.7 1328.6 L1096.8 1331.7 L1101.9 1332.2 L1106.1 1332.7 L1110.2 1334.8 L1113.3 1333.8 L1115.4 1330.7 L1120.5 1330.1 L1124.7 1331.7 L1128.8 1330.7 L1131.4 1328.6 L1129.9 1332.7 L1130.9 1336.9 L1127.8 1340.0 L1125.7 1341.5 L1130.9 1341.0 L1136.1 1343.1 L1140.2 1347.2 L1141.2 1351.3 L1144.3 1351.3 L1147.4 1353.9 L1152.6 1353.4 L1157.8 1352.9 L1163.0 1354.4 L1168.1 1357.5 L1173.3 1361.7 L1175.4 1365.8 L1176.9 1371.0" fill="none" stroke="#0a0f0f" stroke-width="2.8" stroke-linejoin="round" stroke-linecap="round"/>
<path d="M1078.1 1334.8 L1080.2 1331.7 L1083.3 1333.8 L1084.3 1336.9 L1081.8 1339.4 L1078.7 1337.4 Z" fill="none" stroke="#0a0f0f" stroke-width="2.5" stroke-linejoin="round" stroke-linecap="round"/>
<path d="M1045.0 1338.9 L1048.1 1341.0 L1051.2 1345.1 L1053.8 1350.3 L1055.4 1356.5 L1055.9 1362.7 L1053.8 1367.9 L1049.2 1371.0" fill="none" stroke="#0a0f0f" stroke-width="2.8" stroke-linejoin="round" stroke-linecap="round"/>
<path d="M1071.9 1287.2 L1077.1 1286.7 L1082.3 1287.2 L1087.4 1288.2 L1090.6 1291.3 L1094.7 1293.4 L1092.6 1295.5 L1087.4 1295.0 L1084.3 1296.5 L1082.3 1298.6 L1079.2 1297.5 L1075.0 1296.0 L1069.9 1296.0 L1068.3 1293.9 L1074.0 1292.4 L1075.0 1289.3 Z" fill="none" stroke="#0a0f0f" stroke-width="2.8" stroke-linejoin="round" stroke-linecap="round"/>
<path d="M1045.0 1274.8 L1050.2 1276.9 L1056.4 1280.0 L1062.6 1283.1 L1068.8 1285.7 L1064.7 1287.2 L1058.5 1286.2 L1053.3 1287.2 L1055.4 1284.1 L1050.2 1281.0 L1045.0 1278.9" fill="none" stroke="#0a0f0f" stroke-width="2.8" stroke-linejoin="round" stroke-linecap="round"/>
<path d="M1050.2 1295.7 L1055.4 1295.0 L1060.0 1296.5" fill="none" stroke="#0a0f0f" stroke-width="3.5999999999999996" stroke-linejoin="round" stroke-linecap="round"/>
<path d="M1100.9 1295.7 L1108.7 1295.7" fill="none" stroke="#0a0f0f" stroke-width="3.2399999999999998" stroke-linejoin="round" stroke-linecap="round"/>
<path d="M1050.7 1262.4 L1053.8 1267.6" fill="none" stroke="#0a0f0f" stroke-width="3.2399999999999998" stroke-linejoin="round" stroke-linecap="round"/>
<path d="M1114.3 1332.2 L1120.5 1332.2 L1126.8 1333.8 L1129.9 1330.7" fill="none" stroke="#0a0f0f" stroke-width="3.5999999999999996" stroke-linejoin="round" stroke-linecap="round"/>
<path d="M1369.0 1221.0 L1366.9 1225.1 L1364.9 1229.3 L1365.9 1233.4 L1363.8 1237.6 L1359.7 1241.7 L1355.5 1244.3 L1350.4 1245.8 L1348.3 1250.0 L1344.2 1254.1 L1342.1 1258.2 L1341.1 1263.4 L1338.0 1266.5 L1335.9 1270.7 L1333.8 1274.8 L1331.8 1278.9 L1331.2 1283.1 L1333.8 1284.1 L1335.4 1287.2 L1333.8 1289.8 L1335.9 1293.4 L1336.4 1298.6 L1334.9 1303.8 L1333.3 1307.9 L1331.8 1311.0 L1329.2 1312.5 L1331.8 1314.1 L1333.8 1318.2 L1332.8 1323.4 L1335.9 1325.5 L1340.0 1326.5 L1339.0 1328.6 L1342.1 1330.7 L1345.2 1333.8 L1348.3 1336.9 L1349.9 1341.0 L1349.3 1343.1 L1352.4 1346.2 L1357.6 1349.3 L1362.8 1353.4 L1368.0 1357.5 L1375.2 1360.7 L1381.4 1357.5 L1387.6 1356.0 L1393.8 1356.5 L1400.0 1358.6 L1406.2 1356.5 L1412.4 1354.4 L1416.6 1351.9 L1422.8 1351.3 L1428.0 1350.3 L1432.1 1352.4 L1434.2 1355.5 L1435.2 1359.6 L1438.3 1360.7 L1443.5 1359.6 L1448.6 1358.6 L1450.7 1361.7 L1454.0 1362.7" fill="none" stroke="#0a0f0f" stroke-width="2.8" stroke-linejoin="round" stroke-linecap="round"/>
<path d="M1335.9 1327.5 L1340.5 1326.5" fill="none" stroke="#0a0f0f" stroke-width="4.32" stroke-linejoin="round" stroke-linecap="round"/>
<path d="M1464.3 1221.0 L1471.6 1222.0 L1478.8 1224.1 L1480.9 1227.2 L1487.1 1229.3 L1493.3 1231.3 L1497.4 1233.9 L1500.6 1232.4 L1502.6 1229.3 L1501.6 1226.2 L1504.7 1223.1 L1509.9 1222.0 L1516.1 1223.6 L1522.3 1225.1 L1528.5 1226.7 L1534.7 1228.2 L1539.9 1230.3 L1544.0 1231.3 L1548.1 1229.3 L1553.3 1228.2 L1556.4 1230.3 L1561.6 1230.8 L1565.7 1229.3 L1568.8 1227.2 L1570.9 1223.1 L1570.9 1221.0" fill="none" stroke="#0a0f0f" stroke-width="2.6" stroke-linejoin="round" stroke-linecap="round"/>
<path d="M1559.5 1239.6 L1562.6 1244.8 L1565.7 1251.0 L1568.8 1257.2 L1571.9 1262.4 L1573.5 1266.5 L1574.0 1270.7 L1578.1 1274.8 L1580.2 1278.9 L1580.7 1284.1 L1581.2 1291.3 L1584.3 1294.4 L1587.4 1297.5 L1589.5 1302.7 L1591.6 1307.9 L1595.7 1311.0 L1599.9 1314.1 L1604.0 1318.2 L1608.1 1320.3 L1609.2 1324.4 L1611.2 1328.6 L1614.3 1332.2 L1618.5 1331.7 L1623.6 1329.6 L1629.9 1327.5 L1636.1 1327.0 L1642.3 1325.5 L1645.4 1326.5 L1644.9 1331.7 L1643.3 1336.9 L1640.2 1343.1 L1637.1 1349.3 L1633.0 1355.5 L1628.8 1361.7 L1623.6 1366.9 L1618.5 1371.0" fill="none" stroke="#0a0f0f" stroke-width="2.5" stroke-linejoin="round" stroke-linecap="round"/>
<path d="M1570.9 1240.7 L1573.0 1245.8 L1576.1 1252.0 L1579.2 1258.2 L1581.2 1263.4 L1585.4 1266.5 L1588.5 1270.7 L1590.0 1275.8 L1590.5 1281.0 L1593.7 1285.1 L1597.8 1289.3 L1600.9 1294.4 L1604.0 1299.6 L1606.6 1304.8 L1607.1 1311.0 L1608.1 1316.2 L1609.2 1320.3 L1613.3 1320.8 L1618.5 1319.3 L1624.7 1317.2 L1629.9 1314.1 L1635.0 1312.5 L1640.2 1310.0 L1646.4 1307.9 L1649.5 1305.8 L1650.5 1302.7 L1654.7 1301.2 L1659.0 1300.1" fill="none" stroke="#0a0f0f" stroke-width="2.5" stroke-linejoin="round" stroke-linecap="round"/>
<path d="M1559.5 1239.6 L1565.7 1240.1 L1570.9 1240.7 L1567.8 1245.3 L1565.7 1246.9 L1562.6 1244.3 Z" fill="none" stroke="#0a0f0f" stroke-width="2.5" stroke-linejoin="round" stroke-linecap="round"/>
<path d="M1628.8 1239.1 L1630.9 1235.5 L1636.1 1233.9 L1640.2 1235.0 L1643.3 1239.6 L1645.4 1243.8 L1648.5 1246.9 L1652.6 1250.0 L1659.0 1252.0" fill="none" stroke="#0a0f0f" stroke-width="2.6" stroke-linejoin="round" stroke-linecap="round"/>
<path d="M1628.8 1239.1 L1631.9 1243.8 L1635.0 1248.9 L1639.2 1254.1 L1642.3 1260.3 L1645.4 1264.4 L1649.5 1267.0 L1654.7 1266.5 L1659.0 1265.5" fill="none" stroke="#0a0f0f" stroke-width="2.6" stroke-linejoin="round" stroke-linecap="round"/>
<path d="M1641.2 1255.1 L1645.4 1257.2 L1646.4 1262.4" fill="none" stroke="#0a0f0f" stroke-width="3.5999999999999996" stroke-linejoin="round" stroke-linecap="round"/>
<path d="M1469.5 1314.1 L1475.7 1313.6 L1476.8 1318.2 L1480.9 1319.8 L1474.7 1323.4 L1471.6 1320.3 Z" fill="none" stroke="#0a0f0f" stroke-width="2.5" stroke-linejoin="round" stroke-linecap="round"/>
<path d="M1575.0 1359.6 L1576.6 1364.8 L1579.2 1370.0" fill="none" stroke="#0a0f0f" stroke-width="3.2399999999999998" stroke-linejoin="round" stroke-linecap="round"/>
<path d="M1454.0 1361.7 L1456.1 1367.9 L1455.0 1374.0" fill="none" stroke="#0a0f0f" stroke-width="3" stroke-linejoin="round" stroke-linecap="round"/>
<path d="M1659.0 1253.1 L1663.1 1251.0 L1668.3 1249.4 L1671.4 1251.0 L1673.5 1256.2 L1679.7 1258.2 L1685.9 1259.8 L1692.1 1260.8 L1698.3 1259.8 L1704.5 1258.8 L1710.7 1259.5 L1716.9 1259.3 L1719.0 1262.4 L1721.1 1266.5 L1725.2 1269.1 L1731.4 1270.7 L1734.5 1272.2 L1732.4 1274.8 L1727.3 1274.8 L1730.4 1278.9 L1735.5 1283.1 L1739.7 1282.0 L1742.8 1280.0 L1743.8 1275.8 L1743.8 1285.1 L1744.9 1293.4 L1746.9 1301.7 L1750.0 1308.9 L1753.1 1316.2 L1756.2 1323.4 L1759.3 1329.6 L1761.4 1335.8 L1763.5 1341.0 L1766.6 1343.6 L1770.2 1338.9 L1773.8 1336.9 L1775.9 1333.2 L1776.4 1328.6 L1778.0 1322.4 L1779.5 1317.2 L1779.0 1312.0 L1778.0 1306.9 L1782.1 1303.8 L1786.2 1300.7 L1790.4 1297.5 L1794.5 1294.4 L1798.7 1290.3 L1802.8 1287.2 L1806.9 1285.1 L1809.0 1281.0 L1811.1 1277.9 L1814.2 1275.8 L1819.3 1276.9 L1823.5 1274.8 L1825.5 1270.7 L1828.6 1272.7 L1832.8 1276.9 L1835.9 1282.0 L1840.0 1286.2 L1843.1 1291.3 L1845.2 1296.5 L1844.2 1302.7 L1843.1 1305.8 L1848.3 1306.9 L1852.4 1303.8 L1855.0 1299.6 L1857.6 1303.8 L1859.7 1310.0 L1861.8 1316.2 L1862.6 1322.4" fill="none" stroke="#0a0f0f" stroke-width="2.5" stroke-linejoin="round" stroke-linecap="round"/>
<path d="M1776.9 1334.8 L1780.0 1335.8 L1784.2 1340.0 L1786.8 1345.1 L1785.7 1350.3 L1781.1 1352.9 L1778.0 1352.4 L1776.4 1347.2 L1775.9 1341.0 Z" fill="none" stroke="#0a0f0f" stroke-width="2.5" stroke-linejoin="round" stroke-linecap="round"/>
<path d="M1659.0 1265.5 L1663.1 1262.4 L1667.3 1258.2 L1668.8 1254.1 L1669.3 1260.3 L1671.4 1264.4 L1676.6 1268.6 L1681.8 1271.7 L1685.9 1274.8 L1682.8 1278.9 L1679.7 1283.1 L1675.6 1286.2 L1674.5 1291.3 L1670.4 1293.4 L1667.3 1297.5 L1663.1 1299.6 L1659.0 1301.7" fill="none" stroke="#0a0f0f" stroke-width="2.5" stroke-linejoin="round" stroke-linecap="round"/>
<path d="M1846.8 1355.5 L1851.4 1354.4 L1857.6 1356.5 L1862.6 1359.6" fill="none" stroke="#0a0f0f" stroke-width="2.5" stroke-linejoin="round" stroke-linecap="round"/>
<path d="M1846.8 1355.5 L1849.3 1360.7 L1853.5 1365.8 L1858.6 1370.0 L1862.6 1371.0" fill="none" stroke="#0a0f0f" stroke-width="2.5" stroke-linejoin="round" stroke-linecap="round"/>
<ellipse cx="1371.1" cy="909.7" rx="3.1" ry="1.9" fill="#0a0f0f"/>
<ellipse cx="1751.6" cy="878.9" rx="1.6" ry="1.7" fill="#0a0f0f"/>
<ellipse cx="1772.3" cy="880.4" rx="1.6" ry="1.7" fill="#0a0f0f"/>
<ellipse cx="1785.7" cy="840.6" rx="1.6" ry="1.9" fill="#0a0f0f"/>
<ellipse cx="1804.9" cy="853.0" rx="1.6" ry="1.7" fill="#0a0f0f"/>
<ellipse cx="1851.4" cy="808.6" rx="1.6" ry="2.5" fill="#0a0f0f"/>
<ellipse cx="1048.1" cy="934.1" rx="1.9" ry="2.3" fill="#0a0f0f"/>
<ellipse cx="1056.4" cy="932.1" rx="1.7" ry="1.9" fill="#0a0f0f"/>
<ellipse cx="1050.2" cy="1000.9" rx="1.6" ry="1.6" fill="#0a0f0f"/>
<ellipse cx="1054.3" cy="997.8" rx="1.6" ry="1.6" fill="#0a0f0f"/>
<ellipse cx="1056.9" cy="999.8" rx="1.6" ry="1.6" fill="#0a0f0f"/>
<ellipse cx="1111.8" cy="1018.4" rx="1.7" ry="2.1" fill="#0a0f0f"/>
<ellipse cx="1097.3" cy="1028.8" rx="1.6" ry="1.6" fill="#0a0f0f"/>
<ellipse cx="1377.8" cy="1012.8" rx="1.6" ry="1.6" fill="#0a0f0f"/>
<ellipse cx="1378.3" cy="1017.9" rx="1.6" ry="1.6" fill="#0a0f0f"/>
<ellipse cx="1404.2" cy="1030.9" rx="1.6" ry="1.6" fill="#0a0f0f"/>
<ellipse cx="1406.2" cy="1058.8" rx="1.6" ry="1.6" fill="#0a0f0f"/>
<ellipse cx="1502.1" cy="1030.3" rx="1.6" ry="1.6" fill="#0a0f0f"/>
<ellipse cx="1494.9" cy="1054.7" rx="1.6" ry="1.9" fill="#0a0f0f"/>
<ellipse cx="1788.3" cy="917.6" rx="1.6" ry="2.3" fill="#0a0f0f"/>
<ellipse cx="1793.0" cy="917.6" rx="1.6" ry="2.3" fill="#0a0f0f"/>
<ellipse cx="1661.1" cy="916.0" rx="1.9" ry="1.6" fill="#0a0f0f"/>
<ellipse cx="1055.4" cy="1093.9" rx="1.6" ry="1.6" fill="#0a0f0f"/>
<ellipse cx="1065.7" cy="1095.9" rx="1.6" ry="1.6" fill="#0a0f0f"/>
<ellipse cx="1074.0" cy="1101.1" rx="1.6" ry="1.6" fill="#0a0f0f"/>
<ellipse cx="1082.3" cy="1107.3" rx="1.6" ry="1.6" fill="#0a0f0f"/>
<ellipse cx="1090.6" cy="1113.5" rx="1.6" ry="1.6" fill="#0a0f0f"/>
<ellipse cx="1077.1" cy="1139.4" rx="1.6" ry="1.6" fill="#0a0f0f"/>
<ellipse cx="1070.9" cy="1147.7" rx="1.6" ry="1.6" fill="#0a0f0f"/>
<ellipse cx="1135.0" cy="1154.9" rx="1.6" ry="1.6" fill="#0a0f0f"/>
<ellipse cx="1266.6" cy="1182.8" rx="1.6" ry="1.6" fill="#0a0f0f"/>
<ellipse cx="1279.5" cy="1188.5" rx="1.6" ry="1.6" fill="#0a0f0f"/>
<ellipse cx="1284.7" cy="1187.0" rx="1.6" ry="1.6" fill="#0a0f0f"/>
<ellipse cx="1292.4" cy="1192.7" rx="1.6" ry="1.6" fill="#0a0f0f"/>
<ellipse cx="1416.1" cy="1185.4" rx="1.6" ry="1.6" fill="#0a0f0f"/>
<ellipse cx="1423.8" cy="1181.8" rx="1.6" ry="1.6" fill="#0a0f0f"/>
<ellipse cx="1428.5" cy="1179.7" rx="1.6" ry="1.6" fill="#0a0f0f"/>
<ellipse cx="1331.8" cy="1221.0" rx="1.6" ry="1.6" fill="#0a0f0f"/>
<ellipse cx="1388.7" cy="1083.5" rx="1.6" ry="1.6" fill="#0a0f0f"/>
<ellipse cx="1410.9" cy="1075.2" rx="1.6" ry="1.6" fill="#0a0f0f"/>
<ellipse cx="1433.1" cy="1094.4" rx="1.9" ry="1.9" fill="#0a0f0f"/>
<ellipse cx="1476.2" cy="1203.5" rx="1.6" ry="1.6" fill="#0a0f0f"/>
<ellipse cx="1607.1" cy="1187.0" rx="2.3" ry="1.9" fill="#0a0f0f"/>
<ellipse cx="1617.4" cy="1193.2" rx="1.6" ry="2.5" fill="#0a0f0f"/>
<ellipse cx="1112.3" cy="1297.5" rx="1.6" ry="1.6" fill="#0a0f0f"/>
<ellipse cx="1048.1" cy="1253.1" rx="1.6" ry="1.6" fill="#0a0f0f"/>
<ellipse cx="1053.3" cy="1252.0" rx="1.6" ry="1.6" fill="#0a0f0f"/>
<ellipse cx="1055.9" cy="1256.2" rx="1.6" ry="1.6" fill="#0a0f0f"/>
<ellipse cx="1057.4" cy="1260.3" rx="1.6" ry="1.6" fill="#0a0f0f"/>
<ellipse cx="1060.6" cy="1262.4" rx="1.6" ry="1.6" fill="#0a0f0f"/>
<ellipse cx="1063.7" cy="1266.5" rx="1.6" ry="1.6" fill="#0a0f0f"/>
<ellipse cx="1064.7" cy="1270.7" rx="1.6" ry="1.6" fill="#0a0f0f"/>
<ellipse cx="1068.8" cy="1273.8" rx="1.6" ry="1.6" fill="#0a0f0f"/>
<ellipse cx="1069.9" cy="1275.8" rx="1.6" ry="1.6" fill="#0a0f0f"/>
<ellipse cx="1073.0" cy="1281.5" rx="1.6" ry="1.6" fill="#0a0f0f"/>
<ellipse cx="1125.7" cy="1300.7" rx="1.6" ry="1.6" fill="#0a0f0f"/>
<ellipse cx="1127.8" cy="1304.8" rx="1.6" ry="1.6" fill="#0a0f0f"/>
<ellipse cx="1128.8" cy="1308.9" rx="1.6" ry="1.6" fill="#0a0f0f"/>
<ellipse cx="1129.9" cy="1313.1" rx="1.6" ry="1.6" fill="#0a0f0f"/>
<ellipse cx="1129.3" cy="1317.2" rx="1.6" ry="1.6" fill="#0a0f0f"/>
<ellipse cx="1128.8" cy="1320.3" rx="1.6" ry="1.6" fill="#0a0f0f"/>
<ellipse cx="1126.2" cy="1324.4" rx="1.6" ry="1.6" fill="#0a0f0f"/>
<ellipse cx="1136.6" cy="1319.3" rx="1.6" ry="1.6" fill="#0a0f0f"/>
<ellipse cx="1112.3" cy="1223.1" rx="1.6" ry="1.6" fill="#0a0f0f"/>
<ellipse cx="1328.1" cy="1242.7" rx="1.6" ry="1.6" fill="#0a0f0f"/>
<ellipse cx="1327.6" cy="1247.9" rx="1.6" ry="1.6" fill="#0a0f0f"/>
<ellipse cx="1333.8" cy="1245.3" rx="1.6" ry="1.6" fill="#0a0f0f"/>
<ellipse cx="1338.5" cy="1246.3" rx="1.6" ry="1.6" fill="#0a0f0f"/>
<ellipse cx="1345.7" cy="1244.3" rx="1.6" ry="1.6" fill="#0a0f0f"/>
<ellipse cx="1347.3" cy="1241.2" rx="1.6" ry="1.6" fill="#0a0f0f"/>
<ellipse cx="1294.5" cy="1300.7" rx="1.6" ry="1.6" fill="#0a0f0f"/>
<ellipse cx="1305.4" cy="1305.3" rx="1.6" ry="1.6" fill="#0a0f0f"/>
<ellipse cx="1301.2" cy="1310.5" rx="1.6" ry="1.6" fill="#0a0f0f"/>
<ellipse cx="1331.8" cy="1221.5" rx="1.6" ry="1.6" fill="#0a0f0f"/>
<ellipse cx="1581.2" cy="1325.0" rx="1.6" ry="1.6" fill="#0a0f0f"/>
<ellipse cx="1850.4" cy="1370.0" rx="1.6" ry="1.6" fill="#0a0f0f"/>
<ellipse cx="1748.0" cy="1365.3" rx="1.6" ry="1.6" fill="#0a0f0f"/>
<ellipse cx="1659.0" cy="1322.9" rx="1.6" ry="1.6" fill="#0a0f0f"/>
<ellipse cx="1841.1" cy="1348.2" rx="1.6" ry="1.6" fill="#0a0f0f"/>
<ellipse cx="1772.3" cy="1206.8" rx="4" ry="3" transform="rotate(-35 1772.3 1206.8)" fill="#f9e4e0"/>
<ellipse cx="1789" cy="1207" rx="3.8" ry="0.9" fill="#f9e4e0"/>
<path d="M1262.4 1056.7 L1255.0 1068.0 L1250.6 1078.3" fill="none" stroke="#0a0f0f" stroke-width="4.9" stroke-linecap="butt" stroke-linejoin="round"/>
<path d="M1254.7 1097.0 L1262.4 1109.4 L1268.7 1117.7" fill="none" stroke="#0a0f0f" stroke-width="4.9" stroke-linecap="butt" stroke-linejoin="round"/>
<path d="M1280.6 1129.0 L1290.4 1134.2 L1302.8 1140.9" fill="none" stroke="#0a0f0f" stroke-width="4.9" stroke-linecap="butt" stroke-linejoin="round"/>
<path d="M1317.3 1149.2 L1341.0 1159.5" fill="none" stroke="#0a0f0f" stroke-width="4.9" stroke-linecap="butt" stroke-linejoin="round"/>
<path d="M1356.6 1163.7 L1368.0 1165.2 L1381.9 1163.2" fill="none" stroke="#0a0f0f" stroke-width="4.9" stroke-linecap="butt" stroke-linejoin="round"/>
<path d="M1394.9 1152.8 L1408.3 1132.7" fill="none" stroke="#0a0f0f" stroke-width="4.9" stroke-linecap="butt" stroke-linejoin="round"/>
<path d="M1273.8 1045.9 L1283.0 1035.0 L1293.5 1029.8" fill="none" stroke="#0a0f0f" stroke-width="4.9" stroke-linecap="butt" stroke-linejoin="round"/>
<path d="M1309.0 1023.1 L1331.8 1010.7" fill="none" stroke="#0a0f0f" stroke-width="4.9" stroke-linecap="butt" stroke-linejoin="round"/>
<path d="M1347.8 1008.1 L1361.0 1008.0 L1373.7 1009.7" fill="none" stroke="#0a0f0f" stroke-width="4.9" stroke-linecap="butt" stroke-linejoin="round"/>
<path d="M1387.6 1016.9 L1410.4 1028.8" fill="none" stroke="#0a0f0f" stroke-width="4.9" stroke-linecap="butt" stroke-linejoin="round"/>
<path d="M1410.4 1028.8 L1416.6 1036.0 L1420.7 1043.3 L1424.3 1050.5 L1428.0 1062.0 L1429.0 1072.0 L1427.0 1091.0 L1424.9 1104.2 L1418.7 1116.6 L1408.3 1132.7" fill="none" stroke="#0a0f0f" stroke-width="1.6" stroke-linecap="butt" stroke-linejoin="round"/>
<path d="M1534.7 1068.0 L1537.8 1057.8 L1545.0 1044.8" fill="none" stroke="#0a0f0f" stroke-width="4.9" stroke-linecap="butt" stroke-linejoin="round"/>
<path d="M1553.3 1032.9 L1565.7 1028.8 L1579.7 1027.2" fill="none" stroke="#0a0f0f" stroke-width="4.9" stroke-linecap="butt" stroke-linejoin="round"/>
<path d="M1594.7 1034.0 L1612.8 1053.6" fill="none" stroke="#0a0f0f" stroke-width="4.9" stroke-linecap="butt" stroke-linejoin="round"/>
<path d="M1623.6 1068.0 L1639.2 1085.6" fill="none" stroke="#0a0f0f" stroke-width="4.9" stroke-linecap="butt" stroke-linejoin="round"/>
<path d="M1650.5 1095.0 L1659.0 1105.0 L1668.3 1116.6" fill="none" stroke="#0a0f0f" stroke-width="4.9" stroke-linecap="butt" stroke-linejoin="round"/>
<path d="M1675.6 1131.1 L1677.6 1157.0" fill="none" stroke="#0a0f0f" stroke-width="4.9" stroke-linecap="butt" stroke-linejoin="round"/>
<path d="M1676.6 1173.5 L1672.4 1187.0 L1666.8 1197.3" fill="none" stroke="#0a0f0f" stroke-width="4.9" stroke-linecap="butt" stroke-linejoin="round"/>
<path d="M1655.7 1209.7 L1633.0 1219.0" fill="none" stroke="#0a0f0f" stroke-width="4.9" stroke-linecap="butt" stroke-linejoin="round"/>
<path d="M1617.4 1225.7 L1586.9 1237.0" fill="none" stroke="#0a0f0f" stroke-width="4.9" stroke-linecap="butt" stroke-linejoin="round"/>
<path d="M1570.9 1240.1 L1545.0 1240.1" fill="none" stroke="#0a0f0f" stroke-width="4.9" stroke-linecap="butt" stroke-linejoin="round"/>
<path d="M1521.0 1207.0 L1524.0 1221.0 L1531.6 1232.4" fill="none" stroke="#0a0f0f" stroke-width="4.9" stroke-linecap="butt" stroke-linejoin="round"/>
<path d="M1517.1 1205.8 L1536.8 1206.1" fill="none" stroke="#0a0f0f" stroke-width="4.9" stroke-linecap="butt" stroke-linejoin="round"/>
<path d="M1521.8 1167.3 L1521.2 1187.0" fill="none" stroke="#0a0f0f" stroke-width="4.9" stroke-linecap="butt" stroke-linejoin="round"/>
<path d="M1522.8 1125.4 L1522.3 1150.2" fill="none" stroke="#0a0f0f" stroke-width="4.9" stroke-linecap="butt" stroke-linejoin="round"/>
<path d="M1529.5 1083.5 L1524.3 1108.3" fill="none" stroke="#0a0f0f" stroke-width="4.9" stroke-linecap="butt" stroke-linejoin="round"/>
<path d="M1629.9 1306.3 L1653.6 1295.5" fill="none" stroke="#0a0f0f" stroke-width="1.9" stroke-linecap="butt" stroke-linejoin="round"/>
<path d="M1595.7 1329.1 L1615.4 1312.5" fill="none" stroke="#0a0f0f" stroke-width="1.9" stroke-linecap="butt" stroke-linejoin="round"/>
<path d="M1583.3 1338.4 L1582.3 1345.1 L1588.5 1348.2 L1599.9 1351.3" fill="none" stroke="#0a0f0f" stroke-width="1.9" stroke-linecap="butt" stroke-linejoin="round"/>
<path d="M1615.4 1352.4 L1641.8 1354.4" fill="none" stroke="#0a0f0f" stroke-width="1.9" stroke-linecap="butt" stroke-linejoin="round"/>
<path d="M1668.3 1288.2 L1691.6 1277.4" fill="none" stroke="#0a0f0f" stroke-width="1.9" stroke-linecap="butt" stroke-linejoin="round"/>
<path d="M1706.6 1272.7 L1731.4 1268.1" fill="none" stroke="#0a0f0f" stroke-width="1.9" stroke-linecap="butt" stroke-linejoin="round"/>
<path d="M1744.9 1287.2 L1758.3 1300.7" fill="none" stroke="#0a0f0f" stroke-width="1.9" stroke-linecap="butt" stroke-linejoin="round"/>
<path d="M1770.7 1312.0 L1791.9 1325.5" fill="none" stroke="#0a0f0f" stroke-width="1.9" stroke-linecap="butt" stroke-linejoin="round"/>
<path d="M1803.8 1336.3 L1814.2 1342.0 L1827.6 1345.1" fill="none" stroke="#0a0f0f" stroke-width="1.9" stroke-linecap="butt" stroke-linejoin="round"/>
<path d="M1659.0 1353.4 L1674.5 1353.9 L1683.3 1356.5" fill="none" stroke="#0a0f0f" stroke-width="1.9" stroke-linecap="butt" stroke-linejoin="round"/>
<path d="M1697.3 1364.8 L1702.4 1368.9" fill="none" stroke="#0a0f0f" stroke-width="1.9" stroke-linecap="butt" stroke-linejoin="round"/>
<path d="M1841.0 1349.3 L1862.6 1351.3" fill="none" stroke="#0a0f0f" stroke-width="1.9" stroke-linecap="butt" stroke-linejoin="round"/>
<path d="M1837.4 1317.7 L1836.4 1324.4" fill="none" stroke="#0a0f0f" stroke-width="3.4" stroke-linecap="butt" stroke-linejoin="round"/>
<path d="M1835.4 1328.6 L1834.9 1332.2" fill="none" stroke="#0a0f0f" stroke-width="3.4" stroke-linecap="butt" stroke-linejoin="round"/>
<ellipse cx="1346.5" cy="1083.3" rx="64.5" ry="52.5" transform="rotate(-4 1346.5 1083.3)" fill="none" stroke="#0a0f0f" stroke-width="5" stroke-dasharray="2.6 7.75"/>
<path d="M1575.0 1069.0 C1581.0 1069.3 1589.1 1071.3 1595.2 1074.2 C1601.3 1077.1 1606.2 1082.5 1611.8 1086.6 C1617.4 1090.7 1623.4 1094.5 1628.8 1099.0 C1634.2 1103.5 1639.9 1108.2 1644.3 1113.5 C1648.7 1118.8 1652.7 1124.7 1655.2 1131.1 C1657.7 1137.5 1659.2 1144.7 1659.5 1152.0 C1659.8 1159.3 1658.8 1168.5 1657.0 1175.0 C1655.2 1181.5 1652.4 1186.3 1648.5 1191.1 C1644.6 1195.8 1639.3 1199.7 1633.5 1203.5 C1627.7 1207.3 1620.1 1210.8 1613.8 1213.9 C1607.5 1217.0 1602.0 1220.2 1595.7 1222.0 C1589.4 1223.8 1582.6 1224.3 1576.0 1225.0 C1569.4 1225.7 1561.8 1227.0 1556.0 1226.0 C1550.2 1225.0 1544.5 1223.3 1541.0 1219.0 C1537.5 1214.7 1536.1 1207.3 1535.0 1200.0 C1533.9 1192.7 1534.3 1182.7 1534.2 1175.0 C1534.1 1167.3 1534.1 1160.9 1534.2 1153.9 C1534.3 1146.9 1534.4 1140.2 1534.7 1133.2 C1535.0 1126.2 1535.2 1118.0 1536.2 1112.0 C1537.2 1106.0 1539.1 1101.9 1541.0 1097.0 C1542.9 1092.1 1544.6 1086.6 1547.6 1082.5 C1550.6 1078.4 1554.4 1074.8 1559.0 1072.5 C1563.6 1070.2 1569.0 1068.7 1575.0 1069.0Z" fill="none" stroke="#0a0f0f" stroke-width="5" stroke-dasharray="2.6 7.8"/>
<ellipse cx="1691" cy="1307.9" rx="26.4" ry="10.4" fill="none" stroke="#0a0f0f" stroke-width="2.2" stroke-dasharray="2.2 8.2"/>
<polygon points="1595.2,1144.3 1598.7,1154.7 1609.7,1154.8 1600.8,1161.3 1604.1,1171.8 1595.2,1165.4 1586.3,1171.8 1589.6,1161.3 1580.7,1154.8 1591.7,1154.7" fill="#f4e72a" stroke="#231f20" stroke-width="1.3" stroke-linejoin="miter"/>
</g>
<rect x="1044.0" y="762.0" width="820.0" height="611.0" fill="none" stroke="#231f20" stroke-width="2.2"/>
<line x1="1136.3" y1="1361.0" x2="1136.3" y2="1373.0" stroke="#231f20" stroke-width="1.8" stroke-linecap="butt"/>
<line x1="1271.7" y1="1361.0" x2="1271.7" y2="1373.0" stroke="#231f20" stroke-width="1.8" stroke-linecap="butt"/>
<line x1="1425.8" y1="1361.0" x2="1425.8" y2="1373.0" stroke="#231f20" stroke-width="1.8" stroke-linecap="butt"/>
<line x1="1550.1" y1="1361.0" x2="1550.1" y2="1373.0" stroke="#231f20" stroke-width="1.8" stroke-linecap="butt"/>
<line x1="1688.8" y1="1361.0" x2="1688.8" y2="1373.0" stroke="#231f20" stroke-width="1.8" stroke-linecap="butt"/>
<line x1="1829.0" y1="1361.0" x2="1829.0" y2="1373.0" stroke="#231f20" stroke-width="1.8" stroke-linecap="butt"/>
<text x="1137.5" y="1402.8" font-family='"Liberation Sans", sans-serif' font-size="28.2" fill="#231f20" text-anchor="middle" font-weight="normal" >60°W</text>
<text x="1271.5" y="1402.8" font-family='"Liberation Sans", sans-serif' font-size="28.2" fill="#231f20" text-anchor="middle" font-weight="normal" >30°W</text>
<text x="1431.0" y="1402.8" font-family='"Liberation Sans", sans-serif' font-size="28.2" fill="#231f20" text-anchor="middle" font-weight="normal" >0°</text>
<text x="1566.0" y="1402.8" font-family='"Liberation Sans", sans-serif' font-size="28.2" fill="#231f20" text-anchor="middle" font-weight="normal" >30°E</text>
<text x="1700.0" y="1402.8" font-family='"Liberation Sans", sans-serif' font-size="28.2" fill="#231f20" text-anchor="middle" font-weight="normal" >60°E</text>
<text x="1846.0" y="1402.8" font-family='"Liberation Sans", sans-serif' font-size="28.2" fill="#231f20" text-anchor="middle" font-weight="normal" >90°E</text>
<line x1="1044.0" y1="849.4" x2="1056.0" y2="849.4" stroke="#231f20" stroke-width="1.8" stroke-linecap="butt"/>
<text x="1037.5" y="858.9" font-family='"Liberation Sans", sans-serif' font-size="28.5" fill="#231f20" text-anchor="end" font-weight="normal" >75°N</text>
<line x1="1044.0" y1="1033.8" x2="1056.0" y2="1033.8" stroke="#231f20" stroke-width="1.8" stroke-linecap="butt"/>
<text x="1037.5" y="1043.3" font-family='"Liberation Sans", sans-serif' font-size="28.5" fill="#231f20" text-anchor="end" font-weight="normal" >60°N</text>
<line x1="1044.0" y1="1237.4" x2="1056.0" y2="1237.4" stroke="#231f20" stroke-width="1.8" stroke-linecap="butt"/>
<text x="1037.5" y="1246.9" font-family='"Liberation Sans", sans-serif' font-size="28.5" fill="#231f20" text-anchor="end" font-weight="normal" >30°N</text>
<rect x="1882.8" y="1346.72" width="37.600000000000136" height="26.08" fill="#2a5ca9"/>
<rect x="1882.8" y="1321.24" width="37.600000000000136" height="26.08" fill="#305daa"/>
<rect x="1882.8" y="1295.76" width="37.600000000000136" height="26.08" fill="#3b5fab"/>
<rect x="1882.8" y="1270.28" width="37.600000000000136" height="26.08" fill="#4562ab"/>
<rect x="1882.8" y="1244.80" width="37.600000000000136" height="26.08" fill="#4e66b0"/>
<rect x="1882.8" y="1219.33" width="37.600000000000136" height="26.08" fill="#6472b4"/>
<rect x="1882.8" y="1193.85" width="37.600000000000136" height="26.08" fill="#7d87c3"/>
<rect x="1882.8" y="1168.37" width="37.600000000000136" height="26.08" fill="#9599cb"/>
<rect x="1882.8" y="1142.89" width="37.600000000000136" height="26.08" fill="#adafd8"/>
<rect x="1882.8" y="1117.41" width="37.600000000000136" height="26.08" fill="#c7c8e3"/>
<rect x="1882.8" y="1091.93" width="37.600000000000136" height="26.08" fill="#e3e3f0"/>
<rect x="1882.8" y="1066.45" width="37.600000000000136" height="26.08" fill="#ffffff"/>
<rect x="1882.8" y="1040.97" width="37.600000000000136" height="26.08" fill="#ffffff"/>
<rect x="1882.8" y="1015.49" width="37.600000000000136" height="26.08" fill="#f9e4e0"/>
<rect x="1882.8" y="990.01" width="37.600000000000136" height="26.08" fill="#f5c8c7"/>
<rect x="1882.8" y="964.53" width="37.600000000000136" height="26.08" fill="#f3b0b0"/>
<rect x="1882.8" y="939.05" width="37.600000000000136" height="26.08" fill="#f29c9d"/>
<rect x="1882.8" y="913.58" width="37.600000000000136" height="26.08" fill="#f0888a"/>
<rect x="1882.8" y="888.10" width="37.600000000000136" height="26.08" fill="#ef777a"/>
<rect x="1882.8" y="862.62" width="37.600000000000136" height="26.08" fill="#ee6669"/>
<rect x="1882.8" y="837.14" width="37.600000000000136" height="26.08" fill="#ed5557"/>
<rect x="1882.8" y="811.66" width="37.600000000000136" height="26.08" fill="#eb4748"/>
<rect x="1882.8" y="786.18" width="37.600000000000136" height="26.08" fill="#ea3b3d"/>
<rect x="1882.8" y="760.70" width="37.600000000000136" height="26.08" fill="#e93033"/>
<rect x="1882.8" y="761.0" width="37.600000000000136" height="611.5" fill="none" stroke="#231f20" stroke-width="2"/>
<line x1="1913.4" y1="812.0" x2="1920.4" y2="812.0" stroke="#231f20" stroke-width="1.4" stroke-linecap="butt"/>
<text x="1933.0" y="819.3" font-family='"Liberation Sans", sans-serif' font-size="28.5" fill="#231f20" text-anchor="start" font-weight="normal" >100</text>
<line x1="1913.4" y1="939.4" x2="1920.4" y2="939.4" stroke="#231f20" stroke-width="1.4" stroke-linecap="butt"/>
<text x="1933.0" y="945.0" font-family='"Liberation Sans", sans-serif' font-size="28.5" fill="#231f20" text-anchor="start" font-weight="normal" >50</text>
<line x1="1913.4" y1="1066.8" x2="1920.4" y2="1066.8" stroke="#231f20" stroke-width="1.4" stroke-linecap="butt"/>
<text x="1933.0" y="1070.8" font-family='"Liberation Sans", sans-serif' font-size="28.5" fill="#231f20" text-anchor="start" font-weight="normal" >0</text>
<line x1="1913.4" y1="1194.1" x2="1920.4" y2="1194.1" stroke="#231f20" stroke-width="1.4" stroke-linecap="butt"/>
<text x="1933.0" y="1196.5" font-family='"Liberation Sans", sans-serif' font-size="28.5" fill="#231f20" text-anchor="start" font-weight="normal" >-50</text>
<line x1="1913.4" y1="1321.5" x2="1920.4" y2="1321.5" stroke="#231f20" stroke-width="1.4" stroke-linecap="butt"/>
<text x="1933.0" y="1322.3" font-family='"Liberation Sans", sans-serif' font-size="28.5" fill="#231f20" text-anchor="start" font-weight="normal" >-100</text>
<text transform="translate(1998.8,1062.0) rotate(-90)" font-family='"Liberation Sans", sans-serif' font-size="35" fill="#231f20" text-anchor="middle" font-weight="normal">ΔGPH</text>
<text x="1072.0" y="703.8" font-family='"Liberation Sans", sans-serif' font-size="39.8" fill="#231f20" text-anchor="start" font-weight="normal" >MRI-CGCM3 LGM-PI (DJF; 500 hPa)</text>
<text x="1009.0" y="706.0" font-family='"Liberation Sans", sans-serif' font-size="43" fill="#231f20" text-anchor="start" font-weight="bold" >f)</text>
</g>
</svg>
</body></html>
